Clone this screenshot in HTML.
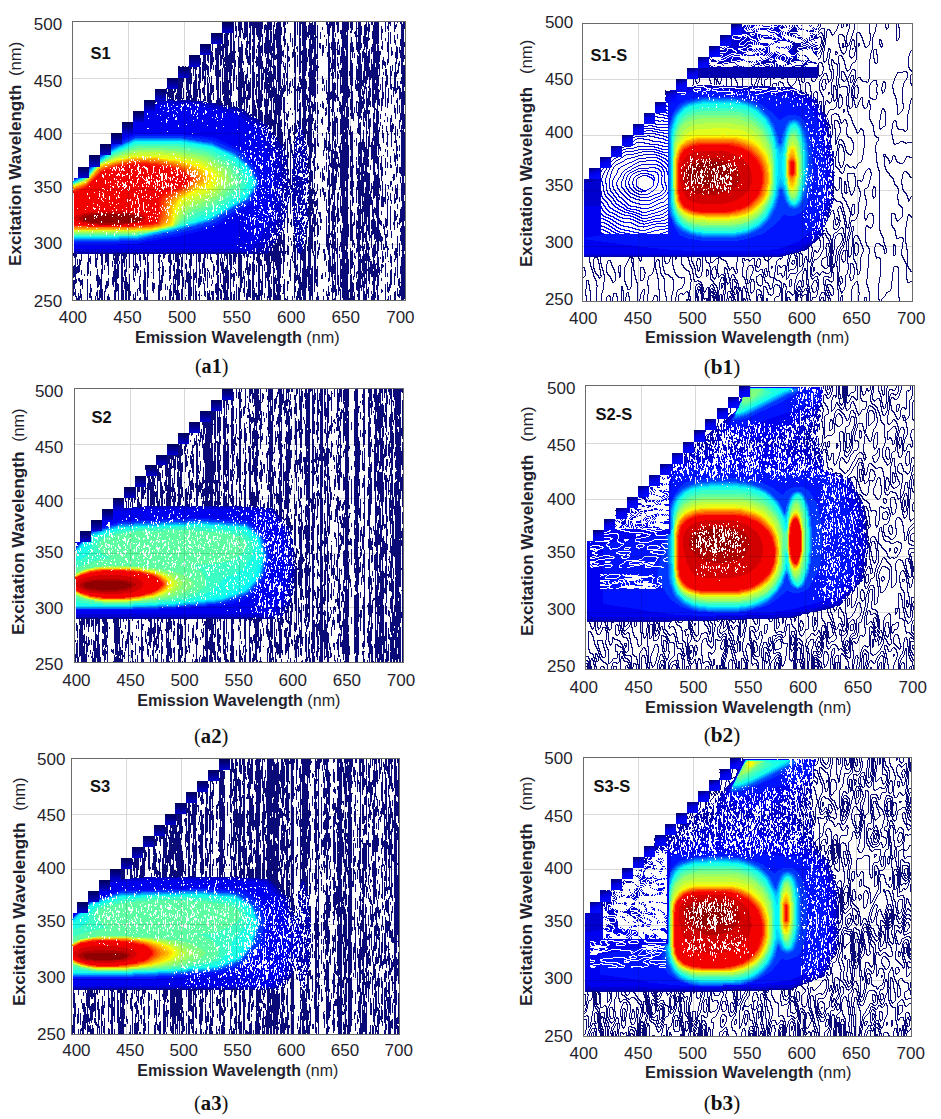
<!DOCTYPE html><html><head><meta charset="utf-8"><style>html,body{margin:0;padding:0;background:#fff;overflow:hidden}svg{display:block}text{font-family:"Liberation Sans", sans-serif;font-size:16px;fill:#1f1f2e}.lb{font-weight:bold;font-size:16.5px;fill:#111}.cp{font-family:"Liberation Serif", serif;font-size:20.5px;fill:#111}</style></head><body>
<svg width="941" height="1119" viewBox="0 0 941 1119" shape-rendering="crispEdges">
<rect width="941" height="1119" fill="#fff"/>
<defs><linearGradient id="boxg" x1="0" y1="0" x2="0.3" y2="1"><stop offset="0" stop-color="#00006a"/><stop offset=".55" stop-color="#0000e8"/><stop offset="1" stop-color="#0008ff"/></linearGradient><linearGradient id="boxa" x1="0" y1="0" x2="0" y2="1"><stop offset="0" stop-color="#00005a"/><stop offset=".5" stop-color="#000090"/><stop offset="1" stop-color="#0000d0"/></linearGradient></defs>
<svg x="73" y="22" width="332" height="278" viewBox="73 22 332 278" overflow="hidden">
<g fill-rule="evenodd">
<path fill="#0000af" d="M300.5 254.5l-2-1-2-4-1-8-1-1 0-5-1-1 0-8-1-1 0-14-1-1 0-17-1-1-1 1 0 4-1 1 0 4-1 1 0 4-1 1 0 4-1 1 0 4-1 1 0 4-1 1 0 4-1 1 0 2-14 23-195 0 0-77 60-70 8-2 1-1 2 0 1-1 3 0 1-1 2 0 4-2 3 0 1-1 11 0 1 1 19 0 1 1 11 0 1 1 4 0 1 1 9 1 1 1 4 0 1 1 4 0 1 1 9 1 1 1 2 0 4 2 7 5 3 1 5 4 8 4 2 2 4 7 2 2 0 1 3 3 0 1 7 10 0 4 1 1 0 7 1 1 0 7 1 1 0 7 1 1 0 7 1 1 1-1 0-17 1-1 0-14 1-1 0-8 1-1 0-5 1-1 1-8 2-4 2-1 3 5 1 8 1 1 0 5 1 1 0 8 1 1 0 14 1 1 0 41-1 1 0 14-1 1 0 8-1 1-1 10-1 1 0 3-3 5z"/>
<path fill="#0000d0" d="M251.5 251.5l-178 0 0-75 46.5-53 12.5-14 2-1.5 26-7 8-0.5 5 1 15 0 5 1 8 0.5 37 8 27 18 12.5 24.5 3 14 1 15-0.5 12-2.5 20-3 10-5 11-6.5 11.5-13 4.5z"/>
<path fill="#0000f1" d="M250.5 249l-177 0 0-71 20.5-22.5 0.5-1 8.5-9 0-1 9-9 0-1 8-8 0.5-1.5 8.5-8.5 0-1 4.5-4.5 2-1 11-2 1-1 3 0 1-1 3 0 1-1 3 0 1-1 11 0 1 1 19 0 1 1 11 0 1 1 3 0 1 1 4 0 1 1 3 0 1 1 4 0 1 1 3 0 1 1 4 0 1 1 6 1 9 7 1 0 3 2.5 1 0.5 3 2.5 1 0.5 3 2.5 1 0 3 3 12 37 0.5 10-1 2 0 18-1 2-0.5 10-11 27.5-1 2-9 8z"/>
<path fill="#0013ff" d="M119.5 243.5l-2 1-44 0 0-65 7-3.5 2-2 3-1 14-19.5 3-3 11-7.5 23-9.5 45 0 2 1 7 0.5 2 0.5 17 1.5 6 1 29 13.5 11.5 17 2.5 5 0.5 9-0.5 8-8 14-33 20.5-9 4-34 8-10 1-2 1-16 2.5-8 2-19 0z"/>
<path fill="#0034ff" d="M119.5 241.5l-3 0.5-43 0 0-62 12-6.5 14-17.5 8-6.5 7-4.5 20-8.5 3-0.5 43 0 3 0.5 24 3 7 1.5 23 10 5 3.5 9 10.5 4.5 8.5 2.5 9-2 7-5 9.5-4 4.5-31 18.5-6 3-38 9.5-34 6.5-19 0.5z"/>
<path fill="#0054ff" d="M118.5 240.5l-45 0 0-60.5 11-5 16-18.5 1 0 10-8 8-4 2 0 7-4 2 0 5-3 46 0 1 1 5 0 1 1 6 0 1 1 5 0 1 1 10 1 5 3 2 0 7 4 2 0 8 4 15 13 7.5 16-2.5 7-4 5-1 3-3 3-12 6-2 2-3 1-7 5-5 2-2 2-8 4-3 0-4 2-3 0-4 2-7 1-4 2-3 0-1 1-3 0-1 1-3 0-1 1-9 1-1 1-8 1-1 1-4 0-1 1-3 0-1 1-4 0-1 1-19 0-1 1z"/>
<path fill="#0075ff" d="M118.5 240l-45 0 0-59.5 11-5.5 14-16 10-8 11-6 2 0 14-7 46 0 1 1 5 0 1 1 6 0 1 1 5 0 1 1 10 1 14 7 4 1 6 3 3 3 1 0 10.5 9.5 7.5 16-2.5 7-4 5-1 3-2.5 2.5-5 2-2 2-5 2-12 8-5 2-2 2-8 4-3 0-4 2-3 0-4 2-7 1-4 2-3 0-1 1-3 0-5 2-9 1-5 2-4 0-1 1-8 1-1 1-4 0-1 1-19 0-1 1z"/>
<path fill="#0096ff" d="M118.5 239l-45 0 0-58 12-6 15-17 8-6 9-5 18-8 45 0 31 5 22 10 6 4 9.5 8.5 8 16-3 7-6.5 9.5-39 22-37 10-9 1.5-19 4.5-6 1-17 0-2 1z"/>
<path fill="#00b7ff" d="M119.5 238l-2 0.5-44 0 0-57 12.5-6 14.5-16.5 9-7 9-5 16-7 2-0.5 44 0 31 5.5 17 7 6 3 4.5 3.5 9.5 8.5 7.5 14.5 0 2-2 5-7 10-37.5 21.5-39 10.5-28 6-5 1-18 0.5z"/>
<path fill="#00d8ff" d="M117.5 237.5l-44 0 0-55 13-6.5 14.5-16.5 9.5-7 9-5 16-7 45 0 31 5 22 10 5.5 4 9 8 7.5 15-2 5-7 10.5-38 21.5-37 10-9 1.5-19 4.5-6 1-17 0-3 1z"/>
<path fill="#00f9ff" d="M118.5 237l-45 0 0-54.5 13-6 12-14 12-9.5 9-5 2 0 14-7 45 0 2 1 5 0 1 1 6 0 1 1 5 0 1 1 10 1 14 7 4 1 8 5 10.5 9.5 7 14-2 5-4 5-1 3-2.5 2.5-5 2-2 2-5 2-2 2-3 1-7 5-5 2-2 2-6 3-3 0-4 2-3 0-4 2-7 1-4 2-3 0-1 1-7 1.5-1 0.5-9 1.5-1 0.5-8 1.5-1 0.5-4 0.5-5 1.5-4 0-2 1-18 0-1 1z"/>
<path fill="#1bffe4" d="M118.5 236.5l-45 0.5 0-54 13-6 12-14 12-9.5 9-5 2 0 14-7 46 0 1 1 5 0 1 1 6 0 1 1 5 0 1 1 5 0 1 1 4 0 5 3 2 0 7 4 4 1.5 8 5 9 8.5 6 13 0.5 2-1.5 3-6 9.5-24 15-14 7-9 2.5-4 2-7 1-4 2-7 1.5-1 1-8 1-1 1-4 0-1 1-3 0-1 1-9 1-1 1-3 0-1 1-4 0-1 1-19 0-1 0.5z"/>
<path fill="#3cffc3" d="M118.5 236l-45 0 0-52.5 13-6 9.5-11 0.5-1 5-5 13-8 23-9 42 0.5 30 5.5 22 11 11 11 4.5 11-4.5 9-18 13-12.5 7-5.5 2.5-9 3-15 7.5-6 2-1 1-3 0-1 1-4 0-1 1-4 0.5-1 0.5-3 0-1 1-9 1-1 1-3 0-1 1-4 0-2 1-19 0.5z"/>
<path fill="#5dffa2" d="M118.5 234.5l-2 0.5-43 0 0-51.5 13.5-6 12.5-14.5 15-9 23-8.5 41 1 25 4.5 7 2.5 19 10 4 4 5.5 7 2 8-0.5 2-2.5 4-11.5 9.5-9 6-8 4-14 5.5-21 13.5-22 5-15 2.5-19 0z"/>
<path fill="#7eff81" d="M118.5 233.5l-45 0.5 0-50 8-3 6-3.5 12-14 12-7 10-4 17-4.5 21 0 19 1 24 5 6 1.5 18.5 11 3.5 4 4 7 1 5-1 2-14 13-13 7.5-15 5.5-4 3-14 13-23 5.5-15 1.5-18 0z"/>
<path fill="#9fff60" d="M136.5 232.5l-63 0.5 0-48.5 8-3 6-3.5 11-12.5 3-2.5 14-6.5 16-5 8-1.5 20 0 17 1.5 26 5 5 2 11 6.5 4 2.5 3 3 2.5 5 1.5 6-8.5 10-3.5 3.5-5 3-23 10-5 4.5-10 13-4 1.5-19 4-15 1.5z"/>
<path fill="#c0ff3f" d="M137.5 231.5l-64 0.5 0-46.5 14-6.5 12.5-14.5 15.5-7 16-4 8-1.5 19 0 17 1.5 26 6 5 2 11 7 4.5 4 1.5 4 0 4-8 11-7 4.5-14 5.5-8 4-5.5 6-7.5 14-22 5-14 1z"/>
<path fill="#e1ff1e" d="M141.5 230.5l-68 0.5 0-45.5 13-5 14-16 16-6 9-1.5 7-2 26-0.5 3 0.5 14 1 24 6 8 3.5 8 5.5 2.5 2.5 1 3-1 4-6 9-5.5 3-14 5.5-8.5 4.5-6 9-3 9-2.5 5-6 1-1 1-3 0-1 0.5-4 0.5-1 1-3 0-1 0.5-11 0.5z"/>
<path fill="#fffc00" d="M152.5 230l-79 0 0-44 13-5 9.5-10.5 0-1 6.5-5.5 6-1 4-2 3-0.5 1-1 10-1 1-1 4 0 1-1 26 0 1 1 7 0 1 1 7 0 1 1 4 0 1 1 7 1 4 2 7 1 4.5 2 10.5 7 1.5 2-5.5 11-14 5.5-14 7.5-6 10 0 4-1 1-0.5 6-1 1-0.5 3.5-6 1-1 1-3 0-1 1-8 1-1 1z"/>
<path fill="#ffdb00" d="M152.5 229.5l-79 0.5 0-43.5 13-5.5 9.5-10.5 0.5-1 4-4 2-1 6-1.5 1-0.5 6-1.5 1-1 10-1 1-1 4 0 1-1 26 0.5 1 1 7 0 1 1 7 0 1 1 8 1 1 1 3 0 4 2 7 2 13 9-3.5 9-19.5 9-2 2-5 2-2 2-5.5 10-1 10-1.5 5-2 1-3 0-1 1-3 0-1 1-8 1-1 1z"/>
<path fill="#ffba00" d="M152.5 228.5l-18 1-61 0 0-42.5 9-3 4-2.5 11-12.5 6-4 14-4 16-3 24 0.5 10 2 6 0 13 3.5 11 4.5 3.5 2 6.5 6-2 6-27 15.5-6 9.5-1.5 11-1.5 4-9 4.5-8 1.5z"/>
<path fill="#ff9900" d="M136.5 228.5l-63 0 0-41 10-3.5 4-2 10.5-12.5 5.5-3.5 14-4 16-3 23 0.5 21 3.5 8 2.5 11 5 6 5 1.5 3-1 2-14.5 10.5-11 5.5-6 7-1.5 4-1.5 11-1 3-8 5-8 1.5-15 0.5z"/>
<path fill="#ff7800" d="M144.5 227.5l-10 0.5-61-0.5 0-39 10-3.5 4-2.5 11-12.5 5-3 11.5-3.5 18.5-3.5 23 0.5 16 2.5 13 4 10 5.5 3 3 2 3-11 10-13 7-7 6.5-1.5 4.5-1.5 12-3 4-4 3-8 1.5-7 0.5z"/>
<path fill="#ff5700" d="M134.5 227.5l-61-0.5 0-37.5 12.5-5 4.5-4 1-2 8-8 4-2.5 12-4 19-3.5 22 1.5 16 2.5 12.5 4 10.5 7 1 2 0 1-8 9-5 3-7 3-9 7-1 2-2 14-5 8-9 2-16 1z"/>
<path fill="#ff3600" d="M135.5 226.5l-48 0.5-2-1-12 0 0-35.5 13-5.5 13-13.5 4-2.5 13-4 18-3.5 22 1.5 16 3 12 4 8.5 6.5 0.5 1-0.5 2-6.5 8-13.5 6-6.5 4-1.5 2-1 2-2 14-3 8-6.5 1.5-17 1.5z"/>
<path fill="#ff1500" d="M134.5 226.5l-47 0-1-1-13 0 0-34 13-5 14-15 4-2 5-1 3-2 3 0 1-1 10-1 1-1 4 0 1-1 17 1 2 0.5 6 0.5 14 2.5 12 4 7 6.5 0 2-5 7-18 7.5-3 2-2 2.5-1 3-0.5 9-2.5 12-1 1-4 0-1 1-17 1-1 1z"/>
<path fill="#f30000" d="M134.5 225.5l-47 0-1-0.5-13-0.5 0-32 13-5 14-15 4-2 5-1 3-2 3 0 1-1 10-1 1-1 4 0 1-1 7 0 1 1 9 0 1 1 7 0 1 1 4 0 1 1 8 1 1 1 2 0 1 1 2 0 1 1 4 1 6.5 6-4.5 7-4 1-1 1-2 0-1 1-2 0-1 1-2 0.5-9.5 4.5 0 1-3 4 0 11-1 1-0.5 11-4 0-1 1-8 0-1 1-8 0.5-1 0.5z"/>
<path fill="#d20000" d="M122.5 225l-25 0-1-0.5-8-0.5-1-1-5 0-4-2-2 0-2.5-2.5 0-1 2.5-2.5 2 0 4-2 5-0.5 1-1 8 0 1-1 25 0 1 1 8 0 1 1 5 0 1 1 5 1.5 2.5 2.5 0 1-2.5 2.5-5 1.5-1 0.5-5 0.5-1 0.5-8 0.5-1 0.5z"/>
<path fill="#b10000" d="M127.5 223.5l-4 0.5-1 0.5-25 0-2-1-6 0-6-1.5-3-2-1.5-1.5 0-1 4.5-3 15-2 23 0 9 1 9 1.5 3 1.5 1 2-3 3-3 1-10 1z"/>
<path fill="#900000" d="M126.5 223l-28 0.5-2-1-6 0-4-1-3-1-1-2 0.5-1 2.5-1.5 13-2 28 0 11 2 3 1.5 0.5 1-1.5 2-2 1-11 1.5z"/>
</g>
<path stroke="#0a0a78" stroke-width="1" fill="none" d="M73.5 28v64m0 12v6m0 2v65m0 76v3m0 10v12m0 2v16M74.5 22v15m0 5v134m0 77v5m0 7v12m0 3v9m0 3v3M75.5 22v27m0 19v14m0 6v17m0 3v15m0 7v45m0 78v31m0 5v8M76.5 22v34m0 10v16m0 2v31m0 8v41m0 3v7m0 79v4m0 10v7m0 5v4m0 13v4M77.5 30v7m0 7v6m0 4v4m0 3v6m0 9v11m0 4v27m0 2v7m0 14v2m0 9v20m0 87v6m0 1v7m0 25v2M78.5 27v8m0 8v7m0 5v10m0 13v11m0 5v8m0 1v10m0 14v12m0 5v11m0 110v8m0 5v3m0 12v7M79.5 22v12m0 7v7m0 9v12m0 3v22m0 25v1m0 7v4m0 29v9m0 90v13m0 6v4m0 14v4M80.5 41v9m0 6v7m0 14v41m0 10v12m0 5v12m0 103v5m0 15v6m0 3v9M81.5 42v8m0 5v12m0 7v12m0 10v34m0 9v9m0 15v5m0 85v8m0 9v5m0 5v5m0 9v6M82.5 43v14m0 7v5m0 13v3m0 13v3m0 9v7m0 162v10M83.5 50v2m0 30v6m0 76v1M84.5 53v10m0 6v6m0 48v11m0 13v6m0 4v7m0 110v2M85.5 92v19m0 21v5M86.5 29v2m0 10v21m0 18v3m0 8v20m0 30v10m0 4v3m0 1v3M87.5 22v18m0 4v114m0 104v14m0 3v21M88.5 52v32m0 14v3m0 20v8m0 4v8m0 12v7m0 94v20M89.5 52v2m0 12v9m0 22v2m0 41v2m0 12v4m0 100v4m0 31v5M90.5 22v10m0 4v40m0 4v58m0 8v11m0 99v8m0 7v5m0 8v14M91.5 22v2m0 13v24m0 3v8m0 6v14m0 12v10m0 4v8m0 5v4m0 7v14m0 132v4m0 4v4M92.5 22v7m0 3v13m0 7v17m0 22v7M93.5 22v2M94.5 22v3m0 42v5m0 80v1M95.5 27v16m0 15v16m0 6v30m0 10v31m0 102v14m0 29v4M96.5 28v11m0 18v1m0 24v15m0 4v17m0 2v5m0 13v12m0 108v10m0 7v6m0 11v4M97.5 22v3m0 16v8m0 11v3m0 7v7m0 28v28m0 120v7m0 9v19m0 2v10M98.5 38v6m0 26v3m0 23v12m0 17v10m0 3v1m0 136v12m0 11v2M99.5 22v4m0 21v3m0 6v12m0 1v6m0 11v21m0 5v2m0 19v7m0 137v8m0 5v10M100.5 22v9m0 6v42m0 6v29m0 6v7m0 12v6m0 108v3m0 23v19M101.5 25v119m0 109v12m0 4v31M102.5 25v12m0 6v30m0 6v29m0 2v6m0 5v15m0 117v21m0 15v11M103.5 66v1m0 35v4m0 12v8M104.5 57v15m0 18v2m0 3v31m0 9v6m0 124v5m0 21v9M105.5 22v5m0 7v5m0 17v7m0 11v27m0 5v10m0 2v8m0 127v10m0 22v7M106.5 69v45m0 139v9m0 19v8M107.5 54v5m0 9v42m0 15v3m0 125v13m0 15v7m0 8v4M108.5 33v4m0 3v10m0 7v33m0 1v36m0 6v3m0 117v22m0 3v8m0 8v6M109.5 48v4m0 14v20m0 47v2m0 162v3M110.5 35v1m0 32v4M111.5 22v2m0 54v4m0 26v14M112.5 22v12m0 9v4m0 10v1m0 20v1m0 26v1m0 5v12m0 138v6m0 10v8M113.5 22v79m0 5v17m0 130v7m0 11v16M114.5 22v99m0 132v3m0 2v6m0 1v17m0 8v10M115.5 22v84m0 4v18m0 125v47M116.5 22v31m0 4v70m0 126v11m0 5v23M117.5 22v31m0 5v68m0 127v26m0 4v8M118.5 22v37m0 6v23m0 10v27m0 128v8m0 3v14m0 6v16M119.5 34v24m0 8v4m0 26v3m0 154v3m0 5v3M120.5 22v4m0 4v28m0 5v23m0 5v8m0 6v3m0 2v1m0 9v2M121.5 22v99m0 132v47M122.5 22v82m0 8v8m0 133v3m0 3v41M123.5 22v9m0 3v26m0 3v6m0 3v36m0 2v9m0 134v10m0 14v5m0 8v10M124.5 28v11m0 3v13m0 4v59m0 135v14m0 3v6m0 5v8M125.5 22v2m0 4v24m0 8v2m0 2v52m0 137v6m0 10v31M126.5 22v93m0 138v4m0 2v13m0 5v23M127.5 44v11m0 16v7m0 1v20m0 5v9m0 169v9M128.5 22v8m0 15v8m0 4v5m0 7v6m0 5v31m0 1v1m0 171v16M129.5 22v11m0 4v20m0 5v37m0 3v10m0 141v15m0 6v26M130.5 49v4m0 10v5m0 8v5m0 4v2m0 204v5M131.5 36v5m0 4v3m0 20v2M132.5 22v4m0 27v6m0 194v1M133.5 22v5m0 2v9m0 3v17m0 6v17m0 1v25m0 146v14m0 2v11m0 14v6M134.5 25v6m0 20v3m0 15v16m0 6v15m0 147v2m0 11v5m0 7v4m0 16v2M135.5 24v14m0 7v32m0 14v7m0 155v23m0 16v8M136.5 22v2m0 9v2m0 9v6m0 11v9m0 7v7m0 7v10m0 162v5M137.5 29v9m0 23v10m0 21v8m0 153v2m0 9v9m0 16v7M138.5 50v2m0 17v2m0 8v4m0 183v4m0 18v1M139.5 22v36m0 5v19m0 10v13m0 148v8m0 15v15m0 7v2M140.5 22v21m0 2v28m0 6v10m0 4v2m0 5v5m0 150v12m0 3v7m0 7v9m0 4v3M141.5 45v4M142.5 33v2m0 17v3m0 26v6m0 15v1M143.5 27v4m0 4v69m0 149v7m0 20v14M144.5 22v59m0 4v15m0 2v2m0 149v7m0 8v32M145.5 22v40m0 8v17m0 5v3m0 162v8m0 7v28M146.5 22v5m0 18v9m0 5v9m0 30v5m0 194v3M147.5 22v70m0 3v8m0 151v33m0 3v10M148.5 49v28m0 12v4m0 160v3m0 6v16M149.5 32v3m0 26v10M150.5 59v5m0 33v1M151.5 22v25m0 15v3m0 5v2m0 26v4m0 170v1M152.5 22v5m0 7v21m0 9v7m0 5v24m0 182v9M153.5 22v8m0 3v67m0 153v26m0 4v10M154.5 44v6m0 10v5m0 20v2m0 196v6M155.5 84v4M157.5 22v8m0 9v12m0 10v5m0 15v4m0 7v3M158.5 22v52m0 11v15m0 155v8m0 5v3m0 14v15M159.5 22v77m0 154v47M160.5 25v7m0 2v18m0 9v13m0 9v16m0 156v2m0 10v1m0 12v11M161.5 46v10m0 38v5m0 161v2m0 13v15M162.5 25v9m0 13v15m0 20v17m0 163v21m0 14v3M163.5 22v9m0 8v10m0 9v10m0 11v20m0 154v6m0 7v10M164.5 42v13m0 5v7m0 186v5M165.5 22v10m0 9v24m0 5v29m0 154v2m0 15v2m0 12v6m0 6v4M166.5 30v5m0 32v9m0 12v6M167.5 29v15m0 30v3m0 15v7m0 187v4M168.5 79v18m0 158v7M169.5 22v5m0 13v9m0 5v11m0 4v30m0 154v10m0 3v8m0 1v6m0 8v11M170.5 22v8m0 2v67m0 154v26m0 6v15M171.5 22v7m0 4v6m0 7v12m0 12v30m0 160v5m0 18v2m0 6v5M172.5 63v6m0 6v5m0 4v16m0 197v3M173.5 22v61m0 8v9m0 153v7m0 5v6m0 5v24M174.5 22v8m0 3v9m0 9v20m0 12v10m0 170v16m0 5v9M175.5 25v8m0 5v16m0 4v7m0 6v21m0 3v5m0 153v9m0 12v21M176.5 22v65m0 6v7m0 153v9m0 7v11m0 10v10M177.5 22v78m0 153v47M178.5 25v45m0 2v28m0 153v33m0 4v10M179.5 22v78m0 153v2m0 4v7m0 3v16m0 8v7M180.5 22v5m0 12v7m0 4v2m0 4v6m0 10v28m0 153v4m0 13v3M181.5 22v18m0 15v9m0 7v28m0 158v19m0 13v11M182.5 22v66m0 10v2m0 153v14m0 3v30M183.5 29v9m0 24v20m0 6v11m0 178v10M185.5 32v6m0 3v29m0 193v6m0 11v9m0 8v3M186.5 22v11m0 15v4m0 8v6m0 6v18m0 2v8m0 153v7m0 4v18m0 13v1M187.5 35v8m0 17v6m0 4v23m0 3v4m0 153v1m0 18v11M188.5 25v8m0 1v15m0 12v8m0 7v24m0 153v2m0 16v29M189.5 23v35m0 5v21m0 6v10m0 153v2m0 4v9m0 5v27M190.5 26v72m0 155v47M191.5 22v11m0 12v24m0 4v11m0 11v6m0 152v13m0 10v3m0 8v9M192.5 44v13m0 41v3M193.5 28v18m0 1v29m0 6v19m0 152v3m0 13v31M194.5 29v10m0 4v4m0 8v4m0 1v9m0 11v21m0 172v7M195.5 22v6m0 3v5m0 9v56m0 152v1m0 18v6m0 7v15M196.5 22v48m0 4v27m0 152v30m0 8v9M197.5 89v8M198.5 22v9m0 7v5m0 31v4m0 3v9m0 9v2m0 153v8m0 16v10m0 6v2M199.5 22v33m0 4v39m0 155v34m0 4v9M200.5 22v22m0 14v7m0 2v16m0 6v12m0 152v9m0 7v5m0 2v9M201.5 43v7m0 226v6m0 13v1M202.5 49v5m0 8v19m0 7v5m0 170v11M203.5 22v11m0 3v12m0 6v25m0 8v8m0 4v3m0 156v10m0 10v6M204.5 22v2m0 6v41m0 5v26m0 151v24m0 6v13M205.5 22v1m0 1v61m0 11v6m0 151v5m0 10v13m0 10v6M206.5 29v3m0 7v4m0 21v6M207.5 26v10m0 6v19m0 4v10m0 2v25m0 151v6m0 9v3m0 1v16m0 3v9M208.5 22v17m0 8v16m0 3v11m0 6v20m0 167v2m0 21v7M209.5 77v6m0 10v10m0 169v6m0 12v10M210.5 22v50m0 11v20m0 150v7m0 37v3M211.5 38v1m0 12v18m0 7v19m0 5v3m0 154v5m0 13v4m0 5v2m0 5v4M212.5 27v24m0 1v13m0 20v8m0 168v2m0 17v4m0 7v9M213.5 57v5m0 3v5m0 15v7m0 1v7m0 164v13m0 14v9M214.5 266v5M215.5 22v20m0 6v12m0 5v11m0 27v1m0 180v9M216.5 22v20m0 6v42m0 10v4m0 149v2m0 5v5m0 6v4m0 8v12m0 2v3M217.5 22v82m0 149v47M218.5 22v83m0 148v20m0 2v25M219.5 22v7m0 7v19m0 15v7m0 21v7m0 183v3M220.5 27v39m0 3v8m0 4v24m0 153v8m0 7v10m0 6v10M221.5 22v18m0 6v5m0 4v10m0 36v4m0 148v5m0 4v9m0 13v3m0 3v10M222.5 33v26m0 9v27m0 8v2m0 148v1m0 4v16m0 11v4M223.5 44v13m0 1v10m0 14v12m0 2v5m0 161v31m0 5v2M224.5 34v14m0 9v5m0 2v42m0 147v8m0 8v4m0 3v24M225.5 22v3m0 6v35m0 1v39m0 147v3m0 11v33M226.5 22v84m0 147v6m0 6v18m0 7v10M227.5 22v84m0 147v47M228.5 22v13m0 5v6m0 9v17m0 8v27m0 146v1m0 16v19m0 8v3M229.5 22v9m0 22v30m0 7v5m0 3v9m0 146v12M230.5 22v85m0 146v47M231.5 22v6m0 5v43m0 7v13m0 6v5m0 148v15m0 3v6m0 13v8M232.5 51v12m0 2v4m0 205v3M233.5 22v41m0 6v22m0 11v6m0 145v12m0 2v1m0 5v14m0 7v6M234.5 41v40m0 25v2m0 145v9m0 6v1m0 4v8m0 10v9M235.5 22v9m0 4v3m0 13v2m0 7v7m0 186v11m0 5v4M236.5 26v11m0 38v14m0 12v7m0 145v4m0 15v4m0 8v16M237.5 56v1m0 30v3m0 17v1M238.5 22v9m0 5v16m0 5v50m0 147v24m0 9v13M239.5 22v15m0 10v21m0 4v37m0 144v23m0 12v12M240.5 22v16m0 9v62m0 144v39M241.5 22v8m0 11v69m0 145v33M242.5 28v5m0 11v19m0 5v20m0 9v8m0 172v6M243.5 33v6m0 22v4m0 7v31m0 6v2m0 142v3m0 15v8m0 9v5M244.5 22v18m0 31v1m0 9v30m0 142v5m0 18v21M245.5 22v16m0 10v7m0 20v9m0 7v8m0 169v5M246.5 22v15m0 4v18m0 15v17m0 6v16m0 140v4m0 4v9m0 11v6m0 6v7M247.5 22v26m0 2v13m0 4v11m0 6v7m0 4v13m0 145v22m0 14v11M248.5 41v3m0 12v9m0 15v20m0 12v2m0 140v3m0 10v30M249.5 22v6m0 5v32m0 17v18m0 5v8m0 150v12m0 4v18M250.5 22v28m0 3v21m0 4v20m0 16v1m0 141v2m0 6v7m0 9v18M251.5 22v4m0 88v2M252.5 22v13m0 4v3m0 4v16m0 3v51m0 146v38M253.5 22v95m0 136v36m0 1v10M254.5 22v37m0 13v16m0 12v17m0 136v7m0 4v11m0 13v12M255.5 22v6m0 33v2m0 26v6m0 10v13m0 175v4M256.5 22v13m0 14v4m0 3v11m0 7v29m0 6v10m0 138v4m0 4v7m0 10v5m0 6v7M257.5 22v15m0 8v3m0 9v9m0 8v3m0 4v6m0 12v9m0 145v10m0 32v5M258.5 22v18m0 2v78m0 133v47M259.5 22v99m0 132v47M260.5 22v20m0 4v23m0 21v18m0 2v11m0 132v2m0 4v7m0 13v4m0 7v6M261.5 22v15m0 8v8m0 3v51m0 3v11m0 139v6m0 15v19M262.5 22v7m0 5v22m0 5v8m0 4v17m0 4v7m0 11v10m0 131v4m0 8v30M263.5 67v13M264.5 25v8m0 10v10m0 16v4m0 9v11m0 5v9m0 8v9m0 129v8m0 3v7m0 22v5M265.5 24v6m0 7v20m0 10v22m0 10v25m0 129v8m0 11v16M266.5 25v29m0 4v67m0 129v11m0 7v6M267.5 22v42m0 4v7m0 2v16m0 6v26m0 128v28m0 15v4M268.5 22v49m0 1v11m0 1v22m0 8v12m0 127v45M269.5 22v8m0 10v13m0 6v8m0 4v27m0 12v18m0 123v26m0 3v20M270.5 22v33m0 5v28m0 2v11m0 9v19m0 120v7m0 6v12m0 13v13M271.5 22v8m0 1v12m0 3v21m0 4v60m0 117v15m0 13v8m0 5v8M272.5 43v8m0 2v5m0 8v2m0 6v8m0 5v11m0 21v7m0 120v2m0 3v10m0 6v1M273.5 25v72m0 1v15m0 7v14m0 110v56M274.5 22v5m0 7v26m0 5v14m0 7v17m0 7v25m0 110v17m0 6v5m0 4v23M275.5 29v11m0 15v5m0 6v14m0 8v49m0 104v25m0 9v9m0 9v7M276.5 23v25m0 6v5m0 21v44m0 13v1m0 105v27m0 8v14m0 3v5M277.5 22v60m0 12v21m0 8v16m0 99v43m0 3v16M278.5 22v119m0 95v64M279.5 22v69m0 4v47m0 93v11m0 5v49M280.5 22v67m0 1v26m0 4v24m0 89v45m0 6v8m0 3v5M281.5 27v8m0 10v19m0 22v24m0 9v8m0 2v16m0 86v13m0 4v5m0 5v6m0 22v1M282.5 51v5m0 5v1m0 17v6m0 3v9m0 35v15m0 81v2m0 10v7m0 4v5m0 20v2m0 15v1M283.5 22v5m0 9v5m0 9v7m0 5v5m0 6v5m0 7v9m0 3v16m0 31v2m0 84v44m0 10v10M284.5 22v25m0 19v4m0 3v19m0 5v39m0 6v8m0 68v10m0 6v28m0 17v21M285.5 22v3m0 3v5m0 6v6m0 10v3m0 5v10m0 12v6m0 21v1m0 9v4m0 13v13m0 99v3m0 44v2M286.5 73v5m0 3v4m0 28v7m0 131v1m0 47v1M287.5 22v2m0 19v53m0 7v1m0 10v7m0 2v6m0 9v33m0 35v27m0 12v10m0 7v4m0 15v10m0 5v4M288.5 46v5m0 5v6m0 27v2m0 20v6m0 12v11m0 12v6m0 11v10m0 39v5m0 13v6m0 4v9m0 26v3M289.5 57v4m0 3v3m0 16v11m0 35v15m0 35v7m0 84v7M290.5 33v9m0 39v6m0 21v2m0 17v6m0 3v51m0 5v22m0 8v3m0 13v2m0 19v22M291.5 91v2m0 51v9m0 32v2m0 32v8m0 14v5m0 10v2M292.5 38v9m0 5v6m0 21v7m0 27v2m0 10v6m0 19v8m0 94v9m0 35v4M293.5 49v8m0 29v2m0 44v3m0 6v2m0 90v9m0 2v8m0 9v2M294.5 22v51m0 4v33m0 13v22m0 90v33m0 5v25M295.5 22v24m0 6v87m0 106v38m0 3v6M296.5 47v2m0 40v2m0 34v6m0 134v6m0 4v6m0 15v4M297.5 22v13m0 11v6m0 3v12m0 19v26m0 8v4m0 126v10m0 4v16m0 11v9M298.5 83v8m0 18v2m0 10v6m0 148v9m0 4v10M299.5 22v53m0 1v6m0 5v13m0 3v23m0 147v27M300.5 22v14m0 2v35m0 3v9m0 2v6m0 9v24m0 128v19m0 4v23M301.5 22v2m0 27v4m0 6v2m0 16v10m0 38v1m0 124v8m0 22v8m0 7v3M302.5 22v24m0 4v57m0 11v12m0 120v11m0 7v28M303.5 22v112m0 112v54M304.5 22v117m0 102v59M305.5 22v54m0 3v66m0 90v65M306.5 26v14m0 8v23m0 10v8m0 5v6m0 6v5m0 8v7m0 3v5m0 14v6m0 72v18m0 25v19M307.5 32v5m0 20v5m0 33v11m0 12v4m0 9v14m0 17v7m0 42v3m0 9v5m0 18v5m0 15v11M308.5 25v13m0 11v8m0 15v5m0 10v4m0 7v5m0 2v7m0 3v32m0 9v32m0 9v24m0 16v54M309.5 22v13m0 4v27m0 2v101m0 3v113m0 1v14M310.5 23v79m0 4v80m0 1v83m0 4v26M311.5 23v17m0 4v51m0 6v7m0 6v44m0 12v12m0 7v22m0 1v4m0 9v24m0 19v28M312.5 22v31m0 6v6m0 5v27m0 5v22m0 5v1m0 13v9m0 9v2m0 8v25m0 3v15m0 4v35m0 13v34M313.5 25v24m0 8v39m0 8v8m0 6v3m0 10v7m0 6v3m0 11v8m0 22v6m0 5v5m0 4v16m0 3v5m0 19v5M314.5 22v13m0 2v74m0 12v7m0 8v16m0 2v23m0 4v5m0 2v10m0 1v6m0 7v23m0 4v10m0 4v37M315.5 22v55m0 2v19m0 4v12m0 6v11m0 7v20m0 9v4m0 21v4m0 5v6m0 7v12m0 9v1m0 5v42M316.5 36v2m0 16v5m0 6v6m0 56v1m0 63v3m0 6v6m0 3v5m0 8v3m0 44v8m0 2v7m0 11v3M317.5 25v34m0 1v21m0 3v10m0 8v22m0 1v8m0 1v12m0 17v7m0 14v7m0 7v12m0 8v19m0 3v4m0 7v8m0 7v21m0 5v8M318.5 66v2m0 42v4m0 29v4m0 19v3m0 43v2m0 11v10m0 12v8m0 41v4M319.5 43v5m0 164v5m0 26v7M320.5 32v7m0 4v6m0 55v3m0 65v6m0 11v8m0 15v11m0 3v4M321.5 119v4m0 96v4m0 52v4M322.5 27v3m0 15v11m0 20v8m0 4v3m0 10v7m0 9v8m0 8v3m0 32v14m0 5v5m0 81v6M323.5 45v8m0 26v5m0 19v6m0 41v6m0 17v7m0 8v7m0 54v4m0 36v3m0 4v4M324.5 35v2m0 48v6m0 47v13m0 15v4m0 6v5m0 11v9m0 48v12M325.5 47v1m0 60v3m0 1v4m0 24v8m0 44v5m0 57v6m0 12v5M326.5 22v3m0 14v7m0 34v14m0 4v2m0 7v8m0 17v19m0 2v7m0 2v10m0 27v12m0 5v31m0 14v5m0 25v5M327.5 22v12m0 18v5m0 35v12m0 23v3m0 17v3m0 28v9m0 23v3m0 21v16m0 44v6M328.5 24v110m0 7v18m0 6v20m0 5v16m0 2v15m0 2v30m0 5v12m0 6v4m0 4v10m0 1v3M329.5 22v14m0 7v89m0 1v19m0 4v10m0 4v68m0 5v38m0 11v4M330.5 22v6m0 19v1m0 9v6m0 5v4m0 20v8m0 7v1m0 14v4m0 18v7m0 12v4m0 17v3m0 11v7m0 28v2m0 5v5m0 11v16m0 13v1M331.5 22v4m0 16v8m0 13v6m0 4v3m0 15v8m0 10v3m0 38v18m0 5v13m0 8v5m0 12v10m0 10v6m0 7v4m0 18v11m0 11v4M332.5 22v94m0 2v82m0 5v95M333.5 22v33m0 4v10m0 3v7m0 4v29m0 9v20m0 8v5m0 4v37m0 7v28m0 4v15m0 4v6m0 5v10m0 7v12m0 6v1M334.5 22v10m0 6v34m0 10v19m0 11v24m0 5v7m0 3v18m0 7v46m0 3v14m0 2v33m0 1v5m0 5v7m0 6v2M335.5 33v4m0 5v36m0 5v7m0 3v9m0 15v20m0 2v32m0 3v16m0 16v4m0 6v11m0 5v19m0 11v38M336.5 22v3m0 24v1m0 45v3m0 18v7m0 21v3m0 4v8m0 3v21m0 30v4m0 31v6m0 35v7M337.5 22v11m0 9v13m0 2v9m0 5v30m0 7v4m0 6v26m0 8v7m0 5v8m0 21v31m0 3v6m0 5v47M338.5 22v10m0 7v5m0 6v5m0 8v6m0 5v5m0 18v4m0 45v2m0 9v10m0 5v5m0 15v8m0 8v14m0 53v20M339.5 45v10m0 15v3m0 28v5m0 1v5m0 34v7m0 10v5m0 19v3m0 28v3m0 25v5m0 3v4m0 29v4M340.5 30v4m0 22v9m0 5v24m0 8v12m0 5v16m0 8v45m0 8v17m0 12v8m0 9v5m0 12v28m0 2v11M341.5 30v9m0 8v16m0 5v9m0 8v8m0 12v29m0 2v8m0 6v46m0 10v10m0 15v21m0 7v7m0 3v10m0 3v6M342.5 22v71m0 3v127m0 5v70M343.5 22v89m0 4v185M344.5 22v26m0 3v79m0 2v168M345.5 22v28m0 6v51m0 10v22m0 3v39m0 6v4m0 6v49m0 4v9m0 4v37M346.5 22v10m0 3v68m0 3v194M347.5 22v106m0 2v119m0 3v48M348.5 22v8m0 56v12m0 9v10m0 2v11m0 15v23m0 6v5m0 28v2m0 15v13m0 22v15m0 16v10M349.5 71v5m0 13v8m0 33v5m0 154v3m0 6v2M350.5 22v6m0 3v2m0 10v42m0 7v1m0 6v11m0 3v3m0 10v24m0 6v21m0 4v8m0 2v4m0 5v41m0 7v26m0 1v25M351.5 22v11m0 4v15m0 8v59m0 13v30m0 4v30m0 14v31m0 10v18m0 5v26M352.5 22v8m0 12v16m0 5v23m0 5v28m0 12v75m0 6v4m0 8v23m0 3v18m0 14v18M353.5 47v5m0 61v8m0 44v3m0 13v6m0 10v6m0 19v4m0 14v5m0 17v3m0 11v4m0 3v9m0 4v4M354.5 32v2m0 19v5m0 49v6m0 27v2m0 71v12m0 18v5m0 5v5m0 7v12m0 15v8M355.5 31v6m0 43v9m0 167v3M356.5 22v28m0 16v14m0 4v7m0 10v12m0 25v8m0 11v3m0 1v14m0 12v16m0 17v19m0 9v5m0 19v6m0 4v8M357.5 28v1m0 6v2m0 5v10m0 3v9m0 5v22m0 10v2m0 9v4m0 12v5m0 35v6m0 1v4m0 2v9m0 17v8m0 6v8m0 4v19m0 19v3m0 5v12m0 3v3M358.5 22v32m0 2v25m0 2v14m0 5v32m0 9v22m0 3v36m0 1v95M359.5 22v97m0 4v12m0 7v12m0 2v50m0 3v48m0 2v41M360.5 22v28m0 3v65m0 4v45m0 5v3m0 5v49m0 2v9m0 5v6m0 3v34M361.5 26v9m0 8v5m0 16v25m0 7v17m0 3v4m0 22v54m0 13v5m0 12v7m0 13v2m0 11v4m0 8v8m0 6v6M362.5 51v11m0 18v6m0 3v6m0 2v2m0 2v8m0 30v11m0 13v42m0 1v45m0 5v15m0 2v14M363.5 36v8m0 5v9m0 13v16m0 4v17m0 4v14m0 4v22m0 5v17m0 2v21m0 4v11m0 10v20m0 4v31m0 4v19M364.5 25v25m0 2v31m0 3v8m0 5v5m0 4v10m0 4v5m0 15v23m0 6v11m0 11v33m0 7v5m0 6v5m0 5v34m0 3v9M365.5 24v23m0 6v18m0 5v13m0 21v11m0 26v35m0 5v37m0 8v10m0 8v11m0 2v11m0 4v6m0 10v6M366.5 22v13m0 2v47m0 3v213M367.5 27v4m0 6v12m0 7v24m0 18v16m0 17v3m0 15v18m0 5v45m0 8v6m0 10v9m0 3v8m0 8v2m0 18v5M368.5 22v19m0 10v26m0 9v2m0 3v16m0 3v19m0 7v21m0 2v8m0 6v62m0 8v38m0 6v11M369.5 24v8m0 6v2m0 9v14m0 4v38m0 5v4m0 5v28m0 26v18m0 3v47m0 6v3m0 6v6m0 5v17M370.5 70v10m0 8v9m0 4v6m0 11v9m0 18v2m0 18v5m0 21v14m0 30v3m0 21v1m0 1v13M371.5 22v3m0 22v7m0 5v19m0 64v18m0 23v10m0 4v8m0 15v9m0 2v17m0 13v16m0 14v3m0 2v4M372.5 22v3m0 6v8m0 5v8m0 12v43m0 31v21m0 27v3m0 11v17m0 2v16m0 13v9m0 7v13m0 4v4m0 9v6M373.5 25v83m0 5v28m0 4v30m0 6v18m0 10v25m0 11v24m0 2v29M374.5 22v68m0 4v25m0 3v11m0 3v62m0 9v6m0 6v21m0 4v14m0 2v40M375.5 22v41m0 4v13m0 3v20m0 5v2m0 13v40m0 9v24m0 12v7m0 6v18m0 2v15m0 8v17m0 11v6M376.5 22v22m0 7v49m0 9v55m0 11v43m0 9v15m0 9v3m0 9v2m0 4v8m0 8v5M377.5 22v124m0 10v13m0 5v126M378.5 22v22m0 1v24m0 6v11m0 3v16m0 6v13m0 6v25m0 2v39m0 1v54m0 6v16m0 2v11m0 9v5M379.5 51v11m0 2v12m0 14v2m0 7v7m0 21v5m0 12v5m0 7v1m0 21v10m0 6v6m0 18v6m0 6v11m0 26v8M380.5 51v4m0 29v6m0 24v5m0 3v4m0 21v4m0 12v7m0 15v6m0 29v5m0 8v9m0 15v2m0 11v1M381.5 26v14m0 6v3m0 49v13m0 45v25m0 15v11m0 4v4m0 6v5m0 10v14m0 14v9m0 5v3m0 8v4M382.5 29v4m0 8v9m0 10v9m0 8v29m0 19v4m0 1v8m0 29v9m0 5v26m0 30v4m0 10v12m0 1v4m0 22v2M383.5 57v8m0 7v3m0 17v7m0 34v10m0 12v1m0 41v10m0 17v5m0 15v6m0 6v6m0 3v2M384.5 61v5m0 54v2m0 75v5m0 24v9m0 12v3M385.5 22v10m0 6v3m0 21v6m0 1v7m0 5v26m0 6v3m0 33v3m0 6v10m0 3v4m0 9v20m0 14v9m0 7v14m0 4v7m0 4v14m0 7v16M386.5 69v18m0 39v6m0 10v3m0 74v9m0 6v4m0 3v7M387.5 26v3m0 13v10m0 7v6m0 10v10m0 13v10m0 9v5m0 9v16m0 3v7m0 5v6m0 17v1m0 6v4m0 3v27m0 4v7m0 9v11m0 16v4m0 5v10m0 7v1M388.5 22v9m0 1v31m0 25v15m0 31v1m0 50v4m0 7v4m0 48v2m0 11v1m0 25v6m0 3v4M389.5 22v2m0 260v7M390.5 22v4m0 6v12m0 22v23m0 29v14m0 24v7m0 1v4m0 13v6m0 6v8m0 5v24m0 24v9m0 7v18m0 7v5M391.5 47v9m0 15v5m0 8v6m0 5v9m0 11v7m0 3v22m0 18v3m0 13v4m0 15v4m0 27v7m0 18v11m0 2v16M392.5 51v4m0 10v6m0 16v1m0 35v9m0 45v1m0 9v4m0 52v6M393.5 87v10m0 27v5m0 20v2m0 23v7m0 41v3M394.5 22v10m0 3v8m0 29v19m0 14v8m0 20v2m0 6v2m0 10v9m0 12v6m0 14v10m0 6v20m0 21v4m0 4v3m0 11v12m0 7v8M395.5 25v4m0 11v5m0 7v6m0 4v32m0 14v11m0 7v17m0 12v11m0 19v9m0 4v5m0 8v10m0 27v12m0 7v9m0 15v9M396.5 24v3m0 19v18m0 8v5m0 11v5m0 7v3m0 37v19m0 8v10m0 11v12m0 16v4m0 28v10M397.5 22v1m0 11v5m0 8v12m0 11v4m0 7v9m0 8v16m0 15v7m0 10v5m0 3v7m0 3v9m0 11v15m0 5v5m0 5v3m0 5v6m0 8v16m0 1v25m0 10v8M398.5 63v10m0 13v3m0 134v1m0 55v7m0 8v3M399.5 47v6m0 8v5m0 20v14m0 5v8m0 7v9m0 7v2m0 7v6m0 3v3m0 10v6m0 24v5m0 16v7m0 18v13m0 22v10m0 2v8M400.5 22v2m0 15v7m0 4v8m0 23v3m0 4v11m0 14v9m0 8v2m0 35v7m0 3v6m0 26v14m0 5v4m0 3v6m0 25v8m0 8v1m0 3v10M401.5 22v52m0 3v7m0 8v28m0 5v51m0 7v18m0 6v15m0 4v19m0 5v1m0 6v43M402.5 24v105m0 1v170M403.5 22v40m0 3v235M404.5 22v7m0 13v5m0 8v4m0 6v22m0 4v14m0 9v15m0 3v44m0 7v12m0 6v20m0 5v25m0 3v45"/>
<path stroke="#fff" stroke-width="1" fill="none" d="M77.5 208v1M78.5 226v1m0 3v2M79.5 223v1M80.5 226v1M85.5 182v1m0 26v1m0 8v2M87.5 193v2m0 11v1m0 20v1M88.5 224v1M89.5 186v1m0 10v2M90.5 235v1M92.5 224v1m0 6v2M93.5 203v1m0 3v2m0 16v1M94.5 192v1m0 15v2m0 5v2m0 1v1M95.5 208v1m0 6v1M96.5 180v2m0 34v2m0 10v1M97.5 204v2m0 9v1M98.5 165v1m0 32v1m0 12v2M99.5 191v1m0 1v4m0 9v1m0 1v2M101.5 198v2m0 12v4m0 5v2M102.5 174v3m0 11v1m0 3v1m0 2v1m0 4v1m0 12v2M103.5 175v3m0 10v1m0 4v5m0 3v1m0 29v1M104.5 170v1m0 18v1m0 18v2M105.5 162v1m0 3v1m0 6v2m0 5v4m0 14v1m0 15v2M106.5 166v1m0 45v1m0 19v3M107.5 190v1M108.5 163v1m0 18v1M109.5 174v2m0 20v4m0 2v1M110.5 168v1m0 12v2m0 2v1m0 2v3m0 14v1M111.5 173v1M112.5 169v2m0 2v1m0 12v1m0 15v2m0 6v1m0 2v1m0 2v1m0 8v1M113.5 167v2m0 17v2m0 24v2M114.5 167v3m0 8v2m0 14v1m0 12v1m0 16v2m0 7v3M115.5 169v2m0 12v1M116.5 166v3m0 6v1m0 3v1m0 11v2m0 4v2m0 5v1m0 4v2m0 18v1m0 1v2M117.5 174v2m0 5v1m0 1v3m0 39v1m0 5v1M118.5 167v1m0 5v2m0 6v2m0 3v2m0 7v3m0 5v1m0 10v2m0 4v3M119.5 168v3m0 3v2m0 10v1m0 5v2m0 3v1m0 16v1m0 13v2M120.5 172v1m0 6v1m0 4v1m0 40v2M121.5 166v2m0 1v2m0 19v1m0 25v1M122.5 158v1m0 2v5m0 2v2m0 4v3m0 5v2m0 2v1m0 2v1m0 19v1M123.5 168v3m0 4v1m0 7v4m0 25v1M124.5 166v1m0 3v1m0 4v1m0 8v2m0 1v2m0 23v4M125.5 182v6M126.5 174v1m0 10v2m0 20v1m0 2v3M127.5 163v1m0 9v2m0 6v1m0 7v1m0 9v3m0 26v2M128.5 190v1m0 33v1M129.5 157v1m0 3v2m0 2v3m0 7v4m0 7v4m0 10v1m0 13v1M130.5 162v1m0 18v2m0 16v2m0 11v1M131.5 159v2m0 8v4m0 1v2m0 5v3m0 21v3m0 3v2m0 5v5M132.5 169v1m0 3v1m0 5v1m0 21v4m0 6v1m0 21v1M133.5 159v2m0 22v4M134.5 152v1m0 8v1m0 3v1m0 27v4m0 11v5m0 7v1m0 3v2m0 7v2M135.5 161v4m0 5v1m0 14v1m0 8v1m0 6v3m0 9v2m0 1v2M136.5 176v1m0 6v1m0 7v1m0 7v1m0 16v1M137.5 157v1m0 2v1m0 6v3m0 5v2m0 2v4m0 12v4m0 9v1m0 4v3M138.5 164v8m0 1v2m0 3v2m0 6v1m0 6v1m0 4v6m0 3v10m0 4v2M139.5 120v2m0 39v1m0 4v1m0 4v3m0 16v1m0 13v3m0 4v1m0 14v2M140.5 169v5m0 2v1m0 40v1m0 3v1m0 11v1M141.5 190v3m0 24v1m0 8v1M142.5 156v2m0 9v1m0 8v2m0 6v3m0 9v2M143.5 156v4m0 6v1m0 5v2m0 4v1m0 7v1m0 15v8M144.5 166v2m0 11v1m0 3v1m0 12v1m0 13v2M145.5 107v1m0 49v3m0 7v2m0 11v1m0 8v2M146.5 107v2m0 58v3m0 7v4m0 1v2m0 1v2m0 7v2m0 2v1m0 7v2m0 3v2M147.5 113v2m0 13v1m0 28v1m0 10v5m0 6v4m0 28v1M148.5 102v1m0 15v1m0 9v1m0 45v1m0 1v3m0 2v3m0 2v1m0 17v2m0 10v1m0 1v1M149.5 177v2m0 2v4m0 13v1m0 12v1m0 8v2M150.5 156v2m0 2v1m0 35v2m0 1v1m0 16v2M151.5 108v1m0 66v4m0 1v2m0 38v1M152.5 103v1m0 69v1m0 23v1m0 9v2m0 7v1M153.5 166v7m0 5v1m0 6v2m0 26v1M154.5 101v3m0 4v2m0 50v1m0 5v1m0 14v2M155.5 99v1m0 3v1m0 68v1m0 10v2m0 1v3m0 4v3m0 7v2m0 3v3m0 2v1m0 3v2M156.5 102v2m0 71v1m0 3v3m0 8v1m0 6v1m0 22v2M157.5 114v1m0 60v2m0 3v6m0 2v2m0 24v1m0 2v1M158.5 158v2m0 21v1m0 14v1M159.5 154v1m0 14v5m0 3v1m0 2v2m0 2v2m0 4v2m0 20v2M160.5 107v1m0 7v1m0 51v1m0 6v2m0 14v1m0 16v1M161.5 105v1m0 15v1m0 51v8m0 6v1m0 4v2m0 14v2M162.5 165v1m0 7v8m0 1v7m0 16v2m0 3v1M163.5 110v1m0 55v4m0 17v3M164.5 105v2m0 55v1m0 10v2m0 4v1m0 1v1m0 4v2m0 19v2M165.5 175v4m0 3v3m0 24v2M166.5 99v2m0 18v4m0 38v3m0 2v2m0 5v7m0 3v5m0 4v2m0 4v2m0 2v1m0 5v1m0 5v1m0 6v2M167.5 103v4m0 4v1m0 8v1m0 10v1m0 33v1m0 19v1m0 12v1m0 2v1m0 4v3m0 1v3m0 6v2m0 11v1M168.5 107v2m0 1v2m0 5v1m0 59v1m0 5v4m0 15v1m0 4v2m0 3v4M169.5 178v1m0 17v1m0 9v2M170.5 98v1m0 66v2m0 10v4m0 4v2m0 13v5M171.5 106v1m0 61v2m0 1v3m0 9v11m0 3v2m0 5v1m0 9v1M172.5 110v1m0 61v2m0 4v2m0 4v2m0 3v1M173.5 104v1m0 9v3m0 36v2m0 21v2m0 18v1m0 8v1m0 1v1m0 8v1M174.5 109v1m0 60v1m0 6v1m0 8v3m0 3v1M175.5 100v1m0 14v1m0 2v2m0 37v1m0 14v1m0 7v1m0 2v2m0 3v1m0 7v1m0 13v3M176.5 99v2m0 5v1m0 4v1m0 5v3m0 38v1m0 8v3m0 4v2m0 4v2m0 2v1m0 7v6M177.5 106v1m0 5v1m0 51v1m0 3v8m0 2v2m0 4v2m0 7v1m0 18v3m0 15v1M178.5 125v2m0 40v2m0 5v1m0 32v2m0 2v1M179.5 158v1m0 22v1M180.5 108v1m0 52v2m0 7v2m0 9v1m0 12v1m0 7v2M181.5 104v2m0 1v4m0 61v2m0 33v1M182.5 105v2m0 71v2m0 5v2m0 11v2m0 6v5M183.5 104v2m0 56v1m0 9v5m0 6v1m0 5v1m0 15v1m0 6v2M184.5 180v2m0 3v2m0 20v1m0 5v2M185.5 159v1m0 16v3m0 6v3m0 21v1M186.5 103v2m0 5v1m0 13v1m0 38v2m0 10v1m0 1v1m0 13v1m0 6v1m0 1v1m0 23v1M187.5 105v2m0 62v5m0 6v2m0 5v2m0 26v2m0 1v1m0 5v1M188.5 104v3m0 42v1m0 21v4m0 7v5m0 3v1m0 8v1m0 26v1M189.5 167v2M190.5 106v2m0 56v4m0 2v2m0 1v2m0 1v1m0 4v5m0 14v1m0 4v2m0 8v1M191.5 110v4m0 45v2m0 4v1m0 7v4m0 5v3m0 4v2M192.5 133v1m0 37v6m0 5v3m0 11v2m0 4v5m0 5v2M193.5 103v1m0 11v1m0 4v1m0 50v1m0 3v2m0 2v2m0 7v1m0 2v1m0 8v1m0 13v1M194.5 112v2m0 52v1m0 3v8m0 2v2M195.5 104v2m0 4v2m0 58v2m0 3v2m0 6v5M196.5 115v1m0 47v1m0 9v2m0 3v2m0 3v1m0 21v1M197.5 104v2m0 2v2m0 3v2m0 2v2m0 47v3m0 2v4m0 4v2m0 4v2m0 17v1M198.5 104v3m0 56v1m0 14v1m0 14v1M199.5 168v1m0 8v3m0 6v2m0 6v1M200.5 175v2m0 11v1m0 6v3M201.5 186v2M202.5 120v2m0 65v2M203.5 102v1m0 10v2m0 54v1m0 3v2m0 2v2M204.5 101v1m0 4v1m0 72v4m0 5v1M205.5 101v1m0 1v1m0 6v4m0 56v6m0 5v2m0 1v5m0 10v1m0 11v1m0 6v1M206.5 111v2m0 54v1m0 2v12m0 7v2m0 3v1m0 4v1m0 3v4m0 3v3m0 1v2m0 11v2M207.5 102v1m0 22v1m0 40v1m0 4v4m0 24v2m0 5v1M208.5 163v1m0 13v3m0 3v1m0 10v1m0 3v1m0 20v1M209.5 200v1M210.5 162v3m0 25v1m0 2v2M211.5 164v2m0 6v3m0 4v2m0 10v2m0 2v2M212.5 117v1m0 55v4m0 3v2m0 20v3m0 5v2m0 7v1M213.5 110v1m0 73v1m0 19v8m0 3v1m0 10v1M214.5 160v1m0 1v1m0 14v2m0 13v1M215.5 118v1m0 47v1m0 7v1m0 10v2M216.5 109v1m0 4v3m0 10v2m0 51v2m0 24v2m0 1v2M217.5 117v1m0 2v1m0 56v4m0 2v3m0 8v1m0 10v2M218.5 156v1m0 3v2m0 6v3m0 2v1m0 8v1m0 32v2M219.5 178v1m0 4v1m0 16v1m0 6v1M220.5 168v3m0 25v5M221.5 119v1m0 42v2m0 3v1m0 9v9m0 4v1m0 13v1m0 5v4M222.5 113v5m0 49v1m0 12v5m0 12v3M223.5 106v1m0 19v1m0 77v1M224.5 155v1m0 7v1m0 17v8m0 20v1M225.5 106v1m0 5v1m0 56v8m0 1v4m0 4v1m0 35v2M226.5 161v1m0 9v3m0 31v2m0 3v5M227.5 105v4m0 53v3m0 1v2m0 17v1m0 10v1m0 10v1M228.5 160v1m0 2v2m0 26v1m0 10v1m0 15v1M229.5 183v3M231.5 175v3m0 4v2M232.5 161v2m0 14v1m0 4v3m0 9v2m0 21v2M233.5 168v2m0 3v1m0 7v2m0 15v1m0 3v2M234.5 111v2m0 49v1m0 3v2m0 2v1m0 8v2m0 8v2m0 4v3M235.5 157v1m0 18v2m0 3v3m0 6v2m0 5v1m0 11v1M236.5 146v1m0 20v2m0 1v4m0 5v7m0 2v2m0 1v5m0 10v2m0 2v3M237.5 111v2m0 16v1m0 39v4m0 8v2m0 14v4m0 6v1m0 4v2m0 31v1M238.5 112v3m0 56v2m0 42v1M239.5 112v1m0 43v1m0 11v2m0 6v2m0 3v3m0 3v11m0 2v3m0 3v1m0 6v1m0 23v1M240.5 147v3m0 25v1m0 4v3m0 30v2m0 5v1m0 26v1M241.5 169v1m0 6v1m0 2v2m0 24v1m0 41v1M242.5 111v1m0 41v1m0 3v2m0 7v1m0 6v2m0 28v2M243.5 167v2m0 23v2m0 6v1m0 13v2M244.5 151v1m0 1v2m0 25v2m0 11v2m0 9v3m0 14v1m0 5v2M245.5 134v2m0 6v2m0 11v2m0 6v3m0 6v1m0 1v4m0 5v1m0 14v2m0 5v1m0 23v1m0 17v2M246.5 121v1m0 41v2m0 2v2m0 2v2m0 2v1m0 5v1m0 34v1m0 3v4m0 19v1M247.5 150v2m0 24v6m0 7v1m0 2v1m0 37v2m0 19v3M248.5 122v2m0 93v1M249.5 113v2m0 16v3m0 6v2m0 3v1m0 12v2m0 10v3m0 3v1m0 14v3m0 20v2M250.5 131v2m0 8v4m0 5v3m0 2v2m0 12v2m0 3v2m0 21v4m0 16v5M251.5 116v1m0 3v1m0 30v1m0 3v4m0 4v1m0 6v6m0 48v2m0 4v2m0 9v3M252.5 137v1m0 32v1m0 7v1m0 6v1m0 32v2m0 30v1M253.5 181v3m0 15v1m0 17v2M254.5 116v2m0 6v1m0 1v1m0 8v4m0 13v2m0 4v3m0 11v2m0 6v1m0 2v3m0 2v5m0 2v2m0 4v5m0 3v1m0 5v1m0 1v1m0 1v6m0 4v6M255.5 117v1m0 5v3m0 3v2m0 16v1m0 9v2m0 8v2m0 11v3m0 10v2m0 1v2m0 5v1m0 7v1m0 3v1m0 2v2m0 8v5m0 7v1m0 7v4M256.5 125v3m0 5v2m0 6v1m0 5v1m0 13v4m0 12v2m0 10v2m0 5v4m0 2v3m0 31v1M257.5 184v1m0 33v1m0 18v2M258.5 161v1m0 2v2m0 14v2m0 1v1m0 3v1m0 23v1m0 2v1m0 5v1m0 10v3M259.5 126v1m0 24v1m0 3v2m0 8v1m0 33v1m0 9v1m0 2v1m0 8v2m0 5v1M260.5 122v1m0 2v2m0 8v1m0 20v2m0 6v5m0 5v1m0 13v1m0 12v1m0 2v1m0 4v2m0 10v2m0 5v3m0 10v1m0 10v1M261.5 128v2m0 8v2m0 26v4m0 9v6m0 5v2m0 5v2m0 5v1m0 1v2m0 14v1M262.5 127v1m0 1v5m0 4v2m0 3v1m0 4v1m0 2v2m0 4v3m0 2v1m0 2v3m0 3v1m0 3v2m0 1v2m0 7v1m0 4v2m0 13v2m0 7v1m0 2v1m0 1v2m0 26v1M263.5 122v2m0 3v1m0 5v2m0 16v1m0 27v1m0 7v1m0 8v2m0 13v3m0 27v1M264.5 126v1m0 2v1m0 63v1m0 19v1m0 8v6m0 11v3m0 6v3M265.5 133v1m0 2v1m0 9v2m0 32v2m0 7v2m0 7v1m0 15v1m0 3v2m0 12v1m0 11v4M266.5 128v1m0 1v2m0 4v5m0 5v2m0 15v2m0 49v1m0 10v2M267.5 127v1m0 5v4m0 24v1m0 15v1m0 1v2m0 10v1m0 18v1m0 4v1m0 5v1m0 19v1M268.5 125v2m0 2v4m0 6v2m0 11v1m0 8v6m0 7v2m0 2v2m0 3v2m0 3v1m0 2v1m0 1v1m0 5v1m0 2v5m0 4v2m0 5v3m0 19v1m0 1v4M269.5 129v2m0 11v1m0 37v3m0 19v2m0 3v2m0 1v3m0 1v1m0 33v3M270.5 130v1m0 25v4m0 47v6m0 15v2m0 1v2m0 5v3M271.5 129v4m0 5v3m0 2v2m0 2v1m0 10v2m0 2v2m0 1v2m0 5v2m0 2v2m0 10v6m0 16v2m0 1v2m0 2v1m0 15v1m0 3v3m0 6v1M272.5 135v3m0 1v5m0 1v1m0 13v4m0 4v4m0 4v1m0 1v3m0 2v7m0 9v3m0 9v1m0 6v4m0 5v2m0 5v4M273.5 140v2m0 3v2m0 4v6m0 2v1m0 12v1m0 2v2m0 4v1m0 4v4m0 10v1m0 4v3m0 3v1m0 3v1m0 5v1m0 11v1m0 2v3m0 4v2M274.5 135v1m0 2v4m0 3v2m0 6v8m0 7v2m0 19v3m0 12v1m0 5v1m0 1v3m0 1v3m0 16v3m0 2v1M275.5 136v2m0 11v1m0 8v1m0 35v2m0 39v4M276.5 140v1m0 9v2m0 12v1m0 15v1m0 7v3m0 11v1m0 10v7m0 5v3M277.5 150v2m0 5v1m0 11v4m0 23v2m0 14v2m0 13v2m0 3v1m0 3v3M278.5 148v1m0 19v2m0 15v2m0 2v5m0 4v3m0 16v1m0 12v2M279.5 159v2m0 10v1m0 10v2m0 5v2m0 2v1m0 29v1m0 3v1m0 1v2m0 2v1M280.5 150v1m0 3v1m0 22v1m0 8v2m0 1v1m0 1v5m0 21v2m0 12v1m0 1v2M281.5 186v2m0 3v2m0 5v2m0 6v2m0 3v2m0 17v2M282.5 148v2m0 7v2m0 1v4m0 7v1m0 6v1m0 2v1m0 20v1m0 5v1m0 6v2m0 2v1m0 5v3M283.5 151v5m0 23v2m0 2v1m0 9v8m0 2v1m0 5v2m0 3v5m0 3v5M284.5 161v1m0 5v1m0 6v1m0 4v3m0 6v1m0 1v3m0 5v1m0 2v2m0 5v2M285.5 150v5m0 10v4m0 12v2m0 5v1m0 2v1m0 9v5m0 4v3M286.5 157v2m0 8v2m0 2v2m0 2v4m0 2v1m0 20v3m0 5v1M287.5 197v5M288.5 175v3m0 5v3m0 3v1m0 5v2M289.5 185v1m0 1v2m0 6v1M290.5 189v4M291.5 171v2m0 7v2m0 8v1m0 2v1m0 5v7m0 3v2M292.5 156v1m0 17v1m0 17v2m0 13v3m0 11v1M293.5 145v1m0 2v1m0 27v1m0 5v1m0 2v3m0 18v2m0 3v1m0 16v2m0 4v1M294.5 141v1m0 16v1m0 17v1m0 10v1m0 28v1m0 2v1m0 14v2M295.5 134v2m0 3v2m0 2v1m0 3v2m0 2v1m0 12v2m0 3v2m0 3v1m0 6v2m0 3v1m0 14v2m0 3v2m0 2v3m0 9v1m0 9v1m0 4v1M296.5 133v4m0 15v1m0 5v5m0 7v5m0 21v8m0 9v4m0 10v1m0 1v4m0 9v1m0 5v2M297.5 132v4m0 5v2m0 2v6m0 4v3m0 5v1m0 3v2m0 19v2m0 6v1m0 6v9m0 7v1m0 7v1m0 7v6M298.5 127v1m0 1v3m0 5v1m0 2v4m0 1v3m0 5v3m0 1v4m0 4v2m0 7v2m0 4v1m0 6v1m0 5v2m0 18v7m0 5v3m0 2v2m0 3v1m0 6v1m0 4v1M299.5 144v2m0 7v2m0 18v3m0 29v1m0 9v2m0 1v2M300.5 129v6m0 1v1m0 7v3m0 9v2m0 1v3m0 1v3m0 3v1m0 3v4m0 11v2m0 15v3m0 2v2m0 1v5m0 4v1m0 7v1m0 4v4m0 2v1M301.5 126v4m0 5v1m0 5v3m0 1v1m0 4v1m0 6v2m0 9v3m0 2v4m0 18v2m0 4v2m0 2v1m0 4v1m0 4v2m0 7v1m0 9v2m0 6v2M302.5 135v1m0 11v3m0 24v3m0 3v1m0 17v2m0 8v3m0 9v3m0 2v2m0 5v2m0 2v2m0 7v2M303.5 146v1m0 1v1m0 5v1m0 3v1m0 3v7m0 4v1m0 3v2m0 1v1m0 4v4m0 6v4m0 6v4m0 7v1m0 2v3m0 4v4m0 6v2m0 1v2m0 3v2m0 1v2M304.5 138v3m0 2v1m0 1v1m0 8v1m0 3v4m0 6v2m0 3v1m0 3v1m0 6v2m0 4v4m0 2v2m0 7v4m0 2v3m0 2v5m0 3v3m0 2v4m0 1v1m0 2v7M305.5 140v2m0 2v2m0 5v2m0 8v1m0 5v1m0 6v4m0 3v1m0 3v2m0 4v1m0 3v8m0 7v2m0 4v9m0 9v1m0 2v3M306.5 150v1m0 3v2m0 5v2m0 2v1m0 5v2m0 2v3m0 5v19m0 14v2m0 1v3M307.5 156v2m0 2v3m0 5v2m0 4v3m0 7v8m0 3v2m0 1v1m0 2v2m0 1v4m0 9v3m0 5v1M308.5 173v3m0 1v3m0 3v2m0 4v1m0 4v2m0 8v2"/>
<rect x="221.8" y="22.0" width="11" height="11.1" fill="url(#boxa)"/>
<rect x="210.7" y="33.1" width="11" height="11.1" fill="url(#boxa)"/>
<rect x="199.7" y="44.2" width="11" height="11.1" fill="url(#boxa)"/>
<rect x="188.6" y="55.4" width="11" height="11.1" fill="url(#boxa)"/>
<rect x="177.5" y="66.5" width="11" height="11.1" fill="url(#boxa)"/>
<rect x="166.5" y="77.6" width="11" height="11.1" fill="url(#boxa)"/>
<rect x="155.4" y="88.7" width="11" height="11.1" fill="url(#boxa)"/>
<rect x="144.3" y="99.8" width="11" height="11.1" fill="url(#boxa)"/>
<rect x="133.2" y="111.0" width="11" height="11.1" fill="url(#boxa)"/>
<rect x="122.2" y="122.1" width="11" height="11.1" fill="url(#boxa)"/>
<rect x="111.1" y="133.2" width="11" height="11.1" fill="url(#boxa)"/>
<rect x="100.0" y="144.3" width="11" height="11.1" fill="url(#boxa)"/>
<rect x="89.0" y="155.4" width="11" height="11.1" fill="url(#boxa)"/>
<rect x="77.9" y="166.6" width="11" height="11.1" fill="url(#boxa)"/>
<path fill="#fff" d="M73 22L221.8 22L221.8 33.12L210.73 33.12L210.73 44.24L199.66 44.24L199.66 55.36L188.59 55.36L188.59 66.48L177.52 66.48L177.52 77.6L166.45 77.6L166.45 88.72L155.38 88.72L155.38 99.84L144.31 99.84L144.31 110.96L133.24 110.96L133.24 122.08L122.17 122.08L122.17 133.2L111.1 133.2L111.1 144.32L100.03 144.32L100.03 155.44L88.96 155.44L88.96 166.56L77.89 166.56L77.89 177.68L73 177.68Z"/>
</svg>
<path d="M128.5 22V300M184.5 22V300M239.5 22V300M294.5 22V300M350.5 22V300M73 78.5H405M73 133.5H405M73 189.5H405M73 244.5H405" stroke="#000" stroke-opacity=".15" stroke-width="1" fill="none"/>
<rect x="72.5" y="21.5" width="333" height="279" fill="none" stroke="#6a6a6a" stroke-width="1"/>
<text x="62.2" y="30.2" text-anchor="end" textLength="28.4" lengthAdjust="spacingAndGlyphs">500</text>
<text x="62.2" y="87.2" text-anchor="end" textLength="28.4" lengthAdjust="spacingAndGlyphs">450</text>
<text x="62.2" y="140.2" text-anchor="end" textLength="28.4" lengthAdjust="spacingAndGlyphs">400</text>
<text x="62.2" y="192.9" text-anchor="end" textLength="28.4" lengthAdjust="spacingAndGlyphs">350</text>
<text x="62.2" y="249.2" text-anchor="end" textLength="28.4" lengthAdjust="spacingAndGlyphs">300</text>
<text x="62.2" y="306.6" text-anchor="end" textLength="28.4" lengthAdjust="spacingAndGlyphs">250</text>
<text x="58.7" y="323.4" textLength="28.4" lengthAdjust="spacingAndGlyphs">400</text>
<text x="113.3" y="323.4" textLength="28.4" lengthAdjust="spacingAndGlyphs">450</text>
<text x="167.9" y="323.4" textLength="28.4" lengthAdjust="spacingAndGlyphs">500</text>
<text x="222.5" y="323.4" textLength="28.4" lengthAdjust="spacingAndGlyphs">550</text>
<text x="277" y="323.4" textLength="28.4" lengthAdjust="spacingAndGlyphs">600</text>
<text x="331.6" y="323.4" textLength="28.4" lengthAdjust="spacingAndGlyphs">650</text>
<text x="386.2" y="323.4" textLength="28.4" lengthAdjust="spacingAndGlyphs">700</text>
<text x="134.9" y="343.3" textLength="204.8" lengthAdjust="spacingAndGlyphs"><tspan font-weight="bold">Emission Wavelength</tspan> (nm)</text>
<text transform="translate(21.4 265.9) rotate(-90)" textLength="181.2" lengthAdjust="spacingAndGlyphs" font-weight="bold">Excitation Wavelength</text>
<text transform="translate(21.4 76.1) rotate(-90)" textLength="34.3" lengthAdjust="spacingAndGlyphs">(nm)</text>
<text class="lb" x="90.6" y="59.4">S1</text>
<text x="194.9" y="372.6" textLength="33.6" lengthAdjust="spacingAndGlyphs" class="cp">(<tspan font-weight="bold">a1</tspan>)</text>
<svg x="583" y="24" width="329" height="277" viewBox="583 24 329 277" overflow="hidden">
<g fill-rule="evenodd">
<path fill="#0000af" d="M817.5 77.5l-130 0 0-10 12 0 1-1 0-42 117 0 0 53zM781.5 256.5l-198 0 0-96 28-31 1 0 17-12 1 0 11-8 24-12 7-11 7 0 1-1 13 0 1-1 27 0 2 1 44 0 1 1 23 0 7 4 2 0 5 3 2 0 9 5 2 5 2 2 3 7 2 2 3 6 0 3 1 1 0 6 1 1 0 5 1 1 1 13 1 1 0 5 1 1-1 44-2 4 0 2-1 1 0 3-1 1-1 5-1 1 0 2-2 4 0 3-1 1 0 2-1 1-1 4-17 15-6 1-1 1-3 0-1 1-4 0-1 1-3 0-1 1-3 0-1 1z"/>
<path fill="#0000d0" d="M725.5 61.5l-9 0 21-37 42.5 0 17 32-0.5 1-8 2-16 0-8 1-35 0-4 1zM780.5 255.5l-197 0 0-72.5 7-1 7-2 17-9.5 11-21.5 22-30 19-21.5 4-6.5 3-2.5 23-2 24 0 4 1 39 0 5 1 18 0 4 0.5 23.5 10.5 12 22 6.5 38-1 40-10 33-2 3-15 13.5-3 1.5-21 5z"/>
<path fill="#0000f1" d="M780.5 254l-197 0 0-48 15-0.5 19-2 29-0.5 0.5-0.5-4-11 4-19 20-73 4.5-7 8-2 12-0.5 6-1 23 0.5 4 0.5 39 0 4 1 20 0.5 24 10 2 2 9 18 2 6 5 32 0 18-0.5 4-0.5 20-11 32-16 14.5-21 6z"/>
<path fill="#0013ff" d="M758.5 250.5l-57 1-29-1.5-34.5-3.5-54.5-7.5 0-1 84-13.5 1-1-1-15 0-79 2-29 4-6 5 0 2-1 21-2 19 0 2 1 40 1 2 1 20 2 16 5 8.5 4 3.5 6 7 14 6 35 0 17-1 3 0 19-4.5 13-8 18-13.5 11.5-20 7-20 1.5z"/>
<path fill="#0034ff" d="M736.5 241l-34 0-15-2.5-7.5-3-6-9-2.5-6 0-2-2-3-1.5-7 0-79 3.5-13 2.5-6 5.5-7 6-3 17-3.5 32 0 10 1.5 7 2 9 3.5 13 9.5 6 6.5 1 0 2-2 5-2.5 5-1 7 1.5 4 4 4 7.5 2.5 10 2 14 1 23-3 20-3 10-2.5 4-3 3.5-6 3.5-5 0.5-7-1-8 9.5-11 8-4 2-14 4.5-10 2z"/>
<path fill="#0054ff" d="M735.5 238l-33 0-1-1-6 0-1-1-6-1-9-5-4.5-4.5-4.5-10-1.5-6-0.5-1 0-79 0.5-1 0.5-3 2.5-7 0-2 3-5 7.5-7.5 4-2 5-1 1-1 3 0 1-1 5 0 1-1 32 0 1 1 5 0 1 1 3 0 1 1 5 1 8 4 11.5 11.5 1 3 2 2 2 4 0 2 4 10 0.5 4.5 1.5-0.5 0-4 1-1 0-3 3-7 0-2 4.5-5.5 6-1 1 1 2 0 4.5 5.5 0 2 3 7 0 3 1 1 0 4 1 1 0 8 1 1 0 11 0 12-1 1 0 8-1 1 0 4-1 1 0 3-3 7 0 2-4.5 5.5-4 1-5-1-4.5-5.5 0-2-3-7 0-3-1.5-0.5-0.5 5.5-1 1 0 3-1 1-2 8-6 11-9.5 9.5-1 0-2 2-12 5-3 0-1 1-5 0-1 1z"/>
<path fill="#0075ff" d="M734.5 237l-31 0-14-3-7-3.5-6-5-2.5-4-3-7-2-7 0-5 0-72 4-13 3.5-6 6-6 5-2.5 16-4 30 0 16 4 9 4.5 10 10 5.5 10 4 12 0 3 1.5 2 2-1 1.5-8 3-9 3.5-5 4-1.5 4 1 4.5 5.5 4 13 2 14 0 21-1 4 0 5-5 18-4.5 5.5-3 1-4-1-4.5-5.5-3.5-12-2-1-1.5 2 0 4-4 13-6.5 12-8 8-4 2.5-9 4-13 3z"/>
<path fill="#0096ff" d="M735.5 235.5l-32 0.5-14-3-6-3-6-5-2.5-3.5-3-7-2.5-12 0.5-72 5-15 8-9 4.5-2.5 10-3 7-1 29 0 16 4 8 4 10.5 10.5 5 9 4.5 16 2 2.5 1 0 2-2.5 4.5-17 3-4 3.5-1.5 4 1 3.5 4.5 4 13 2 15 0 19-1 10-5 18-3.5 4.5-3 1-4-1-3.5-4.5-4-13-2.5-1.5-2 2.5-0.5 5-4 13-6.5 11.5-7.5 7.5-3.5 2.5-9 4-12 2.5z"/>
<path fill="#00b7ff" d="M735.5 234.5l-31 0.5-14-2.5-6-3-6.5-5-2.5-4-3-7-2-11 0-67 0.5-5 3.5-12 3-5 6-6.5 5-2.5 16-3.5 28 0 9 1.5 9 3 7 3.5 10 10.5 5 9 5 17.5 3 3.5 2.5-5 4.5-17 2.5-4 3.5-1.5 3 0.5 4 5 3.5 12 2 15 0 19-1 10-4.5 17-4 5-3 0.5-3-1-3-4.5-4-13-3-4-2.5 5-1.5 8-3 10-6.5 12-7.5 7.5-4 2.5-9 4-11 2z"/>
<path fill="#00d8ff" d="M736.5 233.5l-3 0.5-29 0-13-2-7-3.5-5-4-3-4-3-7-2.5-11 0-67 2-10 3.5-9 8-9 4-2 8-2.5 8-1 28 0 12 2 12 5.5 10 10 3 5 5.5 14 1.5 9 3 6 1 0 2.5-4 3-15 2.5-7 2-3 2-1.5 3 0 2 1.5 2 3 3.5 11 2 16 0 19-1 4 0 7-4.5 16-2 3-2 1.5-3 0-2-1.5-2-3-4-14-4-9-3 8.5-1.5 9.5-3.5 11-6 11-8 8-3 2-10 4.5-9 1.5z"/>
<path fill="#00f9ff" d="M735.5 233l-33 0-1-1-6 0-1-1-3 0-6-3-6-4.5-2.5-4-1.5-4-1.5-3-0.5-3-0.5-1-0.5-5-0.5-1 0-67 0.5-1 0.5-5 0.5-1 0.5-3 0.5-1 2.5-7 2-2 0-1 6.5-6.5 4-2 6-1 1-1 5 0 1-1 2 0 30 0 1 1 5 0 1 1 3 0 11 5 10.5 10.5 1 3 2 2 2 4 0 2 3 7 1.5 10 1 1 2 17-2.5 23-0.5 1-0.5 5-0.5 1-0.5 3-0.5 1-1.5 5-6 11-8.5 8.5-9 5-6 1-1 1-5 0-1 1zM795.5 204l-3 0-3.5-4.5-0.5-2-2-4 0-3-1-1 0-4-1-1-3-18 2-14 1-2 0.5-7 0.5-1 1.5-8 1.5-4 0.5-2 2.5-3.5 2-1 2 0 3.5 4.5 1.5 5 0.5 1 0.5 3 0.5 1 0.5 4 0.5 1 0.5 8 0.5 1 0.5 2-0.5 21-0.5 1-0.5 8-0.5 1-0.5 4-0.5 1-0.5 3-1.5 4-0.5 2-3.5 4.5z"/>
<path fill="#1bffe4" d="M735.5 232.5l-33 0-1-1-6 0-1-1-3 0-6-3-6-5-5-10-0.5-3-1-1 0-5-1-2 0.5-66 0.5-1 0.5-5 1-1 0-3 1-1 0-2 1-1 1-4 7-8 5-3 14-3 30 0 2 1 9 1.5 11 4.5 10 10 1 3 2 2 2 4 0 2 1 1 0 2 2 4 1.5 10 0.5 1 0 40-0.5 1-0.5 5-0.5 1-1.5 6-7 14-8 8-9 5-6 1-1 1-5 0-1 1zM795.5 203.5l-3 0-3.5-4 0-2-2-4 0-3-1-1 0-4-1-1 0-8-1-1 0-22 1-2 0-8 1-1 0-4 1-1 0.5-3 2-4 0-2 3-4 3 0 3 4 1 5 1 1 0 3 1 1 0 4 1 1 0 8 1 1 0 23-0.5 1-0.5 8-0.5 1-0.5 4-0.5 1-0.5 3-1.5 4-0.5 2-3 4z"/>
<path fill="#3cffc3" d="M738.5 229.5l-5 1-29 0-12-2-6-2.5-5-3.5-4.5-6-2-5-2.5-11 0-44 0.5-20 2.5-10 4.5-8 5.5-5.5 6-3 13-2.5 28 0 13 2.5 8 4 9 7.5 6 9 2.5 6 3.5 14 0.5 12 0 26-3.5 13-5.5 11-2.5 3.5-7 6.5-9 5-9 2zM794.5 202l-1 0-3.5-2.5-2.5-6-1-8-1-1-0.5-8-0.5-1 0-21 1-3 0-6 3.5-13 2.5-3 2-1.5 3 1.5 3 6 2 9 0.5 7 1 3 0 20-1 9-4.5 15-3 3.5z"/>
<path fill="#5dffa2" d="M737.5 227.5l-32 0.5-12-1.5-7-2.5-3.5-2.5-4.5-5.5-2.5-4.5-2.5-11 0-11-1-2 0-31 0.5-1 1-18 2-7 2.5-6 6-7.5 5-3 10-2.5 6-0.5 26 0 10 1.5 11 4.5 7 5.5 5 6 4.5 9 3 8 2 17 0 20-1.5 12-2.5 7-5.5 10.5-6 6.5-10 6-11 3zM794.5 200l-4-1.5-2-5-2-8-1-11 0-20 1-3 0-5 2.5-11 1.5-2.5 3-2 1 0 2 2 2 4.5 2 9 0 6 1 2 0 19-1 10-2.5 11-2 4-1.5 1.5z"/>
<path fill="#7eff81" d="M736.5 225.5l-38 0-2-1-3 0-6-2-3-2-6-6-2.5-6-1.5-7-0.5-1-0.5-12-0.5-1 0-30 1-2 0-13 1-1 1-8 2.5-6 7-8 3-1.5 11-3.5 31 0 10 1 9 3.5 8 5.5 5 5.5 6 10.5 0 2 2 3 0 3 1 1 0 4 1 1 0 7 0.5 1 0.5 20-1 1 0 6-1 1 0 4-1 1-1 5-6 10-7 7-9 5-11 3zM794.5 198.5l-3-0.5-2.5-4.5-1-7-1-1-0.5-7-0.5-1-0.5-3 0.5-20 0.5-1 0.5-7 0.5-1 0.5-4 3-7 2.5-1 2 1 3 7 0 4 1 1 0 7 1 1 0 23-1 1 0 7-1 1-0.5 4-0.5 1-0.5 2-2.5 5z"/>
<path fill="#9fff60" d="M731.5 224.5l-32 0-2-1-4 0-1-1-5-1-2-2-1 0-5-5-3-6-1.5-7-1-1 0-12-1-1 0.5-30 0.5-2 0.5-13 1-1 1.5-7 3.5-6.5 6-5.5 3-1.5 12-3 32 0 6 1 12 5 5 3.5 3.5 3 4.5 6 4.5 9 0.5 3 1 1 0 4 1 1 0 7 1 1 0.5 20-1 1-1 11-1 1-1.5 5-6 10-6 6-1 0-2 2-6 3-2 0-4 2-10 1zM793.5 197.5l-1 0-2-2-2-5-2.5-16 0-20 1-1 0.5-7 1-1 0-4 4-6.5 1.5 0.5 3.5 6 0 4 1 1 1.5 12-0.5 19-0.5 1-0.5 7-0.5 1-0.5 4-1 1 0 2-3 4z"/>
<path fill="#c0ff3f" d="M736.5 221.5l-7 1-24 0-11-1-6-2-4-2.5-3-2.5-4-6-3-8 0-12-1-1 0.5-30 0.5-2 1.5-12 4-8 4-5 5.5-4 5-2 8-1 20-0.5 10 0.5 11 2 6 3 7 4.5 5 5.5 5.5 9 3 8 2 13 0 13-2 12-2.5 6-7 10.5-5 4.5-9 5-10 2zM793.5 193.5l-2.5-1-2-3-1.5-4 0-7-1-2 0-22 1.5-7 2.5-4.5 2-2 1 0 1.5 1.5 2 5 2 12 0 17-1 2 0 5-1.5 6-3 4z"/>
<path fill="#e1ff1e" d="M735.5 219.5l-6 1-24 0-10-1-8-3-4-2-5.5-7-2.5-7 0-5-1-1 0-36 3-14 6.5-9 6.5-4 8-2.5 24-1 14 1 6 1.5 8 3.5 6 4.5 4 4 6 9 2 5 2.5 12-0.5 16-1.5 9-1.5 3-3.5 7-6.5 7-3 2.5-8 4-11 2.5zM793.5 190.5l-1 0.5-2-1.5-1-1.5-2-5.5 0-5-1-1 0-17 1-1 0-5 2-6 3-3 1.5 1 2 4 2 10 0 17-1 2-0.5 5-1.5 5-1.5 2z"/>
<path fill="#fffc00" d="M729.5 218.5l-24 0-1-1-9 0-1-1-3 0-7-3-6-6-2.5-7 0-5-1-1 0-36 0.5-1 0.5-5 2.5-7 8-7.5 10-3.5 24 0 2-1 2 1 12 0 12 3.5 6 3.5 3.5 3 7.5 9 2 4 1 5 0.5 1 0.5 4 0.5 1 0 12 0 4-1 1-1 8-3 6-4.5 6-7 6-8 4-3 0-1 1-3 0-1 1-7 0-1 1zM792.5 189.5l-2-1.5-1.5-2.5-2-12 0-14 1-1 0-5 2-5 1.5-1.5 1-0.5 2 2 1 4 0.5 1 1.5 9 0 14-1 1-0.5 5-2 5-1.5 2z"/>
<path fill="#ffdb00" d="M729.5 218l-24 0-1-1-9 0-1-1-6-1-4-2-5.5-5.5-3-7 0-5-1-1 0-36 1-1 0.5-5 3-7 7-6 2 0 4-2 3 0 1-1 25 0 1-1 1 1 13 0 1 1 4 0 1 1 5 1 6 3 3 3 1 0 7 8 2 4 1 5 1 1 1 9 0 12-1 1-1 8-3 6-2 3-9 8-8 4-3 0.5-1 1-3 0-1 1-7 0-1 1zM792.5 188l-2-0.5-1-2-2.5-11 0-15 1-1 0.5-5 1-1 0-2 2-2.5 2 0.5 1 2 2.5 11 0 15-1 1-0.5 5-1 1 0 2-2 2.5z"/>
<path fill="#ffba00" d="M729.5 216.5l-23 0.5-2-0.5-8-0.5-8-2-4-2-5-4.5-3-7 0-5-1-1 0-36 1-1 1.5-7 2.5-4.5 7-5.5 11-3 37 0.5 8 2 9 4 4.5 3.5 6 7 4.5 10 1 8 0 11-2 9-3 6-2.5 4-8.5 7.5-8 4-8 2-7 0.5zM792.5 185l-1.5-0.5-1.5-3-2-7 0-14.5 1-1.5 1-4 2-3.5 1.5 0.5 1.5 3 2 7 0 14.5-1 1.5-1 4-2 3.5z"/>
<path fill="#ff9900" d="M729.5 215.5l-22 0.5-15-1.5-8-3.5-4.5-4.5-3-7 0-4-1-2 0-34 1.5-6 2.5-5 1.5-2.5 6-4 11-3 36 0 8 2.5 9.5 4 4.5 3.5 5.5 6.5 4 9 1.5 7 0 12-2 9-2 4-3.5 5-7.5 7-8 4-9 2.5-6 0.5zM792.5 181.5l-2-1-2.5-7 0-13 3.5-6 2 1 2.5 7 0 13-3.5 6z"/>
<path fill="#ff7800" d="M729.5 214.5l-22 0.5-9-0.5-9-2-4-2-4.5-4-3.5-7 0-4-1-2 0-30 0.5-4 2.5-9 5-5.5 4-2 10-3 36 0.5 8 2.5 9 4 6 5.5 4 5 3.5 8 1.5 7 0 10-2 9-2 4-3 5-8 7.5-8 3.5-8 2.5-6 0.5zM792.5 179l-1 0-1-1-2-4.5 0-12 3-4.5 1 0 1 1 2 4.5 0 12-3 4.5z"/>
<path fill="#ff5700" d="M729.5 214l-22 0.5-9-0.5-9-2.5-6-3-2.5-3-3-6 0-4-1-2 0-30 2.5-10 4-6 6-3.5 10-2.5 29 0 5 0.5 9 2.5 8 4 9 9 3.5 7 2 8-0.5 13-3 10-4 5-7.5 7-11.5 4.5-9 2zM792.5 177.5l-2-1-1.5-3 0-11 2.5-4 2 1 1.5 3 0 11-2.5 4z"/>
<path fill="#ff3600" d="M729.5 213l-30 0-10-2-6-3.5-2-2.5-3-6 0-4.5-1-1 0-30 2-8 1.5-4 2.5-3 6-3.5 10-2.5 29 0 10 2 11 5 9 9 3.5 6 2 8-0.5 12-3 10-3.5 5-7.5 7-11 4.5-9 2zM792.5 176l-2-0.5-1-2 0-11 2-2.5 2 0.5 1 2 0 11-2 2.5z"/>
<path fill="#ff1500" d="M727.5 212.5l-28 0-1-1-5 0-9-4-2.5-3-3-6 0-4-1-1 0-30 0.5-1 0.5-4 1.5-4 3.5-5 6.5-3.5 9-2 29 0 12 3 9 4 8 8.5 3.5 6 2 7-0.5 12-3 9.5-3 4.5-7.5 7-8.5 4-13 3zM792.5 175.5l-1 0-1.5-2 0-11 1.5-2 1 0 1.5 2 0 11-1.5 2z"/>
<path fill="#f30000" d="M728.5 211.5l-29 0-1-1-5 0-1-1-2 0-6-3-2-2-3-6 0-4-1-1 0-30 1-1 0-4 3-6 2-2 6-3.5 2 0 1-1 5 0 1-1 29 0 1 1 4 0 1 1 6 1 8 4 8.5 8.5 0 1 2.5 4 1.5 6 0.5 1 0 12-1 1 0 3-1 1-1 4-2 2 0 1-8 8-8 4-6 1-1 1-4 0-1 1zM792.5 174.5l-2-1 0-11 1-1 2 1 0 11-1 1z"/>
<path fill="#d20000" d="M724.5 203.5l-22 1-6-1.5-8-3-3-3.5-4-9-1.5-8-0.5-6 1.5-8 2.5-5 4-5 8-3.5 7-1 14 0 9 0.5 9 3 4.5 2 4.5 3 4.5 5 2.5 4.5 1.5 7.5 0 5-2.5 7-7 8-8 4.5-10 2.5z"/>
<path fill="#b10000" d="M716.5 194.5l-15 0-5-1-7-4.5-4.5-4.5-2.5-6 0-5 3-6.5 6-5.5 6-2 6-1.5 12 0 5 1 9 3 5.5 3.5 3 4 1.5 4 0.5 6-2 4-2.5 3.5-5 3.5-14 4z"/>
<path fill="#900000" d="M717.5 184.5l-5 1-7 0-12.5-3-3.5-2.5-3-3.5 0-4 1-3 5-5 10-3 12 0 8 2 6 4 2.5 5 0 3-1.5 3-4 3.5-8 2.5z"/>
</g>
<path stroke="#0a0a78" stroke-width="1" fill="none" d="M583.5 42v1m0 10v1m0 14v1m0 15v1m0 19v1m0 5v1m0 9v1m0 4v1m0 31v1m0 109v1m0 9v1M584.5 24v7m0 11v2m0 8v1m0 15v1m0 14v1m0 20v1m0 5v2m0 6v2m0 4v1m0 32v2m0 108v4m0 5v1M585.5 24v4m0 2v5m0 8v9m0 16v2m0 10v3m0 21v1m0 6v7m0 5v1m0 18v8m0 8v1m0 111v6m0 13v7M586.5 27v5m0 2v6m0 28v1m0 6v5m0 22v2m0 10v1m0 8v1m0 15v3m0 7v2m0 129v9m0 6v6M587.5 31v2m0 6v29m0 3v4m0 26v1m0 21v1m0 12v3m0 11v1m0 129v1M588.5 28v4m0 39v1m0 26v3m0 22v3m0 7v3m0 13v1m0 130v5M589.5 24v4m0 22v5m0 16v1m0 24v2m0 11v9m0 7v8m0 16v1m0 106v7m0 21v7M590.5 24v14m0 11v1m0 4v1m0 15v1m0 22v3m0 12v1m0 8v3m0 27v2m0 113v5m0 23v11M591.5 37v4m0 8v5m0 16v23m0 15v3m0 8v3m0 23v2m0 119v4M592.5 24v9m0 7v5m0 65v11m0 20v4m0 124v4M593.5 32v2m0 10v4m0 85v8m0 8v1m0 109v10m0 3v5M594.5 32v1m0 14v2m0 80v4m0 15v1m0 108v2m0 9v4m0 4v3M595.5 32v1m0 14v1m0 73v8m0 128v1m0 13v3m0 4v3M596.5 32v2m0 11v2m0 46v12m0 13v3m0 136v1m0 15v2m0 5v6m0 1v14M597.5 33v2m0 7v3m0 45v3m0 11v4m0 10v2m0 137v3m0 14v2m0 9v2M598.5 24v4m0 6v2m0 5v1m0 46v2m0 17v3m0 9v1m0 139v5m0 11v3M599.5 25v2m0 8v1m0 5v1m0 7v6m0 31v2m0 7v8m0 6v3m0 7v2m0 19v3m0 120v7m0 7v2M600.5 24v1m0 9v1m0 6v1m0 6v1m0 5v3m0 26v3m0 9v2m0 4v1m0 9v1m0 8v3m0 16v1m0 116v8m0 5v7m0 1v1M601.5 24v10m0 7v1m0 6v1m0 7v2m0 20v5m0 13v5m0 10v1m0 10v6m0 9v2m0 124v5m0 7v2m0 16v8M602.5 40v1m0 7v1m0 8v3m0 14v4m0 31v2m0 16v10m0 130v4m0 19v3M603.5 24v10m0 6v1m0 7v1m0 10v3m0 10v2m0 28v7m0 161v5m0 7v8M604.5 33v7m0 8v1m0 12v3m0 8v1m0 22v7m0 33v3m0 136v8M605.5 47v1m0 15v1m0 8v1m0 21v1m0 36v4M606.5 47v1m0 13v2m0 9v2m0 19v1m0 33v4m0 133v9m0 24v4M607.5 47v1m0 9v4m0 12v2m0 16v2m0 12v9m0 13v1m0 133v3m0 8v3m0 21v1M608.5 47v10m0 17v2m0 14v1m0 13v1m0 8v4m0 10v2m0 131v1m0 13v2m0 19v1M609.5 60v6m0 9v2m0 12v1m0 14v1m0 11v4m0 8v3m0 129v1m0 14v2m0 18v2M610.5 57v3m0 5v3m0 8v1m0 10v2m0 15v1m0 14v5m0 6v1m0 129v3m0 13v3m0 17v5M611.5 57v3m0 7v1m0 8v11m0 17v1m0 18v3m0 136v4m0 12v3M612.5 59v8m0 14v1m0 20v2m0 21v4m0 136v3m0 12v3m0 14v4M613.5 33v6m0 60v3m0 26v1m0 127v1m0 10v3m0 12v1m0 10v4M614.5 32v1m0 5v9m0 50v2m0 27v2m0 141v4m0 8v1m0 11v1M615.5 31v1m0 14v7m0 44v1m0 27v1m0 146v9m0 12v1M616.5 30v1m0 7v6m0 8v6m0 25v3m0 11v2m0 26v2m0 166v4M617.5 28v2m0 6v2m0 5v1m0 12v1m0 26v2m0 13v3m0 195v5M618.5 24v4m0 8v1m0 3v3m0 7v6m0 44v5m0 161v7M619.5 36v4m0 6v4m0 54v14m0 147v1m0 6v6M620.5 43v3m0 35v18m0 18v7m0 141v12M621.5 24v19m0 9v8m0 17v4m0 17v1m0 187v15M622.5 24v10m0 17v1m0 7v1m0 15v2m0 17v4m0 10v12m0 166v5M623.5 24v8m0 1v26m0 16v2m0 13v4m0 13v1m0 11v2m0 169v11M624.5 31v8m0 10v1m0 26v2m0 10v2m0 14v3m0 13v1m0 146v15M625.5 24v2m0 12v1m0 8v2m0 28v5m0 3v3m0 8v8m0 14v2m0 145v2m0 14v4m0 12v4M626.5 24v1m0 9v4m0 5v4m0 34v4m0 11v8m0 13v1m0 145v2m0 19v3m0 6v4M627.5 24v10m0 3v6m0 5v10m0 45v6m0 6v2m0 144v2m0 23v4m0 2v1M628.5 24v13m0 3v8m0 9v15m0 36v7m0 144v2m0 28v1m0 2v5M629.5 30v10m0 8v12m0 11v7m0 178v3m0 30v1m0 6v5M630.5 24v6m0 14v4m0 11v8m0 10v5m0 35v1m0 138v2m0 29v2M631.5 44v1m0 21v4m0 11v2m0 174v6m0 4v20M632.5 44v5m0 19v1m0 13v2m0 25v3m0 144v3m0 3v5M633.5 24v5m0 19v9m0 3v8m0 15v1m0 22v3m0 2v2m0 145v13M634.5 28v4m0 24v4m0 23v2m0 21v6m0 158v6M635.5 31v5m0 24v16m0 8v2m0 189v5M636.5 24v4m0 7v3m0 16v6m0 15v5m0 5v2m0 12v15m0 165v4M637.5 27v2m0 8v1m0 15v1m0 25v4m0 2v1m0 9v4m0 11v3m0 169v19M638.5 24v4m0 8v1m0 14v2m0 29v3m0 9v1m0 9v6m0 146v3M639.5 32v4m0 12v3m0 43v1m0 8v1m0 154v3m0 38v2M640.5 24v8m0 14v2m0 46v2m0 7v2m0 155v2m0 5v14m0 13v5M641.5 45v1m0 49v2m0 7v4m0 149v4m0 6v1m0 12v1m0 11v2M642.5 45v1m0 50v5m0 6v3m0 146v1m0 10v1m0 12v1m0 9v2M643.5 24v9m0 12v2m0 53v5m0 162v3m0 8v2m0 9v1m0 5v6M644.5 31v1m0 14v2m0 56v4m0 161v4m0 1v4m0 11v6M645.5 28v3m0 16v1m0 59v1m0 164v2M646.5 24v4m0 19v1M647.5 31v5m0 11v1m0 232v6m0 8v7M648.5 24v7m0 4v4m0 7v1m0 25v7m0 197v4m0 5v9M649.5 38v1m0 6v1m0 10v10m0 6v1m0 5v4m0 193v1M650.5 35v3m0 7v2m0 8v1m0 9v4m0 3v3m0 6v3m0 191v1M651.5 33v2m0 11v3m0 6v1m0 12v3m0 3v2m0 7v2m0 189v1M652.5 33v1m0 14v3m0 4v3m0 12v2m0 3v2m0 7v3m0 185v2m0 26v1M653.5 33v2m0 15v4m0 3v4m0 10v1m0 4v1m0 9v4m0 178v4m0 25v3M654.5 24v4m0 6v2m0 17v5m0 2v5m0 4v2m0 5v1m0 12v4m0 163v12m0 27v2M655.5 27v1m0 7v2m0 20v4m0 3v5m0 7v1m0 15v4m0 166v8m0 25v1M656.5 24v3m0 9v2m0 8v9m0 5v4m0 12v1m0 18v4m0 161v2m0 7v5m0 21v2M657.5 36v1m0 8v1m0 8v2m0 7v1m0 12v1m0 21v2m0 159v1m0 13v6m0 17v5M658.5 34v2m0 9v2m0 6v2m0 6v2m0 13v2m0 21v1m0 159v2m0 17v12M659.5 24v10m0 12v7m0 4v4m0 16v2m0 20v1m0 160v8m0 21v12M660.5 54v3m0 4v10m0 7v3m0 18v1m0 167v7M661.5 50v4m0 5v2m0 9v3m0 7v2m0 17v1m0 173v3M662.5 47v3m0 8v1m0 13v1m0 8v3m0 172v11m0 8v2M663.5 43v4m0 11v14m0 11v3m0 180v5m0 5v3M664.5 24v3m0 13v3m0 42v3m0 168v6m0 8v4m0 4v14M665.5 26v5m0 7v2m0 47v8m0 166v3m0 9v2m0 16v6M666.5 30v3m0 5v1m0 55v3m0 166v1m0 10v1m0 21v5M667.5 32v1m0 4v1m0 225v1m0 10v1M668.5 24v2m0 6v1m0 3v1m0 35v9m0 181v1m0 11v2M669.5 24v1m0 6v1m0 4v1m0 29v6m0 8v5m0 174v3m0 13v2M670.5 31v1m0 4v1m0 22v7m0 18v1m0 171v3m0 17v2M671.5 31v2m0 3v2m0 14v7m0 24v1m0 193v1m0 17v6M672.5 32v2m0 3v5m0 9v1m0 28v3m0 173v10m0 11v3m0 11v4M673.5 33v2m0 6v4m0 6v1m0 18v10m0 5v2m0 178v5m0 9v12M674.5 33v1m0 10v2m0 5v2m0 14v3m0 12v3m0 184v4M675.5 24v9m0 12v2m0 5v3m0 8v4m0 8v7m0 174v4m0 12v3m0 22v4M676.5 46v1m0 7v9m0 6v6m0 181v3m0 15v2m0 16v5M677.5 24v10m0 12v3m0 15v5m0 6v12m0 188v2m0 13v2M678.5 33v3m0 12v16m0 8v3m0 201v2m0 11v1m0 5v6M679.5 24v4m0 7v1m0 35v1m0 205v1m0 11v1m0 4v1M680.5 27v3m0 5v1m0 35v2m0 204v1m0 10v1m0 4v1M681.5 29v2m0 4v2m0 35v14m0 170v9m0 12v2m0 9v1m0 4v1M682.5 30v1m0 5v16m0 212v2m0 11v1m0 8v2m0 5v2M683.5 30v2m0 19v4m0 210v3m0 9v1m0 6v2m0 8v1M684.5 24v3m0 4v1m0 22v5m0 208v2m0 8v7m0 9v1M685.5 24v2m0 5v1m0 26v12m0 198v2m0 22v1M686.5 30v1m0 4v10m0 24v3m0 197v2m0 20v1m0 7v2M687.5 28v2m0 3v2m0 9v5m0 22v2m0 183v2m0 12v1m0 20v2m0 6v2M688.5 25v3m0 4v1m0 5v5m0 5v3m0 206v4m0 9v2m0 20v8M689.5 24v1m0 7v1m0 5v1m0 3v1m0 7v3m0 207v5m0 6v4m0 15v7m0 2v2M690.5 32v1m0 5v4m0 10v2m0 2v3m0 205v3m0 7v6m0 2v8m0 6v5M691.5 32v2m0 19v3m0 2v5m0 193v6m0 4v3m0 10v3M692.5 33v19m0 10v1m0 22v1m0 175v3m0 4v6M693.5 24v11m0 15v1m0 11v1m0 14v8m0 178v3m0 7v7M694.5 34v3m0 13v1m0 10v1m0 194v1m0 8v4m0 10v3M695.5 24v6m0 6v2m0 12v2m0 9v1m0 15v5m0 186v7m0 6v1m0 4v15M696.5 29v4m0 4v1m0 13v4m0 5v1m0 20v3m0 177v5m0 8v3m0 4v1m0 2v2m0 4v8M697.5 32v1m0 4v1m0 5v6m0 5v6m0 23v1m0 174v3m0 4v6m0 5v2m0 2v1m0 3v1m0 2v3m0 3v8M698.5 31v1m0 4v1m0 3v3m0 5v5m0 29v1m0 175v1m0 11v2m0 5v1m0 2v2m0 1v1m0 2v1m0 2v4m0 3v5M699.5 29v2m0 3v2m0 2v2m0 12v2m0 6v4m0 13v5m0 176v2m0 7v4m0 6v1m0 3v1m0 1v2m0 1v2m0 1v2M700.5 24v5m0 4v1m0 4v1m0 5v3m0 6v1m0 5v1m0 3v3m0 193v8m0 9v1m0 4v2m0 1v2m0 1v7M701.5 272v4m0 6v19M702.5 256v16m0 12v17M703.5 287v5m0 1v6M704.5 291v2m0 5v2M705.5 256v5m0 29v2m0 6v1M706.5 260v3m0 6v8m0 11v2m0 8v3M707.5 262v1m0 6v2m0 4v1m0 11v1m0 10v3M708.5 262v2m0 6v5m0 12v14M709.5 77v4m0 182v4m0 20v14M710.5 80v4m0 172v7m0 3v14m0 5v2m0 2v12M711.5 83v2m0 177v1m0 7v5m0 4v2m0 3v1m0 3v1m0 2v2m0 2v1M712.5 262v1m0 5v2m0 4v4m0 2v2m0 2v2m0 2v2m0 1v3m0 1v3M713.5 261v1m0 5v1m0 9v2m0 2v3m0 1v3m0 1v12M714.5 77v8m0 175v1m0 5v1m0 11v2m0 3v2m0 2v4m0 1v3m0 1v5M715.5 77v3m0 179v1m0 6v4m0 7v2m0 5v2m0 4v3m0 1v5M716.5 79v6m0 173v1m0 10v8m0 8v3m0 4v9M717.5 77v5m0 176v1m0 5v10m0 13v14M718.5 81v3m0 172v8m0 9v5m0 12v11M719.5 83v2m0 172v1m0 18v1m0 5v8m0 5v6M720.5 81v3m0 173v2m0 16v1m0 3v3m0 12v1M721.5 77v4m0 177v2m0 14v1m0 2v2m0 4v6m0 5v7M722.5 259v1m0 14v1m0 2v1m0 5v1m0 1v3m0 7v6M723.5 259v2m0 13v2m0 1v4m0 2v2m0 5v5M724.5 260v1m0 6v7m0 1v15m0 4v7M725.5 260v2m0 5v2m0 4v21M726.5 77v9m0 175v3m0 4v2m0 8v5m0 16v2M727.5 263v4m0 2v5m0 8v3m0 7v7M728.5 266v3m0 4v5m0 5v1m0 7v1m0 6v3M729.5 268v3m0 6v6m0 8v1m0 4v2M730.5 77v2m0 190v1m0 8v3m0 1v7m0 2v3m0 2v2M731.5 78v8m0 181v2m0 6v3m0 10v4m0 1v3m0 1v4M732.5 267v1m0 6v1m0 4v19m0 2v1M733.5 267v3m0 4v2m0 3v1m0 10v3m0 1v7M734.5 77v2m0 190v3m0 3v3m0 1v3m0 4v4m0 2v3m0 1v4M735.5 78v3m0 190v3m0 3v3m0 1v2m0 3v3m0 5v1m0 4v2M736.5 80v3m0 173v1m0 5v8m0 3v1m0 5v2m0 1v6m0 1v5M737.5 82v4m0 170v6m0 7v4m0 7v4m0 3v2m0 1v11M738.5 283v7m0 2v9M739.5 287v5M740.5 287v4M741.5 77v1m0 212v11M742.5 77v9m0 172v5m0 4v10m0 11v13M743.5 258v1m0 3v5m0 9v2m0 8v2m0 10v3M744.5 258v3m0 16v3m0 6v3m0 9v2M745.5 260v1m0 18v5m0 4v4m0 7v2M746.5 259v1m0 10v10m0 3v6m0 2v8M747.5 259v1m0 7v3m0 9v5m0 4v5m0 5v3M748.5 259v2m0 5v1m0 16v1m0 8v4M749.5 260v2m0 3v1m0 14v3m0 12v5M750.5 260v1m0 4v1m0 10v4m0 2v11m0 6v2M751.5 77v8m0 174v1m0 5v1m0 8v2m0 3v3m0 10v2M752.5 84v2m0 172v1m0 6v3m0 3v3m0 5v1m0 12v1M753.5 258v1m0 8v4m0 8v3m0 8v2M754.5 84v2m0 172v8m0 15v9M755.5 82v2m0 181v6M756.5 79v3m0 179v6m0 3v2m0 4v7m0 7v11M757.5 77v2m0 4v3m0 173v2m0 5v2m0 3v1m0 4v1m0 5v3m0 4v1m0 6v5M758.5 80v3m0 175v1m0 8v1m0 3v1m0 3v1m0 8v2m0 3v1m0 4v2M759.5 77v3m0 178v2m0 5v2m0 3v1m0 3v1m0 10v1m0 3v2m0 3v1M760.5 259v6m0 4v1m0 4v1m0 10v2m0 3v2m0 2v4M761.5 77v8m0 184v1m0 4v3m0 8v1m0 5v5m0 1v4M762.5 84v2m0 183v4m0 3v9m0 10v6M763.5 256v2m0 14v6m0 8v15M764.5 80v6m0 171v3m0 9v6m0 2v4m0 5v1M765.5 79v1m0 179v2m0 7v1m0 5v3m0 3v3m0 3v2M766.5 79v1m0 180v1m0 7v4m0 4v1m0 5v1m0 4v3m0 8v3M767.5 77v2m0 181v2m0 9v5m0 6v2m0 5v4m0 5v3M768.5 256v16m0 11v3m0 6v3M769.5 86v1m0 172v1m0 11v6m0 8v4m0 5v1M770.5 77v9m0 172v1m0 17v2m0 10v2m0 4v2M771.5 256v2m0 8v3m0 8v1m0 10v1m0 6v1M772.5 84v3m0 179v2m0 9v1m0 5v5m0 6v1M773.5 77v2m0 4v1m0 193v6m0 4v7M774.5 78v1m0 4v1m0 188v7m0 6v2m0 11v3M775.5 77v1m0 5v1m0 181v7m0 6v2m0 4v1m0 12v1M776.5 83v4m0 174v4m0 14v2m0 3v1m0 11v1M777.5 260v1m0 5v9m0 5v1m0 3v2m0 10v1M778.5 82v5m0 172v1m0 5v1m0 8v1m0 5v1m0 4v1m0 10v1M779.5 81v1m0 176v1m0 6v2m0 6v1m0 6v2m0 3v3m0 5v3M780.5 77v1m0 3v2m0 3v1m0 171v2m0 6v2m0 5v1m0 7v2m0 4v6M781.5 77v2m0 3v1m0 3v1m0 171v1m0 8v1m0 5v3m0 6v19M782.5 78v1m0 3v2m0 171v3m0 8v1m0 8v3m0 10v13M783.5 78v1m0 4v4m0 178v1m0 10v1m0 6v5M784.5 77v1m0 8v1m0 178v1m0 5v5m0 7v2M785.5 265v6m0 13v3m0 3v11M786.5 266v14m0 6v4m0 3v8M787.5 77v6m0 176v7m0 12v1m0 12v2m0 4v4M788.5 82v3m0 169v5m0 3v10m0 4v2m0 13v1m0 5v1M789.5 84v2m0 172v4m0 8v1m0 3v2m0 4v7m0 4v2m0 4v3M790.5 85v2m0 168v3m0 11v1m0 3v1m0 5v1m0 6v1m0 5v2m0 5v2M791.5 86v1m0 166v2m0 7v2m0 5v1m0 3v1m0 5v7m0 7v2M792.5 85v1m0 174v2m0 1v2m0 4v1m0 3v1m0 20v2M793.5 84v1m0 168v1m0 6v1m0 3v1m0 4v1m0 3v1m0 20v1M794.5 83v1m0 169v3m0 4v4m0 4v1m0 4v1m0 9v11M795.5 81v2m0 172v4m0 7v2m0 5v1m0 5v4m0 7v11M796.5 78v3m0 171v5m0 1v8m0 6v1m0 3v3m0 6v5m0 1v10M797.5 77v1m0 178v16m0 2v2m0 7v2m0 3v3m0 1v9M798.5 77v4m0 171v2m0 19v1m0 7v2m0 3v2m0 2v2m0 2v3M799.5 80v5m0 168v14m0 5v1m0 7v1m0 5v2m0 2v2m0 2v1M800.5 84v7m0 160v3m0 12v1m0 4v1m0 8v2m0 5v3m0 1v7M801.5 77v5m0 8v2m0 161v2m0 10v1m0 4v1m0 10v6m0 2v3m0 1v3m0 1v4M802.5 81v2m0 171v11m0 2v3m0 4v7m0 5v2m0 3v2m0 2v2M803.5 82v1m0 180v4m0 4v3m0 6v7m0 4v1m0 3v1M804.5 77v5m0 176v5m0 5v3m0 18v2m0 3v1M805.5 83v10m0 163v2m0 10v3m0 17v1m0 5v1M806.5 82v1m0 9v2m0 162v4m0 10v15m0 3v3m0 3v7M807.5 82v1m0 176v21m0 4v5m0 1v11M808.5 82v2m0 163v15m0 17v8m0 1v13M809.5 83v3m0 175v2m0 23v7M810.5 85v7m0 167v3m0 4v11m0 15v9M811.5 77v4m0 10v5m0 149v3m0 4v7m0 3v4m0 1v8m0 1v3m0 6v4m0 11v1M812.5 80v2m0 165v5m0 5v5m0 1v4m0 7v2m0 2v2m0 3v2m0 3v4m0 5v3M813.5 81v1m0 11v4m0 155v5m0 4v2m0 4v5m0 3v1m0 2v1m0 2v2m0 8v2m0 4v1M814.5 81v1m0 10v1m0 157v2m0 7v2m0 6v4m0 3v1m0 2v1m0 2v1m0 11v1m0 4v1M815.5 79v2m0 10v1m0 158v2m0 7v1m0 13v1m0 2v1m0 3v1m0 10v1m0 5v1M816.5 77v2m0 12v2m0 158v2m0 6v1m0 12v1m0 3v1m0 3v3m0 4v4m0 4v2M817.5 26v3m0 1v2m0 1v1m0 1v2m0 1v3m0 7v2m0 3v1m0 3v2m0 33v10m0 150v1m0 5v1m0 13v2m0 2v4m0 2v5m0 3v5M818.5 24v2m0 2v2m0 1v2m0 1v1m0 2v1m0 10v1m0 4v1m0 4v2m0 3v13m0 174v2m0 5v1m0 15v2m0 4v11M819.5 27v1m0 2v1m0 2v1m0 2v1m0 10v1m0 4v1m0 5v1m0 3v1m0 12v2m0 4v10m0 10v4m0 133v3m0 7v2m0 6v1m0 17v2m0 20v5M820.5 24v3m0 2v1m0 2v1m0 3v2m0 6v3m0 3v2m0 3v3m0 4v1m0 12v1m0 3v2m0 9v3m0 8v1m0 138v8m0 6v2m0 17v2m0 19v2m0 3v2M821.5 28v1m0 3v2m0 3v7m0 2v4m0 2v3m0 7v2m0 10v1m0 2v2m0 4v4m0 5v3m0 6v8m0 143v2m0 6v6m0 6v1m0 19v2m0 3v2M822.5 28v1m0 4v3m0 4v6m0 2v4m0 11v4m0 4v3m0 2v1m0 3v3m0 3v4m0 4v3m0 138v3m0 12v2m0 6v2m0 5v2m0 4v1m0 20v1m0 4v1M823.5 28v1m0 6v5m0 2v6m0 3v11m0 4v5m0 3v2m0 3v1m0 9v2m0 5v17m0 120v2m0 2v13m0 8v1m0 7v2m0 3v2m0 4v8m0 7v1m0 4v4M824.5 28v14m0 3v6m0 10v2m0 10v1m0 5v1m0 9v1m0 15v9m0 119v1m0 23v1m0 9v2m0 3v1m0 3v1m0 7v7m0 1v3m0 5v1M825.5 38v7m0 16v1m0 11v1m0 5v5m0 1v4m0 12v4m0 119v5m0 4v3m0 11v2m0 8v1m0 10v1m0 3v2m0 2v1m0 3v6m0 4v11M826.5 31v7m0 20v3m0 12v3m0 7v2m0 15v1m0 14v2m0 111v4m0 3v3m0 5v4m0 1v9m0 11v1m0 4v1m0 2v1m0 2v1m0 5v6m0 2v3M827.5 29v2m0 21v6m0 17v5m0 20v2m0 11v2m0 116v3m0 3v2m0 4v1m0 12v10m0 1v1m0 5v1m0 2v1m0 2v1m0 4v4m0 2v3m0 2v3M828.5 29v1m0 18v4m0 7v6m0 14v4m0 9v3m0 6v2m0 8v2m0 104v1m0 15v2m0 3v3m0 2v4m0 6v3m0 9v2m0 6v1m0 2v2m0 1v2m0 3v1m0 2v4m0 1v4m0 1v4M829.5 29v2m0 17v2m0 3v6m0 5v6m0 11v1m0 10v2m0 8v2m0 6v1m0 14v2m0 1v2m0 85v2m0 17v2m0 4v4m0 2v7m0 3v11m0 5v1m0 4v1m0 2v2m0 2v1m0 5v3m0 2v4M830.5 30v3m0 16v4m0 16v3m0 7v2m0 21v1m0 6v1m0 16v3m0 83v3m0 20v5m0 3v29m0 5v1m0 3v1m0 2v2m0 6v3m0 3v3M831.5 32v3m0 24v7m0 5v8m0 3v13m0 3v4m0 7v1m0 5v10m0 10v2m0 74v1m0 27v38m0 4v2m0 2v2m0 7v2M832.5 34v2m0 23v2m0 4v5m0 9v3m0 12v4m0 11v1m0 4v1m0 9v11m0 75v1m0 27v16m0 2v9m0 1v7m0 8v1m0 4v3m0 6v1M833.5 34v1m0 25v3m0 6v10m0 6v16m0 8v1m0 4v1m0 65v2m0 4v13m0 11v4m0 6v9m0 5v4m0 12v6m0 8v4m0 4v9m0 7v7M834.5 32v2m0 28v2m0 21v2m0 13v2m0 6v1m0 4v1m0 6v9m0 42v5m0 10v2m0 10v2m0 13v7m0 8v2m0 3v1m0 5v11m0 13v4M835.5 31v1m0 19v4m0 8v1m0 22v4m0 9v2m0 6v1m0 5v1m0 6v1m0 7v17m0 11v11m0 20v3m0 9v2m0 18v6m0 4v1m0 2v1m0 3v3m0 16v8M836.5 29v2m0 20v2m0 1v1m0 8v2m0 11v10m0 3v10m0 3v5m0 6v2m0 5v1m0 19v4m0 7v5m0 10v2m0 21v2m0 9v2m0 15v2m0 5v2m0 3v1m0 2v1m0 2v1m0 13v6m0 6v6M837.5 26v3m0 23v2m0 10v12m0 9v17m0 12v1m0 5v2m0 15v3m0 5v6m0 16v2m0 21v1m0 10v1m0 7v3m0 5v3m0 3v2m0 3v1m0 2v1m0 2v1m0 12v2m0 6v6m0 5v24M838.5 24v2m0 9v9m0 12v8m0 14v7m0 13v10m0 6v3m0 4v3m0 11v2m0 4v4m0 3v15m0 5v2m0 19v1m0 11v1m0 5v2m0 2v5m0 3v4m0 3v2m0 2v1m0 2v1m0 12v1m0 4v4m0 17v14m0 3v12M839.5 34v1m0 8v5m0 7v1m0 7v15m0 6v4m0 6v4m0 9v2m0 7v4m0 3v5m0 5v2m0 4v2m0 3v4m0 14v4m0 3v3m0 5v12m0 12v1m0 4v1m0 8v6m0 1v4m0 3v1m0 3v1m0 11v1m0 3v2m0 3v18m0 5v5m0 3v4M840.5 34v1m0 12v4m0 4v1m0 31v1m0 6v2m0 11v1m0 11v4m0 4v6m0 6v1m0 4v1m0 20v3m0 3v2m0 4v2m0 22v2m0 3v3m0 11v2m0 6v1m0 4v1m0 9v2m0 2v2m0 2v3m0 22v1m0 4v4m0 3v4m0 5v4M841.5 24v4m0 6v1m0 15v3m0 2v2m0 14v9m0 6v1m0 8v3m0 7v2m0 15v2m0 15v2m0 3v2m0 21v1m0 4v2m0 4v16m0 8v2m0 4v4m0 15v1m0 5v3m0 5v2m0 3v1m0 2v2m0 4v5m0 16v3m0 4v1m0 7v3m0 1v2M842.5 27v1m0 6v2m0 7v5m0 4v2m0 2v3m0 12v1m0 7v2m0 5v1m0 10v8m0 17v1m0 17v2m0 3v3m0 17v2m0 6v1m0 19v5m0 5v5m0 3v4m0 12v2m0 6v6m0 2v3m0 2v1m0 3v3m0 4v3m0 16v5m0 8v2m0 2v6M843.5 24v3m0 8v2m0 6v5m0 5v2m0 3v3m0 10v2m0 7v2m0 4v1m0 22v4m0 7v2m0 19v3m0 3v5m0 9v4m0 6v2m0 24v2m0 8v5m0 2v5m0 9v6m0 4v5m0 2v3m0 2v2m0 9v2m0 27v1M844.5 36v5m0 5v1m0 6v1m0 6v5m0 7v3m0 6v1m0 4v1m0 22v3m0 7v1m0 23v4m0 4v10m0 6v4m0 10v12m0 5v3m0 10v5m0 2v7m0 8v5m0 4v3m0 5v1m0 10v1m0 25v3M845.5 40v7m0 4v2m0 11v5m0 5v3m0 3v1m0 5v1m0 32v2m0 25v5m0 14v2m0 14v4m0 7v2m0 6v2m0 13v7m0 2v18m0 8v11m0 14v12M846.5 24v3m0 8v9m0 2v5m0 17v3m0 5v4m0 6v2m0 8v10m0 14v4m0 3v8m0 15v3m0 11v1m0 19v10m0 7v4m0 16v7m0 13v10m0 23v1M847.5 24v2m0 6v3m0 8v4m0 23v2m0 6v4m0 5v9m0 9v7m0 11v4m0 7v3m0 15v2m0 10v2m0 7v9m0 10v1m0 11v3m0 20v2m0 7v5m0 9v14m0 6v4M848.5 29v3m0 13v1m0 24v1m0 5v2m0 3v5m0 7v14m0 4v4m0 21v2m0 15v2m0 10v2m0 6v1m0 7v7m0 18v3m0 15v4m0 4v4m0 3v18m0 6v7M849.5 24v5m0 13v3m0 5v7m0 12v1m0 4v2m0 9v8m0 13v3m0 5v2m0 21v1m0 16v1m0 11v2m0 5v1m0 13v5m0 16v4m0 5v7m0 3v5m0 3v4m0 17v2m0 16v4M850.5 39v3m0 3v5m0 6v2m0 8v3m0 3v2m0 3v6m0 25v1m0 6v3m0 19v2m0 15v2m0 11v1m0 5v1m0 17v4m0 16v6m0 5v5m0 5v3m0 20v2m0 6v11m0 3v4M851.5 36v3m0 2v4m0 12v2m0 5v2m0 4v2m0 3v2m0 5v1m0 4v11m0 9v1m0 9v4m0 17v3m0 12v2m0 12v1m0 5v1m0 20v2m0 11v8m0 5v2m0 5v5m0 15v8m0 8v1m0 16v1m0 8v12M852.5 33v3m0 3v2m0 7v2m0 7v1m0 5v1m0 5v1m0 5v1m0 4v2m0 3v2m0 2v7m0 1v10m0 13v4m0 16v3m0 7v3m0 13v1m0 6v1m0 19v2m0 9v3m0 7v2m0 4v1m0 5v1m0 4v16m0 16v2m0 14v1m0 6v3M853.5 30v3m0 6v2m0 7v1m0 7v1m0 5v1m0 6v1m0 5v5m0 2v3m0 1v3m0 6v6m0 22v3m0 16v8m0 16v2m0 5v1m0 17v2m0 11v1m0 9v1m0 5v1m0 5v5m0 7v22m0 4v4m0 7v4m0 6v1M854.5 24v6m0 10v7m0 5v4m0 6v1m0 6v2m0 8v3m0 1v3m0 1v11m0 2v5m0 20v3m0 39v2m0 4v4m0 10v4m0 13v10m0 6v1m0 15v2m0 6v10m0 5v3m0 5v8m0 8v2M855.5 46v6m0 8v2m0 8v9m0 2v2m0 3v1m0 10v2m0 5v4m0 19v3m0 38v1m0 7v11m0 32v1m0 15v1m0 6v2m0 9v3m0 5v3m0 18v1M856.5 33v27m0 19v2m0 4v1m0 12v1m0 8v1m0 21v4m0 33v2m0 49v2m0 16v1m0 6v2m0 11v1m0 7v7m0 11v1M857.5 32v1m0 45v1m0 6v3m0 6v4m0 7v2m0 25v2m0 30v2m0 14v7m0 27v3m0 18v2m0 6v2m0 8v2m0 14v6m0 6v4M858.5 32v1m0 10v4m0 30v1m0 9v7m0 8v3m0 27v1m0 30v1m0 16v1m0 5v3m0 13v12m0 22v3m0 5v9m0 21v1m0 9v9m0 2v6M859.5 32v2m0 9v3m0 31v1m0 22v2m0 28v2m0 30v1m0 17v1m0 7v4m0 5v5m0 36v3m0 30v3m0 18v3M860.5 33v3m0 41v3m0 18v2m0 28v2m0 32v1m0 17v2m0 9v6m0 43v4m0 13v14M861.5 35v3m0 41v2m0 16v1m0 30v2m0 30v2m0 19v1m0 61v3m0 8v3M862.5 37v4m0 39v2m0 15v9m0 23v2m0 24v5m0 19v2m0 64v4m0 3v2M863.5 40v4m0 37v1m0 23v3m0 22v6m0 12v7m0 20v4m0 69v4M864.5 43v4m0 34v1m0 25v2m0 26v13m0 25v2m0 14v7m0 14v9m0 78v4M865.5 46v2m0 33v1m0 26v1m0 62v2m0 15v1m0 6v5m0 6v4m0 8v3m0 6v16m0 54v1M866.5 47v1m0 33v2m0 24v1m0 62v1m0 17v1m0 10v7m0 12v2m0 5v2m0 15v4m0 33v6m0 12v4M867.5 46v1m0 35v1m0 20v4m0 62v1m0 17v1m0 27v3m0 7v2m0 18v2m0 21v11m0 5v4M868.5 45v1m0 33v3m0 18v3m0 65v1m0 15v3m0 27v1m0 11v2m0 18v3m0 5v14m0 19v5M869.5 24v10m0 7v4m0 14v20m0 6v13m0 2v5m0 5v10m0 48v2m0 10v4m0 29v1m0 13v1m0 20v6m0 37v10M870.5 33v8m0 12v6m0 24v2m0 12v2m0 5v6m0 9v3m0 47v4m0 3v4m0 33v1m0 13v2M871.5 50v3m0 29v1m0 15v1m0 22v3m0 48v4m0 37v1m0 13v1M872.5 37v13m0 31v1m0 16v2m0 23v3m0 63v8m0 16v3m0 8v3M873.5 34v3m0 13v9m0 21v1m0 18v1m0 25v7m0 54v3m0 7v3m0 16v9M874.5 32v2m0 15v1m0 8v5m0 17v1m0 18v1m0 31v5m0 50v2m0 9v1m0 49v6M875.5 27v5m0 17v1m0 12v2m0 16v1m0 18v1m0 35v2m0 8v8m0 34v10m0 47v3m0 5v5M876.5 24v3m0 22v6m0 8v1m0 16v5m0 2v6m0 2v4m0 37v2m0 4v3m0 7v11m0 80v1m0 12v3M877.5 54v9m0 21v3m0 5v3m0 42v1m0 3v1m0 20v6m0 75v1m0 13v1M878.5 137v4m0 26v4m0 72v1m0 13v1m0 25v17M879.5 39v6m0 75v9m0 41v61m0 12v2m0 12v2m0 18v6m0 16v2M880.5 39v2m0 3v3m0 67v6m0 8v2m0 100v4m0 10v2m0 12v19M881.5 40v4m0 2v2m0 39v4m0 19v4m0 14v1m0 104v3m0 9v1m0 53v2M882.5 43v4m0 36v4m0 3v4m0 14v2m0 17v1m0 107v3m0 7v2m0 51v1M883.5 81v2m0 9v1m0 15v2m0 16v1m0 27v3m0 80v6m0 3v4m0 47v1M884.5 81v2m0 6v3m0 17v3m0 14v1m0 27v1m0 1v11m0 75v4m0 3v5m0 42v1M885.5 24v4m0 54v7m0 22v15m0 28v3m0 9v4m0 75v4m0 4v1m0 40v2M886.5 27v3m0 126v2m0 11v3m0 76v5m0 39v2M887.5 28v1m0 128v2m0 12v2m0 119v1M888.5 24v4m0 130v3m0 11v2m0 117v1M889.5 160v4m0 9v3m0 115v1M890.5 162v1m0 12v2m0 112v2M891.5 129v6m0 25v2m0 14v2m0 35v13m0 55v8M892.5 84v5m0 34v6m0 5v6m0 16v4m0 17v2m0 34v1m0 11v3m0 44v9M893.5 81v3m0 4v6m0 27v2m0 16v5m0 11v1m0 22v4m0 31v1m0 13v2m0 15v12m0 11v5M894.5 78v3m0 12v3m0 24v1m0 22v2m0 10v2m0 24v4m0 28v2m0 13v3m0 13v2m0 9v1m0 10v1M895.5 76v2m0 17v4m0 21v2m0 22v1m0 11v4m0 24v2m0 28v5m0 11v6m0 9v10m0 11v1M896.5 24v17m0 33v2m0 22v7m0 16v6m0 16v1m0 15v3m0 23v2m0 31v3m0 14v4m0 27v1M897.5 40v1m0 31v2m0 30v11m0 11v3m0 14v1m0 17v2m0 23v3m0 5v6m0 20v2m0 16v1m0 27v2M898.5 24v4m0 10v2m0 32v1m0 41v1m0 13v2m0 13v1m0 18v1m0 25v6m0 5v6m0 15v1m0 17v1m0 28v31M899.5 27v11m0 34v1m0 40v1m0 15v1m0 12v1m0 19v2m0 40v2m0 13v1m0 17v1m0 59v4M900.5 72v1m0 39v1m0 16v1m0 11v1m0 21v1m0 41v2m0 11v1m0 18v1M901.5 72v1m0 38v1m0 17v1m0 11v1m0 21v1m0 15v6m0 21v2m0 9v1m0 19v1m0 11v7M902.5 72v1m0 14v17m0 5v2m0 18v1m0 11v1m0 21v1m0 10v5m0 5v6m0 17v10m0 20v2m0 3v7m0 6v3M903.5 71v1m0 11v4m0 16v6m0 20v2m0 10v2m0 19v1m0 9v2m0 15v3m0 46v4m0 15v3M904.5 71v1m0 9v2m0 47v2m0 10v1m0 17v2m0 9v1m0 19v2m0 66v3M905.5 71v1m0 8v1m0 50v1m0 10v2m0 14v2m0 11v1m0 20v2m0 33v17m0 17v3M906.5 71v2m0 5v2m0 50v1m0 12v1m0 12v2m0 13v2m0 20v3m0 25v6m0 16v7m0 13v17M907.5 72v6m0 36v16m0 12v1m0 13v1m0 15v2m0 21v4m0 17v5m0 28v18m0 12v4M908.5 56v12m0 42v4m0 28v1m0 13v1m0 16v2m0 23v4m0 12v2m0 50v3m0 13v1M909.5 53v3m0 11v3m0 34v6m0 32v1m0 13v2m0 16v3m0 22v2m0 13v2m0 52v2m0 12v1M910.5 51v2m0 16v2m0 4v9m0 16v4m0 38v1m0 14v1m0 18v2m0 19v2m0 16v2m0 52v3m0 9v1M911.5 50v1m0 19v2m0 2v1m0 8v3m0 12v2m0 42v1m0 14v1m0 19v1m0 18v1m0 19v2m0 53v1m0 9v1"/>
<path stroke="#fff" stroke-width="1" fill="none" d="M601.5 150v3m0 1v3m0 1v5m0 1v6m0 2v6m0 4v9m0 6v4m0 2v3m0 3v4m0 2v3m0 1v3m0 1v2m0 2v2m0 1v2M602.5 148v1m0 1v2m0 1v3m0 1v5m0 1v6m0 1v5m0 3v3m0 5v10m0 3v3m0 2v4m0 3v3m0 2v2m0 1v3m0 1v3m0 1v2m0 1v3M603.5 147v1m0 1v3m0 1v2m0 1v4m0 2v5m0 2v4m0 2v10m0 7v6m0 2v3m0 3v4m0 2v3m0 2v1m0 2v2m0 1v3m0 1v2m0 2v2M604.5 145v3m0 1v3m0 1v2m0 1v3m0 1v6m0 1v4m0 2v18m0 4v4m0 2v4m0 2v4m0 2v3m0 1v2m0 1v2m0 2v2m0 2v2m0 1v3M605.5 143v4m0 1v3m0 1v2m0 1v3m0 1v5m0 2v4m0 1v7m0 6v10m0 3v3m0 2v4m0 3v3m0 2v2m0 2v1m0 2v2m0 1v3m0 1v2m0 2v2M606.5 142v5m0 1v3m0 1v2m0 1v2m0 1v5m0 1v4m0 2v5m0 3v5m0 8v5m0 2v3m0 2v5m0 2v3m0 2v2m0 1v2m0 1v2m0 2v2m0 2v2m0 1v2M607.5 141v5m0 1v3m0 1v2m0 1v2m0 1v4m0 2v4m0 1v4m0 3v15m0 4v3m0 2v3m0 3v4m0 2v3m0 1v2m0 1v2m0 2v2m0 1v3m0 1v2m0 2v1M608.5 139v1m0 1v4m0 1v4m0 1v2m0 1v2m0 1v2m0 2v4m0 2v3m0 2v21m0 2v3m0 2v4m0 3v3m0 2v2m0 2v1m0 2v2m0 1v2m0 2v2m0 2v2m0 1v1M609.5 137v2m0 1v4m0 1v4m0 1v2m0 1v2m0 1v2m0 1v4m0 2v3m0 2v8m0 11v5m0 2v3m0 2v5m0 2v3m0 2v2m0 1v2m0 1v2m0 2v2m0 2v2m0 1v2M610.5 136v3m0 1v4m0 1v3m0 1v3m0 1v2m0 1v2m0 1v3m0 1v4m0 1v6m0 4v10m0 4v3m0 2v3m0 2v5m0 2v3m0 1v2m0 2v1m0 2v2m0 2v2m0 1v2m0 2v2M611.5 134v4m0 1v4m0 1v4m0 1v2m0 1v2m0 1v2m0 1v3m0 1v3m0 2v4m0 3v17m0 2v3m0 2v3m0 3v4m0 1v3m0 1v3m0 1v2m0 1v3m0 1v2m0 2v2m0 2v2M612.5 133v4m0 1v4m0 1v4m0 1v3m0 1v2m0 1v1m0 1v3m0 1v3m0 1v4m0 2v9m0 7v5m0 2v3m0 2v4m0 2v3m0 2v2m0 2v2m0 1v2m0 2v2m0 2v2m0 2v2m0 1v2M613.5 132v4m0 1v5m0 1v3m0 1v3m0 1v2m0 1v2m0 1v2m0 1v3m0 1v3m0 2v9m0 2v6m0 4v3m0 3v2m0 3v3m0 2v3m0 2v2m0 1v2m0 2v2m0 2v2m0 2v2m0 1v2m0 2v1M614.5 129v2m0 1v3m0 1v5m0 1v3m0 1v3m0 1v2m0 1v2m0 1v2m0 1v3m0 1v3m0 1v9m0 2v11m0 2v4m0 2v3m0 2v3m0 2v3m0 1v2m0 2v2m0 2v2m0 1v3m0 1v2m0 2v2m0 1v1M615.5 129v2m0 1v3m0 1v4m0 1v3m0 1v3m0 1v3m0 1v2m0 1v2m0 1v2m0 1v3m0 1v9m0 1v14m0 3v3m0 2v3m0 3v2m0 2v2m0 2v2m0 1v3m0 1v2m0 2v2m0 2v2m0 2v1M616.5 127v1m0 1v2m0 1v3m0 1v4m0 1v3m0 1v2m0 1v3m0 1v2m0 1v2m0 1v2m0 1v3m0 1v8m0 2v7m0 4v6m0 2v3m0 3v3m0 2v2m0 1v3m0 1v2m0 2v2m0 2v2m0 2v2m0 2v2m0 1v2M617.5 127v1m0 1v2m0 1v3m0 1v3m0 1v3m0 1v2m0 1v3m0 1v2m0 1v3m0 1v2m0 1v3m0 1v5m0 3v7m0 2v3m0 4v4m0 2v4m0 2v3m0 1v2m0 2v2m0 2v2m0 2v2m0 1v3m0 1v3m0 1v2m0 2v1M618.5 127v1m0 1v2m0 1v3m0 1v3m0 1v2m0 1v3m0 1v2m0 1v3m0 1v2m0 1v2m0 1v3m0 1v4m0 2v8m0 2v8m0 2v4m0 3v3m0 2v2m0 2v2m0 2v2m0 1v3m0 1v2m0 2v2m0 2v2m0 2v2m0 1v1M619.5 125v1m0 1v1m0 1v2m0 1v3m0 1v3m0 1v2m0 1v2m0 1v2m0 1v3m0 1v2m0 1v3m0 1v3m0 1v4m0 1v8m0 1v11m0 3v4m0 2v3m0 1v3m0 2v2m0 1v2m0 2v2m0 2v2m0 1v3m0 1v3m0 1v2m0 2v1M620.5 125v1m0 1v1m0 1v2m0 1v3m0 1v3m0 1v2m0 1v2m0 1v2m0 1v2m0 1v3m0 1v2m0 1v3m0 1v4m0 1v7m0 2v14m0 2v4m0 1v3m0 2v3m0 1v2m0 2v2m0 1v3m0 1v2m0 2v2m0 2v2m0 2v2m0 1v1M621.5 124v1m0 1v2m0 1v2m0 1v3m0 1v3m0 1v2m0 1v1m0 1v2m0 1v2m0 1v3m0 1v2m0 1v4m0 1v3m0 1v6m0 2v6m0 7v4m0 2v3m0 2v3m0 2v2m0 2v2m0 1v2m0 2v2m0 1v3m0 1v3m0 1v3m0 1v2m0 1v1M622.5 124v1m0 1v2m0 1v2m0 1v3m0 2v2m0 1v2m0 1v1m0 1v2m0 1v2m0 1v2m0 1v3m0 1v3m0 1v4m0 1v5m0 1v6m0 2v6m0 2v4m0 2v3m0 2v3m0 2v2m0 1v2m0 2v2m0 1v2m0 2v2m0 1v3m0 1v3m0 1v2m0 1v1M623.5 123v2m0 1v2m0 1v2m0 1v4m0 1v2m0 1v2m0 1v1m0 1v2m0 1v1m0 1v2m0 1v3m0 1v4m0 1v3m0 1v5m0 1v4m0 3v9m0 2v4m0 2v3m0 2v3m0 1v2m0 2v2m0 1v2m0 1v3m0 1v2m0 2v2m0 2v2m0 1v2m0 1v1M624.5 122v3m0 1v2m0 1v2m0 2v3m0 1v2m0 1v2m0 1v1m0 1v1m0 1v2m0 1v2m0 1v2m0 1v4m0 1v4m0 1v4m0 1v3m0 2v13m0 3v3m0 2v3m0 2v2m0 2v2m0 2v1m0 2v1m0 2v2m0 1v3m0 1v3m0 1v2m0 2v1M625.5 122v2m0 1v3m0 1v3m0 1v3m0 1v2m0 1v2m0 1v1m0 1v1m0 1v2m0 1v1m0 1v3m0 1v3m0 1v4m0 1v4m0 1v3m0 1v6m0 7v4m0 2v3m0 2v3m0 2v2m0 2v2m0 1v2m0 1v2m0 1v2m0 1v3m0 1v3m0 1v3m0 1v2M626.5 121v3m0 1v2m0 1v4m0 1v3m0 1v2m0 1v2m0 1v1m0 1v1m0 1v1m0 1v2m0 1v2m0 1v4m0 1v4m0 1v4m0 1v2m0 1v4m0 3v6m0 3v3m0 2v3m0 2v3m0 2v2m0 2v1m0 2v1m0 1v2m0 1v2m0 1v3m0 1v3m0 1v3m0 1v2M627.5 120v3m0 1v3m0 1v3m0 1v3m0 1v2m0 1v2m0 1v2m0 1v1m0 1v1m0 1v2m0 1v2m0 1v3m0 1v4m0 1v4m0 1v2m0 1v3m0 2v11m0 2v3m0 2v3m0 2v3m0 2v2m0 2v1m0 1v1m0 1v2m0 1v2m0 1v3m0 1v3m0 1v3m0 1v2M628.5 120v3m0 1v3m0 1v3m0 1v3m0 1v2m0 1v2m0 1v2m0 1v1m0 1v1m0 1v2m0 1v2m0 1v3m0 1v4m0 1v3m0 1v3m0 1v2m0 1v6m0 4v4m0 3v2m0 2v3m0 1v4m0 2v2m0 1v1m0 1v1m0 2v1m0 1v2m0 1v3m0 1v3m0 2v2m0 1v2M629.5 119v3m0 1v3m0 1v4m0 1v2m0 1v2m0 1v2m0 1v2m0 1v2m0 1v1m0 1v2m0 1v2m0 1v3m0 1v3m0 1v4m0 1v2m0 1v2m0 1v4m0 3v3m0 4v3m0 2v2m0 2v2m0 2v4m0 1v2m0 1v1m0 2v1m0 1v1m0 1v2m0 1v3m0 1v4m0 1v2m0 2v1M630.5 118v3m0 1v4m0 1v3m0 1v3m0 1v2m0 1v2m0 1v2m0 1v2m0 1v1m0 1v2m0 1v2m0 1v3m0 1v3m0 1v3m0 1v3m0 1v1m0 1v3m0 2v9m0 2v3m0 2v2m0 2v2m0 2v3m0 2v1m0 2v1m0 1v1m0 1v1m0 2v1m0 2v2m0 1v4m0 1v3m0 1v2M631.5 118v3m0 1v3m0 1v4m0 1v2m0 1v2m0 1v2m0 1v2m0 1v2m0 1v2m0 1v2m0 1v2m0 1v2m0 1v4m0 1v3m0 1v2m0 1v2m0 1v2m0 1v12m0 2v3m0 1v3m0 1v3m0 1v4m0 1v2m0 1v1m0 1v1m0 1v2m0 1v2m0 1v2m0 2v3m0 1v3m0 1v2M632.5 118v3m0 1v3m0 1v3m0 1v3m0 1v1m0 1v2m0 1v2m0 1v3m0 1v2m0 1v2m0 1v2m0 1v2m0 1v3m0 1v3m0 1v2m0 1v2m0 1v2m0 1v6m0 4v4m0 2v2m0 2v2m0 1v3m0 2v3m0 1v2m0 1v1m0 1v1m0 2v1m0 1v2m0 1v3m0 1v3m0 2v2m0 1v2M633.5 116v1m0 1v2m0 1v4m0 1v3m0 1v2m0 1v2m0 1v1m0 1v3m0 1v2m0 1v3m0 1v2m0 1v2m0 1v2m0 1v3m0 1v2m0 1v3m0 1v2m0 1v1m0 1v4m0 3v3m0 4v2m0 2v2m0 1v2m0 2v3m0 1v3m0 1v2m0 1v1m0 2v1m0 1v1m0 2v1m0 2v2m0 2v3m0 1v2m0 2v1M634.5 116v1m0 1v2m0 1v4m0 1v3m0 1v2m0 1v1m0 1v2m0 1v2m0 1v3m0 1v2m0 1v2m0 1v2m0 1v3m0 1v2m0 1v3m0 1v2m0 1v2m0 1v2m0 1v3m0 1v9m0 2v2m0 2v1m0 2v2m0 1v3m0 1v3m0 1v2m0 1v2m0 1v1m0 1v2m0 1v2m0 1v3m0 1v3m0 1v3m0 1v1M635.5 115v2m0 1v2m0 2v3m0 1v3m0 1v2m0 1v1m0 1v1m0 1v2m0 1v3m0 1v3m0 1v2m0 1v2m0 1v2m0 1v3m0 1v2m0 1v3m0 1v2m0 1v1m0 1v3m0 1v11m0 2v2m0 1v2m0 1v2m0 2v2m0 2v2m0 1v2m0 1v2m0 1v1m0 2v1m0 2v1m0 2v2m0 2v2m0 2v2m0 1v1M636.5 115v2m0 1v3m0 1v3m0 1v3m0 1v2m0 1v1m0 1v1m0 1v2m0 1v2m0 1v4m0 1v2m0 1v2m0 1v2m0 1v2m0 1v3m0 1v2m0 1v2m0 1v2m0 1v2m0 1v3m0 8v2m0 2v1m0 2v1m0 2v2m0 1v3m0 1v2m0 2v1m0 2v1m0 2v1m0 1v2m0 1v2m0 1v3m0 1v3m0 1v2m0 1v1M637.5 115v2m0 1v3m0 1v3m0 1v3m0 1v2m0 1v1m0 1v1m0 1v1m0 1v3m0 1v3m0 1v3m0 1v2m0 1v2m0 1v2m0 1v2m0 1v3m0 1v2m0 1v1m0 1v3m0 1v2m0 1v7m0 2v2m0 1v2m0 1v2m0 1v2m0 1v3m0 1v3m0 1v2m0 1v2m0 1v1m0 2v1m0 2v1m0 2v2m0 2v2m0 1v2m0 1v1M638.5 113v1m0 1v2m0 2v2m0 1v3m0 1v3m0 1v2m0 1v1m0 1v1m0 1v1m0 1v3m0 1v3m0 1v2m0 1v2m0 1v2m0 1v2m0 1v3m0 1v2m0 1v2m0 1v2m0 1v2m0 1v2m0 1v9m0 2v1m0 2v1m0 2v1m0 1v2m0 1v3m0 1v3m0 1v2m0 1v2m0 1v2m0 1v2m0 1v2m0 1v3m0 1v2m0 1v2M639.5 113v1m0 1v3m0 1v2m0 1v3m0 1v3m0 1v1m0 1v2m0 1v1m0 1v1m0 1v3m0 1v3m0 1v2m0 1v2m0 1v2m0 1v2m0 1v2m0 1v3m0 1v2m0 1v2m0 1v2m0 1v2m0 1v10m0 1v2m0 1v2m0 1v1m0 2v1m0 2v2m0 2v2m0 1v2m0 2v1m0 2v1m0 2v1m0 2v1m0 2v2m0 1v2m0 2v2M640.5 112v2m0 1v3m0 1v2m0 2v2m0 1v3m0 1v1m0 1v2m0 1v1m0 1v1m0 1v3m0 1v3m0 1v2m0 1v2m0 1v2m0 1v2m0 1v2m0 1v3m0 1v2m0 1v2m0 1v1m0 1v2m0 1v11m0 2v1m0 1v2m0 1v2m0 1v2m0 1v3m0 1v2m0 2v2m0 1v2m0 1v2m0 1v2m0 1v2m0 1v2m0 1v3m0 1v2M641.5 112v2m0 1v3m0 1v3m0 1v2m0 2v2m0 1v1m0 1v2m0 1v1m0 1v1m0 1v3m0 1v3m0 1v2m0 1v2m0 1v2m0 1v2m0 1v2m0 1v2m0 1v3m0 1v1m0 1v2m0 1v2m0 1v12m0 1v1m0 2v1m0 1v2m0 1v2m0 1v3m0 1v3m0 1v2m0 2v1m0 2v1m0 2v1m0 1v2m0 1v2m0 1v3m0 1v2M642.5 112v2m0 1v3m0 1v3m0 1v3m0 1v2m0 1v1m0 1v2m0 1v1m0 1v1m0 1v3m0 1v3m0 1v2m0 1v1m0 1v3m0 1v2m0 1v2m0 1v2m0 1v3m0 1v1m0 1v2m0 1v1m0 1v13m0 3v2m0 1v2m0 1v2m0 1v3m0 1v3m0 1v3m0 1v2m0 1v2m0 1v1m0 2v1m0 1v2m0 1v3m0 1v2M643.5 112v2m0 1v3m0 1v3m0 1v3m0 1v2m0 1v1m0 1v1m0 1v2m0 1v1m0 2v2m0 1v3m0 1v2m0 1v1m0 1v2m0 1v3m0 1v2m0 1v2m0 1v3m0 1v1m0 1v2m0 1v1m0 1v14m0 2v2m0 1v2m0 1v2m0 1v3m0 1v3m0 1v3m0 1v2m0 1v2m0 1v2m0 1v1m0 2v1m0 2v2m0 1v2M644.5 110v1m0 1v2m0 1v3m0 1v3m0 1v3m0 1v1m0 1v2m0 1v1m0 1v2m0 1v2m0 1v2m0 2v2m0 1v2m0 1v1m0 1v2m0 1v3m0 1v2m0 1v2m0 1v3m0 1v1m0 1v2m0 1v1m0 1v14m0 2v2m0 1v2m0 1v2m0 1v3m0 1v3m0 1v3m0 1v2m0 1v2m0 1v2m0 1v2m0 1v1m0 1v3m0 1v2M645.5 110v1m0 1v2m0 1v3m0 1v3m0 2v2m0 1v1m0 1v2m0 1v1m0 1v2m0 1v2m0 1v3m0 1v2m0 1v2m0 1v1m0 1v2m0 1v3m0 1v2m0 1v2m0 1v3m0 1v1m0 1v2m0 1v1m0 1v14m0 2v2m0 1v2m0 1v2m0 1v3m0 1v3m0 1v3m0 1v2m0 1v2m0 1v2m0 1v1m0 1v2m0 1v3m0 1v2M646.5 109v2m0 1v2m0 1v3m0 1v4m0 1v2m0 1v1m0 1v1m0 1v2m0 1v2m0 1v2m0 1v3m0 1v2m0 1v2m0 1v1m0 1v2m0 1v2m0 1v2m0 1v3m0 1v3m0 1v1m0 1v2m0 1v1m0 1v14m0 1v3m0 1v2m0 1v2m0 1v3m0 1v3m0 1v3m0 1v2m0 1v2m0 1v2m0 1v1m0 1v2m0 1v2m0 1v3M647.5 109v2m0 1v2m0 1v3m0 1v3m0 1v3m0 1v1m0 1v1m0 1v2m0 1v1m0 1v3m0 1v3m0 1v2m0 1v2m0 1v1m0 1v2m0 1v2m0 1v2m0 1v3m0 1v3m0 1v1m0 2v1m0 1v1m0 2v12m0 1v4m0 1v2m0 1v2m0 1v3m0 1v3m0 1v2m0 1v3m0 1v2m0 1v1m0 1v2m0 1v2m0 1v2m0 1v2m0 1v1M648.5 109v2m0 1v2m0 1v3m0 1v3m0 1v2m0 1v2m0 1v1m0 1v2m0 1v1m0 1v3m0 1v3m0 1v2m0 1v2m0 1v1m0 1v2m0 1v2m0 1v2m0 1v3m0 1v3m0 1v2m0 1v1m0 2v1m0 1v12m0 1v3m0 1v3m0 1v2m0 1v3m0 1v3m0 1v2m0 1v2m0 1v2m0 1v2m0 1v2m0 1v1m0 1v3m0 1v2m0 1v1M649.5 109v2m0 1v2m0 1v3m0 1v3m0 1v2m0 1v2m0 1v1m0 1v2m0 1v1m0 2v2m0 2v2m0 2v1m0 1v2m0 1v1m0 1v2m0 1v2m0 1v2m0 1v3m0 1v2m0 1v3m0 1v2m0 1v1m0 2v10m0 1v4m0 1v2m0 1v3m0 1v3m0 1v2m0 1v3m0 1v2m0 1v2m0 1v2m0 1v1m0 1v2m0 1v2m0 1v3m0 1v1M650.5 109v2m0 1v2m0 1v3m0 1v3m0 1v2m0 1v2m0 1v1m0 1v2m0 1v2m0 1v3m0 1v3m0 1v1m0 1v2m0 1v1m0 1v2m0 1v2m0 1v2m0 1v3m0 1v2m0 1v3m0 1v2m0 1v2m0 1v10m0 1v3m0 1v3m0 1v3m0 1v2m0 1v3m0 1v2m0 1v3m0 1v2m0 1v2m0 1v1m0 1v2m0 1v2m0 1v3m0 1v1M651.5 107v1m0 1v2m0 1v2m0 1v3m0 1v3m0 1v2m0 1v2m0 1v1m0 1v2m0 1v2m0 1v3m0 1v3m0 1v1m0 1v2m0 1v1m0 1v2m0 1v2m0 1v2m0 1v3m0 1v2m0 1v3m0 1v2m0 2v1m0 2v8m0 1v3m0 1v4m0 1v2m0 1v3m0 1v3m0 1v2m0 1v2m0 1v3m0 1v1m0 1v2m0 1v1m0 1v3m0 1v2m0 1v2M652.5 107v1m0 1v2m0 1v2m0 2v2m0 2v2m0 2v1m0 2v1m0 1v1m0 2v1m0 1v2m0 1v3m0 2v2m0 1v1m0 1v2m0 1v1m0 1v2m0 1v2m0 1v2m0 1v3m0 1v2m0 1v3m0 1v3m0 1v2m0 2v6m0 1v4m0 1v3m0 1v3m0 1v2m0 1v3m0 1v3m0 1v2m0 1v2m0 1v2m0 1v2m0 1v1m0 1v2m0 1v3m0 1v2M653.5 106v2m0 1v2m0 1v3m0 1v3m0 1v3m0 1v2m0 1v1m0 1v2m0 1v1m0 1v2m0 1v4m0 1v2m0 1v1m0 1v2m0 1v1m0 1v2m0 1v2m0 1v2m0 1v3m0 1v2m0 1v3m0 1v3m0 3v1m0 7v4m0 1v4m0 1v2m0 1v3m0 1v3m0 1v3m0 1v2m0 1v2m0 1v2m0 1v1m0 1v2m0 1v2m0 1v3m0 1v2M654.5 106v2m0 1v2m0 1v3m0 2v2m0 2v2m0 1v2m0 1v1m0 2v1m0 1v1m0 1v2m0 2v3m0 1v2m0 1v1m0 2v1m0 1v1m0 2v1m0 1v2m0 1v2m0 1v3m0 1v2m0 1v3m0 1v5m0 4v8m0 1v4m0 1v3m0 1v2m0 1v3m0 1v3m0 1v3m0 1v2m0 1v2m0 1v1m0 1v2m0 1v2m0 1v2m0 1v3M655.5 106v2m0 1v2m0 2v3m0 1v3m0 1v2m0 2v1m0 1v2m0 1v1m0 1v1m0 2v2m0 1v3m0 1v2m0 1v2m0 1v1m0 1v2m0 1v1m0 1v2m0 1v2m0 1v3m0 1v2m0 2v2m0 2v15m0 1v5m0 1v2m0 1v3m0 1v3m0 1v3m0 1v2m0 1v2m0 1v2m0 1v2m0 1v2m0 1v1m0 1v3m0 1v3M656.5 107v1m0 2v2m0 2v2m0 1v3m0 1v3m0 1v1m0 2v1m0 1v1m0 1v2m0 1v2m0 1v3m0 1v2m0 1v2m0 1v1m0 2v1m0 1v1m0 2v1m0 1v2m0 2v2m0 1v3m0 1v3m0 1v13m0 2v6m0 1v2m0 1v2m0 1v3m0 1v3m0 1v3m0 1v2m0 1v2m0 1v2m0 1v1m0 1v2m0 1v3m0 1v3M657.5 104v2m0 1v2m0 1v3m0 1v2m0 2v2m0 1v3m0 1v2m0 1v1m0 1v1m0 2v1m0 1v2m0 1v3m0 1v2m0 1v2m0 1v2m0 1v1m0 1v2m0 1v1m0 2v2m0 1v2m0 2v2m0 1v3m0 3v8m0 3v7m0 1v3m0 1v2m0 1v3m0 1v3m0 1v3m0 1v2m0 1v2m0 1v2m0 1v1m0 1v2m0 1v3m0 1v3M658.5 104v2m0 1v2m0 2v2m0 1v3m0 1v2m0 2v2m0 1v2m0 1v1m0 1v2m0 1v1m0 1v2m0 2v2m0 1v2m0 2v1m0 2v1m0 1v1m0 2v1m0 1v2m0 1v2m0 2v2m0 1v2m0 2v4m0 9v10m0 1v2m0 1v2m0 1v3m0 1v4m0 1v2m0 1v3m0 1v2m0 1v2m0 1v1m0 1v2m0 1v3m0 1v3M659.5 105v1m0 2v2m0 1v2m0 2v2m0 1v3m0 1v2m0 1v2m0 1v1m0 2v1m0 1v1m0 2v2m0 1v2m0 1v3m0 1v2m0 1v1m0 2v1m0 1v1m0 2v1m0 2v2m0 1v2m0 2v2m0 2v22m0 1v2m0 1v2m0 1v3m0 1v3m0 1v3m0 1v3m0 1v2m0 1v2m0 1v1m0 1v2m0 1v2m0 1v4M660.5 103v1m0 1v2m0 1v2m0 2v2m0 1v2m0 1v3m0 1v2m0 1v2m0 1v2m0 1v1m0 1v2m0 1v2m0 1v2m0 2v2m0 1v2m0 1v2m0 1v1m0 1v2m0 1v2m0 1v2m0 2v2m0 1v3m0 2v20m0 1v2m0 1v3m0 1v2m0 1v4m0 1v3m0 1v2m0 1v3m0 1v2m0 1v1m0 1v2m0 1v2m0 1v3M661.5 103v1m0 1v2m0 2v2m0 1v2m0 1v2m0 1v2m0 1v3m0 1v2m0 1v2m0 1v1m0 1v2m0 1v2m0 1v3m0 1v2m0 1v2m0 2v1m0 1v1m0 2v1m0 2v1m0 2v2m0 2v1m0 2v3m0 5v1m0 8v6m0 1v3m0 1v2m0 1v3m0 1v3m0 1v3m0 1v3m0 1v2m0 1v2m0 1v2m0 1v2m0 1v2m0 1v3M662.5 102v2m0 2v2m0 1v2m0 2v1m0 1v2m0 1v2m0 1v3m0 1v2m0 1v2m0 1v1m0 1v2m0 1v2m0 1v3m0 1v2m0 2v2m0 1v1m0 2v1m0 1v2m0 1v2m0 2v2m0 2v1m0 3v5m0 2v7m0 4v2m0 1v3m0 1v3m0 1v3m0 1v3m0 1v3m0 1v3m0 1v2m0 1v2m0 1v2m0 1v2m0 1v2m0 1v3M663.5 102v3m0 1v2m0 2v2m0 1v1m0 2v1m0 1v2m0 2v2m0 1v2m0 1v2m0 1v1m0 2v1m0 2v1m0 2v2m0 1v3m0 1v2m0 1v2m0 1v1m0 1v2m0 2v2m0 1v3m0 2v2m0 3v15m0 3v3m0 1v3m0 1v4m0 1v3m0 1v2m0 1v3m0 1v3m0 1v2m0 1v2m0 1v2m0 1v2m0 1v2m0 1v1M664.5 103v2m0 1v3m0 1v2m0 1v2m0 1v1m0 2v2m0 1v2m0 1v2m0 1v2m0 1v2m0 1v2m0 1v2m0 1v2m0 2v2m0 1v2m0 1v2m0 1v1m0 2v2m0 1v2m0 2v3m0 2v3m0 12v9m0 1v3m0 1v4m0 1v3m0 1v3m0 1v2m0 1v3m0 1v3m0 1v2m0 1v2m0 1v2m0 1v2m0 1v1M665.5 101v1m0 1v2m0 1v3m0 1v2m0 1v2m0 1v2m0 1v2m0 1v2m0 1v2m0 1v2m0 1v2m0 1v2m0 1v2m0 2v2m0 1v2m0 1v2m0 1v2m0 1v2m0 1v2m0 2v2m0 2v3m0 2v13m0 4v4m0 2v3m0 1v4m0 1v4m0 1v2m0 1v3m0 1v2m0 1v3m0 1v3m0 1v2m0 1v1m0 1v3m0 1v1M666.5 100v2m0 1v2m0 2v2m0 2v1m0 2v1m0 1v2m0 1v2m0 1v2m0 1v2m0 1v2m0 1v2m0 1v2m0 2v2m0 1v2m0 1v2m0 1v2m0 1v2m0 1v2m0 2v2m0 2v2m0 2v3m0 4v13m0 5v4m0 1v4m0 1v4m0 1v3m0 1v2m0 1v3m0 1v3m0 1v2m0 1v2m0 1v2m0 1v2m0 1v2M667.5 100v2m0 1v3m0 1v3m0 1v2m0 1v1m0 2v1m0 1v2m0 1v2m0 1v2m0 1v2m0 1v2m0 1v3m0 1v2m0 1v2m0 1v2m0 1v2m0 1v2m0 1v3m0 1v3m0 2v2m0 3v4m0 4v17m0 2v4m0 1v5m0 1v2m0 1v2m0 1v3m0 1v3m0 1v3m0 1v2m0 1v2m0 1v2m0 1v2"/>
<path stroke="#fff" stroke-width="1" fill="none" d="M668.5 92v1M669.5 92v1M670.5 89v1m0 2v1M671.5 89v1m0 2v1M672.5 89v1m0 2v1M673.5 89v1m0 2v1M674.5 89v1m0 2v1M675.5 89v1m0 2v1M676.5 89v2m0 1v1M677.5 90v1m0 1v1M678.5 90v1m0 1v1M679.5 90v1m0 1v1M680.5 90v1m0 1v1M681.5 90v1m0 1v1m0 1v1M682.5 90v1m0 1v1m0 1v1M683.5 89v1m0 2v1m0 1v1M684.5 88v1m0 3v1m0 1v1M685.5 87v1m0 4v2M686.5 87v1M687.5 86v1M688.5 86v1M689.5 86v1M690.5 86v1M691.5 86v1M692.5 86v1M693.5 86v1m0 2v2M694.5 85v1m0 2v1m0 1v2M695.5 85v1m0 2v1m0 2v1M696.5 85v2m0 1v1m0 2v1M697.5 86v1m0 1v1m0 1v1M698.5 86v1m0 1v1m0 1v1M699.5 86v1m0 1v1m0 1v1M700.5 86v1m0 1v2M701.5 86v1M702.5 86v1m0 5v3M703.5 86v1m0 4v1m0 1v1M704.5 86v2m0 3v1M705.5 87v1m0 3v1M706.5 87v2m0 1v1M707.5 88v1m0 1v1M708.5 88v1m0 1v1M709.5 88v1m0 1v1M710.5 88v2M711.5 84v1M712.5 84v2m0 3v2M713.5 85v1m0 2v1m0 1v1M714.5 85v1m0 2v1m0 1v1M715.5 85v1m0 2v1m0 1v1M716.5 85v1m0 2v1m0 1v2M717.5 85v1m0 2v1m0 2v1M718.5 85v1m0 2v1m0 2v1M719.5 85v1m0 1v1m0 3v1M720.5 85v1m0 1v1m0 3v1M721.5 85v1m0 1v1m0 3v1M722.5 85v1m0 1v1m0 3v1M723.5 87v1m0 3v1M724.5 87v1m0 3v1M725.5 87v1m0 3v1M726.5 87v1m0 3v1m0 2v1M727.5 87v1m0 3v1m0 2v1M728.5 87v1m0 3v1m0 2v1M729.5 87v1m0 3v1m0 2v1M730.5 87v1m0 3v1m0 2v1M731.5 87v1m0 3v1m0 2v1M732.5 87v1m0 3v4M733.5 87v1m0 5v1M734.5 87v1M735.5 87v2M736.5 88v1M737.5 88v1M738.5 88v1M739.5 88v1M740.5 88v1M741.5 88v1M742.5 88v1M743.5 87v1M744.5 87v1M745.5 85v1m0 1v1M746.5 85v1m0 1v1M747.5 85v1m0 1v1M748.5 85v2M749.5 85v1M750.5 89v2M751.5 89v2M752.5 89v2M753.5 89v2M754.5 89v2M755.5 88v1m0 1v1m0 3v1M756.5 88v1m0 1v1m0 3v1M757.5 88v1m0 1v1m0 3v1M758.5 88v1m0 1v1m0 3v1M759.5 88v1m0 1v1m0 2v1M760.5 88v1m0 1v1m0 2v1M761.5 88v1m0 1v1m0 2v1M762.5 88v2m0 3v1M763.5 88v2m0 3v1M764.5 88v2m0 2v1M765.5 88v2m0 2v1M766.5 88v2m0 2v1M767.5 88v1m0 2v1M768.5 91v1M769.5 91v1M770.5 90v1M771.5 90v1m0 1v3M772.5 90v1m0 1v1m0 1v1M773.5 90v1m0 1v1M774.5 90v1m0 1v1M775.5 90v1m0 1v1M776.5 86v4m0 2v1M777.5 86v1m0 1v1m0 3v1M778.5 86v1m0 4v1M779.5 86v1m0 4v1M780.5 86v1m0 4v1M781.5 86v1m0 4v1M782.5 86v1m0 4v1M783.5 86v1m0 3v1M784.5 90v1M785.5 90v1M786.5 90v1M787.5 90v1M788.5 90v1M789.5 90v1M790.5 89v1M791.5 89v1M792.5 89v1M793.5 89v1M794.5 89v2M795.5 90v1M796.5 90v1M797.5 90v2M798.5 91v3M799.5 93v1M800.5 93v2M801.5 94v1M802.5 94v1M803.5 94v1M804.5 94v1"/>
<path stroke="#fff" stroke-width="1" fill="none" d="M700.5 26v3m0 2v1m0 2v1m0 1v1m0 2v2m0 1v3m0 1v1m0 2v8m0 3v2m0 2v2M701.5 25v1m0 1v3m0 1v3m0 1v1m0 1v2m0 1v2m0 1v3m0 1v7m0 1v1m0 4v2m0 2v3M702.5 24v1m0 1v1m0 2v2m0 2v2m0 1v1m0 4v1m0 1v12m0 5v2m0 2v3M703.5 24v2m0 4v1m0 2v1m0 1v1m0 5v1m0 1v6m0 3v5m0 3v2m0 3v2M704.5 24v5m0 1v1m0 1v1m0 1v1m0 5v1m0 2v6m0 1v5m0 1v2m0 2v2m0 3v2M705.5 28v2m0 2v2m0 5v1m0 4v6m0 4v1m0 2v2m0 1v3m0 3v1M706.5 24v3m0 4v1m0 1v1m0 4v1m0 5v6m0 4v2m0 2v1m0 1v1m0 1v1m0 3v1M707.5 26v2m0 3v1m0 1v1m0 4v1m0 5v7m0 4v1m0 2v5m0 1v3M708.5 26v1m0 4v1m0 1v1m0 2v2m0 5v1m0 2v5m0 3v1m0 4v1m0 1v2m0 1v1m0 1v1M709.5 26v1m0 3v1m0 2v3m0 5v2m0 3v6m0 1v1m0 5v4m0 1v1M710.5 24v2m0 4v1m0 10v1m0 4v7m0 1v5m0 1v5m0 1v1M711.5 26v3m0 1v1m0 1v2m0 6v1m0 5v8m0 4v2m0 2v4M712.5 24v2m0 2v1m0 1v2m0 1v2m0 2v2m0 1v1m0 6v5m0 1v6m0 3v4M713.5 28v4m0 2v1m0 2v3m0 3v4m0 2v4m0 1v5m0 3v5M714.5 26v2m0 1v3m0 2v2m0 1v3m0 2v1m0 6v2m0 1v2m0 1v5m0 2v3m0 1v1M715.5 24v2m0 1v1m0 1v7m0 3v1m0 2v5m0 3v2m0 1v2m0 1v4m0 2v5M716.5 27v5m0 2v3m0 2v1m0 1v1m0 1v1m0 2v2m0 4v1m0 2v6m0 1v5M717.5 28v4m0 2v4m0 1v1m0 1v8m0 3v1m0 1v1m0 1v7m0 1v2M718.5 24v3m0 1v10m0 1v1m0 1v3m0 2v4m0 1v1m0 2v1m0 2v3m0 1v1m0 2v2M719.5 26v7m0 1v4m0 1v4m0 1v6m0 1v2m0 1v1m0 2v4m0 3v2M720.5 24v2m0 1v6m0 2v3m0 1v5m0 2v1m0 1v2m0 2v1m0 1v1m0 2v4m0 3v2M721.5 25v6m0 1v1m0 2v5m0 1v3m0 2v1m0 1v2m0 2v1m0 1v1m0 1v1m0 1v1m0 1v1m0 3v3M722.5 26v5m0 1v1m0 1v1m0 1v7m0 3v2m0 1v1m0 2v1m0 1v2m0 2v1m0 1v1m0 2v1m0 1v2M723.5 26v7m0 1v4m0 1v4m0 3v2m0 1v1m0 2v1m0 4v1m0 2v1m0 2v2m0 1v1M724.5 26v8m0 1v5m0 1v2m0 2v2m0 1v1m0 3v1m0 4v1m0 1v1m0 2v1m0 1v3M725.5 24v8m0 2v1m0 1v4m0 1v4m0 1v2m0 4v1m0 3v1m0 2v1m0 2v1m0 1v3M726.5 25v7m0 1v1m0 1v3m0 1v1m0 1v1m0 3v1m0 1v1m0 3v1m0 4v1m0 1v1m0 3v1m0 1v3M727.5 25v8m0 1v1m0 1v2m0 1v1m0 1v2m0 1v1m0 1v1m0 1v3m0 4v1m0 1v1m0 4v1m0 1v3M728.5 25v6m0 2v1m0 1v1m0 1v1m0 1v2m0 1v2m0 2v1m0 1v1m0 6v1m0 1v1m0 4v5M729.5 24v1m0 1v7m0 1v1m0 1v1m0 3v3m0 2v1m0 2v1m0 5v1m0 1v1m0 6v4M730.5 25v5m0 2v2m0 1v1m0 6v3m0 3v1m0 5v1m0 1v1m0 6v4M731.5 24v1m0 1v4m0 1v1m0 2v1m0 13v1m0 4v1m0 1v1m0 3v3m0 1v4M732.5 25v3m0 1v2m0 2v1m0 2v3m0 9v2m0 3v1m0 1v1m0 1v2m0 2v1m0 1v4M733.5 24v1m0 1v2m0 1v1m0 2v1m0 2v1m0 2v1m0 10v2m0 2v1m0 1v2m0 4v1m0 1v3M734.5 25v2m0 1v3m0 1v1m0 2v1m0 2v2m0 10v1m0 2v2m0 1v1m0 4v1m0 1v3M735.5 24v1m0 1v2m0 2v1m0 1v1m0 2v1m0 3v1m0 10v2m0 1v2m0 1v1m0 4v2m0 1v2M736.5 25v1m0 1v1m0 2v1m0 1v2m0 1v1m0 3v1m0 11v2m0 1v1m0 1v1m0 4v3m0 1v1M737.5 24v1m0 1v1m0 3v2m0 1v3m0 3v1m0 14v1m0 1v1m0 3v1m0 1v3M738.5 25v1m0 5v2m0 1v3m0 2v1m0 8v2m0 4v1m0 1v1m0 3v1m0 1v3m0 1v1M739.5 24v1m0 7v5m0 2v1m0 3v3m0 2v2m0 4v1m0 1v1m0 3v1m0 1v4M740.5 33v1m0 1v2m0 1v1m0 3v1m0 2v1m0 2v3m0 3v4m0 2v6M741.5 24v2m0 7v5m0 3v1m0 3v1m0 2v1m0 1v1m0 4v4m0 2v5M742.5 25v2m0 7v2m0 4v1m0 4v1m0 2v1m0 1v2m0 4v3m0 2v6M743.5 25v1m0 8v2m0 4v1m0 4v1m0 1v1m0 3v1m0 2v5m0 1v6M744.5 24v1m0 3v2m0 4v3m0 2v1m0 4v1m0 2v1m0 3v1m0 1v1m0 2v4m0 1v6M745.5 27v1m0 1v2m0 3v1m0 1v1m0 1v1m0 4v1m0 3v1m0 3v1m0 1v1m0 2v11M746.5 25v2m0 3v2m0 2v4m0 4v1m0 3v1m0 4v3m0 1v6m0 1v5M747.5 24v1m0 2v3m0 1v1m0 3v1m0 5v1m0 3v1m0 2v3m0 1v3m0 1v11M748.5 25v2m0 2v3m0 3v2m0 4v1m0 2v1m0 3v1m0 1v5m0 1v5m0 1v5M749.5 24v1m0 2v2m0 1v2m0 4v2m0 3v1m0 2v1m0 2v1m0 3v4m0 1v5m0 2v4M750.5 24v3m0 1v4m0 1v2m0 2v2m0 1v1m0 3v1m0 2v1m0 3v4m0 1v5m0 1v5M751.5 28v1m0 1v2m0 1v3m0 2v1m0 1v2m0 2v2m0 1v1m0 3v4m0 1v6m0 1v2m0 1v1M752.5 28v2m0 1v1m0 1v1m0 1v1m0 2v2m0 1v1m0 3v4m0 1v1m0 1v3m0 1v5m0 1v4M753.5 27v2m0 1v1m0 2v1m0 1v1m0 3v1m0 1v9m0 1v3m0 2v8m0 1v1M754.5 26v2m0 1v1m0 3v2m0 4v1m0 5v4m0 1v1m0 1v2m0 2v6m0 1v2M755.5 25v8m0 6v2m0 1v8m0 1v2m0 1v10m0 1v2M756.5 24v1m0 1v3m0 3v1m0 7v2m0 3v3m0 2v1m0 1v2m0 1v5m0 3v1m0 1v2M757.5 25v6m0 1v6m0 4v7m0 1v3m0 3v5m0 1v1m0 2v2M758.5 24v4m0 2v4m0 3v3m0 1v1m0 3v5m0 1v2m0 3v6m0 3v1M759.5 24v1m0 1v8m0 5v3m0 1v5m0 2v1m0 1v8m0 1v2m0 2v2M760.5 25v3m0 2v4m0 1v4m0 1v3m0 2v3m0 2v2m0 1v1m0 1v2m0 1v2m0 1v4m0 1v1M761.5 25v3m0 2v5m0 3v5m0 2v5m0 1v2m0 2v3m0 1v2m0 3v1m0 1v1M762.5 24v1m0 1v2m0 2v5m0 2v6m0 2v4m0 2v2m0 2v4m0 1v1m0 3v3M763.5 25v1m0 1v1m0 2v5m0 1v1m0 1v5m0 3v2m0 2v1m0 1v3m0 1v4m0 5v2M764.5 25v1m0 1v1m0 2v5m0 1v1m0 2v4m0 3v3m0 1v1m0 2v1m0 2v4m0 4v1m0 1v1M765.5 25v1m0 1v1m0 2v5m0 1v1m0 2v4m0 3v1m0 1v2m0 5v3m0 1v1m0 4v2M766.5 25v1m0 1v1m0 2v5m0 1v1m0 2v4m0 3v1m0 7v1m0 1v3m0 4v1m0 1v1M767.5 25v1m0 1v1m0 1v1m0 1v4m0 1v1m0 2v4m0 3v1m0 6v1m0 1v2m0 1v1m0 4v1m0 1v1M768.5 25v1m0 1v1m0 1v2m0 1v4m0 3v5m0 1v1m0 1v6m0 1v1m0 1v2m0 5v1m0 1v1M769.5 25v1m0 1v2m0 1v1m0 1v5m0 2v6m0 1v1m0 6v1m0 1v1m0 1v1m0 1v2m0 2v2M770.5 25v3m0 2v2m0 1v2m0 1v1m0 2v5m0 1v8m0 1v1m0 1v1m0 1v1m0 1v1m0 2v4M771.5 26v1m0 2v1m0 1v1m0 1v2m0 1v1m0 2v4m0 1v8m0 1v1m0 1v1m0 2v1m0 1v2m0 1v1m0 1v1M772.5 24v4m0 1v1m0 1v1m0 1v6m0 1v4m0 1v8m0 1v1m0 3v3m0 2v2M773.5 25v4m0 2v1m0 1v1m0 1v1m0 1v1m0 2v3m0 1v10m0 5v1m0 4v3M774.5 26v1m0 4v1m0 1v4m0 3v1m0 1v10M775.5 26v1m0 4v2m0 1v4m0 2v1m0 2v10m0 4v3m0 2v5M776.5 26v1m0 5v1m0 2v6m0 2v4m0 1v3m0 1v2m0 2v1m0 2v2m0 1v1M777.5 25v1m0 6v2m0 2v2m0 1v1m0 2v4m0 1v5m0 1v1m0 1v1m0 1v7M778.5 24v1m0 8v1m0 3v1m0 3v1m0 1v4m0 1v4m0 1v2m0 1v1m0 2v8M779.5 27v2m0 3v1m0 4v2m0 2v1m0 1v4m0 2v4m0 1v2m0 4v5M780.5 26v1m0 1v2m0 1v1m0 6v2m0 1v14m0 2v8M781.5 25v1m0 3v2m0 1v4m0 3v1m0 1v6m0 1v7m0 1v1m0 3v6M782.5 24v1m0 4v3m0 3v4m0 2v6m0 1v6m0 1v1m0 5v6M783.5 24v2m0 2v3m0 1v5m0 4v6m0 1v6m0 1v1m0 5v4M784.5 25v2m0 1v7m0 1v2m0 3v7m0 1v5m0 1v2m0 3v1m0 1v5M785.5 26v6m0 2v5m0 2v6m0 1v7m0 1v4m0 2v2m0 2v1M786.5 24v2m0 2v12m0 1v5m0 2v8m0 5v1m0 1v4M787.5 25v7m0 3v6m0 1v6m0 1v8m0 2v2m0 4v2M788.5 24v6m0 1v1m0 4v3m0 3v4m0 2v1m0 1v1m0 1v7m0 6v2M789.5 27v1m0 1v2m0 2v7m0 2v6m0 1v1m0 3v4m0 7v3M790.5 24v6m0 2v1m0 3v6m0 1v2m0 3v1m0 5v4m0 2v3m0 1v3M791.5 25v2m0 1v1m0 3v1m0 4v4m0 2v5m0 7v1m0 1v1m0 1v1m0 2v2m0 1v2M792.5 24v1m0 2v1m0 4v1m0 2v6m0 1v1m0 2v1m0 9v1m0 1v2m0 3v4M793.5 24v3m0 5v1m0 1v1m0 2v5m0 13v1m0 6v4M794.5 32v1m0 1v1m0 1v6m0 13v1m0 5v1m0 1v3M795.5 24v3m0 5v1m0 1v2m0 2v5m0 11v1m0 6v1m0 1v2m0 1v1M796.5 26v2m0 4v1m0 1v9m0 10v1m0 7v4m0 1v1M797.5 27v4m0 1v2m0 1v2m0 1v5m0 5v2m0 2v1m0 1v5m0 2v4m0 1v1M798.5 24v3m0 1v1m0 1v5m0 1v1m0 2v4m0 4v1m0 1v2m0 1v2m0 1v2m0 1v1m0 2v4m0 1v1M799.5 25v3m0 1v6m0 1v1m0 2v4m0 4v1m0 2v5m0 1v4m0 1v4m0 1v1M800.5 25v4m0 1v7m0 2v4m0 4v1m0 2v10m0 1v4m0 1v1M801.5 24v1m0 1v2m0 2v7m0 1v1m0 1v2m0 1v3m0 1v1m0 2v11m0 1v3M802.5 25v13m0 1v3m0 1v1m0 1v1m0 1v1m0 1v1m0 1v4m0 1v4m0 1v2m0 1v1M803.5 25v4m0 1v10m0 1v2m0 1v1m0 1v1m0 2v12m0 1v2M804.5 25v14m0 1v1m0 1v1m0 1v1m0 1v1m0 2v6m0 1v7m0 3v1M805.5 25v15m0 1v1m0 2v1m0 1v1m0 2v6m0 2v3m0 1v1m0 3v1M806.5 25v5m0 1v7m0 1v2m0 2v1m0 1v1m0 3v7m0 1v4m0 4v2M807.5 25v5m0 2v7m0 4v1m0 1v1m0 1v2m0 1v7m0 2v1m0 2v2m0 1v2M808.5 25v17m0 1v2m0 1v1m0 1v10m0 3v1m0 1v4M809.5 24v1m0 1v5m0 1v5m0 4v2m0 1v2m0 3v11m0 1v1m0 1v4M810.5 25v1m0 1v3m0 2v1m0 1v1m0 1v4m0 1v3m0 1v1m0 1v14m0 2v4M811.5 24v1m0 1v4m0 2v3m0 3v1m0 1v1m0 1v3m0 1v1m0 2v12m0 2v4M812.5 24v4m0 1v1m0 2v1m0 1v1m0 3v1m0 1v3m0 1v1m0 1v1m0 4v11m0 1v4M813.5 24v3m0 1v1m0 3v2m0 1v3m0 2v4m0 1v1m0 1v4m0 2v9m0 1v4M814.5 24v4m0 1v5m0 1v1m0 3v1m0 1v3m0 1v1m0 1v1m0 2v2m0 2v8m0 2v3M815.5 24v5m0 1v1m0 1v3m0 4v3m0 1v2m0 2v1m0 2v1m0 4v7m0 2v3M816.5 24v4m0 2v4m0 5v3m0 1v2m0 1v1m0 3v1m0 5v7m0 1v3M817.5 24v2m0 1v10m0 2v6m0 1v2m0 2v1m0 1v4m0 1v8"/>
<path stroke="#fff" stroke-width="1" fill="none" d="M681.5 167v2m0 3v2M682.5 166v1M683.5 177v3M684.5 164v2m0 6v5m0 11v1M685.5 183v2M686.5 169v3m0 1v1m0 10v2m0 1v3M687.5 162v1m0 14v2m0 3v2m0 3v2M688.5 166v4m0 4v2m0 5v1m0 4v3M689.5 165v1M690.5 156v4m0 1v1m0 1v5m0 25v1m0 1v1M691.5 159v3m0 1v1m0 10v12m0 5v2M692.5 149v1m0 8v2m0 6v8m0 7v3m0 3v1M693.5 168v2m0 10v2m0 4v2M694.5 168v1m0 6v2m0 1v1m0 9v3m0 2v1M695.5 168v2m0 9v5M696.5 160v3m0 1v3m0 6v5M697.5 91v2m0 60v2m0 5v1m0 2v2m0 6v2m0 5v4m0 4v2M698.5 97v2m0 60v1m0 3v1m0 12v2m0 4v2M699.5 166v1m0 11v1m0 3v2M700.5 88v3m0 80v2m0 1v3m0 6v1M701.5 159v1m0 9v9m0 1v5m0 3v1M702.5 107v1m0 48v1m0 4v1m0 8v3m0 3v5m0 3v3m0 6v1M703.5 84v2m0 73v4m0 3v1m0 9v2m0 6v1m0 4v2m0 3v1M704.5 164v3m0 4v2m0 1v1m0 6v1m0 7v1M705.5 161v3m0 4v3m0 4v1m0 4v2M706.5 92v2m0 65v2m0 5v2m0 21v1M707.5 89v1m0 71v1m0 6v1m0 2v2m0 2v2m0 6v1M708.5 94v3m0 10v1m0 47v1m0 24v2m0 6v1m0 2v3M709.5 89v2m0 6v3m0 58v2m0 1v3m0 1v1m0 2v2M710.5 160v1m0 22v5M711.5 164v2m0 5v3m0 7v1M712.5 84v1m0 10v1m0 73v1m0 5v2m0 2v3m0 2v4M713.5 88v1m0 5v1m0 4v2m0 67v3m0 10v1m0 7v2M714.5 85v1m0 78v1m0 3v4m0 3v8M715.5 172v2m0 7v5M716.5 104v1m0 1v2m0 54v2m0 6v1m0 1v1m0 1v6m0 6v2M717.5 91v2m0 63v1m0 9v4m0 3v5m0 2v1m0 1v7M718.5 166v2m0 2v3m0 7v1m0 4v2m0 5v2M719.5 96v2m0 60v1m0 19v1m0 3v2M720.5 166v1m0 8v5m0 6v3M721.5 178v2m0 8v1M722.5 88v1m0 72v1m0 3v2m0 5v2m0 3v7m0 6v2M723.5 89v1m0 66v1m0 8v6m0 6v2M724.5 95v2m0 6v1m0 61v6m0 7v5m0 2v5M725.5 167v3m0 5v2m0 5v2m0 3v4M726.5 164v1m0 9v6m0 3v3m0 2v1M727.5 166v1m0 3v1m0 5v3m0 5v1M728.5 160v1m0 2v3m0 1v1m0 5v1m0 1v3m0 6v1m0 2v2m0 1v3M729.5 89v2m0 69v1m0 4v2m0 14v4M730.5 103v2m0 58v2m0 3v6m0 2v4m0 2v3m0 2v3M731.5 92v2m0 2v1m0 2v1m0 8v1m0 56v2m0 2v2m0 6v3m0 3v2M732.5 107v1m0 62v2M733.5 96v1m0 62v1m0 9v2M734.5 93v2m0 61v3m0 3v4m0 3v1M735.5 85v1m0 79v1m0 2v2M736.5 92v2m0 8v1m0 64v1M737.5 94v2m0 4v2m0 68v1m0 3v2m0 5v1M738.5 91v1m0 95v1M739.5 94v1m0 7v1m0 54v2M740.5 94v1M741.5 91v1m0 63v2m0 27v1M742.5 93v2m0 3v2M744.5 90v1m0 8v2m0 63v1M745.5 87v1M746.5 87v1m0 10v1M747.5 85v1m0 4v1m0 4v1M748.5 91v4M749.5 95v4M750.5 93v1M751.5 89v2m0 9v1M752.5 87v2m0 7v5M753.5 97v1M754.5 100v1M755.5 91v1M756.5 96v3m0 2v1m0 3v2M757.5 94v1M758.5 87v2m0 10v1M760.5 91v1M762.5 97v1M763.5 109v1M764.5 92v1M769.5 91v1m0 6v2M775.5 93v1m0 1v1M776.5 88v3m0 8v2m0 3v2M777.5 88v2M778.5 90v1M779.5 90v2M780.5 86v3m0 1v2m0 10v2M782.5 96v2M783.5 88v1m0 6v1M784.5 88v1M785.5 95v3M786.5 93v4M787.5 89v1M788.5 97v1M790.5 102v1M791.5 91v1M792.5 98v2M793.5 92v3m0 10v2M794.5 97v1M796.5 96v1M797.5 92v1m0 10v3M799.5 98v2M800.5 93v2m0 4v1m0 4v2m0 72v1M801.5 174v1M802.5 98v5M803.5 150v1m0 37v3m0 22v1m0 2v1M804.5 97v1m0 72v1m0 46v1M805.5 104v1m0 10v1m0 10v1m0 46v1m0 8v2m0 39v2M806.5 103v2m0 10v1m0 7v1m0 44v2m0 2v2m0 2v1m0 1v2m0 3v2m0 25v2m0 3v1m0 7v3m0 3v1M807.5 96v2m0 25v2m0 43v3m0 8v2m0 12v5m0 7v2m0 5v1m0 3v2m0 8v2m0 8v1M808.5 106v2m0 3v2m0 5v1m0 9v3m0 33v1m0 13v1m0 9v4M809.5 94v3m0 11v1m0 8v1m0 19v2m0 7v1m0 8v1m0 19v1m0 4v1m0 12v1M810.5 132v2m0 6v1m0 36v2m0 3v2m0 3v1m0 13v5m0 8v5m0 2v1M811.5 121v3m0 9v1m0 30v1m0 9v1m0 1v4m0 6v3m0 3v2m0 11v2M812.5 96v3m0 3v4m0 26v2m0 3v5m0 1v1m0 8v2m0 15v4m0 7v2m0 18v1m0 18v2m0 6v1m0 3v3m0 1v1m0 3v2M813.5 103v2m0 6v1m0 4v1m0 12v1m0 9v2m0 2v4m0 2v1m0 7v1m0 18v2m0 38v1m0 2v1m0 7v1m0 7v4M814.5 98v2m0 5v1m0 1v1m0 32v3m0 50v1m0 32v2m0 3v1M815.5 103v1m0 54v5m0 18v1m0 11v2m0 5v3m0 3v1m0 6v3m0 7v3m0 3v1M816.5 103v1m0 29v2m0 10v1m0 8v1m0 8v1m0 26v2M817.5 144v1m0 3v3m0 11v3m0 33v4m0 3v1m0 1v2m0 13v3m0 4v2M818.5 102v1m0 5v4m0 3v3m0 12v1m0 18v1m0 6v1m0 3v2m0 4v2m0 1v8m0 3v5m0 1v1m0 6v2m0 10v1m0 19v3m0 7v1M819.5 104v5m0 1v3m0 4v2m0 3v5m0 2v2m0 5v1m0 2v2m0 9v3m0 15v1m0 2v2m0 3v4m0 4v1m0 7v3m0 7v3m0 6v2m0 8v6m0 2v1m0 6v1M820.5 115v5m0 8v2m0 2v3m0 3v1m0 1v1m0 3v1m0 3v1m0 5v1m0 12v1m0 5v2m0 2v2m0 13v3m0 8v2m0 6v3m0 1v4m0 3v1m0 4v2M821.5 119v2m0 7v2m0 10v1m0 10v2m0 2v2m0 5v2m0 8v2m0 7v4m0 23v1m0 21v3M822.5 110v2m0 21v1m0 11v1m0 10v1m0 11v2m0 5v2m0 22v2m0 9v2m0 2v1m0 1v2M823.5 122v2m0 18v1m0 9v2m0 8v2m0 14v7m0 3v4m0 6v5m0 1v6m0 9v6m0 2v3M824.5 117v2m0 9v3m0 5v4m0 28v2m0 3v1m0 4v2m0 10v4m0 2v2m0 13v1m0 4v2m0 5v2m0 2v3M825.5 131v1m0 3v11m0 2v4m0 4v2m0 11v1m0 10v2m0 3v7m0 4v3m0 1v1m0 1v1m0 13v2m0 3v1m0 3v3M826.5 117v3m0 5v1m0 6v6m0 3v4m0 4v1m0 10v4m0 1v2m0 14v3m0 26v1m0 6v3m0 2v2M827.5 120v2m0 15v2m0 14v1m0 37v7m0 13v1M828.5 126v1m0 11v4m0 8v1m0 7v4m0 2v2m0 2v2m0 7v4m0 8v2m0 6v1m0 8v1M829.5 128v6m0 3v3m0 4v1m0 12v1m0 8v3m0 8v2m0 4v2m0 3v3m0 4v4M830.5 148v1m0 1v2m0 1v1m0 9v2m0 8v2m0 2v3m0 9v3m0 2v5m0 2v2m0 4v2m0 2v1M831.5 138v7m0 5v4m0 2v2m0 3v3m0 2v6m0 1v3m0 2v2m0 6v3m0 7v1m0 7v1M832.5 144v4m0 14v1m0 2v5m0 11v2m0 6v1m0 7v1m0 2v1M833.5 157v2m0 11v1m0 23v1M834.5 171v1m0 1v2m0 2v2"/>
<rect x="731.3" y="24.0" width="11" height="11.1" fill="url(#boxg)"/>
<rect x="720.3" y="35.1" width="11" height="11.1" fill="url(#boxg)"/>
<rect x="709.4" y="46.2" width="11" height="11.1" fill="url(#boxg)"/>
<rect x="698.4" y="57.2" width="11" height="11.1" fill="url(#boxg)"/>
<rect x="687.4" y="68.3" width="11" height="11.1" fill="url(#boxg)"/>
<rect x="676.4" y="79.4" width="11" height="11.1" fill="url(#boxg)"/>
<rect x="665.5" y="90.5" width="11" height="11.1" fill="url(#boxg)"/>
<rect x="654.5" y="101.6" width="11" height="11.1" fill="url(#boxg)"/>
<rect x="643.5" y="112.6" width="11" height="11.1" fill="url(#boxg)"/>
<rect x="632.6" y="123.7" width="11" height="11.1" fill="url(#boxg)"/>
<rect x="621.6" y="134.8" width="11" height="11.1" fill="url(#boxg)"/>
<rect x="610.6" y="145.9" width="11" height="11.1" fill="url(#boxg)"/>
<rect x="599.7" y="157.0" width="11" height="11.1" fill="url(#boxg)"/>
<rect x="588.7" y="168.0" width="11" height="11.1" fill="url(#boxg)"/>
<path fill="#fff" d="M583 24L731.3 24L731.3 35.08L720.33 35.08L720.33 46.16L709.36 46.16L709.36 57.24L698.39 57.24L698.39 68.32L687.42 68.32L687.42 79.4L676.45 79.4L676.45 90.48L665.48 90.48L665.48 101.56L654.51 101.56L654.51 112.64L643.54 112.64L643.54 123.72L632.57 123.72L632.57 134.8L621.6 134.8L621.6 145.88L610.63 145.88L610.63 156.96L599.66 156.96L599.66 168.04L588.69 168.04L588.69 179.12L583 179.12Z"/>
</svg>
<path d="M638.5 24V301M693.5 24V301M748.5 24V301M802.5 24V301M857.5 24V301M583 79.5H912M583 135.5H912M583 190.5H912M583 246.5H912" stroke="#000" stroke-opacity=".15" stroke-width="1" fill="none"/>
<rect x="582.5" y="23.5" width="330" height="278" fill="none" stroke="#6a6a6a" stroke-width="1"/>
<text x="573.3" y="28.4" text-anchor="end" textLength="28.4" lengthAdjust="spacingAndGlyphs">500</text>
<text x="573.3" y="85" text-anchor="end" textLength="28.4" lengthAdjust="spacingAndGlyphs">450</text>
<text x="573.3" y="138.1" text-anchor="end" textLength="28.4" lengthAdjust="spacingAndGlyphs">400</text>
<text x="573.3" y="190.8" text-anchor="end" textLength="28.4" lengthAdjust="spacingAndGlyphs">350</text>
<text x="573.3" y="248.1" text-anchor="end" textLength="28.4" lengthAdjust="spacingAndGlyphs">300</text>
<text x="573.3" y="305.3" text-anchor="end" textLength="28.4" lengthAdjust="spacingAndGlyphs">250</text>
<text x="569.1" y="323.5" textLength="28.4" lengthAdjust="spacingAndGlyphs">400</text>
<text x="623.7" y="323.5" textLength="28.4" lengthAdjust="spacingAndGlyphs">450</text>
<text x="678.4" y="323.5" textLength="28.4" lengthAdjust="spacingAndGlyphs">500</text>
<text x="733" y="323.5" textLength="28.4" lengthAdjust="spacingAndGlyphs">550</text>
<text x="787.7" y="323.5" textLength="28.4" lengthAdjust="spacingAndGlyphs">600</text>
<text x="842.3" y="323.5" textLength="28.4" lengthAdjust="spacingAndGlyphs">650</text>
<text x="897" y="323.5" textLength="28.4" lengthAdjust="spacingAndGlyphs">700</text>
<text x="645" y="343.3" textLength="204.5" lengthAdjust="spacingAndGlyphs"><tspan font-weight="bold">Emission Wavelength</tspan> (nm)</text>
<text transform="translate(531.7 267) rotate(-90)" textLength="180.2" lengthAdjust="spacingAndGlyphs" font-weight="bold">Excitation Wavelength</text>
<text transform="translate(531.7 74) rotate(-90)" textLength="34.3" lengthAdjust="spacingAndGlyphs">(nm)</text>
<text class="lb" x="590.5" y="60.9">S1-S</text>
<text x="703.7" y="373.9" textLength="36.5" lengthAdjust="spacingAndGlyphs" class="cp">(<tspan font-weight="bold">b1</tspan>)</text>
<svg x="75" y="389" width="328" height="273" viewBox="75 389 328 273" overflow="hidden">
<g fill-rule="evenodd">
<path fill="#0000af" d="M280.5 618.5l-205 0 0-76 26-33 6 0 1-1 11 0 1-1 11 0 1-1 11 0 1-1 96 0 1 1 20 0 1 1 10 0 18 21 0 3 1 1 0 6 1 1 0 5 1 1 0 6 1 1 0 6 1 1 0 5 1 1 0 5-1 1 0 5-1 1 0 5-1 1 0 5-1 1 0 5-1 1 0 5-1 1 0 3-10 14z"/>
<path fill="#0000d0" d="M271.5 616.5l-196 0 0-74 25-31 2-1 44-3.5 90 0 5 1 18 0.5 11 1 2.5 2 14 18 1.5 5 0 5 1 2 3.5 26-6.5 35-9 12-6 2z"/>
<path fill="#0000f1" d="M270.5 614l-195 0 0-70 26-32 8 0 1-1 15 0 1-1 15 0 1-1 4 0 90 0 1 1 12 0 1 1 11 0 1 1 6 0 14.5 18.5 0 3 1 1 0 7 1 1 0.5 7 0.5 1 0.5 6 0.5 1 0.5 7 0.5 1 0 5-0.5 1-0.5 4-0.5 1-0.5 5-0.5 1-0.5 4-0.5 1 0 4-1 1 0 5-1 1 0 2-8 9 0 1-4 3.5z"/>
<path fill="#0013ff" d="M158.5 610l-83 0 0-62 15-16 14-6 2 0 3-1.5 2-0.5 3-1.5 2 0 3-2 12 0 3-1 24 0 3-1 23 0 3-1 21 0 4 1 20 0 2 1 11 0 16.5 11 4.5 9 0 2 3.5 9 0.5 3-1 1 0 5-1 1 0 4-1 2-1 9-2 4-10 15-4 2.5-16 6-4 1-7 0.5-1 1-15 0.5-1 0.5-15 0.5-1 0.5-13 0.5-3 1-15 0-1 1z"/>
<path fill="#0034ff" d="M157.5 609l-82 0.5 0-61 13-14.5 4-2.5 28-9 12-0.5 4-1 23 0 4-1 22 0 4-1 18 0 5 1 19 1 15 1.5 13 9 3 4 5.5 17 0 5-3.5 16-2 5-3 4.5-7 9.5-3 2-14 5.5-14 3.5-14 1-2 1-8 0-12 1.5-8 0-4 1-14 0-2 1z"/>
<path fill="#0054ff" d="M132.5 609l-57 0 0-60 8.5-10.5 6.5-5.5 11-3 1-1 3-0.5 7-2.5 3-0.5 4-2 14 0 2-1 25 0 1-1 25 0 1-1 20 0 1 1 14 0 1 1 14 0 1 1 7 0 5 4 1 0 10 9 1 4 1 1 1 7 1 1 0 3 1 1 0 4-1 1 0 4-1 1-1 9-1 1-1 4-3 3 0 1-11 12-7 3-5 1-1 1-3 0-1 1-8 2-1 1-5 0-1 1-9 0-1 1-9 0-1 0.5-19 1-1 1-17 0.5-1 0.5-24 0-1 1z"/>
<path fill="#0075ff" d="M132.5 608.5l-57 0 0-59 13-15 4-2 3-0.5 7-2.5 3-0.5 4-2 2 0 1-1 3 0 4-2 13 0 2-1 25 0 2-1 24 0 2-1 20 0 1 1 14 0 1 1 14 0 1 1 7 0 6 4 9.5 8.5 2 5 2 11 1 1 0 4-1 1-2 14-2 5-3 3 0 1-10.5 11.5-13 5-3 0-10 4-5 0-1 1-9 0-1 1-9 0-1 1-19 1-1 0.5-16 0.5-2 1-23 0-2 0.5z"/>
<path fill="#0096ff" d="M132.5 608l-57 0 0-58 13-15 4-2 28-8 12 0 3-1 24 0 3-1 23 0 3-1 18 0 3 1 12 0 3 1 12 0 3 1 6 0 6 4 8.5 7.5 2 5 3 13-3 18-2 5-12.5 14.5-13 5-3 0.5-10 3.5-7 1-7 0-3 1-7 0-3 1-7 0-2 1-8 0-3 1-15 0-3 1-22 0-2 1z"/>
<path fill="#00b7ff" d="M133.5 607l-2 0.5-56 0 0-57 14-15.5 31-9.5 12 0 3-1 24 0 3-1 23 0 3-1 18 0 3 1 12 0 3 1 12 0 3 1 5 0 6.5 4 9 8 4.5 17-3 17-2 5.5-13 15-26 8.5-6 1-7 0-3 1-7 0-3 1-7 0-3 1-7 0-3 1-41 1.5z"/>
<path fill="#00d8ff" d="M131.5 606.5l-56 0 0-55 15-16 30-9 12 0 4-1 23 0 4-1 22 0 4-1 16 0 4 1 12 0 3 1 12 0 2 0.5 7 0.5 11.5 9 2.5 3 4 17-3 17-1 3-3.5 5-10.5 11-24 8-7 1-7 0-3 1-7 0-3 1-18 1.5-2 0.5-15 0-4 1-21 0-3 1z"/>
<path fill="#00f9ff" d="M132.5 606l-57 0 0-53 15-17 8-2 4-2 3 0 7-3 3 0 4-2 14 0 2-1 25 0 2-1 24 0 2-1 17 0 2 0 1 1 13 0 2 1 13 0 2 1 7 0 13.5 11.5 4 16-1 8-1 1 0 4-1 1 0 4-1 1 0 2-3 3 0 1-10.5 11.5-10 3-1 1-3 0-10 4-5 0-1 1-9 0-1 1-9 0-1 1-9 0-1 1-9 0-2 1-16 0-2 1-23 0-1 1z"/>
<path fill="#1bffe4" d="M132.5 605.5l-57 0 0-51 5-4 7.5-10 4.5-4.5 6-1.5 1-1 2 0 1-1 3 0 1-1 5-1 1-1 3 0 4-2 14 0 1-1 26 0 1-1 25 0 1-1 19 0 2 1 13 0 2 1 13 0.5 2 1 6 0 11 9 2 2.5 3.5 16-4 15-2 4-11.5 12.5-23 9.5-4 0.5-2 1-8 1-2 1-8 0.5-2 1-8 0-1 1-9 0-1 1-17 0-1 1-24 0.5-1 0.5z"/>
<path fill="#3cffc3" d="M131.5 604.5l-29 0-14-1-13-1.5 0-41 5-1.5 9-6 3.5-12 5.5-4 5-2 19-5.5 12-0.5 4-1 53-1.5 29 2 22 3.5 5 3.5 4.5 5.5 1 7-1 7-7.5 12-10 7-10 3-7 8.5-6 5-11 5-17 4-13 1.5-12 1-2 0.5-22 0.5-3 1z"/>
<path fill="#5dffa2" d="M132.5 603.5l-30 0-1-1-7 0-9-1.5-10-3 0-30 18-6.5 9-2.5 6-0.5 1.5-1-7.5-4-5-6 1.5-6 4.5-3 10-3.5 10-2 5 0 10-2 53-1 2 0.5 12 0 2 1 6 0 18 3 9 2.5 5.5 4.5 1 5-1.5 3-4 4-9 5.5-6 2.5-12 2-20.5 2 0 1 7.5 5 5 9-1.5 6-7.5 6-14 4.5-14 2.5-12 1-1 1-9 0-1 1-13 0-1 1z"/>
<path fill="#7eff81" d="M128.5 602.5l-26 0-1-1-7 0-1-1-8-1-10-4 0-23 10-4 8-1 1-1 7 0 1-1 26 0 5 1 21 1.5 19 3.5 9 3.5 5 2.5 6 6-1 2-5 5-5 2.5-9 3.5-19 3.5-21 1.5-5 1z"/>
<path fill="#9fff60" d="M128.5 602l-26 0-1-1-7 0-1-1-7-1-10-4-1-1 0-20 5-3 6-2 3 0 1-1 3 0 1-1 7 0 1-1 26 0 1 1 11 0 1 1 13 1 1 1 8 1.5 4 2 5 1 8 5 2 4-2 5-6 4-5 2-2 0-1 1-2 0.5-1 0.5-8 1.5-1 1-13 1-1 1-11 0-1 1z"/>
<path fill="#c0ff3f" d="M132.5 600.5l-5 1-25 0-8-1-14-4-5-3 0-19 5-3 6.5-2 7.5-2 9-1 24 0 12 1 2 1 12 1.5 12 3.5 6 3 6.5 6 0 3-5.5 5-10 5-9 2.5-12 1.5-2 1-7 0z"/>
<path fill="#e1ff1e" d="M127.5 600.5l-29 0-1-1-9-1-8-3-5-3 0-17 7-4 6-2 9-1 1-1 5 0 24 0 4 0 1 1 7 0 2 1 12 1.5 11 4 6 3.5 3 4 0 3-3 4-8 4.5-9 3-12 1.5-2 1-7 0-1 1-4 0z"/>
<path fill="#fffc00" d="M131.5 600l-33 0-1-0.5-5-0.5-1-0.5-3-0.5-1-0.5-5-1.5-7-3.5 0-17 7-3.5 2-0.5 4-1.5 9-1.5 1-0.5 5-0.5 24 0.5 4 0 1 0.5 7 0.5 1 0.5 4 0.5 1 0.5 8 1 6 3 2 0 5 3 4 5 0 3-4 5-5 3-2 0-6 3-8 1-1 0.5-4 0.5-1 0.5-7 0.5-1 0.5z"/>
<path fill="#ffdb00" d="M131.5 600l-33 0-1-1-5 0-1-1-3 0-1-1-5-1-7-4 0-16 7-4 2 0 4-2 9-1 1-1 5 0 28 0 1 1 7 0 1 1 4 0 1 1 8 1 6 3 2 0 5 3 3 4.5 0 3-3 4.5-5 3-2 0-6 3-8 1-1 1-4 0-1 1-7 0-1 1z"/>
<path fill="#ffba00" d="M131.5 599.5l-33 0-1-0.5-5-0.5-1-0.5-3-0.5-1-0.5-5-1.5-7-3.5 0-16 7-3.5 2-0.5 4-1.5 13-2 30 0 1 0.5 7 0.5 1 0.5 4 0.5 1 1 4 0 1 1 6 1 5 2.5 6 4.5 1 4-2 4-5 3.5-8 3.5-8 1-1 1-4 0.5-1 0.5-7 0.5-1 0.5z"/>
<path fill="#ff9900" d="M131.5 599l-30 0.5-13-2-1-1-5-1-7-4 0-15 5-3 8-3 13-2 29 0.5 18 3 7 2 5 2.5 5.5 4 1.5 3-1.5 4-5.5 4-8 3.5-21 4z"/>
<path fill="#ff7800" d="M130.5 598.5l-29 0.5-12-2-9-3-5-3 0-14 5-3 9-3 12-2 29 0.5 22 4 8 4 4 3 1.5 3-0.5 3-5 4-8 4-22 4z"/>
<path fill="#ff5700" d="M124.5 598.5l-23 0-12-2-9-3-5-3 0-13 5-3 9-3 12-2 23 0 14 1.5 14 3 7 3.5 4.5 4 1 4-3 3-5.5 3.5-8 3-24 3.5z"/>
<path fill="#ff3600" d="M130.5 597.5l-5 0-1 1-23 0-1-1-11-1-4-2-2 0-8-4 0-13 5-2.5 8-2.5 1-1 11-1 1-1 23 0 1 1 15 1 11.5 3 6 3 5 4 1 2-1 3-5 4-6 3-11.5 3-10 1z"/>
<path fill="#ff1500" d="M124.5 598l-23 0-1-1-11-1-1-1-8-2-5-3 0-12 5-3 8-2 1-1 11-1 1-1 23 0 1 1 9 0 1 1 5 0 1 1 10 2 6 3 5 4.5 0 3-5 4.5-9 4-3 0-5 2-5 0-1 1-9 0-1 1z"/>
<path fill="#f30000" d="M124.5 597.5l-23 0-1-1-6 0-1-1-4 0-1-1-8-2-5-3 0-11 5-3 8-2 1-1 4 0 1-1 6 0 1-1 23 0 1 1 9 0 1 1 5 0 1 1 3 0 1 1 6 1 6 3 4 4 0 3-4 4-6 3-6 1-1 1-3 0-1 1-5 0-1 1-9 0-1 1z"/>
<path fill="#d20000" d="M122.5 593.5l-19 0.5-14-1.5-10-3.5-4-3.5 0-2.5 6-4 7-2 9-1.5 21-0.5 13 2 6 1.5 4 2.5 2 2.5-0.5 2-1.5 2.5-4 2.5-6 2-9 1z"/>
<path fill="#b10000" d="M118.5 591.5l-21 0-1-0.5-7-0.5-1-1-3 0-3-1.5-3-2.5 0-1 6-4 3 0 1-1 7 0 1-1 21 0 1 1 6 0 7 2.5 3 2 0.5 1.5-5.5 3.5-3 0.5-1 1-7 0-1 1z"/>
<path fill="#900000" d="M118.5 589.5l-20 0.5-12-2-2.5-2.5 0-1 2.5-2 4-1 9-1 18 0 10 2 2.5 2 0.5 1-3 2.5-9 1.5z"/>
</g>
<path stroke="#0a0a78" stroke-width="1" fill="none" d="M75.5 392v49m0 24v7m0 25v6m0 19v8m0 110v2m0 12v8M76.5 389v21m0 10v14m0 3v17m0 5v8m0 14v2m0 5v3m0 6v4m0 9v32m0 81v8m0 12v15M77.5 389v33m0 6v30m0 5v5m0 10v9m0 6v42m0 90v13m0 2v22M78.5 389v23m0 6v9m0 3v42m0 5v8m0 8v17m0 12v2m0 9v5m0 119v5M79.5 391v34m0 3v110m0 80v7m0 4v28M80.5 389v72m0 5v43m0 8v8m0 5v7m0 84v35M81.5 389v147m0 82v44M82.5 389v12m0 4v67m0 4v58m0 84v44M83.5 394v8m0 5v10m0 2v15m0 13v2m0 3v8m0 6v10m0 6v26m0 4v15m0 4v2m0 85v7m0 10v8m0 3v16M84.5 395v4m0 10v6m0 1v95m0 9v12m0 86v12m0 4v28M85.5 393v5m0 47v3m0 34v3m0 5v7m0 8v6m0 14v5m0 88v1m0 22v3m0 10v8M86.5 389v140m0 89v9m0 9v26M87.5 392v23m0 38v29m0 2v23m0 2v19m0 90v6m0 19v9M88.5 393v7m0 14v19m0 17v23m0 5v4m0 3v6m0 2v34m0 91v14m0 5v9m0 9v2M89.5 406v2m0 14v22m0 6v3m0 42v8m0 16v4m0 95v9m0 13v5M90.5 397v2m0 24v29m0 6v8m0 7v2m0 27v12m0 104v1m0 31v4M91.5 389v6m0 25v16m0 1v15m0 9v4m0 15v39m0 3v1m0 95v9m0 12v6m0 11v2M92.5 389v16m0 6v93m0 3v4m0 4v1m0 104v6m0 26v10M93.5 392v100m0 2v23m0 101v14m0 8v11m0 7v4M94.5 392v5m0 2v9m0 18v56m0 1v8m0 1v15m0 134v21M95.5 389v101m0 2v23m0 1v2m0 100v44M96.5 389v2m0 13v8m0 9v14m0 4v11m0 2v3m0 3v12m0 5v2m0 16v9m0 11v3m0 102v8m0 8v7m0 7v10M97.5 393v20m0 3v14m0 1v22m0 1v5m0 7v23m0 5v7m0 3v11m0 103v6m0 11v27M98.5 389v125m0 104v44M99.5 391v67m0 1v42m0 3v9m0 106v13m0 12v18M100.5 430v2m0 39v7m0 32v1m0 146v5M101.5 452v2m0 49v7M102.5 391v19m0 4v25m0 5v23m0 2v17m0 6v14m0 3v1m0 108v4m0 4v7m0 6v16M103.5 389v97m0 1v23m0 108v6m0 2v8m0 5v8m0 3v6M104.5 389v39m0 1v47m0 2v32m0 108v27m0 3v14M105.5 401v20m0 3v26m0 1v20m0 3v9m0 2v25m0 108v30m0 1v11M106.5 389v83m0 8v5m0 4v17m0 3v1m0 108v14m0 3v12m0 4v3M107.5 417v14m0 7v29m0 6v8m0 15v1m0 125v16m0 7v17M108.5 471v1m0 14v4M109.5 399v8m0 7v25m0 10v12m0 7v3m0 23v15m0 118v2M110.5 389v19m0 3v11m0 15v4m0 16v7m0 9v8m0 17v9M111.5 406v4m0 14v18m0 5v7m0 16v15m0 164v3M112.5 444v3m0 22v7m0 174v3M113.5 398v6m0 16v7m0 1v4m0 8v4m0 9v11m0 154v5m0 26v5m0 7v1M114.5 389v3m0 3v51m0 5v6m0 6v46m0 109v25m0 12v7M115.5 389v120m0 109v37m0 2v5M116.5 389v18m0 1v101m0 109v37m0 1v6M117.5 389v120m0 109v44M118.5 392v5m0 4v70m0 4v34m0 109v26m0 7v11M119.5 389v2m0 9v33m0 9v13m0 4v12m0 3v14m0 4v4m0 7v6m0 118v29m0 2v4M120.5 389v51m0 6v24m0 5v33m0 110v10m0 19v15M121.5 389v2m0 11v3m0 8v3m0 4v34m0 176v4m0 16v5m0 4v3M122.5 389v6m0 17v12m0 5v3m0 8v9m0 11v16m0 13v6m0 10v3m0 123v2m0 5v10m0 2v12M123.5 389v9m0 2v6m0 3v26m0 4v12m0 6v5m0 9v27m0 8v2m0 110v4m0 13v3m0 17v2M124.5 389v3m0 58v4m0 22v14m0 162v7M125.5 389v2m0 24v33m0 26v28m0 123v4m0 12v10M126.5 396v4m0 4v7m0 9v3m0 11v6m0 17v6m0 22v4m0 12v7m0 111v2m0 18v9M127.5 389v10m0 10v4m0 2v6m0 9v6m0 3v3m0 8v3m0 20v3m0 9v5m0 3v4m0 135v12M128.5 389v73m0 8v38m0 110v44M129.5 391v21m0 8v36m0 5v10m0 4v25m0 120v15m0 20v1M130.5 389v16m0 9v3m0 15v23m0 19v17m0 11v5m0 128v5m0 21v1M131.5 389v13m0 13v40m0 28v5m0 6v8m0 134v7m0 7v8M132.5 389v4m0 2v11m0 3v30m0 2v8m0 8v9m0 13v28m0 111v3m0 11v13m0 5v12M133.5 389v4m0 31v2m0 9v2m0 10v5m0 7v10m0 20v6m0 156v1m0 9v1M134.5 389v8m0 24v12m0 6v5m0 8v7m0 22v5m0 12v5M135.5 403v45m0 7v8m0 5v8m0 6v18m0 143v12m0 4v3M136.5 389v3m0 20v7m0 13v3m0 22v7m0 7v5m0 149v4m0 7v2M137.5 389v8m0 5v6m0 4v10m0 21v2m0 4v8m0 27v13m0 2v8m0 114v2m0 32v7M138.5 434v30m0 4v12m0 6v6m0 5v10m0 113v9m0 8v4M139.5 397v21m0 9v20m0 4v5m0 17v19m0 10v5m0 139v7M140.5 389v2m0 75v12m0 26v3m0 140v3M141.5 389v8m0 7v103m0 111v44M142.5 403v15m0 9v9m0 9v27m0 12v15m0 125v6m0 7v25M143.5 402v6m0 22v9m0 9v6m0 6v18m0 2v19m0 125v2m0 20v5m0 8v3M144.5 405v9m0 16v6m0 11v7m0 20v3m0 13v5m0 123v1M145.5 389v4m0 5v5m0 11v3m0 6v18m0 5v5m0 10v9m0 10v13m0 4v2m0 119v2m0 11v11M146.5 389v4m0 3v15m0 18v19m0 40v1m0 150v5M147.5 399v47m0 3v29m0 5v23m0 126v4m0 8v11M148.5 389v117m0 112v3m0 6v9m0 6v3m0 4v8M149.5 393v8m0 11v6m0 14v12m0 7v6m0 2v7m0 8v16m0 128v4m0 6v18M150.5 389v8m0 4v71m0 7v27m0 112v30m0 7v7M151.5 389v10m0 11v7m0 7v9m0 6v40m0 3v24m0 112v24M152.5 389v17m0 4v4m0 13v5m0 17v22m0 3v31m0 123v6m0 16v6M153.5 389v22m0 5v29m0 11v50m0 121v10m0 4v21M154.5 392v5m0 3v71m0 7v8m0 5v15m0 112v29M155.5 389v4m0 9v6m0 2v1m0 6v20m0 2v10m0 7v8m0 9v5m0 7v4m0 3v5m0 126v10m0 5v7m0 5v3m0 5v4M156.5 389v10m0 10v8m0 5v13m0 7v16m0 5v12m0 16v12m0 133v15m0 8v3M157.5 389v7m0 5v3m0 4v41m0 7v6m0 7v37m0 112v21m0 5v6m0 4v8M158.5 389v14m0 8v10m0 8v2m0 5v9m0 9v27m0 20v5m0 112v3m0 4v23M159.5 389v14m0 13v9m0 4v4m0 7v9m0 3v16m0 4v9m0 18v7m0 112v1m0 8v7m0 16v3M160.5 394v22m0 8v12m0 4v4m0 18v6m0 5v25m0 124v9M161.5 398v5m0 9v17m0 7v32m0 14v24m0 112v4m0 8v10m0 2v20M162.5 389v77m0 4v8m0 8v20m0 113v4m0 11v8m0 4v8M163.5 431v6m0 12v2m0 39v4m0 165v3M164.5 389v6m0 5v8m0 41v14m0 19v4m0 5v2m0 6v5M165.5 389v17m0 10v9m0 8v2m0 18v4m0 6v13m0 4v11m0 138v2M166.5 389v19m0 5v46m0 4v28m0 2v13m0 112v30m0 7v7M167.5 390v87m0 8v21m0 116v11m0 5v24M168.5 389v75m0 4v38m0 112v44M169.5 389v117m0 112v12m0 12v14m0 5v1M170.5 389v46m0 4v20m0 4v43m0 112v11m0 10v20M171.5 389v6m0 11v7m0 7v5m0 5v39m0 6v1m0 11v5m0 4v3m0 122v11m0 16v10M172.5 399v10m0 5v13m0 6v27m0 6v2m0 10v19m0 2v3m0 158v2M173.5 389v1m0 6v37m0 5v30m0 15v9m0 4v10m0 112v7m0 6v9m0 8v5M174.5 389v3m0 5v44m0 4v11m0 3v25m0 4v18m0 115v5m0 2v8m0 11v15M175.5 389v20m0 4v16m0 7v6m0 7v21m0 22v10M176.5 389v5m0 6v2m0 49v6M177.5 389v80m0 3v15m0 7v2m0 6v4m0 117v22M178.5 389v28m0 5v36m0 3v45m0 112v27m0 4v13M179.5 389v6m0 5v40m0 5v26m0 6v29m0 118v5m0 6v27M180.5 389v100m0 5v11m0 113v32m0 5v7M181.5 389v44m0 5v18m0 7v35m0 126v34M182.5 393v5m0 11v11m0 10v7m0 1v5m0 6v6m0 7v10m0 15v10m0 8v1m0 120v13m0 8v9m0 5v1M183.5 497v4M184.5 397v3m0 3v6m0 9v11m0 17v8m0 28v1m0 135v7m0 13v3m0 17v4M185.5 392v59m0 2v19m0 17v17m0 112v44M186.5 389v27m0 10v7m0 9v5m0 8v12m0 21v18m0 112v2m0 26v8M187.5 389v1m0 4v5m0 33v10m0 7v5m0 7v5m0 26v8m0 1v5m0 144v2M188.5 389v1m0 7v3m0 12v6m0 18v6m0 14v2m0 14v6m0 8v9m0 9v2m0 118v8m0 4v12M189.5 389v3m0 16v27m0 35v16m0 8v12m0 139v8M190.5 401v7m0 15v7m0 10v2m0 13v9m0 6v2m0 9v19m0 139v4M191.5 420v6m0 6v4m0 15v3m0 2v12m0 12v10m0 1v8m0 4v3m0 112v1M192.5 389v3m0 14v2m0 14v13m0 10v12m0 2v14m0 5v12m0 138v13m0 18v3M193.5 389v7m0 10v22m0 17v3m0 6v23m0 6v9m0 133v13m0 16v3M194.5 430v1m0 7v8m0 52v4m0 159v1M195.5 400v19m0 7v5m0 10v4m0 38v5m0 146v10m0 15v3M196.5 390v42m0 3v71m0 116v8m0 6v26M197.5 389v2m0 4v13m0 12v5m0 18v63m0 112v11m0 9v7m0 14v3M198.5 398v7m0 4v27m0 3v2m0 24v8m0 2v4m0 6v11M199.5 389v3m0 7v2m0 5v3m0 22v1m0 8v6m0 5v6m0 14v3m0 6v12m0 165v5M200.5 389v11m0 32v10m0 19v10m0 11v11m0 144v3m0 15v2M201.5 405v14m0 10v9m0 45v7m0 3v6m0 119v1m0 10v4m0 26v3M202.5 406v10m0 2v7m0 10v13m0 29v11m0 1v8m0 4v5m0 112v5m0 9v6m0 19v5M203.5 389v3m0 11v10m0 8v19m0 4v16m0 7v17m0 5v15m0 120v2m0 2v9m0 8v17M204.5 389v3m0 11v6m0 6v19m0 9v20m0 17v3m0 5v8m0 5v5m0 115v4m0 21v3m0 7v6M205.5 389v39m0 6v72m0 115v30m0 6v5M206.5 389v117m0 112v44M207.5 392v8m0 11v95m0 112v44M208.5 389v19m0 12v63m0 3v12m0 3v5m0 112v11m0 12v8M209.5 389v105m0 6v6m0 112v13m0 6v13m0 5v7M210.5 389v3m0 3v7m0 4v37m0 5v58m0 112v12m0 4v28M211.5 389v117m0 112v44M212.5 389v46m0 8v63m0 112v35m0 4v5M213.5 389v11m0 4v16m0 4v1m0 36v22m0 6v5m0 130v11m0 7v13M214.5 392v47m0 4v32m0 5v4m0 8v4m0 5v5m0 112v7m0 9v4m0 4v18M215.5 402v50m0 3v17m0 3v31m0 112v19m0 14v11M216.5 389v7m0 10v4m0 31v2m0 37v12m0 9v4M217.5 390v46m0 5v31m0 8v26m0 112v4m0 7v17m0 6v8M218.5 389v2m0 4v14m0 8v16m0 9v41m0 8v15m0 122v24m0 4v6M219.5 389v8m0 3v56m0 4v46m0 112v3m0 13v9m0 1v7m0 7v4M220.5 389v22m0 6v14m0 5v8m0 11v6m0 4v5m0 12v4m0 11v1m0 4v3m0 113v12m0 5v4m0 7v7m0 4v5M221.5 389v3m0 13v9m0 61v5m0 11v5M222.5 389v3M223.5 389v5m0 5v9m0 8v23m0 6v44m0 4v13m0 115v33M224.5 389v86m0 7v24m0 112v27m0 4v11M225.5 389v12m0 17v59m0 7v8m0 4v10m0 131v25M226.5 395v20m0 1v12m0 14v3m0 6v19m0 4v18m0 2v12m0 112v16m0 12v2m0 6v8M227.5 389v5m0 4v7m0 19v10m0 5v37m0 5v9m0 13v3m0 136v10m0 7v3M228.5 390v5m0 9v6m0 14v9m0 11v62m0 126v7m0 21v2M229.5 494v4M230.5 425v2m0 28v3m0 11v12m0 14v7m0 143v6m0 2v9M231.5 389v16m0 3v46m0 16v11m0 3v12m0 2v6m0 114v44M232.5 389v88m0 3v26m0 112v44M233.5 392v9m0 5v15m0 3v12m0 3v12m0 3v8m0 7v2m0 3v6m0 16v10m0 112v6m0 5v12m0 5v16M234.5 437v7m0 1v10m0 9v4m0 3v3m0 186v2M235.5 419v4m0 11v11m0 60v1M236.5 389v9m0 10v11m0 5v10m0 9v3m0 10v10m0 13v6m0 5v16m0 144v6M237.5 437v2m0 14v29m0 136v1M238.5 392v7m0 39v2m0 19v19m0 147v6M239.5 389v104m0 4v9m0 112v4m0 5v3m0 15v17M240.5 392v16m0 3v18m0 2v51m0 2v9m0 8v5m0 112v8m0 5v8m0 11v12M241.5 389v3m0 7v3m0 7v9m0 11v10m0 52v9m0 141v3m0 12v4M242.5 472v3m0 178v2m0 3v4M243.5 407v9m0 32v6m0 31v5m0 156v7M244.5 406v8m0 9v20m0 19v13m0 4v8m0 2v18m0 111v21m0 6v2m0 8v7M245.5 389v19m0 20v22m0 2v55m0 112v43M246.5 422v2m0 9v8m0 18v4m0 8v3m0 144v3m0 28v3M247.5 396v2m0 10v1m0 6v3m0 9v1m0 76v3M248.5 403v9m0 3v3m0 28v7m0 10v8m0 147v2M249.5 389v13m0 7v24m0 13v54m0 5v2m0 111v44M250.5 389v7m0 3v4m0 11v8m0 2v20m0 4v59m0 111v8m0 11v6m0 4v15M251.5 389v5m0 23v7m0 22v2m0 23v4m0 17v14m0 112v3m0 16v7M252.5 389v14m0 8v3m0 3v6m0 8v19m0 1v8m0 6v10m0 12v19m0 112v2m0 20v11m0 7v4M253.5 393v6m0 6v2m0 6v9m0 6v11m0 3v30m0 20v15m0 111v5m0 12v6m0 12v9M254.5 389v17m0 12v30m0 10v24m0 10v15m0 111v10m0 6v9m0 11v7M255.5 389v37m0 4v16m0 6v3m0 1v29m0 11v11m0 111v42M256.5 389v118m0 111v44M257.5 389v34m0 8v35m0 2v8m0 6v20m0 4v1m0 111v19m0 4v8m0 11v2M258.5 389v5m0 1v25m0 14v5m0 11v6m0 35v14m0 113v30M259.5 400v11m0 3v7m0 4v5m0 7v1m0 34v7m0 11v4m0 124v4m0 15v4m0 5v7m0 8v1M260.5 389v26m0 3v31m0 11v5m0 5v12m0 18v7m0 111v3m0 8v23m0 5v5M261.5 402v1m0 8v18m0 7v6m0 20v20m0 2v5m0 129v5m0 11v7m0 20v1M262.5 393v9m0 22v1m0 8v7m0 12v3m0 14v7m0 20v4m0 123v4M263.5 394v5m0 13v4m0 48v5m0 35v4m0 120v8m0 10v1M264.5 418v4m0 42v9m0 30v5M266.5 389v3m0 21v5m0 18v9m0 8v5m0 16v9m0 142v9M267.5 396v4m0 5v2m0 20v3m0 21v20m0 14v5m0 12v6m0 110v19m0 11v14M268.5 389v48m0 5v2m0 4v7m0 15v20m0 5v13m0 115v1m0 5v11m0 7v6M269.5 389v13m0 9v23m0 2v46m0 2v8m0 139v17m0 5v9M270.5 389v119m0 110v19m0 3v22M271.5 389v11m0 6v9m0 6v51m0 5v31m0 110v22m0 1v12m0 5v4M272.5 389v72m0 4v21m0 8v14m0 110v21m0 6v15M273.5 415v6m0 31v2m0 18v22m0 163v5M274.5 399v13m0 13v2m0 20v6m0 6v3m0 5v9m0 17v6m0 5v6m0 112v25M275.5 398v11m0 22v14m0 26v7m0 16v2m0 122v4m0 15v11m0 4v10M276.5 396v8m0 17v4m0 12v5m0 44v18m0 5v4m0 105v1m0 10v7m0 6v11m0 6v3M277.5 392v5m0 20v7m0 7v7m0 55v10m0 7v4m0 104v4m0 20v13M278.5 389v5m0 11v3m0 6v13m0 7v16m0 13v6m0 9v6m0 10v11m0 113v13m0 13v10M279.5 389v65m0 4v7m0 6v45m0 105v37M280.5 389v33m0 9v46m0 3v37m0 101v40M281.5 389v26m0 2v24m0 2v43m0 5v28m0 97v9m0 4v24m0 6v3M282.5 394v11m0 40v2m0 7v3m0 41v4m0 7v3m0 5v3m0 97v10m0 23v5M283.5 389v14m0 4v3m0 53v33m0 14v11m0 98v4M284.5 401v15m0 28v5m0 23v9m0 19v9m0 10v3m0 108v7M285.5 400v13m0 7v4m0 13v5m0 14v4m0 11v38m0 9v2m0 91v9m0 8v10m0 6v11M286.5 389v17m0 2v19m0 4v78m0 5v10m0 85v13m0 6v25M287.5 389v4m0 6v7m0 5v14m0 7v12m0 5v32m0 2v43m0 82v5m0 7v3m0 4v4m0 6v14m0 9v2M288.5 389v13m0 7v104m0 3v11m0 80v17m0 8v27M289.5 389v3m0 8v12m0 4v57m0 7v1m0 5v8m0 5v4m0 15v10m0 89v1m0 3v16m0 6v4M290.5 394v6m0 1v4m0 4v7m0 13v16m0 5v19m0 19v7m0 14v3m0 10v10m0 69v7m0 3v26m0 21v4M291.5 389v3m0 15v12m0 7v14m0 10v8m0 17v3m0 7v5m0 24v5m0 6v6m0 64v30m0 14v5M292.5 389v3m0 87v4m0 42v5m0 73v9m0 28v6M294.5 395v5m0 7v7m0 21v4m0 25v8m0 22v15m0 5v31m0 11v3m0 22v7m0 3v13m0 18v9m0 4v7m0 2v6m0 10v2M295.5 395v19m0 4v27m0 5v5m0 5v18m0 26v12m0 3v27m0 8v11m0 6v40m0 12v9m0 8v18M296.5 389v7m0 7v13m0 5v44m0 7v19m0 10v15m0 32v10m0 5v67m0 6v26M297.5 389v5m0 35v3m0 28v13m0 76v4m0 15v2m0 64v15M298.5 419v12m0 28v6m0 12v5m0 4v15m0 13v7m0 5v8m0 17v3m0 6v10m0 2v13m0 13v27m0 10v8m0 3v11M299.5 389v21m0 11v17m0 16v16m0 29v9m0 6v11m0 2v22m0 8v31m0 19v6m0 14v11M300.5 396v34m0 2v16m0 2v24m0 13v12m0 2v6m0 6v1m0 5v3m0 4v60m0 2v12m0 10v12m0 8v17m0 1v7M301.5 389v59m0 4v11m0 6v3m0 16v10m0 7v95m0 3v41m0 4v8m0 5v1M302.5 391v11m0 27v5m0 32v13m0 43v8m0 24v10m0 5v9m0 11v8m0 40v9m0 14v2M303.5 404v4m0 9v3m0 37v5m0 48v3m0 17v10m0 17v5m0 34v4m0 5v6m0 26v1M304.5 393v4m0 23v4m0 33v17m0 6v15m0 31v8m0 25v2m0 7v5m0 45v5M305.5 389v10m0 1v9m0 15v22m0 11v28m0 21v16m0 3v14m0 5v4m0 4v6m0 5v35m0 6v14m0 1v7m0 6v20m0 7v3M306.5 389v112m0 3v13m0 3v101m0 4v7m0 2v28M307.5 393v35m0 2v19m0 2v11m0 3v7m0 1v27m0 5v15m0 5v30m0 3v1m0 6v21m0 4v8m0 6v13m0 5v7m0 28v4M308.5 389v164m0 9v14m0 10v23m0 4v14m0 10v21M309.5 389v117m0 2v33m0 1v22m0 4v54m0 9v13m0 5v13M310.5 389v3m0 37v4m0 65v5m0 50v1m0 12v6m0 16v4m0 66v4M311.5 389v2m0 69v3m0 8v2m0 26v13m0 14v5m0 1v8m0 5v9m0 78v8m0 4v9M312.5 389v273M313.5 395v39m0 5v47m0 7v16m0 4v38m0 3v47m0 4v12m0 3v29m0 3v10M314.5 389v15m0 3v7m0 7v13m0 12v1m0 12v3m0 5v8m0 17v7m0 5v24m0 26v6m0 6v2m0 5v4m0 13v6m0 10v2m0 12v33m0 3v6M315.5 393v7m0 47v16m0 8v3m0 24v11m0 83v7m0 25v3M316.5 422v3m0 5v5m0 18v19m0 3v6m0 12v3m0 20v4m0 33v7m0 38v10m0 6v5m0 3v15m0 14v6M317.5 389v54m0 6v11m0 4v9m0 4v11m0 3v27m0 7v38m0 6v10m0 7v36m0 2v36M318.5 400v15m0 7v9m0 6v3m0 17v10m0 8v9m0 6v6m0 3v7m0 18v11m0 8v6m0 11v6m0 6v4m0 11v11m0 9v7m0 9v8m0 5v9m0 1v6M319.5 393v8m0 8v4m0 31v6m0 4v7m0 32v6m0 47v5m0 23v3m0 12v2m0 12v5m0 3v3m0 6v15m0 13v1m0 7v6M320.5 389v17m0 5v50m0 4v197M321.5 389v273M322.5 389v98m0 11v36m0 6v6m0 10v26m0 3v77M323.5 447v6m0 3v5m0 80v3m0 40v2m0 11v7m0 8v3m0 15v12M324.5 389v27m0 13v4m0 16v18m0 3v8m0 2v14m0 6v5m0 8v11m0 4v34m0 8v35m0 5v50M325.5 389v6m0 7v18m0 2v12m0 9v3m0 7v23m0 5v22m0 18v15m0 1v10m0 7v31m0 5v11m0 10v5m0 4v29m0 7v2M326.5 408v9m0 16v10m0 5v18m0 8v3m0 9v5m0 40v13m0 11v7m0 2v7m0 53v33M327.5 389v143m0 5v91m0 4v30M328.5 394v29m0 8v7m0 10v16m0 3v13m0 13v23m0 10v10m0 15v13m0 10v7m0 2v19m0 10v10m0 11v10m0 8v11M329.5 395v6m0 25v8m0 15v4m0 23v16m0 12v30m0 31v4m0 9v5m0 34v4m0 22v7m0 7v1M330.5 397v3m0 25v6m0 21v6m0 29v20m0 8v5m0 33v7m0 34v4m0 9v3m0 4v4m0 29v11M331.5 391v20m0 5v18m0 7v16m0 13v1m0 21v8m0 11v9m0 21v1m0 3v31m0 7v17m0 10v4m0 13v9m0 17v4M332.5 393v1m0 29v4m0 16v4m0 108v1m0 12v7m0 45v7M333.5 420v2m0 33v5m0 37v3m0 65v14m0 10v7m0 11v7m0 3v8m0 18v4M334.5 389v8m0 22v4m0 6v4m0 24v5m0 3v4m0 10v11m0 4v2m0 24v2m0 10v5m0 17v11m0 3v7m0 6v6m0 19v4m0 10v10m0 13v7m0 5v6M335.5 422v2m0 51v12m0 22v13m0 11v6m0 36v5m0 19v4m0 4v5m0 48v2M336.5 413v5m0 9v4m0 9v5m0 10v18m0 25v3m0 4v12m0 21v9m0 13v7m0 9v5m0 18v3m0 40v2M337.5 389v28m0 1v13m0 14v9m0 9v20m0 13v27m0 31v27m0 12v13m0 8v9m0 16v11m0 8v4M338.5 393v18m0 4v16m0 4v13m0 4v16m0 2v3m0 2v15m0 7v13m0 12v37m0 20v14m0 5v11m0 5v9m0 11v23M339.5 389v13m0 6v3m0 6v4m0 5v12m0 6v2m0 9v10m0 3v22m0 11v10m0 5v4m0 13v3m0 9v8m0 1v3m0 11v60m0 5v3m0 19v2M340.5 389v8m0 15v14m0 5v46m0 23v6m0 10v8m0 8v8m0 4v6m0 20v1m0 13v6m0 21v10m0 4v5m0 4v13m0 12v3M341.5 389v13m0 7v10m0 26v3m0 8v2m0 14v6m0 28v2m0 12v8m0 7v11m0 23v6m0 17v4m0 5v6m0 18v11m0 6v5M342.5 410v3m0 91v7m0 3v6m0 3v5m0 8v8m0 47v11m0 19v6m0 13v14M343.5 390v14m0 4v35m0 8v6m0 17v17m0 11v8m0 7v28m0 6v15m0 14v11m0 3v8m0 6v52M344.5 389v12m0 1v6m0 4v24m0 13v4m0 24v13m0 10v5m0 8v15m0 22v33m0 3v6m0 9v12m0 6v35m0 7v1M345.5 389v32m0 2v18m0 4v70m0 2v63m0 6v76M346.5 389v273M347.5 389v27m0 2v162m0 9v73M348.5 389v18m0 4v40m0 6v16m0 8v28m0 7v19m0 4v6m0 6v7m0 4v55m0 8v7m0 2v28M349.5 446v3m0 27v4m0 25v4m0 4v5m0 11v3m0 9v4m0 14v3m0 13v8m0 63v9M350.5 513v1m0 24v7m0 34v8M351.5 422v8m0 36v4m0 9v25m0 19v4m0 12v7m0 3v16m0 23v9m0 20v7M354.5 391v10m0 8v37m0 5v5m0 5v6m0 9v30m0 4v3m0 7v15m0 4v20m0 4v10m0 12v2m0 8v59M355.5 389v136m0 3v37m0 3v10m0 3v10m0 4v40m0 2v16m0 3v6M356.5 389v203m0 2v68M357.5 389v273M358.5 406v7m0 10v3m0 11v49m0 7v22m0 8v19m0 5v1m0 9v28m0 8v29m0 5v28M359.5 406v2m0 33v31m0 7v17m0 12v10m0 39v2m0 8v6m0 41v3M360.5 401v2m0 9v7m0 11v7m0 13v5m0 44v22m0 9v12m0 4v5m0 1v6m0 4v10m0 20v6m0 12v21M361.5 527v9m0 13v7m0 21v8m0 25v8M362.5 394v4m0 2v5m0 13v2m0 13v4m0 14v19m0 13v5m0 46v15m0 15v14m0 27v4m0 34v4m0 4v4M363.5 389v24m0 3v31m0 16v8m0 7v9m0 15v2m0 9v6m0 7v24m0 4v14m0 7v7m0 15v38m0 6v8m0 2v11M364.5 389v56m0 3v23m0 4v62m0 13v97m0 4v1m0 7v3M365.5 430v4M367.5 487v9m0 24v6m0 79v2m0 21v5m0 3v7m0 17v2M368.5 389v4m0 4v20m0 5v35m0 10v11m0 2v15m0 4v27m0 13v9m0 11v11m0 7v12m0 14v12m0 6v26m0 6v5M369.5 389v77m0 1v13m0 4v141m0 6v31M370.5 389v12m0 2v5m0 10v6m0 3v10m0 5v15m0 7v51m0 12v3m0 8v12m0 26v9m0 7v25m0 10v27M371.5 389v26m0 24v8m0 15v10m0 6v26m0 24v6m0 7v9m0 5v8m0 15v16m0 11v36m0 3v18M372.5 401v6m0 42v3m0 86v7m0 2v15m0 9v5m0 11v3m0 10v13m0 10v6m0 17v16M373.5 394v4m0 13v2m0 38v1m0 74v5m0 47v4m0 16v3m0 60v1M374.5 389v13m0 5v3m0 5v9m0 11v4m0 5v47m0 39v5m0 7v4m0 9v15m0 28v2m0 44v4M375.5 389v158m0 7v108M376.5 389v23m0 7v28m0 6v19m0 9v6m0 15v21m0 7v21m0 1v19m0 14v22m0 5v2m0 16v28M377.5 395v36m0 7v28m0 5v20m0 4v6m0 5v10m0 7v139M378.5 393v40m0 7v23m0 7v30m0 6v9m0 5v25m0 20v3m0 5v17m0 6v28m0 13v17m0 4v4M379.5 389v14m0 3v39m0 16v9m0 2v22m0 6v28m0 6v11m0 9v18m0 4v7m0 9v13m0 1v10m0 6v40M380.5 389v80m0 3v30m0 6v152M381.5 389v4m0 11v24m0 10v28m0 6v34m0 19v17m0 5v13m0 11v62m0 3v26M382.5 389v12m0 2v24m0 1v102m0 8v107m0 9v8M383.5 405v12m0 9v11m0 4v8m0 5v17m0 11v20m0 13v11m0 10v21m0 14v28m0 6v57M384.5 389v9m0 15v9m0 27v9m0 15v7m0 44v5m0 12v13m0 19v5m0 10v5m0 43v17M385.5 389v4m0 10v9m0 3v13m0 5v2m0 10v12m0 9v4m0 5v15m0 7v17m0 10v4m0 15v18m0 5v28m0 9v11m0 8v19m0 8v4m0 6v3M386.5 389v43m0 3v21m0 3v13m0 3v128m0 3v9m0 7v40M387.5 395v9m0 33v3m0 19v7m0 12v4m0 34v6m0 7v7m0 8v6m0 24v2m0 4v5m0 66v11M388.5 389v3m0 40v3m0 9v12m0 24v15m0 64v1m0 6v5m0 3v4m0 32v6m0 12v11m0 5v17M389.5 389v6m0 4v6m0 12v10m0 14v17m0 4v5m0 8v6m0 9v2m0 6v23m0 30v1m0 4v7m0 8v6m0 4v10m0 20v6m0 17v6M390.5 389v10m0 15v29m0 4v6m0 5v5m0 5v8m0 7v25m0 2v24m0 4v15m0 8v17m0 5v8m0 7v11m0 8v15m0 5v14m0 1v10M391.5 389v106m0 5v16m0 2v6m0 11v3m0 8v46m0 4v17m0 9v13m0 2v25M392.5 400v2m0 10v10m0 4v4m0 1v39m0 4v94m0 11v80M393.5 389v8m0 4v5m0 14v5m0 8v16m0 48v12m0 12v35m0 12v11m0 2v18m0 13v19m0 2v29M394.5 389v11m0 8v12m0 32v6m0 25v14m0 9v9m0 24v18m0 48v21m0 2v12m0 8v14M395.5 389v55m0 3v9m0 4v8m0 4v8m0 2v93m0 2v35m0 4v44M396.5 389v81m0 1v8m0 2v181M397.5 389v26m0 1v11m0 2v66m0 6v132m0 4v11m0 6v8M398.5 389v27m0 3v8m0 5v166m0 3v26m0 3v29M399.5 389v93m0 7v50m0 1v47m0 5v70M400.5 389v25m0 3v29m0 1v52m0 7v81m0 7v29m0 4v35M401.5 389v3m0 36v8m0 15v14m0 12v14m0 40v7m0 2v6m0 22v2m0 20v1m0 21v6M402.5 389v4m0 7v39m0 3v28m0 4v33m0 5v12m0 4v134"/>
<path stroke="#fff" stroke-width="1" fill="none" d="M75.5 548v2M76.5 543v3m0 4v4M77.5 545v1m0 8v2m0 9v2M78.5 539v2m0 9v1m0 3v2M79.5 551v1M80.5 536v2m0 10v3M81.5 561v1M83.5 532v4m0 6v2m0 10v1M84.5 533v2m0 3v3m0 3v3m0 15v3m0 1v1M85.5 536v1M86.5 531v1m0 13v1M87.5 535v2m0 1v1m0 3v2m0 18v1M88.5 526v1m0 9v2m0 2v2m0 8v1m0 4v2m0 2v5M89.5 540v2m0 1v2M90.5 523v1m0 25v1m0 2v1M91.5 530v1m0 4v2m0 6v1m0 5v3m0 8v1M92.5 536v6m0 1v2m0 5v2m0 4v3M93.5 534v1M94.5 537v1m0 3v2M95.5 537v2m0 16v1M96.5 537v2m0 4v2M97.5 518v1m0 5v1m0 12v3m0 13v2m0 2v1m0 5v2M98.5 535v2m0 11v1M99.5 548v2m0 3v2m0 6v1M100.5 518v1m0 16v1m0 6v1m0 4v1m0 10v1M101.5 525v3m0 7v2m0 8v2m0 14v1M102.5 535v1m0 9v1m0 10v1m0 4v1M103.5 549v1m0 9v1M104.5 534v8m0 6v1m0 1v3m0 4v2m0 5v1m0 2v1M105.5 533v1m0 9v4m0 17v1M106.5 525v1m0 4v3m0 10v1m0 2v2m0 6v1m0 7v1M107.5 524v2m0 12v1m0 5v1m0 10v1M108.5 522v5m0 17v2m0 1v1m0 2v4M109.5 522v7m0 1v6m0 2v2m0 4v3m0 4v4m0 11v1M110.5 533v1m0 28v2M111.5 533v4m0 8v3m0 2v2m0 2v1m0 5v1m0 2v1m0 6v1M112.5 529v1m0 5v3m0 11v1m0 19v1M113.5 532v1m0 8v2m0 2v1m0 8v1M114.5 536v1m0 22v2M115.5 547v2m0 14v2M117.5 541v1m0 7v2m0 1v2M118.5 526v3m0 7v3m0 5v3m0 3v1m0 1v2M119.5 540v1m0 5v3M120.5 547v2m0 3v3m0 7v1m0 5v1M121.5 524v1m0 3v2m0 4v1m0 18v3M122.5 520v1m0 7v1m0 10v1m0 14v3m0 6v3M123.5 533v1m0 5v2m0 4v1m0 5v1M124.5 527v2m0 8v4m0 3v2m0 5v2m0 2v1m0 7v1M125.5 535v1m0 2v5m0 3v3m0 1v4m0 4v2M126.5 518v2m0 12v3m0 16v1m0 6v3m0 8v1M127.5 541v4m0 4v1m0 10v3M128.5 539v3M129.5 515v2m0 8v1m0 6v1m0 5v1M130.5 531v3m0 3v2m0 4v6m0 12v3m0 3v3M131.5 524v1m0 17v1M132.5 526v3m0 27v2M133.5 530v2m0 11v1m0 6v1m0 4v4M134.5 543v1m0 5v3m0 23v1M135.5 518v1m0 16v2M136.5 518v1m0 8v1m0 9v1m0 5v1m0 2v6m0 9v1M137.5 519v2m0 24v2m0 10v1M138.5 537v2m0 5v2m0 1v1m0 11v1m0 2v2m0 2v2m0 6v1M139.5 538v2m0 2v4m0 2v1m0 6v1M140.5 552v2m0 8v1M141.5 548v1M142.5 551v2M143.5 510v1m0 11v2m0 7v1m0 6v2m0 6v2m0 2v5m0 2v2m0 7v5M144.5 507v2m0 12v1m0 16v1m0 4v5m0 5v3m0 1v1m0 2v2m0 3v1m0 3v1M145.5 529v3m0 2v1m0 10v1m0 6v5M146.5 505v1m0 24v5m0 11v1m0 3v2m0 4v1m0 7v1M147.5 533v6m0 6v2m0 10v1m0 2v10m0 4v1M148.5 525v3m0 4v1m0 3v3m0 6v2m0 5v3m0 6v3m0 2v1m0 9v2M149.5 531v3m0 13v7m0 4v1M150.5 541v2m0 4v1m0 8v3M151.5 509v1m0 1v2m0 8v3m0 10v2m0 4v2m0 12v4M152.5 526v2m0 3v1m0 11v2m0 5v2M153.5 522v3m0 16v2m0 18v2m0 5v1M154.5 515v2m0 18v2m0 13v1m0 3v2M155.5 522v1m0 38v2m0 2v2m0 4v3M156.5 519v2m0 1v2m0 16v2m0 3v1m0 1v2M157.5 516v3m0 5v3m0 10v2m0 1v1m0 6v3m0 3v2m0 25v2M158.5 511v1m0 13v2m0 2v1m0 3v4m0 4v2m0 5v4m0 8v2M159.5 521v2m0 16v1m0 1v1m0 5v2m0 11v1m0 8v3m0 26v2M160.5 532v1m0 3v1m0 13v1M161.5 554v2M162.5 517v2m0 21v3m0 5v1m0 3v1m0 11v1m0 42v1M163.5 540v2m0 4v2m0 14v3m0 9v1M164.5 523v3m0 3v1m0 10v1m0 3v2m0 8v2m0 12v1M165.5 510v1m0 29v1m0 2v3m0 9v1m0 2v2m0 7v1M166.5 522v1m0 30v1m0 11v1M167.5 535v1m0 14v2m0 10v1m0 19v3m0 20v1M168.5 517v1m0 12v2m0 10v3m0 1v4m0 2v1m0 5v2m0 2v2m0 6v1m0 3v2m0 8v1m0 3v1m0 4v2M169.5 514v4m0 3v2m0 15v2m0 8v2m0 6v1m0 13v2m0 20v3M170.5 509v1m0 3v1m0 6v2m0 4v2m0 27v2m0 9v2m0 3v2m0 8v3M171.5 505v1m0 14v1m0 33v2m0 6v1m0 24v1M172.5 519v3m0 18v2m0 16v2m0 1v2m0 1v3m0 4v2m0 26v2M173.5 511v3m0 15v4m0 11v1m0 5v3m0 10v2M174.5 546v1m0 16v1m0 2v2m0 32v1M175.5 561v1m0 1v3m0 12v2M176.5 550v3m0 7v1m0 14v4m0 12v1M177.5 516v2m0 21v1m0 11v1m0 24v2m0 6v1m0 10v3M178.5 518v1m0 22v3m0 2v3m0 2v6m0 24v1m0 23v2M179.5 513v1m0 4v1m0 4v1m0 7v1m0 2v2m0 11v5m0 50v2M180.5 508v1m0 28v1m0 3v2m0 8v1M181.5 515v2m0 13v1m0 34v1m0 14v1M182.5 540v1m0 6v1m0 15v2m0 25v3m0 5v1M183.5 519v2m0 23v1m0 18v1m0 16v2M184.5 534v1m0 8v1m0 17v6m0 6v3m0 4v1M185.5 535v2m0 2v1m0 2v2m0 2v4m0 6v3m0 4v1m0 13v1m0 9v2m0 10v2m0 4v1M186.5 526v1m0 23v1m0 21v2m0 11v2m0 9v1M187.5 516v1m0 6v6m0 8v3m0 8v1m0 11v1m0 6v1m0 8v1m0 21v1M188.5 515v1m0 6v3m0 10v3m0 2v2m0 3v2M189.5 521v1m0 3v2m0 3v7m0 4v3m0 2v2m0 2v1m0 2v2m0 6v2m0 13v2m0 4v1m0 18v1M190.5 506v1m0 34v3m0 2v2m0 2v2m0 2v2m0 17v4m0 5v3m0 7v1m0 4v1M191.5 522v1m0 16v1m0 7v1m0 16v4m0 6v2m0 14v1m0 1v1M192.5 530v2m0 4v1m0 11v1m0 13v3m0 3v2M193.5 529v1m0 10v1m0 5v1m0 4v2m0 18v2M194.5 511v1m0 9v2m0 1v4m0 3v1m0 9v3m0 9v4m0 7v5m0 9v2m0 5v2m0 4v1m0 1v3m0 4v1M195.5 519v1m0 17v1m0 7v1m0 10v1m0 6v1m0 9v3m0 20v1M196.5 507v1m0 24v3m0 11v1m0 15v1m0 4v3m0 34v2M197.5 506v1m0 2v2m0 13v1m0 12v4m0 12v2m0 2v4m0 19v1m0 7v1m0 13v2M198.5 505v1m0 14v1m0 1v2m0 21v4m0 8v2m0 2v2m0 3v2M199.5 520v3m0 15v1m0 5v1m0 7v3m0 1v2m0 9v2M200.5 520v1m0 10v3m0 2v2m0 3v1m0 3v3m0 6v2m0 10v2m0 5v2m0 18v3M201.5 523v4m0 15v1m0 18v3m0 13v4m0 16v2M202.5 531v4m0 12v1m0 36v1m0 10v1M203.5 506v3m0 28v1m0 9v3m0 15v2m0 26v1m0 3v1M204.5 526v1m0 17v2m0 2v1m0 7v4M205.5 542v1m0 22v1m0 3v1m0 10v6m0 11v3M206.5 529v1m0 5v4m0 30v2M207.5 522v1m0 12v5m0 2v1m0 26v1m0 2v2M208.5 533v2m0 6v3m0 20v1m0 2v4m0 3v2M209.5 514v1m0 24v3m0 2v3m0 10v1m0 3v2m0 4v1m0 4v4m0 6v1M210.5 539v4m0 9v2m0 2v2m0 5v1m0 23v1m0 3v1m0 3v1M211.5 560v2m0 7v2M212.5 529v2m0 14v1m0 2v1m0 13v3M213.5 536v5m0 12v3m0 5v1m0 4v4m0 2v1m0 15v5m0 1v1M214.5 536v1m0 4v1m0 7v1m0 8v4m0 5v1m0 15v1M215.5 525v2m0 9v1m0 3v1m0 8v1m0 14v3M216.5 525v1m0 1v2m0 2v2m0 7v1m0 10v2m0 15v1m0 14v3m0 5v3M217.5 519v1m0 16v3m0 3v1m0 6v1m0 10v2M218.5 519v1m0 4v2m0 17v3m0 8v2m0 3v1m0 25v2M219.5 505v2m0 24v3m0 4v1m0 1v1m0 17v4m0 2v2m0 3v3m0 16v1M220.5 537v2m0 19v1m0 30v1m0 3v2m0 7v1M221.5 527v1m0 6v1m0 16v2m0 3v2m0 4v1m0 6v1M222.5 530v3m0 15v1M223.5 521v2m0 23v4m0 6v1m0 4v1m0 7v2m0 4v2M224.5 544v3m0 9v3m0 45v1M225.5 525v1m0 6v2m0 17v4m0 22v2m0 6v1M226.5 547v2m0 1v2m0 7v1m0 12v1m0 11v1m0 2v2m0 4v2M227.5 513v1m0 18v2m0 5v3m0 1v1m0 11v2m0 6v1m0 3v1m0 7v1m0 6v4m0 1v3m0 20v1M228.5 526v2m0 27v2m0 2v1m0 7v2m0 20v1M229.5 505v1m0 10v1m0 14v2m0 2v1m0 6v8m0 12v3m0 16v1M230.5 512v2m0 39v1m0 10v2m0 13v2m0 18v1M231.5 539v4m0 5v2m0 9v2M232.5 517v2m0 23v2m0 20v1m0 18v1m0 9v1M233.5 507v2m0 11v2m0 2v2m0 8v6m0 4v1m0 1v1m0 6v3m0 2v5m0 20v2m0 1v3m0 8v2M234.5 535v3m0 4v3m0 9v1m0 3v2m0 14v3m0 3v2M235.5 516v1m0 5v2m0 2v4m0 12v5m0 2v3m0 13v4m0 3v3m0 7v2m0 11v3M236.5 510v1m0 19v3m0 4v1m0 2v3m0 14v3m0 14v2m0 13v2m0 20v1M237.5 518v2m0 23v2m0 16v2m0 21v1M238.5 510v1m0 30v1m0 4v1m0 16v2M239.5 511v1m0 9v2m0 3v1m0 3v1m0 5v1m0 5v2m0 2v3m0 3v1m0 2v2m0 3v1m0 20v1m0 10v2m0 5v3M240.5 531v2m0 14v1m0 8v3m0 16v1m0 21v1m0 11v3M241.5 514v2m0 4v1m0 9v1m0 4v2m0 9v1m0 9v4m0 18v2m0 2v1m0 1v1m0 3v1m0 2v2M242.5 506v1m0 6v2m0 22v1m0 10v1m0 24v1M243.5 508v2m0 32v1m0 6v3m0 6v1m0 1v2m0 6v3m0 10v3M244.5 524v3m0 3v1m0 9v4m0 2v3m0 4v2m0 21v2m0 6v1M245.5 542v5m0 13v2m0 2v2M246.5 506v1m0 5v3m0 6v1m0 8v2m0 12v1m0 9v1m0 22v2m0 16v1M247.5 569v3m0 23v2M248.5 513v2m0 26v2m0 4v1m0 2v1m0 29v2M249.5 568v1m0 19v1M250.5 566v1m0 23v2M251.5 507v3m0 7v1m0 23v1m0 11v1m0 12v1m0 25v1m0 15v2M252.5 521v1m0 6v1m0 1v3m0 1v2m0 5v1m0 1v3m0 7v2m0 7v2m0 8v1m0 25v1m0 13v1M253.5 530v1m0 7v2m0 6v3m0 25v3m0 14v1m0 26v1M254.5 510v1m0 7v2m0 2v2m0 18v3m0 42v1m0 4v1m0 3v2m0 4v1M255.5 512v1m0 2v1m0 11v2m0 3v2m0 5v2m0 4v1m0 6v2m0 38v2m0 12v2m0 3v1m0 5v2M256.5 507v1m0 6v9m0 1v2m0 9v2m0 1v2m0 4v3m0 2v2m0 1v8m0 17v2m0 1v2m0 5v2m0 1v2m0 15v4M257.5 524v1m0 5v5m0 7v3m0 11v2m0 20v8m0 2v1m0 4v1m0 11v1m0 5v2M258.5 519v1m0 25v1m0 31v1m0 25v2M259.5 507v2m0 8v2m0 8v3m0 3v4m0 12v1m0 4v2m0 3v1m0 3v1m0 9v3m0 7v2m0 4v2m0 2v3m0 2v8m0 6v1M260.5 511v1m0 1v2m0 2v3m0 5v2m0 6v2m0 20v2m0 20v2m0 5v3m0 9v3m0 4v2M261.5 506v1m0 2v3m0 2v1m0 3v1m0 3v2m0 10v2m0 12v4m0 2v2m0 8v1m0 9v1m0 13v1m0 4v4m0 10v2m0 2v2M262.5 530v2m0 12v1m0 3v4m0 3v2m0 17v2m0 26v4M263.5 519v2m0 6v4m0 3v3m0 1v1m0 4v3m0 13v4M264.5 508v1m0 8v2m0 13v3m0 2v2m0 6v2m0 7v7m0 4v2m0 17v3m0 8v1m0 4v2m0 3v3m0 4v6M265.5 508v2m0 2v4m0 3v1m0 2v8m0 6v1m0 6v4m0 1v3m0 3v2m0 2v4m0 7v3m0 7v4m0 3v2m0 9v2m0 1v8M266.5 507v1m0 11v1m0 13v1m0 5v1m0 4v1m0 21v3m0 4v3m0 3v2m0 11v1M267.5 524v2m0 13v1m0 2v4m0 15v2m0 9v1m0 1v1m0 3v3m0 1v2M268.5 513v1m0 7v1m0 4v1m0 3v1m0 6v1m0 3v4m0 3v2m0 9v2m0 6v2m0 3v1m0 2v2m0 4v3m0 14v3m0 3v3m0 4v1m0 2v3M269.5 514v3m0 10v2m0 6v2m0 4v2m0 8v2m0 6v2m0 8v4m0 7v1m0 5v6m0 7v1m0 5v2m0 2v6M270.5 510v1m0 5v1m0 3v2m0 2v3m0 15v2m0 3v2m0 11v2m0 10v1m0 6v1m0 3v7m0 19v4M271.5 507v1m0 16v5m0 8v1m0 3v3m0 8v2m0 8v1m0 2v1m0 1v2m0 20v1m0 19v1M272.5 513v2m0 16v1m0 5v4m0 17v1m0 2v1m0 6v1m0 24v1m0 3v1m0 4v1m0 2v2m0 5v4M273.5 517v3m0 3v2m0 6v2m0 1v2m0 2v3m0 10v3m0 2v2m0 14v1m0 10v7m0 2v2m0 5v8M274.5 514v3m0 1v3m0 14v3m0 7v9m0 10v2m0 11v5m0 2v3m0 10v3m0 16v1M275.5 516v1m0 1v1m0 5v1m0 18v3m0 4v2m0 14v4m0 8v1m0 4v2m0 27v2m0 1v4M276.5 522v2m0 16v1m0 3v3m0 2v3m0 2v3m0 4v4m0 8v3m0 1v2m0 2v3m0 2v1m0 28v4M277.5 536v4m0 17v4m0 21v2m0 3v1m0 8v3M278.5 521v1m0 1v2m0 1v2m0 4v1m0 2v3m0 6v10m0 2v2m0 8v1m0 11v2m0 6v6m0 3v4m0 5v2m0 10v2M279.5 523v3m0 1v5m0 7v3m0 2v2m0 9v2m0 2v1m0 6v3m0 1v2m0 13v11m0 2v1m0 2v6m0 8v3M280.5 522v6m0 8v2m0 2v5m0 3v2m0 3v4m0 4v1m0 20v7m0 1v2m0 8v8m0 1v4M281.5 522v2m0 15v1m0 13v2m0 9v1m0 2v1m0 18v2M282.5 519v4m0 24v1m0 9v3m0 21v1m0 4v5m0 21v1M283.5 520v1m0 2v3m0 3v1m0 41v2m0 3v2m0 33v2M284.5 521v3m0 10v1m0 3v2m0 5v2m0 4v3m0 3v2m0 1v2m0 5v2m0 23v1m0 6v1m0 3v2M285.5 522v10m0 11v2m0 2v6m0 7v4m0 7v7m0 9v3m0 1v3m0 2v3m0 8v3M286.5 525v1m0 10v3m0 9v1m0 2v4m0 2v3m0 2v1m0 3v3m0 3v1m0 2v4m0 3v2m0 7v3m0 3v1m0 1v2m0 4v1m0 3v1M287.5 530v2m0 1v2m0 13v7m0 3v4m0 1v1m0 6v3m0 1v2m0 1v1m0 15v1m0 2v6M288.5 536v5m0 1v4m0 20v4m0 13v1m0 4v1m0 7v4M289.5 528v3m0 5v3m0 1v4m0 2v1m0 3v1m0 6v2m0 7v1m0 16v1m0 13v2M290.5 534v2m0 20v2m0 10v1m0 2v2m0 9v1m0 2v4m0 14v2M291.5 535v3m0 6v4m0 13v1m0 4v3m0 9v3m0 2v2m0 3v1m0 2v2m0 3v2M292.5 545v2m0 5v3m0 2v7m0 20v2M293.5 545v3m0 12v1m0 5v1m0 10v1m0 5v3M294.5 557v3m0 3v1m0 3v2M295.5 564v2M296.5 565v1"/>
<rect x="222.0" y="389.0" width="11" height="10.9" fill="url(#boxa)"/>
<rect x="211.1" y="399.9" width="11" height="10.9" fill="url(#boxa)"/>
<rect x="200.1" y="410.8" width="11" height="10.9" fill="url(#boxa)"/>
<rect x="189.2" y="421.8" width="11" height="10.9" fill="url(#boxa)"/>
<rect x="178.3" y="432.7" width="11" height="10.9" fill="url(#boxa)"/>
<rect x="167.3" y="443.6" width="11" height="10.9" fill="url(#boxa)"/>
<rect x="156.4" y="454.5" width="11" height="10.9" fill="url(#boxa)"/>
<rect x="145.5" y="465.4" width="11" height="10.9" fill="url(#boxa)"/>
<rect x="134.6" y="476.4" width="11" height="10.9" fill="url(#boxa)"/>
<rect x="123.6" y="487.3" width="11" height="10.9" fill="url(#boxa)"/>
<rect x="112.7" y="498.2" width="11" height="10.9" fill="url(#boxa)"/>
<rect x="101.8" y="509.1" width="11" height="10.9" fill="url(#boxa)"/>
<rect x="90.8" y="520.0" width="11" height="10.9" fill="url(#boxa)"/>
<rect x="79.9" y="531.0" width="11" height="10.9" fill="url(#boxa)"/>
<path fill="#fff" d="M75 389L222 389L222 399.92L211.07 399.92L211.07 410.84L200.14 410.84L200.14 421.76L189.21 421.76L189.21 432.68L178.28 432.68L178.28 443.6L167.35 443.6L167.35 454.52L156.42 454.52L156.42 465.44L145.49 465.44L145.49 476.36L134.56 476.36L134.56 487.28L123.63 487.28L123.63 498.2L112.7 498.2L112.7 509.12L101.77 509.12L101.77 520.04L90.84 520.04L90.84 530.96L79.91 530.96L79.91 541.88L75 541.88Z"/>
</svg>
<path d="M130.5 389V662M184.5 389V662M239.5 389V662M294.5 389V662M348.5 389V662M75 444.5H403M75 498.5H403M75 553.5H403M75 607.5H403" stroke="#000" stroke-opacity=".15" stroke-width="1" fill="none"/>
<rect x="74.5" y="388.5" width="329" height="274" fill="none" stroke="#6a6a6a" stroke-width="1"/>
<text x="63.3" y="397.1" text-anchor="end" textLength="28.4" lengthAdjust="spacingAndGlyphs">500</text>
<text x="63.3" y="453.1" text-anchor="end" textLength="28.4" lengthAdjust="spacingAndGlyphs">450</text>
<text x="63.3" y="506.5" text-anchor="end" textLength="28.4" lengthAdjust="spacingAndGlyphs">400</text>
<text x="63.3" y="558.1" text-anchor="end" textLength="28.4" lengthAdjust="spacingAndGlyphs">350</text>
<text x="63.3" y="614.2" text-anchor="end" textLength="28.4" lengthAdjust="spacingAndGlyphs">300</text>
<text x="63.3" y="670.3" text-anchor="end" textLength="28.4" lengthAdjust="spacingAndGlyphs">250</text>
<text x="62.2" y="685.5" textLength="28.4" lengthAdjust="spacingAndGlyphs">400</text>
<text x="116.3" y="685.5" textLength="28.4" lengthAdjust="spacingAndGlyphs">450</text>
<text x="170.4" y="685.5" textLength="28.4" lengthAdjust="spacingAndGlyphs">500</text>
<text x="224.5" y="685.5" textLength="28.4" lengthAdjust="spacingAndGlyphs">550</text>
<text x="278.6" y="685.5" textLength="28.4" lengthAdjust="spacingAndGlyphs">600</text>
<text x="332.7" y="685.5" textLength="28.4" lengthAdjust="spacingAndGlyphs">650</text>
<text x="386.8" y="685.5" textLength="28.4" lengthAdjust="spacingAndGlyphs">700</text>
<text x="137.3" y="705.7" textLength="203.1" lengthAdjust="spacingAndGlyphs"><tspan font-weight="bold">Emission Wavelength</tspan> (nm)</text>
<text transform="translate(23.5 634.9) rotate(-90)" textLength="183.4" lengthAdjust="spacingAndGlyphs" font-weight="bold">Excitation Wavelength</text>
<text transform="translate(23.5 441.8) rotate(-90)" textLength="33.2" lengthAdjust="spacingAndGlyphs">(nm)</text>
<text class="lb" x="91.4" y="422.5">S2</text>
<text x="194" y="742.7" textLength="34.4" lengthAdjust="spacingAndGlyphs" class="cp">(<tspan font-weight="bold">a2</tspan>)</text>
<svg x="586" y="386" width="328" height="283" viewBox="586 386 328 283" overflow="hidden">
<g fill-rule="evenodd">
<path fill="#0000af" d="M670.5 621.5l-84 0 0-91 1-2 6-7 2-4 5-6 0-1 3-3 0-1 5-6 0-1 8-10 1 0 8-6 1 0 17-12 4-2 5-1 4-2 3 0 1-1 2 0 1-1 2 0 1-1 4-1 3-3 4-2 3-3 4-2 3-3 1 0 3-3 1 0 6-5 1 0 18-16 1 0 6-6 1 0 6-6 1 0 3-3 2-4 0-2 3-5 0-2 2-3 0-2 3-6 77 0 0 6-1 1 0 13-1 1 0 12-1 1 0 13-1 1 0 8 1 1 1 7 1 1 0 4 1 1 0 3 1 1 1 7 3 4 8 2 1 1 3 0 1 1 2 0 1 1 2 0 1 1 4 1 14 27 0 5 1 1 0 9 1 1 0 9 1 1 0 9 1 1 0 6-1 1 0 5-1 1 0 5-1 1 0 5-1 1 0 5-1 1 0 5-1 1 0 2-22 25-6 1-1 1-3 0-1 1-3 0-1 1-3 0-1 1-3 0-1 1-8 1-1 1-7 1-1 1-3 0-1 1-3 0-1 1-16 0-1 1-29 0-1 1-29 0-1 1-44 0-1 1z"/>
<path fill="#0000d0" d="M669.5 620l-77-0.5-6-1 0-85.5 7.5-6.5 31.5-22 10.5-5 15-20 13.5-12 26-12.5 23.5-10.5 5.5-14.5 3-4.5 13-15 10.5-24 76.5 0 0 6-1 1 0 9-12.5 27-3 5-2.5 6 4 6 20 25 2 0 1 1 11 4.5 8 4.5 12.5 25 1.5 7 0 6 3 26-6 34-21 24-3 1.5-45 11.5-13 0-4 1-26 0-4 1-26 0-4 1-43 0-2 0.5z"/>
<path fill="#0000f1" d="M754.5 439.5l-9 0.5-6-2-12-7.5-1.5-3 0.5-2 9-13 6-12 0-2 6-11 2-1 69 0 4 1.5 0 4.5-1 1 0 7.5-16 14.5-33 23.5-18 0.5zM716.5 616.5l-3 0.5-66 0.5-3-0.5-52 0-2-1-4-9 0-62 3.5-10.5 1.5-2 51-13.5 10-1.5 1-1 5.5-20 9-27 1.5-1 19-6.5 81-15 5 2.5 27 10.5 3 2 21 8 5 3.5 1 0 15 9.5 12.5 24.5 4 37-3 24-2.5 10.5-18 20.5-5 3.5-43 11-14 0-4 1-26 0-4 1-27 0.5z"/>
<path fill="#0013ff" d="M742.5 428l-10-1-2-0.5-1-2 1.5-3 0.5-3 2-2 1-3 7-13 0-2 6-11 52 0 19 3 1.5 1-1.5 7-16 9-60 20.5zM715.5 615.5l-22.5 0-19.5-1-24-3-3-1-43-6.5-0.5-0.5-0.5-18 0-41.5 67-10.5 0-27 1-15 2-18.5 3-1.5 15-3.5 18-0.5 46 0.5 12 0.5 3 1 16 1.5 13 0 3 1 13 0.5 3 1 6 0.5 14 11.5 3 3 10 22 4 35-4.5 30-16.5 21-17 6.5-27 7-13 1.5-3 1-27 1-1 1-29 0-1 1z"/>
<path fill="#0034ff" d="M741.5 419.5l-8 0-1 1-0.5-2 2-2 0.5-3 7-13 0-2 6-10.5 44-0.5 8.5 1 0.5 1-2 2-3 2.5-7 3.5-5.5 4-35.5 16.5-6 1.5zM713.5 612.5l-15-0.5-11-3-7-2.5-9.5-7-4-5-5.5-9-4-10 2-12 7-29 3.5-1 0-27 0.5-3 4-9 6-8 6-4.5 12-3 8 0 3-1 27 0 15 2 10 2.5 10 4.5 11 8 3-3.5 4-3 6-2 8 1 6 4 6 9 3 8 3 17 0.5 20-1.5 17-2.5 9-9 16-5 4-5.5 1.5-7-0.5-5-2-4 4-8 6.5-6 4-9 3-9 2.5-3 0-1 1-7 0-1 1-25 0z"/>
<path fill="#0054ff" d="M732.5 419.5l0-1 2-2 0.5-3 6.5-13 0-2 6-10.5 44 0 8 0.5-1 2-4 2.5-7 2-41 21-5 1-1 1-3 0-1 1-3-0.5-1 1zM738.5 612l-31 0-1-1-8 0-1-1-3 0-12-5-8.5-8.5-2-4 0-2-3-7 0-5-1-1 0-13-1-1 0.5-29 2.5-1 0.5-27 1.5-4 0.5-2 2.5-5 7.5-7.5 6-3 2 0 4-2 4 0 1-1 9 0 1-1 27 0 1 1 8 0 1 1 4 0 7 3 2 0 9 5 10.5 10.5 5 9 0.5 2.5 4.5-15.5 4.5-5.5 2 0 1-1 5 1 4.5 5.5 2 8 1 1 0 3 1 1 0 5 1 1 0 9 1 1 0 26-1 2 0 9-1 1 0 5-1 1 0 3-1 1 0 2-1 1 0 2-1 1-1 4-3.5 3.5-2 0-1 1-5-1-3.5-3.5-3.5-10.5-1.5 5.5-1 1 0 2-3 6-6 7 0 1-7.5 6.5-8 4-2 0-7 3-3 0-1 1-7 0-1 1z"/>
<path fill="#0075ff" d="M735.5 418l-1-0.5 0.5-4 7-13 0-2 5.5-10.5 44 0 5.5 1.5-3.5 2.5-7 2.5-41 20.5-10 3zM737.5 611l-29 0-4-1-5 0-10-3-6-3-8.5-8.5-5-13-1-6 0-10-1-4 0-27 2.5-2 0.5-24 3-10 2.5-4 6-6 7-3.5 6-2 5-1 8 0 2-1 25 0 2 1 7 0 14 4 10 5.5 9.5 9 6.5 12 1-1 1-6 4.5-11 2.5-2.5 3-1.5 2 0 3 1.5 2.5 2.5 4.5 11 1 9 1 1 0 9 1 2 0 25-1 2 0 9-1 1-1 9-4.5 11-2.5 2.5-3 1.5-2 0-3-1.5-2.5-2.5-2.5-5-1-5-1-1-3 7 0 2-5.5 9-5.5 6-5 4-9 4.5-6 2-15 3z"/>
<path fill="#0096ff" d="M736.5 416.5l-1.5-3 7-13 0-2 3-6 3.5-4.5 43 0 2.5 1.5-0.5 1.5-9 3.5-39 19.5-9 2.5zM738.5 609.5l-29 0.5-14-2-6-2-6-3-7-7-2.5-4.5-3-9-1-6 0-10-1-5 0-25 2-3 0.5-24 2.5-8 3-5 6.5-6.5 6-3 11-3 6 0 5-1 24 0 17 2.5 12 5 6.5 5 6.5 6.5 7 12.5 1.5-1 4.5-15 3.5-5 3.5-1.5 3 1.5 3 2.5 1 2.5 3.5 9 1 8 1 2 0 8 1 2 0 25-1 2 0 8-1 2 0 4-5.5 15-2.5 3-2.5 1-1 0.5-3-1.5-3-3-3.5-9-1.5-2-1 1-3 8.5-5 9-5 5.5-5 4-9 5-6 2-14 2z"/>
<path fill="#00b7ff" d="M740.5 414.5l-3 1-2.5-2 7-13 0-2 3-6 3.5-4.5 44 0.5 0 2-7 2.5-39 19.5-6 2zM738.5 608.5l-29 0.5-12-1.5-7-2-6-3-8-8-4.5-12-1-7 0-10-1-4 0-24 1-3 1-7 0-12 0.5-6 3-9 2.5-4 5.5-5.5 10-4.5 18-2.5 23 0 10 1 14 3.5 9 5 9.5 9 6.5 12 2 1.5 1-1.5 3.5-13 2-5 3.5-3 2-0.5 2 0.5 3.5 3 4 11 1 8 1 2 0 8 1 2 0 25-1 2 0 8-1 2-1 8-4 11-4.5 3.5-4-1-2.5-2.5-3-9-2.5-3.5-1 1-3.5 9.5-3 6-2.5 3.5-7 7-3 2.5-8 4-13 3.5-7 0.5z"/>
<path fill="#00d8ff" d="M741.5 413.5l-4 0-1 1-1-1 6.5-13 0-2 3-6 3.5-4.5 43.5 0.5-0.5 1-2 0-2 2-2 0.5-44 21.5zM739.5 607.5l-3 0.5-27 0-15-2-10-4.5-7-7-2-4-2.5-7-1-6 0-12-1-4 0-23 0.5-9 1-1 0-13 2.5-12 3.5-6 6-6 6-3 9-2.5 8 0 4-1 23 0 17 2 13 5.5 5.5 4 6.5 7 5 10 3 4 1 0.5 1.5-2.5 0.5-4 1-1 0-3 2-6 2-4 2-2.5 2-1.5 2 0 4 4 2 4 2 6 0 3 1 1 0 5 1 1 0 8 1 3 0 23-1 2 0 9-1 1 0 5-5 14-4 4-2 0-2-1.5-2-2.5-2-4-1-5-3-4.5-3 5.5-2 7-3 5-2.5 4-7 7-11.5 6.5-11 3-7 0.5z"/>
<path fill="#00f9ff" d="M736.5 414l-1-0.5 6.5-13 0-2 4.5-8 2-2.5 43 0.5-2 0.5-3 2-2 0-41 21-2 0-1 1-3 0-1 1zM738.5 607l-29 0.5-2-0.5-1-0.5-8-0.5-1-0.5-6-1.5-6-3-8-7.5-4-10 0-5-1-1 0-13-1-1 0-2 0-23 0.5-9 1-1 0-13 1-1 0-4 0.5-1 0.5-3 2-5 2-2 0-1 6.5-6.5 9-4 4 0 1-1 9 0 1-1 2 0 23 0 3 0 1 1 8 0 1 1 4 0 1 1 5 1 8 4 3 3 1 0 8.5 9.5 5 10 0.5 2 1 1 1 3.5 1-1.5 0-4 1-1 0.5-5 1-1 0-3 1-1 1-5 3.5-5.5 2-2 2 0 3.5 3.5 2 4 1 5 1 1 0 3 1 1 0 5 1 1 0 9 1 1 0 25-1 1 0 9-1 1 0 5-1 1 0 3-1 1-1 5-2 4-3.5 3.5-1 0-1 0-3.5-3.5-2-4 0-2-1-1-1.5-6-1-1 0-3-1-1.5-1 1.5 0 4-1 1-1.5 6-2 3 0 2-2 2-3 6-7.5 7.5-11 6-2 0-4 2-4 0.5-1 0.5-7 0.5-1 0.5z"/>
<path fill="#1bffe4" d="M740.5 412.5l-3 0-1 1 0-2 5.5-11 0-2 3-6 3.5-4.5 25.5 0.5 11 1-1.5 0-18 11-25 12zM738.5 606.5l-31 0-1-1-8 0-1-1-6-1-6-3-7.5-7-4-10 0-5-1-1 0-13-1-1 0-2 0-32 1-1 0.5-13 0.5-1 0.5-4 0.5-1 0.5-3 1-1 1-4 8-9 6-3 2 0 1-1 4 0 1-1 9 0 2-1 26 0 2 1 7 0 2 1 4 0 4 2 2 0 8 4 10 9 7 13 1.5 6 1 1 0 5 0.5 0.5 1.5-2.5 0-9 1-1 0-5 1-1 0-3 1-1 1.5-5 2-4 3-3 2 0 3 3 2 4 1 5 1 1 0 3 1 1 0 5 1 1 0 9 1 1 0 25-1 1 0 9-1 1 0 5-1 1 0 3-1 1-1 5-2 4-3 3-2 0-3-3-2-4-1.5-5-1-1 0-3-1-1-1.5-15.5-0.5 10.5-1 1-0.5 5-0.5 1-0.5 3-3 6 0 2-2 2-3 6-7 7-11 6-2 0-4 2-4 0-1 1-7 0-1 1z"/>
<path fill="#3cffc3" d="M740.5 409.5l-0.5-4 0.5-2 2-3 0-2 3-6 3-4 17 0 6.5 4-20.5 12-11 5zM738.5 604.5l-29 0.5-10-1-7-1.5-6-3-7-6-5-10 0-5-1-1 0-13-1-1 0-34 1-1 0.5-12 4-12 3.5-5 5-4 7-3 8-2 34-0.5 14 1.5 15 6 8 7 8.5 13 3.5 13 1.5-1 1.5-3 0-9 1-1 0-5 2-6 4-7 3-1.5 2 1.5 2.5 4 2.5 6 2 10 0 6 1 4 0 23-1 4 0 6-2 10-2.5 6-2.5 4-2 1.5-3-1.5-1.5-2-4.5-11 0-5-1-2 0-8-2-1-0.5 1 0 9-2 10-3.5 8-5.5 9-5.5 5.5-10 5.5-9 3-11 1z"/>
<path fill="#5dffa2" d="M745.5 405l-3-0.5-1-1 0-2 1-1 0-2 3-6 3-4 16 0-1.5 6-12.5 8-5 2.5zM740.5 404.5l0-1 1 0-1 1zM741.5 603l-32 0.5-13-1.5-11-5-5-4-2.5-4.5-2.5-6-2-11 0-41 0.5-4 0.5-6 1.5-8 3.5-7 4-4.5 7-4.5 12-3 32 0 9 0.5 13 3 6 2.5 5 3.5 8.5 9.5 3 6 4 13 1.5 2 1-0.5 1-1.5 1.5-5 0.5-8 1-2 0-4 3-9 2-2.5 3-1.5 3.5 4 3 9 1 7 0 6 1 4 0 21-2 17-3.5 9.5-3 3.5-3-1.5-1.5-1.5-3.5-10 0-4-1-2-0.5-8-2.5-4.5-1 0.5-1 3 0 10-2 10-3.5 8-3 5-7.5 8-3 2-12 5.5-11 2z"/>
<path fill="#7eff81" d="M742.5 403l-1-0.5 1-4 6-10 15.5 0-1.5 0.5-3 3.5-1 0-5 5-4.5 3-3.5 0.5-3 2zM740.5 601.5l-36 0-1-1-6 0-1-1-3 0-10-5-5-6-2.5-6-1.5-10-0.5-1-0.5-9 0-30 1.5-12 0.5-1 1.5-6 2.5-5 4.5-5 7.5-4 11-2.5 40 0 2 1 4 0 12 4 6 3.5 9 10 3 6 1 4 1 1 0 2 1 1 0 4 1 1 1 7-1 7-0.5 16-0.5 1 0 4-2 4 0 2-5 9-8 8-9 5-5 1-1 1-3 0-1 1-6 0-1 1zM797.5 577.5l-2 1-2.5-3-2-5 0-2-1-1-0.5-5-1-1 0-8-0.5-1-1.5-11 3.5-29 1-1 0-2 2-5 2.5-3 1 0 3 3 1 4 1 1 0 2 1 1 0 5 1 1 0 8 1 1 0 2 0 23-1 1 0 8-1 1 0 5-1 1-1 5-3 4z"/>
<path fill="#9fff60" d="M740.5 600.5l-36 0-1-1-6 0-1-1-3 0-7-3-5-4-2.5-3-3-6-1-10-1-1 0-44 1-1 0.5-6 0.5-1 1.5-6 3-5 4-4 8-3.5 11-2 38 0 10 2 9 3.5 5 2.5 8.5 8.5 1.5 2 3 6 0 2 2 4 0 4 1 1 0 30-1 1 0 4-1 1-1 5-5 9-7 7-1 0-2 2-6 3-5 1-1 1-3 0-1 1-6 0-1 1zM796.5 577l-3-1.5-2-5-0.5-2-1-1-2.5-21 0-14 1.5-14 1-1 0.5-5 2-4 0-2 3-3 2 0.5 2 2.5 1 5 1 1 0.5 5 1 1 0 8 1 1 0 25-1 1 0 8-1 1-0.5 5-2 4 0 2-3 3.5z"/>
<path fill="#c0ff3f" d="M739.5 599l-33 0-8-1-11-3.5-5-3.5-3.5-4.5-3.5-8.5 0-5.5-1-2 0-43 2-7 2-6 4-5 3-2.5 8-3.5 11-2 28 0 14 1 9 3 9 4.5 7 6.5 5 8 3.5 11 1 12-0.5 16-3 11-6 9.5-9 7.5-12 5-11 2.5zM796.5 573.5l-2.5-1-3-5-0.5-5-1-1-2-15 0.5-14 1.5-13.5 1.5-5.5 4.5-6 2 1 3 5 3 15 0 23-1.5 9-2.5 9-3 4z"/>
<path fill="#e1ff1e" d="M741.5 596.5l-3 0.5-39-0.5-12-3.5-5-3.5-3-4-4-9 0-5-1-1 0-38 3-12.5 4-6.5 4-4 7-3 6-1.5 13-1 21 0 11 1 11 3 9 4.5 6 5.5 5 7 4 10.5 1.5 12-1 16-3 10-5.5 9-9.5 8-11.5 4.5-8 1.5zM796.5 571l-3-1.5-3-5-1.5-7-1-11 0-14 0.5-1 1-11 3-7 3-2.5 2 0.5 1.5 2 3.5 15 0 26-1 1 0 4-2 7-3 4.5z"/>
<path fill="#fffc00" d="M740.5 595.5l-41 0-1-1-4 0-1-1-5-1-5-3-3.5-4-4-9 0-5-1-1 0-38 1-1 0-5 1-1 1-5 6.5-8 6-3 2 0 1-1 4 0 1-1 11 0 2-1 21 0 2 1 8 0 11 3 8 4 9 8 0 1 3 3 4 9 0 3 1 1 0 7 1 1-1 16-1 1-1 6-6 10-8 7-7 4-2 0-1 1-2 0-4 2-5 0-1 1zM796.5 569.5l-2 0-3.5-5-2-7-1-11 0-14 1-1 1-11 2-5 2.5-3 1 0 1 0 2 2 2 4 2 12-0.5 24-0.5 1-1.5 8-1.5 4-2 2z"/>
<path fill="#ffdb00" d="M740.5 595l-41 0-1-1-4 0-1-1-5-1-5-3-3.5-3.5-4-9 0-5-1-1 0-38 1-1 0.5-5 0.5-1 1.5-5 6-7 6-3 2-0.5 1-0.5 4-0.5 1-0.5 12-0.5 1-0.5 21 0 1 0.5 9 0.5 1 0.5 4 0.5 1 1 5 1 8 4 3 2.5 1 0.5 7 8 4.5 9 0 3 1 1 0 7 1 1-1 16-1 1-1 6-6 10-7.5 6.5-7 4-2 0-7 3-5 0-1 1zM796.5 569l-2 0-3.5-4.5-2-7-1-11 0-14 1-1 0-7 2-7 3.5-4.5 2 0 1 1 2.5 4.5 2 12 0 24-1 1-1 8-3.5 5.5z"/>
<path fill="#ffba00" d="M740.5 594.5l-41 0-1-1-4 0-6-2-5-3-3-3-3-6 0-2-1-1 0-5-1-1 0-38 1-1 0-5 2.5-5 5.5-7 7-3.5 8-1.5 11-0.5 2-0.5 19 0 2 0.5 8 0.5 11 3 8.5 4 4.5 3.5 6 7 4.5 9.5 1.5 4 0 6 1 1 0 8-1 1 0 7-1 1-1 6-6.5 10-6.5 5.5-7 4-6 2.5-8 1-1 1zM796.5 568l-3-0.5-2-3-2-7-1.5-11 0.5-14 0.5-1 0.5-7 3-9 3-2 2 1 2 4 2.5 12-0.5 24-0.5 1-1.5 8-3 4.5z"/>
<path fill="#ff9900" d="M739.5 594l-39 0-11-3-5.5-3.5-2.5-2.5-4.5-8.5 0-5-1-2 0-33 1-9 2.5-6 5.5-6 9.5-4 8-1.5 28-0.5 11 1 11 3 8 4 4 3 6.5 7 4.5 9 1.5 10 1 2-1 14-2 7-7 11-6.5 5-7 4-15 4.5zM796.5 567l-1 0.5-2-1-3-5-1-4 0-7-1-1 0-3 0-11 0-3 1-1 0-7 2.5-7 3.5-3 2.5 2 1.5 3 2 11 0 24-2.5 9-2.5 3.5z"/>
<path fill="#ff7800" d="M739.5 593l-39 0-11-3-3-1.5-4.5-4-4.5-9 0-4-1-2 0-33 1.5-9 2.5-6 4-4.5 11-4.5 7-1 28-1 10 1 12 3.5 7 3.5 5 3.5 5 5.5 5 9 2.5 12-1 14-2 7-6.5 10.5-6 4.5-7 4-6 2.5-9 2zM795.5 566.5l-2-1-1.5-2-2-6-1.5-10.5 0-6.5 1.5-16 2-6 1.5-2 2-1 2 1.5 1.5 2.5 2.5 11 0 21.5-2.5 10.5-1.5 2.5-2 1.5z"/>
<path fill="#ff5700" d="M738.5 592.5l-38 0-12-3.5-4-2.5-3.5-4-3-7 0-4-1-2 0-33 2.5-11 2-3.5 4-4.5 10-4 8-1 26-0.5 11 1 12 3 7 3.5 4 3 7 8 3 6 3 13-1 13-4 11-6 7-8 6-9 4-10 2zM795.5 565.5l-3-2-1-3-2-6-1-10 0-9 1-8 3-9 3-2 2 1 3 8 1 5 0 9 0 12-1 5-3 8-2 1z"/>
<path fill="#ff3600" d="M738.5 592l-39-0.5-5-1-7-2.5-6-6-3-6.5 0-5-1-1 0-33 3-11 5-6.5 10-4.5 8-1 32 0 11 2 12 5 4 3 7.5 8 3 6 3 12-1.5 14-4 10-6 7-7 5-10 4.5-7 1-2 1zM796.5 564.5l-2 0-3-4-1.5-6-0.5-7-0.5-1 0-11 0.5-1 0.5-7 2.5-8 2-2 1-0.5 2 1.5 1.5 4 2 8 0 21-2 8-2.5 5z"/>
<path fill="#ff1500" d="M738.5 591l-39 0-1-1-4 0-7-3-5.5-5.5-3-6 0-5-1-1 0-33 0.5-1 1-7 2-4 5-5 10-4 5-0.5 2-0.5 32 0 10 1.5 12.5 5.5 4.5 3.5 7 7.5 3 5 2.5 12-1 14-3.5 9-6 7-8 6-4 2-2 0-3 1.5-8 1.5-1 0.5zM796.5 564l-2 0-1-1-2.5-4.5 0-3-1-1 0-7-1-1 0-11 1-1 0-7 3-8 1.5-1.5 1 0 1.5 0.5 2 4 1 7 1 1 0 21-1 1-1 7-2.5 4.5z"/>
<path fill="#f30000" d="M738.5 590.5l-39 0-1-1-4 0-1-1-2 0-4-2-5-5-3-6 0-5-1-1 0-33 1-1 0-4 1-1 0-2 2-4 4-4 4-2 5-1.5 1-0.5 6-0.5 1-1 32 0.5 1 0.5 5 0 1 1 3 0 1 1 5 1.5 6 3 2 2 1 0 8 8 0 1 3 4 0 2 2 4 0 4 1 1 0 9-1 1 0 5-4 9-6 7-1 0-6 5-4 2-2 0-3 2-8 1-1 1zM796.5 563.5l-2 0-1-1-2-4 0-3-1-1 0-7-1-1 0-11 1-1 0-7 1-1 0-3 3-5 2 0 2 4 0 2 1 1 0 4 1 1 0 21-1 1 0 4-1 1 0 2-2 4z"/>
<path fill="#d20000" d="M733.5 577.5l-30 0-8-2-4-3.5-5-10.5-3.5-15 0-8 1-5 4.5-7 7.5-4 9.5-2.5 26 0 8 2 9 3.5 8 6 4 6 2.5 9 0 7-2.5 8-5 6.5-7 5-6 2.5-9 2z"/>
<path fill="#b10000" d="M724.5 562.5l-13 0-5-1-8-4.5-5-4-3.5-4.5-1-4 0-6 1.5-3 3-3.5 6-3.5 7-2 5-0.5 13 0 12 2.5 6 3 4 3.5 2.5 3.5 1 7-1.5 5-3 4-7 5-7 2-7 1z"/>
<path fill="#900000" d="M724.5 551.5l-2 1-9 0-5-1-9-3-4.5-3-1.5-2-1-3 1.5-4 1.5-2 5-3 12-2.5 11 0 11 3 5.5 4.5 1.5 4 0 2.5-2 3-4 2.5-11 3z"/>
</g>
<path stroke="#0a0a78" stroke-width="1" fill="none" d="M586.5 393v1m0 9v1m0 2v1m0 3v1m0 28v1m0 3v1m0 4v1m0 18v1m0 9v1m0 10v1m0 12v1m0 13v1m0 12v1m0 127v1m0 3v1m0 2v1m0 2v1M587.5 386v3m0 4v2m0 8v1m0 2v3m0 1v3m0 26v2m0 2v2m0 3v2m0 17v2m0 8v1m0 10v3m0 10v7m0 3v4m0 13v1m0 127v1m0 3v2m0 1v6M588.5 388v4m0 2v4m0 5v3m0 2v21m0 11v1m0 3v3m0 2v3m0 16v1m0 8v1m0 12v14m0 3v4m0 4v8m0 4v1m0 103v19m0 6v3m0 2v8M589.5 391v3m0 3v4m0 4v20m0 3v7m0 3v2m0 6v2m0 3v4m0 13v1m0 8v1m0 25v12m0 7v2m0 97v3m0 7v1m0 17v4m0 5v11M590.5 393v4m0 3v3m0 8v11m0 2v5m0 5v4m0 9v3m0 4v6m0 7v1m0 8v1m0 22v22m0 2v2m0 98v4m0 4v2m0 19v2m0 6v9M591.5 396v4m0 2v3m0 16v2m0 5v9m0 12v6m0 4v8m0 8v1m0 23v3m0 18v1m0 105v3m0 3v3m0 18v1m0 4v2m0 6v3M592.5 399v3m0 2v3m0 13v2m0 14v9m0 9v8m0 12v1m0 26v5m0 14v1m0 107v2m0 4v3m0 16v2m0 3v3M593.5 394v3m0 4v3m0 2v4m0 4v6m0 23v1m0 5v9m0 3v5m0 7v1m0 31v3m0 11v1m0 107v2m0 7v5m0 13v4m0 2v5M594.5 394v2m0 7v2m0 4v5m0 3v9m0 15v2m0 3v3m0 8v4m0 4v4m0 3v1m0 8v5m0 8v10m0 3v4m0 6v2m0 102v6m0 13v5m0 12v5m0 2v5M595.5 404v1m0 7v5m0 8v3m0 12v1m0 4v1m0 14v1m0 7v1m0 3v2m0 7v1m0 3v2m0 6v1m0 9v3m0 4v3m0 3v1m0 104v10m0 13v3m0 6v6m0 2v6M596.5 386v3m0 13v2m0 7v1m0 14v1m0 12v1m0 4v1m0 12v3m0 6v2m0 5v3m0 5v5m0 6v1m0 12v2m0 5v4m0 114v4m0 12v3m0 4v2m0 3v4m0 4v3M597.5 388v14m0 9v2m0 12v1m0 13v2m0 3v13m0 7v2m0 9v4m0 11v2m0 14v1m0 114v7m0 5v2m0 5v5m0 3v3m0 3v3m0 4v1M598.5 412v6m0 4v3m0 15v3m0 16v5m0 14v3m0 8v1m0 5v6m0 5v1m0 120v3m0 4v1m0 5v1m0 3v5m0 1v4m0 2v5M599.5 402v11m0 4v5m0 9v3m0 8v17m0 21v2m0 5v2m0 5v1m0 5v1m0 5v1m0 121v1m0 5v1m0 5v1m0 7v4m0 1v5M600.5 386v8m0 1v7m0 10v19m0 2v5m0 43v1m0 5v1m0 6v1m0 5v1m0 5v1m0 114v1m0 3v3m0 4v2m0 6v1m0 10v4m0 2v3m0 7v2M601.5 393v2m0 42v5m0 39v1m0 4v1m0 7v6m0 6v2m0 113v4m0 5v2m0 8v1m0 13v3m0 2v2m0 5v1M602.5 441v4m0 36v5m0 20v1m0 120v3m0 10v4m0 12v2m0 2v2m0 4v1M603.5 423v14m0 5v2m0 61v1m0 121v1m0 15v5m0 9v1m0 3v2m0 3v2M604.5 411v12m0 13v6m0 23v19m0 20v1m0 116v2m0 4v1m0 19v4m0 6v1m0 4v1m0 4v2M605.5 410v1m0 4v24m0 20v6m0 18v4m0 17v1m0 117v4m0 1v4m0 9v5m0 5v7m0 5v2M606.5 408v2m0 3v2m0 4v6m0 13v9m0 10v2m0 25v2m0 139v4m0 1v10m0 4v4m0 15v2M607.5 386v12m0 8v2m0 4v1m0 4v2m0 4v1m0 22v3m0 8v1m0 21v5m0 137v12m0 14v3m0 14v5M608.5 397v9m0 5v1m0 5v1m0 2v3m0 4v11m0 10v2m0 7v6m0 9v7m0 21v1m0 126v3m0 2v10m0 7v15M609.5 386v12m0 13v1m0 5v3m0 4v3m0 10v5m0 7v7m0 6v10m0 8v14m0 135v2m0 10v4m0 18v1M610.5 397v9m0 5v4m0 4v5m0 3v11m0 3v4m0 10v16m0 1v8m0 13v3m0 125v1m0 7v1m0 14v2m0 16v1M611.5 405v6m0 3v5m0 7v1m0 10v2m0 5v3m0 11v5m0 7v2m0 7v8m0 8v2m0 124v8m0 14v2m0 16v1m0 4v3M612.5 386v4m0 5v10m0 5v2m0 14v1m0 8v3m0 8v4m0 7v1m0 4v8m0 2v7m0 7v1m0 134v2m0 14v6m0 16v2m0 2v3M613.5 389v1m0 5v1m0 8v2m0 5v2m0 13v9m0 14v4m0 4v4m0 8v3m0 13v1m0 136v1m0 14v2m0 19v1m0 3v1m0 3v3M614.5 389v1m0 4v1m0 10v1m0 6v1m0 39v4m0 4v5m0 15v5m0 136v1m0 16v2m0 18v1m0 3v1m0 3v1M615.5 389v1m0 4v3m0 5v3m0 7v10m0 20v7m0 6v2m0 7v16m0 5v6m0 134v10m0 4v1m0 4v8m0 6v1m0 3v1m0 3v1M616.5 389v3m0 4v6m0 19v5m0 7v9m0 5v1m0 8v2m0 14v13m0 139v1m0 9v2m0 3v1m0 4v1m0 6v1m0 6v1m0 3v2m0 2v3M617.5 391v8m0 26v2m0 4v2m0 13v1m0 8v2m0 4v11m0 2v16m0 134v2m0 9v1m0 3v2m0 3v2m0 5v7m0 5v1M618.5 386v8m0 4v12m0 6v8m0 2v2m0 2v1m0 3v8m0 3v1m0 4v5m0 4v2m0 7v6m0 4v4m0 143v6m0 3v1m0 5v1m0 4v2m0 7v1m0 7v1M619.5 393v7m0 9v1m0 5v1m0 7v1m0 3v1m0 2v1m0 2v1m0 7v1m0 3v1m0 2v2m0 9v2m0 5v2m0 4v6m0 3v4m0 136v5m0 4v4m0 6v2m0 4v1m0 6v9M620.5 399v4m0 6v2m0 4v1m0 7v1m0 3v1m0 2v1m0 2v1m0 7v1m0 2v1m0 1v2m0 2v8m0 2v3m0 3v1m0 5v2m0 8v2m0 141v6m0 10v3m0 2v2m0 3v2m0 6v10M621.5 402v3m0 5v2m0 3v3m0 4v1m0 3v1m0 3v1m0 2v1m0 5v2m0 2v1m0 1v1m0 2v2m0 2v4m0 1v4m0 1v3m0 1v4m0 3v9m0 139v8m0 1v5m0 8v2m0 2v1m0 3v1m0 4v3M622.5 386v5m0 13v4m0 3v3m0 3v5m0 4v1m0 3v1m0 2v6m0 3v1m0 1v1m0 2v1m0 2v2m0 3v4m0 1v3m0 1v4m0 1v7m0 152v5m0 1v3m0 7v6m0 1v3m0 2v3M623.5 390v8m0 9v4m0 2v4m0 8v1m0 4v1m0 9v2m0 2v1m0 1v1m0 3v1m0 7v1m0 3v2m0 3v4m0 4v5m0 141v10m0 1v2m0 2v2m0 8v10m0 2v3M624.5 397v4m0 9v3m0 3v3m0 5v1m0 5v2m0 7v1m0 4v1m0 1v2m0 2v8m0 3v2m0 7v3m0 6v2m0 140v6m0 3v2m0 1v2m0 2v1m0 5v3m0 2v10m0 2v2M625.5 400v3m0 9v2m0 4v6m0 7v2m0 6v1m0 4v2m0 1v14m0 2v6m0 3v2m0 6v2m0 144v1m0 3v1m0 3v1m0 2v1m0 5v1m0 1v3m0 3v2m0 1v2m0 1v2m0 2v1m0 4v3M626.5 393v4m0 5v2m0 9v1m0 18v1m0 6v1m0 5v5m0 3v10m0 5v4m0 1v4m0 4v3m0 141v1m0 3v1m0 3v1m0 3v2m0 4v4m0 5v1m0 2v1m0 2v1m0 2v1m0 3v1M627.5 393v1m0 2v3m0 4v3m0 7v1m0 14v4m0 7v2m0 8v4m0 1v12m0 5v1m0 4v4m0 144v1m0 3v1m0 3v1m0 5v3m0 10v1m0 3v1m0 2v2m0 1v2m0 2v3M628.5 393v1m0 4v3m0 4v3m0 4v1m0 11v4m0 12v14m0 11v2m0 4v1m0 7v3m0 139v3m0 3v1m0 4v2m0 6v11m0 4v1m0 3v2m0 1v3m0 2v2M629.5 392v1m0 7v3m0 4v5m0 12v1m0 16v2m0 22v1m0 5v1m0 9v1m0 143v2m0 6v6m0 16v1m0 4v3m0 1v5M630.5 390v2m0 10v3m0 19v4m0 8v5m0 1v6m0 15v2m0 6v10m0 140v4m0 13v6m0 11v2m0 5v7M631.5 386v4m0 14v22m0 1v9m0 11v5m0 9v2m0 159v6m0 15v5m0 8v13M632.5 386v13m0 16v8m0 2v21m0 5v10m0 13v6m0 141v1m0 5v6m0 14v8m0 12v2M633.5 386v10m0 2v2m0 4v5m0 6v1m0 6v7m0 16v4m0 24v1m0 4v1m0 153v4m0 18v2m0 7v4M634.5 386v8m0 1v2m0 2v1m0 2v2m0 4v3m0 4v2m0 11v12m0 8v3m0 7v12m0 3v1m0 3v1m0 143v6m0 8v3m0 17v2m0 6v1M635.5 387v3m0 3v1m0 1v1m0 2v1m0 2v1m0 8v3m0 3v3m0 20v3m0 8v8m0 2v7m0 2v3m0 1v3m0 1v1m0 143v1m0 4v1m0 10v1m0 18v1m0 6v2M636.5 386v3m0 2v2m0 1v1m0 1v2m0 1v2m0 4v2m0 5v3m0 3v12m0 11v1m0 13v5m0 6v4m0 1v3m0 1v2m0 144v5m0 11v3m0 16v4m0 4v5M637.5 386v13m0 1v5m0 1v3m0 5v3m0 12v12m0 10v4m0 3v10m0 1v3m0 1v3m0 163v6m0 14v6M638.5 386v10m0 1v3m0 8v1m0 7v5m0 27v3m0 4v3m0 9v1m0 3v4m0 169v3m0 17v5M639.5 386v8m0 1v2m0 10v1m0 12v4m0 23v1m0 6v1m0 11v1m0 7v1m0 171v1m0 6v16M640.5 387v4m0 3v1m0 10v2m0 15v1m0 24v1m0 5v1m0 9v3m0 155v12m0 12v1m0 5v2M641.5 386v1m0 5v2m0 8v3m0 17v1m0 24v2m0 4v1m0 8v1m0 6v4m0 159v13m0 5v1m0 6v12M642.5 386v6m0 9v1m0 6v5m0 8v1m0 26v3m0 2v3m0 4v2m0 4v3m0 3v1m0 148v13m0 14v2m0 5v2M643.5 389v6m0 6v1m0 6v1m0 3v2m0 6v1m0 17v11m0 1v3m0 2v5m0 4v2m0 167v5m0 9v1m0 7v1M644.5 386v3m0 5v4m0 3v2m0 5v5m0 6v1m0 17v1m0 10v3m0 1v5m0 3v4m0 173v2m0 8v2m0 6v3M645.5 397v2m0 3v3m0 14v2m0 15v1m0 4v7m0 2v4m0 2v4m0 176v2m0 10v3m0 6v7M646.5 398v1m0 5v3m0 13v2m0 13v1m0 5v2m0 4v1m0 5v4m0 171v8m0 14v6m0 7v6M647.5 386v12m0 8v5m0 10v3m0 11v2m0 5v5m0 9v4m0 161v7m0 5v14m0 8v13M648.5 386v7m0 17v5m0 8v3m0 10v3m0 20v4m0 161v9m0 13v17m0 4v2M649.5 386v2m0 4v5m0 17v3m0 8v1m0 12v8m0 16v3m0 156v3m0 1v14m0 23v7M650.5 387v5m0 4v2m0 18v2m0 7v1m0 19v4m0 15v3m0 157v1m0 13v1m0 17v7M651.5 391v2m0 4v3m0 17v1m0 7v1m0 20v2m0 18v3m0 155v1m0 11v2m0 15v3m0 6v4M652.5 392v3m0 4v5m0 13v1m0 7v1m0 18v2m0 22v1m0 155v12m0 15v2m0 12v3M653.5 386v6m0 2v5m0 4v6m0 5v3m0 6v2m0 17v2m0 23v1m0 153v20m0 7v3m0 15v1M654.5 386v11m0 1v5m0 5v6m0 7v2m0 17v2m0 21v4m0 155v12m0 6v1m0 4v3m0 16v2M655.5 386v14m0 2v4m0 11v4m0 17v2m0 17v6m0 158v1m0 2v7m0 2v4m0 3v1m0 3v1m0 16v3M656.5 386v4m0 1v3m0 1v2m0 2v2m0 4v12m0 21v1m0 15v3m0 165v2m0 6v2m0 3v1m0 4v1m0 3v1m0 12v4M657.5 388v1m0 3v1m0 3v1m0 3v1m0 37v1m0 13v2m0 8v5m0 155v2m0 4v3m0 3v1m0 4v1m0 4v3m0 6v4m0 6v6M658.5 386v2m0 2v2m0 2v2m0 3v1m0 38v3m0 8v3m0 9v1m0 3v1m0 157v5m0 2v4m0 2v3m0 7v7m0 7v3M659.5 386v4m0 1v3m0 4v1m0 41v9m0 12v4m0 156v9m0 1v5m0 20v4m0 4v5M660.5 386v5m0 6v1m0 16v10m0 203v4m0 23v2m0 5v3m0 3v2M661.5 386v11m0 15v2m0 9v8m0 18v2m0 175v1m0 8v11m0 8v1m0 5v1m0 3v3M662.5 410v2m0 7v2m0 9v3m0 9v7m0 1v9m0 167v4m0 5v1m0 9v7m0 2v3m0 3v1m0 3v2M663.5 386v4m0 18v2m0 5v4m0 1v5m0 7v1m0 6v3m0 16v3m0 168v4m0 2v2m0 3v9m0 2v3m0 2v3m0 1v3m0 2v4M664.5 389v4m0 13v2m0 7v1m0 7v1m0 7v1m0 5v2m0 21v2m0 159v9m0 2v2m0 2v1m0 3v1m0 7v4m0 1v4m0 1v11M665.5 392v1m0 13v1m0 8v3m0 3v2m0 7v1m0 5v1m0 23v1m0 168v2m0 2v2m0 1v2m0 2v2m0 9v1m0 4v3m0 2v8M666.5 390v2m0 14v3m0 8v4m0 7v2m0 4v2m0 22v2m0 170v2m0 2v6m0 1v10m0 7v3M667.5 386v4m0 4v9m0 5v3m0 17v1m0 5v1m0 21v2m0 173v3m0 2v8m0 14v2M668.5 386v8m0 8v3m0 5v1m0 17v1m0 5v1m0 19v2m0 6v2m0 161v2m0 6v2m0 3v3m0 2v9m0 2v4m0 4v7M669.5 390v9m0 5v1m0 4v1m0 4v10m0 4v2m0 4v2m0 16v2m0 7v1m0 161v2m0 1v3m0 5v2m0 4v3m0 8v3m0 6v2m0 3v4M670.5 386v4m0 7v1m0 4v2m0 2v3m0 2v3m0 9v2m0 4v1m0 4v1m0 9v8m0 6v3m0 161v1m0 4v1m0 7v1m0 6v1m0 16v1m0 3v2M671.5 394v3m0 2v3m0 1v3m0 2v3m0 12v1m0 3v2m0 3v2m0 8v2m0 10v4m0 163v1m0 4v1m0 7v1m0 7v1m0 15v1m0 3v1m0 4v2M672.5 386v8m0 2v3m0 1v3m0 2v3m0 13v2m0 3v1m0 3v2m0 10v2m0 7v3m0 5v2m0 159v1m0 5v1m0 6v1m0 8v1m0 14v1m0 3v1m0 3v2M673.5 389v7m0 1v3m0 2v3m0 13v3m0 2v3m0 2v2m0 13v2m0 5v1m0 7v1m0 167v2m0 5v2m0 7v2m0 12v1m0 4v1m0 2v1M674.5 386v3m0 2v6m0 2v3m0 13v3m0 3v2m0 4v1m0 5v7m0 4v2m0 4v2m0 6v2m0 160v1m0 6v3m0 4v3m0 6v13m0 4v1m0 3v1M675.5 386v5m0 2v6m0 13v3m0 5v1m0 6v2m0 4v3m0 3v1m0 5v3m0 3v4m0 165v3m0 6v4m0 3v6m0 18v1m0 3v2M676.5 386v7m0 17v2m0 8v2m0 6v3m0 4v4m0 8v2m0 5v3m0 165v3m0 7v6m0 3v6m0 13v4m0 1v4M677.5 386v11m0 11v2m0 11v5m0 4v3m0 15v2m0 6v1m0 163v2m0 2v2m0 11v5m0 4v3m0 5v7m0 2v6M678.5 396v2m0 8v2m0 17v3m0 4v3m0 13v1m0 6v1m0 165v2m0 2v1m0 15v3m0 4v1m0 4v1m0 6v8M679.5 395v2m0 8v1m0 21v3m0 4v2m0 11v1m0 7v1m0 166v1m0 2v2m0 16v1m0 4v1m0 4v1m0 13v2M680.5 386v9m0 10v2m0 22v2m0 4v4m0 7v1m0 7v1m0 167v1m0 3v2m0 15v1m0 4v2m0 3v2M681.5 386v4m0 16v3m0 21v3m0 5v8m0 8v1m0 167v1m0 4v4m0 12v1m0 5v3m0 2v5M682.5 389v6m0 13v2m0 11v4m0 7v2m0 187v1m0 8v11m0 2v6m0 2v5m0 2v11M683.5 386v4m0 4v3m0 12v1m0 11v4m0 8v3m0 16v1m0 167v1m0 19v2m0 6v6m0 1v5M684.5 389v3m0 4v3m0 5v5m0 14v1m0 11v4m0 4v9m0 178v2m0 9v2m0 10v4m0 2v10M685.5 391v4m0 3v6m0 5v11m0 18v5m0 186v1m0 1v5m0 6v5m0 8v1M686.5 394v15m0 10v4m0 6v8m0 192v2m0 4v1m0 10v9m0 11v3M687.5 386v31m0 5v2m0 4v1m0 7v9m0 184v1m0 4v1m0 2v24m0 5v1M688.5 386v10m0 19v1m0 7v1m0 4v2m0 14v1m0 175v9m0 5v3m0 6v16m0 1v4m0 2v3M689.5 395v5m0 10v5m0 7v1m0 6v3m0 9v3m0 177v9m0 12v1m0 3v16m0 1v3M690.5 398v1m0 7v4m0 11v1m0 9v10m0 6v1m0 172v1m0 1v13m0 5v2m0 3v1m0 4v4m0 3v3m0 1v3m0 1v4M691.5 396v2m0 5v3m0 9v6m0 24v2m0 173v2m0 2v3m0 1v5m0 1v6m0 5v1m0 4v3m0 6v1m0 3v2M692.5 386v10m0 5v2m0 5v7m0 6v12m0 11v1m0 175v4m0 2v5m0 1v5m0 8v3m0 9v2m0 4v1M693.5 398v3m0 4v3m0 11v2m0 11v5m0 7v1m0 185v3m0 3v3m0 8v10m0 4v2M694.5 386v12m0 5v2m0 13v1m0 5v8m0 4v4m0 4v1m0 178v3m0 6v3m0 3v3m0 5v6m0 7v2M695.5 401v2m0 14v1m0 3v3m0 7v3m0 5v2m0 182v2m0 9v2m0 4v1m0 4v1m0 5v5m0 3v5M696.5 400v1m0 7v3m0 5v1m0 3v1m0 4v5m0 3v2m0 5v2m0 193v2m0 3v2m0 3v3m0 3v4m0 8v6M697.5 400v1m0 7v3m0 5v1m0 3v1m0 3v1m0 4v1m0 4v2m0 5v2m0 192v1m0 5v1m0 5v4m0 10v8M698.5 400v3m0 6v1m0 6v1m0 3v1m0 3v2m0 3v1m0 5v1m0 184v15m0 5v1m0 17v3M699.5 402v3m0 11v1m0 3v2m0 3v4m0 5v1m0 203v2m0 18v2M700.5 404v5m0 7v1m0 4v1m0 12v1m0 200v3m0 21v5M701.5 408v8m0 5v2m0 9v2m0 199v2m0 8v13m0 7v6M702.5 422v1m0 6v3m0 201v1m0 6v3m0 12v8M703.5 389v22m0 11v7m0 191v2m0 11v1m0 5v1m0 22v2M704.5 386v3m0 21v5m0 17v6m0 183v4m0 7v1m0 5v1m0 23v1M705.5 394v15m0 5v4m0 11v3m0 192v2m0 6v1m0 5v1m0 22v1m0 5v2M706.5 393v1m0 14v2m0 7v12m0 196v2m0 5v2m0 4v4m0 19v1m0 4v1M707.5 393v16m0 211v2m0 4v3m0 4v4m0 4v4m0 16v1m0 4v1M708.5 621v4m0 3v4m0 4v5m0 3v2m0 6v6m0 3v2m0 3v3M709.5 386v24m0 210v1m0 3v3m0 4v4m0 5v2m0 3v2m0 5v1m0 4v3m0 2v3M710.5 409v2m0 7v5m0 197v3m0 3v8m0 7v2m0 3v2m0 4v2m0 5v3m0 2v5M711.5 408v2m0 5v3m0 4v6m0 194v2m0 13v5m0 5v2m0 4v2m0 6v5M712.5 405v3m0 5v2m0 12v4m0 192v14m0 9v2m0 5v1m0 11v4M713.5 390v15m0 7v1m0 207v1m0 11v14m0 6v1m0 6v7M714.5 386v4m0 21v1m0 208v5m0 2v5m0 18v2m0 7v6M715.5 410v1m0 213v3m0 12v11M716.5 395v8m0 7v1m0 208v2m0 18v1m0 25v4M717.5 395v7m0 8v3m0 10v3m0 194v2m0 5v8m0 4v2m0 24v4M718.5 412v11m0 198v1m0 4v1m0 7v3m0 3v1M719.5 620v1m0 3v2m0 3v4m0 3v2m0 2v1m0 24v4M720.5 619v1m0 2v2m0 2v3m0 3v2m0 3v1m0 2v1m0 4v4m0 16v4M721.5 619v7m0 7v1m0 2v1m0 1v2m0 2v3m0 3v2m0 7v9m0 2v1M722.5 386v16m0 217v3m0 10v1m0 1v2m0 1v1m0 2v2m0 7v1m0 4v3m0 2v10M723.5 386v5m0 10v1m0 219v8m0 2v1m0 2v1m0 1v1m0 2v1m0 7v2m0 3v2m0 1v4m0 1v9M724.5 390v4m0 7v1m0 16v2m0 199v2m0 6v1m0 3v1m0 1v1m0 2v1m0 2v8m0 2v3m0 1v2m0 2v3m0 2v7M725.5 393v1m0 7v5m0 12v1m0 206v2m0 3v1m0 2v2m0 1v21m0 1v4m0 5v2M726.5 393v1m0 11v7m0 6v1m0 200v6m0 4v1m0 4v19m0 1v4m0 9v2M727.5 393v1m0 17v3m0 207v8m0 11v7m0 1v6M728.5 393v2m0 18v2m0 204v2m0 2v11m0 4v2m0 5v3m0 14v7M729.5 394v1m0 18v1m0 206v3m0 3v5m0 2v3m0 2v3m0 4v2m0 13v2M730.5 394v2m0 12v5m0 207v1m0 4v1m0 4v3m0 2v3m0 2v4m0 2v4m0 9v1M731.5 394v1m0 7v6m0 212v2m0 3v3m0 4v2m0 3v4m0 2v4m0 2v5m0 5v2M732.5 392v2m0 7v1m0 219v2m0 4v3m0 3v3m0 4v5m0 1v4m0 3v5m0 2v9M733.5 386v6m0 7v2m0 221v2m0 5v1m0 5v6m0 3v4m0 1v4m0 4v4M734.5 396v3m0 223v1m0 4v2m0 11v5m0 2v4m0 1v4m0 4v4M735.5 392v4m0 6v6m0 212v2m0 4v1m0 17v1m0 5v3m0 2v5m0 3v6M736.5 389v3m0 7v3m0 5v1m0 211v1m0 5v1m0 15v3m0 8v1m0 6v9M737.5 386v3m0 9v1m0 7v1m0 218v2m0 8v6m0 2v9m0 15v2M738.5 396v2m0 221v4m0 3v9m0 1v7m0 18v8M739.5 393v3m0 226v14m0 5v11m0 9v8M740.5 386v7m0 226v19m0 3v10M741.5 636v1m0 21v11M742.5 386v3m0 230v5m0 9v3m0 6v10m0 6v1M743.5 387v1m0 231v4m0 6v4m0 5v4m0 9v5m0 2v3m0 7v1M744.5 386v1m0 237v5m0 3v6m0 17v3m0 2v3m0 5v1M745.5 619v5m0 3v5m0 16v4m0 5v3m0 2v7M746.5 618v9m0 18v3m0 3v5m0 3v10M747.5 643v2m0 10v6m0 1v7M748.5 643v2m0 15v2M749.5 627v14m0 3v2M750.5 626v1m0 4v8m0 1v4m0 1v4M751.5 626v1m0 3v1m0 7v26M752.5 618v2m0 6v1m0 3v2m0 10v15m0 6v3M753.5 619v3m0 4v2m0 3v2m0 7v15m0 1v3m0 5v1M754.5 621v3m0 3v3m0 2v4m0 4v2m0 5v6m0 1v2m0 2v2m0 3v1M755.5 623v2m0 4v3m0 3v3m0 3v2m0 9v1m0 2v2m0 2v1m0 3v1M756.5 624v1m0 6v1m0 5v3m0 2v4m0 5v1m0 4v1m0 2v2m0 2v3M757.5 618v6m0 6v1m0 8v1m0 5v6m0 5v1m0 3v3m0 2v4M758.5 626v4m0 6v3m0 17v1m0 5v7M759.5 618v8m0 6v4m0 10v10M760.5 631v1m0 11v3M761.5 631v5m0 3v4m0 5v10M762.5 635v4m0 6v3m0 9v12M763.5 642v3m0 3v13M764.5 625v9m0 8v1m0 4v1m0 12v9M765.5 624v1m0 8v1m0 8v1m0 4v1m0 4v10M766.5 624v1m0 5v3m0 9v3m0 2v2m0 3v2m0 7v3M767.5 624v6m0 14v3m0 1v3m0 2v3m0 5v2M768.5 618v2m0 18v6m0 2v7m0 2v6m0 5v3M769.5 619v3m0 15v1m0 5v4m0 2v2m0 1v5m0 2v7M770.5 621v1m0 15v5m0 2v2m0 4v2m0 4v3m0 4v6M771.5 621v1m0 19v3m0 5v2m0 10v2M772.5 618v3m0 15v13m0 11v1M773.5 635v1m0 5v13m0 5v1M774.5 618v13m0 4v1m0 3v2m0 2v7m0 3v1m0 3v2m0 3v7M775.5 630v3m0 2v2m0 1v1m0 3v1m0 6v2m0 2v1m0 2v1m0 2v3m0 4v3M776.5 618v11m0 3v2m0 1v1m0 2v1m0 1v2m0 7v1m0 2v1m0 2v1m0 2v1m0 3v4M777.5 618v1m0 9v1m0 3v1m0 1v1m0 2v1m0 2v1m0 8v1m0 2v1m0 1v1m0 2v1m0 4v2M778.5 618v5m0 3v2m0 3v1m0 2v1m0 1v1m0 2v1m0 9v1m0 2v1m0 1v2m0 1v4m0 2v6M779.5 622v4m0 5v1m0 2v1m0 1v1m0 2v1m0 8v1m0 3v2m0 1v4m0 1v9M780.5 631v1m0 2v1m0 1v2m0 1v3m0 6v1m0 4v4m0 1v11M781.5 631v2m0 1v2m0 1v3m0 1v7m0 8v10M782.5 617v7m0 8v1m0 2v3m0 1v4m0 22v2M783.5 617v6m0 9v1m0 4v1m0 4v2m0 20v2M784.5 627v5m0 4v1m0 6v1m0 17v3M785.5 620v7m0 4v5m0 7v1m0 12v5M786.5 617v3m0 6v5m0 12v1m0 3v9M787.5 624v2m0 17v4M788.5 624v1M789.5 624v36M790.5 617v3m0 15v15m0 9v2M791.5 619v6m0 6v4m0 2v8m0 4v3m0 8v2M792.5 624v3m0 4v1m0 3v2m0 7v2m0 4v1m0 7v3M793.5 616v2m0 8v2m0 3v1m0 3v3m0 4v3m0 2v3m0 2v6m0 2v9M794.5 617v5m0 5v2m0 2v4m0 2v32M795.5 618v3m0 7v3m0 3v35M796.5 616v2m0 12v30m0 3v6M797.5 638v3m0 2v3m0 2v3m0 8v4M798.5 615v17m0 6v1m0 3v1m0 4v1m0 11v1M799.5 623v4m0 4v4m0 3v2m0 2v2m0 3v2m0 10v4M800.5 620v3m0 3v5m0 3v2m0 3v2m0 2v2m0 3v12m0 2v5M801.5 620v2m0 8v1m0 4v2m0 3v2m0 2v10m0 5v5m0 2v3M802.5 621v3m0 3v3m0 5v1m0 5v5m0 7v9m0 1v6M803.5 623v4m0 6v2m0 10v14m0 2v8M804.5 631v2m0 25v11M805.5 629v2m0 12v4M806.5 629v1m0 9v4m0 3v6M807.5 613v4m0 12v1m0 8v1m0 6v4m0 2v18M808.5 616v13m0 8v1m0 4v3m0 3v6m0 7v8M809.5 636v1m0 4v1m0 11v8M810.5 634v2m0 3v2M811.5 633v1m0 5v1m0 9v20M812.5 616v11m0 6v1m0 5v1m0 6v3m0 5v15M813.5 611v5m0 10v5m0 2v2m0 4v7m0 5v3m0 2v13M814.5 617v9m0 4v2m0 2v2m0 6v1m0 8v1m0 3v1m0 1v12M815.5 617v4m0 1v3m0 5v1m0 4v1m0 5v6m0 4v1m0 3v1m0 1v1m0 1v1m0 2v1m0 2v2M816.5 611v1m0 8v2m0 5v3m0 4v1m0 4v2m0 5v4m0 1v3m0 1v1m0 1v4m0 1v1m0 2v2M817.5 611v16m0 5v2m0 3v2m0 4v4m0 2v3m0 1v4m0 1v7m0 1v3M818.5 434v7m0 189v2m0 4v1m0 4v2m0 3v3m0 2v2m0 1v1m0 1v2m0 1v10M819.5 426v7m0 197v3m0 3v2m0 3v2m0 3v2m0 3v1m0 2v1m0 2v1m0 2v2m0 1v4M820.5 407v8m0 31v1m0 185v4m0 1v4m0 1v4m0 2v3m0 1v2m0 3v1m0 3v2m0 3v3M821.5 403v3m0 13v3m0 21v3m0 3v2m0 3v2m0 154v9m0 8v25m0 2v3m0 5v6M822.5 389v2m0 14v4m0 3v7m0 2v7m0 7v8m0 3v3m0 2v3m0 164v3m0 4v2m0 8v13m0 1v5m0 13v2M823.5 386v3m0 6v8m0 5v4m0 15v8m0 8v3m0 3v2m0 169v2m0 3v1m0 5v9m0 2v7m0 5v11M824.5 394v1m0 7v2m0 12v23m0 3v1m0 6v1m0 171v3m0 1v3m0 3v4m0 3v1m0 12v3m0 10v4M825.5 386v5m0 3v2m0 7v3m0 9v1m0 21v1m0 4v5m0 2v4m0 170v10m0 1v4m0 13v1m0 14v1M826.5 390v3m0 2v3m0 7v2m0 7v1m0 21v1m0 9v5m0 1v11m0 163v21m0 4v2m0 11v2M827.5 386v4m0 2v3m0 2v2m0 7v4m0 4v1m0 20v1m0 6v5m0 3v6m0 6v6m0 140v5m0 9v20m0 4v3m0 3v3m0 6v3M828.5 389v1m0 4v1m0 3v1m0 10v5m0 21v1m0 5v1m0 4v2m0 7v5m0 7v3m0 142v4m0 6v1m0 8v7m0 3v3m0 4v2m0 4v7M829.5 386v3m0 3v2m0 3v1m0 24v9m0 4v1m0 5v6m0 12v2m0 8v1m0 138v1m0 6v3m0 4v1m0 14v2m0 4v1m0 4v1M830.5 388v4m0 3v2m0 22v3m0 8v1m0 4v1m0 21v3m0 8v1m0 139v5m0 4v3m0 2v3m0 12v1m0 4v1m0 3v2m0 10v11M831.5 386v2m0 4v3m0 5v12m0 7v2m0 8v1m0 5v1m0 17v4m0 11v2m0 142v3m0 4v3m0 2v4m0 8v1m0 4v1m0 3v1m0 5v7M832.5 386v6m0 5v3m0 10v1m0 9v9m0 5v1m0 18v1m0 15v4m0 141v5m0 2v5m0 1v6m0 2v1m0 5v1m0 2v1m0 4v2m0 5v9M833.5 395v2m0 12v1m0 8v6m0 9v1m0 19v11m0 143v3m0 8v5m0 2v4m0 3v3m0 6v1m0 2v1m0 3v1m0 5v2m0 8v5M834.5 395v1m0 11v2m0 4v5m0 5v10m0 30v3m0 143v3m0 10v5m0 1v5m0 7v1m0 3v1m0 3v6m0 4v11M835.5 395v3m0 6v3m0 4v2m0 4v8m0 39v1m0 7v2m0 136v1m0 15v4m0 2v4m0 3v1m0 4v2m0 10v2m0 4v7M836.5 386v11m0 5v2m0 6v1m0 4v2m0 7v2m0 17v6m0 12v3m0 8v2m0 133v3m0 19v1m0 5v4m0 6v2m0 8v1m0 6v1M837.5 402v3m0 4v1m0 4v1m0 10v2m0 16v5m0 11v2m0 12v1m0 132v1m0 20v2m0 17v3m0 6v1m0 6v7M838.5 386v13m0 5v2m0 3v1m0 3v1m0 12v1m0 18v1m0 10v3m0 14v1m0 135v9m0 6v3m0 21v3m0 4v8M839.5 386v9m0 3v6m0 1v3m0 1v2m0 2v2m0 11v1m0 5v10m0 10v4m0 5v8m0 4v1m0 133v2m0 8v1m0 5v1m0 5v6m0 14v1m0 12v7M840.5 394v5m0 4v2m0 2v2m0 1v2m0 2v2m0 9v1m0 5v1m0 9v11m0 6v3m0 7v2m0 3v2m0 132v3m0 7v2m0 4v2m0 4v2m0 3v2m0 12v1m0 6v14M841.5 398v1m0 5v2m0 2v2m0 1v2m0 2v3m0 6v1m0 6v1m0 25v1m0 11v2m0 3v2m0 133v3m0 6v4m0 2v3m0 3v12m0 6v2m0 3v2M842.5 386v12m0 5v2m0 4v1m0 2v2m0 3v7m0 7v2m0 24v2m0 11v2m0 3v1m0 135v2m0 8v4m0 1v5m0 4v1m0 5v6m0 2v2m0 2v2M843.5 386v17m0 4v2m0 4v2m0 17v19m0 7v2m0 11v2m0 139v4m0 8v3m0 3v2m0 3v1m0 4v5m0 1v3m0 1v2m0 2v2M844.5 386v21m0 7v3m0 16v9m0 8v6m0 3v3m0 10v2m0 141v11m0 5v1m0 2v1m0 3v2m0 4v10m0 1v2M845.5 386v23m0 7v3m0 8v6m0 8v11m0 3v2m0 4v2m0 10v1m0 125v15m0 14v3m0 2v1m0 3v1m0 3v5m0 1v12m0 7v3M846.5 386v17m0 5v3m0 7v3m0 5v1m0 6v15m0 3v2m0 3v2m0 4v2m0 8v1m0 140v20m0 2v2m0 3v1m0 4v2m0 2v2m0 1v2m0 1v2m0 1v2m0 6v3M847.5 386v10m0 6v2m0 6v1m0 9v1m0 5v1m0 6v1m0 13v2m0 3v1m0 3v1m0 5v1m0 7v2m0 4v2m0 121v8m0 11v10m0 2v5m0 5v2m0 1v3m0 4v1m0 2v1m0 2v2m0 1v3m0 6v1M848.5 395v2m0 5v1m0 6v1m0 8v2m0 5v1m0 7v1m0 13v1m0 3v1m0 2v2m0 4v2m0 8v1m0 4v1m0 122v1m0 6v1m0 12v1m0 4v7m0 11v2m0 3v4m0 2v1m0 4v1m0 3v7M849.5 394v2m0 4v2m0 6v1m0 5v4m0 4v3m0 8v7m0 3v4m0 2v2m0 2v1m0 3v3m0 8v2m0 4v1m0 3v1m0 119v7m0 13v1m0 3v1m0 14v15m0 5v2m0 8v2M850.5 393v1m0 4v2m0 4v4m0 3v3m0 4v4m0 17v4m0 3v3m0 2v2m0 2v2m0 9v2m0 5v1m0 3v1m0 139v1m0 3v1m0 3v6m0 4v2m0 1v20M851.5 392v1m0 3v2m0 4v2m0 6v1m0 5v2m0 13v15m0 3v2m0 3v1m0 9v2m0 5v2m0 4v1m0 116v14m0 8v1m0 3v1m0 3v1m0 5v1m0 3v1m0 2v1m0 2v5M852.5 392v1m0 3v1m0 4v1m0 8v1m0 5v1m0 12v2m0 4v14m0 4v1m0 8v2m0 5v2m0 6v1m0 114v2m0 13v1m0 6v2m0 3v1m0 4v1m0 5v1m0 2v1m0 2v1m0 1v2m0 2v9m0 8v10M853.5 392v1m0 3v2m0 3v3m0 6v3m0 3v2m0 8v3m0 2v4m0 16v2m0 8v1m0 5v2m0 7v1m0 7v1m0 106v1m0 14v1m0 6v1m0 5v2m0 3v6m0 3v1m0 1v1m0 2v1m0 2v1m0 8v9m0 5v5M854.5 391v1m0 5v2m0 4v3m0 6v2m0 3v9m0 2v3m0 4v6m0 9v1m0 8v2m0 5v1m0 9v2m0 8v1m0 102v2m0 13v2m0 5v2m0 7v4m0 6v3m0 2v1m0 2v1m0 2v2m0 16v5M855.5 386v5m0 7v2m0 5v4m0 4v5m0 6v4m0 3v4m0 5v2m0 8v1m0 6v2m0 5v2m0 11v3m0 121v3m0 4v3m0 12v7m0 3v2m0 3v1m0 3v2m0 12v3M856.5 399v2m0 7v4m0 5v7m0 4v3m0 9v1m0 9v1m0 4v2m0 5v2m0 15v12m0 107v3m0 4v3m0 11v14m0 4v1m0 5v1m0 11v1m0 9v4M857.5 386v14m0 11v3m0 10v4m0 12v2m0 6v2m0 4v1m0 5v2m0 4v16m0 104v12m0 5v2m0 13v1m0 14v4m0 4v2m0 12v3m0 1v6M858.5 413v3m0 7v1m0 17v7m0 5v1m0 4v2m0 3v3m0 15v4m0 9v1m0 107v1m0 14v1m0 5v10m0 5v3m0 16v2m0 8v2M859.5 414v1m0 8v1m0 6v8m0 14v1m0 5v1m0 3v1m0 6v9m0 6v4m0 6v1m0 107v2m0 12v1m0 5v1m0 13v2m0 24v5M860.5 386v13m0 13v2m0 9v1m0 6v2m0 5v2m0 13v1m0 5v1m0 3v1m0 6v1m0 7v5m0 5v4m0 3v2m0 95v8m0 4v5m0 5v3m0 6v1m0 12v1m0 16v10M861.5 386v6m0 6v3m0 9v2m0 11v1m0 7v7m0 14v2m0 4v3m0 1v4m0 3v6m0 6v1m0 8v3m0 2v2m0 92v2m0 7v3m0 6v6m0 6v3m0 13v1m0 13v3m0 6v11M862.5 391v4m0 5v2m0 7v1m0 13v4m0 26v2m0 5v4m0 1v6m0 3v7m0 11v2m0 2v3m0 90v2m0 9v2m0 13v4m0 16v2m0 10v2m0 3v6M863.5 394v2m0 5v1m0 7v1m0 16v5m0 13v9m0 1v5m0 4v6m0 1v11m0 12v2m0 3v2m0 72v3m0 15v3m0 7v1m0 10v4m0 21v1m0 9v1m0 3v2m0 3v14M864.5 394v1m0 6v1m0 7v1m0 20v4m0 2v8m0 8v3m0 3v3m0 7v7m0 5v4m0 10v1m0 4v2m0 5v5m0 57v3m0 3v13m0 5v8m0 7v4m0 5v12m0 6v2m0 9v1m0 3v1m0 3v2m0 11v3M865.5 391v3m0 7v1m0 5v2m0 20v4m0 1v2m0 18v6m0 14v2m0 7v1m0 10v2m0 4v1m0 5v1m0 6v4m0 2v2m0 45v2m0 3v3m0 2v7m0 3v3m0 8v10m0 5v4m0 11v7m0 11v2m0 2v2m0 2v2m0 7v4M866.5 388v3m0 10v6m0 6v16m0 5v3m0 20v1m0 14v3m0 7v1m0 12v1m0 4v2m0 4v3m0 7v5m0 2v7m0 28v8m0 3v2m0 3v2m0 6v2m0 4v1m0 5v3m0 11v4m0 3v10m0 21v1m0 3v2m0 2v8m0 3v4M867.5 388v3m0 18v4m0 23v3m0 28v5m0 9v1m0 11v2m0 6v2m0 5v3m0 9v6m0 3v8m0 30v2m0 5v1m0 7v1m0 3v2m0 3v3m0 9v5m0 3v4m0 9v1m0 21v2m0 3v2m0 7v5m0 2v2M868.5 390v2m0 14v3m0 3v14m0 12v3m0 23v3m0 11v3m0 5v7m0 9v2m0 6v7m0 8v4m0 7v8m0 22v1m0 7v8m0 2v2m0 2v3m0 2v10m0 7v1m0 12v1m0 22v1m0 5v8m0 3v4M869.5 390v1m0 14v1m0 4v2m0 13v1m0 14v2m0 21v1m0 8v6m0 2v6m0 17v5m0 8v9m0 2v1m0 15v17m0 6v3m0 13v2m0 2v2m0 2v3m0 17v2m0 10v1m0 4v19m0 15v2M870.5 386v4m0 5v7m0 3v2m0 3v1m0 13v1m0 16v1m0 21v1m0 5v3m0 8v1m0 26v4m0 13v3m0 11v5m0 3v6m0 7v6m0 3v6m0 5v3m0 3v1m0 3v1m0 21v4m0 6v1m0 4v1m0 8v19m0 6v1m0 6v2M871.5 390v5m0 6v3m0 2v1m0 3v1m0 12v1m0 13v4m0 22v2m0 4v1m0 10v1m0 29v2m0 25v1m0 4v4m0 5v6m0 7v5m0 4v1m0 4v1m0 6v1m0 3v1m0 11v8m0 5v1m0 6v2m0 3v2m0 3v4m0 18v2m0 5v2m0 5v2M872.5 386v4m0 3v7m0 3v2m0 1v2m0 2v2m0 10v1m0 9v5m0 19v3m0 5v2m0 3v2m0 9v2m0 28v1m0 25v1m0 4v1m0 14v5m0 7v5m0 5v1m0 6v1m0 3v12m0 7v2m0 4v1m0 7v3m0 2v2m0 2v2m0 6v9m0 6v2m0 5v2M873.5 386v7m0 6v2m0 3v1m0 2v2m0 2v3m0 7v1m0 7v3m0 7v9m0 7v1m0 2v4m0 3v2m0 3v2m0 8v1m0 7v7m0 15v1m0 25v1m0 4v1m0 18v3m0 14v1m0 7v3m0 21v1m0 3v1m0 4v5m0 1v12m0 3v8m0 8v1m0 6v2M874.5 400v2m0 2v2m0 2v2m0 3v8m0 7v1m0 6v4m0 8v3m0 5v1m0 5v2m0 3v2m0 3v4m0 2v3m0 6v2m0 6v2m0 14v1m0 25v2m0 3v3m0 18v2m0 8v5m0 10v18m0 4v1m0 3v1m0 3v1m0 4v18m0 14v1m0 8v1M875.5 400v1m0 4v2m0 2v4m0 13v2m0 5v2m0 13v1m0 5v1m0 7v1m0 4v2m0 5v3m0 6v3m0 9v3m0 12v2m0 4v10m0 11v3m0 3v6m0 11v3m0 5v4m0 32v1m0 4v2m0 2v2m0 2v2m0 7v3m0 1v3m0 1v3m0 2v3m0 12v1m0 5v3M876.5 399v1m0 6v2m0 4v6m0 5v3m0 6v1m0 12v3m0 5v1m0 7v1m0 6v1m0 11v3m0 14v2m0 12v5m0 9v3m0 11v3m0 6v12m0 5v3m0 5v8m0 22v1m0 6v2m0 2v3m0 1v4m0 5v1m0 4v1m0 3v1m0 4v1m0 11v1m0 4v2M877.5 398v1m0 8v4m0 6v6m0 9v13m0 5v3m0 6v2m0 7v1m0 9v2m0 18v2m0 25v2m0 14v10m0 12v2m0 4v4m0 7v7m0 10v6m0 8v16m0 2v3m0 1v3m0 2v3m0 11v1m0 3v2m0 3v8M878.5 386v6m0 6v1m0 11v3m0 35v2m0 7v2m0 8v1m0 9v1m0 21v1m0 21v4m0 7v12m0 6v13m0 4v2m0 5v5m0 7v11m0 18v14m0 1v3m0 1v4m0 2v6m0 5v1m0 3v1m0 3v2m0 5v3M879.5 391v3m0 4v3m0 11v4m0 32v9m0 10v1m0 9v2m0 19v1m0 8v14m0 7v4m0 11v2m0 20v2m0 4v3m0 4v9m0 32v11m0 1v3m0 2v4m0 4v1m0 5v1m0 3v1m0 2v2m0 4v3M880.5 393v4m0 3v7m0 8v6m0 46v1m0 10v8m0 9v3m0 8v1m0 20v1m0 16v2m0 17v2m0 4v2m0 15v7m0 37v1m0 5v2m0 4v2m0 4v2m0 2v2m0 2v1m0 5v1M881.5 386v5m0 5v7m0 3v6m0 8v3m0 44v2m0 16v10m0 11v2m0 19v5m0 13v3m0 12v3m0 4v2m0 8v4m0 11v1m0 37v3m0 4v5m0 4v2m0 3v1m0 3v1m0 6v7M882.5 390v5m0 7v5m0 4v4m0 7v2m0 24v10m0 10v4m0 35v1m0 5v6m0 12v6m0 10v2m0 9v2m0 6v1m0 9v1m0 3v2m0 10v1m0 39v8m0 4v2m0 5v1m0 3v2M883.5 394v2m0 10v3m0 5v2m0 7v2m0 21v2m0 9v3m0 11v6m0 21v5m0 4v2m0 3v1m0 5v2m0 5v8m0 3v4m0 8v2m0 7v1m0 8v1m0 9v2m0 2v1m0 10v1m0 28v16m0 3v5m0 7v3m0 2v13M884.5 386v9m0 13v1m0 6v1m0 8v14m0 5v3m0 13v3m0 14v17m0 5v1m0 3v2m0 4v1m0 3v1m0 6v1m0 4v1m0 7v4m0 3v2m0 8v2m0 6v2m0 7v1m0 10v3m0 10v1m0 26v3m0 7v5m0 3v4m0 6v5m0 3v5m0 5v6M885.5 404v4m0 5v2m0 22v6m0 7v7m0 4v2m0 17v9m0 3v3m0 3v2m0 3v1m0 4v1m0 2v1m0 7v1m0 4v1m0 10v2m0 3v2m0 8v2m0 6v2m0 6v2m0 20v2m0 26v1m0 6v4m0 4v5m0 2v2m0 5v1m0 3v5m0 3v6M886.5 388v16m0 7v2m0 34v3m0 6v3m0 3v3m0 12v3m0 8v3m0 3v1m0 4v4m0 4v1m0 3v2m0 6v1m0 4v1m0 11v1m0 4v1m0 9v3m0 5v3m0 5v1m0 18v2m0 27v1m0 6v1m0 12v2m0 2v3m0 3v2m0 6v6M887.5 386v2m0 14v9m0 4v9m0 7v9m0 7v1m0 10v2m0 4v2m0 11v2m0 11v1m0 3v2m0 11v1m0 4v3m0 1v3m0 4v1m0 12v1m0 4v1m0 11v4m0 4v2m0 4v2m0 14v3m0 28v1m0 7v1m0 13v2m0 3v3m0 2v4m0 8v7M888.5 391v11m0 8v5m0 8v2m0 6v1m0 7v1m0 7v3m0 9v1m0 4v1m0 13v4m0 4v4m0 4v1m0 12v3m0 4v2m0 5v2m0 4v5m0 4v2m0 3v1m0 14v2m0 4v2m0 4v2m0 10v3m0 30v1m0 8v6m0 6v3m0 6v2m0 4v3m0 12v5M889.5 389v2m0 5v14m0 14v1m0 5v1m0 6v2m0 10v10m0 4v1m0 17v5m0 6v2m0 15v5m0 3v4m0 4v2m0 4v3m0 3v2m0 2v2m0 5v4m0 5v2m0 4v2m0 4v11m0 33v2m0 12v7m0 10v2m0 5v1M890.5 389v1m0 4v2m0 3v7m0 17v1m0 5v1m0 7v2m0 19v5m0 3v19m0 6v1m0 6v10m0 5v4m0 8v1m0 7v2m0 3v2m0 2v2m0 4v3m0 7v1m0 5v3m0 47v26m0 4v1m0 6v1M891.5 389v1m0 3v1m0 3v2m0 6v6m0 11v1m0 5v1m0 9v3m0 12v5m0 4v4m0 18v3m0 4v1m0 5v1m0 9v6m0 12v3m0 6v1m0 4v1m0 3v1m0 13v1m0 8v22m0 38v7m0 6v5m0 5v2M892.5 389v2m0 2v1m0 3v1m0 12v2m0 8v2m0 5v1m0 12v5m0 7v1m0 5v4m0 10v11m0 3v2m0 3v2m0 4v1m0 14v3m0 12v7m0 5v1m0 3v1m0 13v1m0 29v1m0 36v2m0 6v2m0 14v1M893.5 390v1m0 2v2m0 2v2m0 12v2m0 6v1m0 6v1m0 17v1m0 6v1m0 6v1m0 13v2m0 8v2m0 3v2m0 3v1m0 4v1m0 16v1m0 23v1m0 4v1m0 13v2m0 27v1m0 37v1m0 6v2m0 4v7m0 3v1m0 6v3m0 8v4M894.5 390v1m0 3v1m0 3v2m0 12v3m0 4v2m0 5v1m0 13v4m0 7v1m0 6v9m0 6v4m0 5v1m0 5v1m0 3v1m0 4v3m0 13v1m0 23v1m0 4v1m0 5v5m0 5v1m0 26v1m0 38v1m0 4v2m0 4v2m0 6v2m0 2v2m0 5v2m0 6v3M895.5 388v2m0 4v2m0 3v1m0 14v3m0 3v2m0 4v3m0 4v7m0 7v4m0 15v8m0 2v6m0 5v1m0 4v2m0 5v5m0 5v4m0 7v9m0 6v2m0 5v1m0 4v1m0 4v2m0 3v1m0 5v8m0 12v2m0 23v7m0 8v1m0 5v1m0 4v1m0 9v2m0 2v2m0 10v2M896.5 386v2m0 6v1m0 4v1m0 5v7m0 4v3m0 2v3m0 4v5m0 3v11m0 26v4m0 10v1m0 5v3m0 7v6m0 9v2m0 8v7m0 6v1m0 5v2m0 2v2m0 4v1m0 3v2m0 7v13m0 25v1m0 3v2m0 8v1m0 6v1m0 4v1m0 10v2m0 2v4m0 4v3M897.5 392v2m0 4v1m0 5v1m0 6v1m0 6v2m0 3v4m0 4v5m0 1v16m0 13v6m0 4v4m0 6v1m0 8v4m0 18v1m0 23v1m0 6v3m0 4v2m0 3v1m0 47v4m0 10v1m0 4v2m0 5v2m0 10v2m0 4v5M898.5 386v6m0 4v2m0 6v1m0 3v3m0 8v1m0 6v5m0 2v4m0 4v4m0 7v5m0 7v2m0 5v2m0 6v3m0 3v1m0 12v2m0 17v1m0 23v2m0 11v1m0 4v1m0 33v16m0 13v5m0 8v4m0 8v2m0 10v10M899.5 393v3m0 8v4m0 9v2m0 11v3m0 4v4m0 3v5m0 7v2m0 5v1m0 8v2m0 7v4m0 13v1m0 18v2m0 23v1m0 9v2m0 5v1m0 15v8m0 10v1m0 14v11m0 19v6m0 4v2m0 7v2m0 4v6M900.5 390v3m0 17v7m0 11v2m0 7v1m0 7v3m0 9v1m0 5v1m0 9v1m0 15v14m0 15v2m0 22v2m0 5v3m0 7v2m0 11v3m0 7v6m0 5v3m0 22v1m0 24v6m0 6v2m0 3v3m0 2v4M901.5 386v4m0 18v2m0 17v1m0 9v8m0 10v2m0 6v3m0 7v2m0 8v6m0 7v2m0 4v8m0 9v3m0 21v6m0 11v1m0 10v1m0 15v3m0 5v5m0 18v1m0 27v1m0 7v1m0 3v2m0 3v2M902.5 407v1m0 7v3m0 9v1m0 12v15m0 10v4m0 5v9m0 11v2m0 4v8m0 1v6m0 6v5m0 34v3m0 7v1m0 8v3m0 7v2m0 8v9m0 10v2m0 31v3m0 3v1m0 4v1M903.5 407v1m0 7v1m0 1v4m0 6v3m0 4v6m0 3v8m0 17v4m0 19v3m0 3v3m0 7v5m0 2v4m0 7v8m0 29v4m0 4v2m0 7v1m0 1v1m0 8v3m0 14v6m0 6v2m0 21v9m0 4v2m0 5v2M904.5 407v2m0 6v3m0 2v1m0 8v5m0 5v4m0 7v2m0 19v1m0 13v6m0 3v3m0 3v7m0 4v2m0 4v2m0 13v9m0 24v4m0 2v3m0 5v2m0 11v17m0 3v6m0 2v7m0 11v4m0 9v4m0 8v6M905.5 408v2m0 7v6m0 14v2m0 11v1m0 5v8m0 7v2m0 9v3m0 8v1m0 6v6m0 5v1m0 5v1m0 22v1m0 18v7m0 2v4m0 1v4m0 31v4m0 5v4m0 5v6m0 5v1m0 10v3M906.5 391v18m0 10v1m0 2v6m0 7v2m0 10v3m0 3v3m0 7v3m0 6v2m0 8v1m0 10v3m0 10v5m0 4v2m0 19v4m0 18v1m0 6v18m0 17v7m0 4v4m0 5v2m0 9v3m0 3v3m0 8v21M907.5 390v1m0 27v1m0 8v8m0 10v2m0 4v2m0 12v1m0 7v2m0 7v6m0 7v11m0 2v7m0 16v5m0 22v1m0 11v4m0 1v4m0 3v11m0 7v4m0 2v2m0 6v3m0 4v3m0 8v1m0 6v8M908.5 390v2m0 24v2m0 26v1m0 6v1m0 12v1m0 8v1m0 13v21m0 20v3m0 3v10m0 6v5m0 3v4m0 11v4m0 1v6m0 8v5m0 6v4m0 9v2m0 5v1m0 8v1m0 13v10M909.5 390v1m0 9v16m0 28v1m0 6v13m0 7v2m0 7v9m0 10v21m0 7v1m0 3v3m0 9v2m0 3v2m0 4v6m0 1v3m0 12v2m0 5v5m0 8v9m0 12v1m0 4v1m0 9v2m0 4v15m0 2v4m0 8v2M910.5 386v4m0 9v1m0 33v5m0 6v3m0 16v8m0 5v4m0 8v11m0 20v3m0 4v1m0 3v1m0 4v6m0 3v1m0 3v1m0 4v4m0 2v10m0 8v1m0 9v1m0 16v13m0 4v1m0 11v2m0 2v1m0 3v10m0 1v4m0 2v3m0 5v1M911.5 396v3m0 31v3m0 4v4m0 5v2m0 10v5m0 9v4m0 3v10m0 31v1m0 4v1m0 3v1m0 4v1m0 5v1m0 3v2m0 2v1m0 3v1m0 3v21m0 7v3m0 10v14m0 7v3m0 3v9m0 1v2m0 1v2m0 2v1m0 8v3m0 2v3m0 2v2m0 4v3M912.5 386v10m0 6v18m0 9v1m0 10v7m0 10v1m0 9v5m0 3v4m0 9v4m0 12v7m0 8v1m0 4v1m0 3v1m0 4v1m0 6v2m0 3v1m0 2v1m0 3v1m0 8v16m0 2v5m0 13v1m0 5v4m0 3v8m0 3v3m0 8v2m0 1v2m0 1v1m0 2v1m0 3v4m0 3v3m0 2v3m0 1v5M913.5 400v2m0 17v2m0 8v1m0 27v2m0 6v2m0 7v1m0 4v7m0 5v2m0 9v2m0 6v2m0 6v1m0 4v1m0 3v1m0 5v1m0 7v1m0 3v1m0 2v1m0 3v1m0 13v6m0 4v3m0 18v1m0 3v2m0 3v4m0 10v1m0 4v6m0 2v2m0 1v4m0 1v1m0 3v1m0 2v2m0 4v2m0 3v2m0 4v4"/>
<path stroke="#fff" stroke-width="1" fill="none" d="M602.5 510v8m0 1v2m0 1v7M603.5 507v1m0 2v1m0 1v7m0 2v8M604.5 505v1m0 1v3m0 2v7m0 1v1m0 1v7M605.5 504v5m0 1v3m0 1v5m0 1v2m0 1v1m0 1v4M606.5 503v3m0 2v2m0 2v1m0 1v8m0 1v1m0 1v4M607.5 501v1m0 1v1m0 1v7m0 2v15M608.5 499v1m0 1v2m0 3v5m0 3v7m0 1v7M609.5 498v1m0 1v1m0 1v1m0 2v1m0 1v6m0 1v14M610.5 500v2m0 2v1m0 1v1m0 2v2m0 1v1m0 1v15M611.5 496v1m0 2v1m0 1v1m0 2v1m0 1v1m0 3v19M612.5 494v2m0 3v1m0 1v1m0 1v1m0 1v1m0 1v5m0 1v2m0 1v13M613.5 493v2m0 1v4m0 1v2m0 1v1m0 1v1m0 3v19M614.5 492v4m0 2v4m0 2v2m0 4v3m0 1v7m0 1v7M615.5 490v6m0 2v3m0 2v2m0 1v4m0 1v4m0 1v4m0 1v3m0 1v1m0 1v2M616.5 491v6m0 2v4m0 1v2m0 3v3m0 1v2m0 2v4m0 1v3m0 1v2M617.5 489v2m0 1v5m0 2v1m0 3v2m0 1v3m0 1v2m0 1v2m0 3v2m0 1v8M618.5 489v1m0 2v7m0 4v3m0 2v5m0 1v1m0 4v2m0 1v7M619.5 487v3m0 1v1m0 2v3m0 6v13m0 3v2m0 2v4m0 1v1M620.5 489v2m0 3v1m0 1v2m0 1v3m0 1v3m0 2v4m0 1v1m0 1v4m0 1v6m0 2v1M621.5 487v4m0 3v2m0 1v2m0 2v5m0 2v9m0 2v1m0 1v1m0 2v1m0 3v1M622.5 485v2m0 3v2m0 3v1m0 6v4m0 3v10m0 1v1m0 5v3M623.5 485v1m0 2v7m0 7v4m0 3v12m0 4v1m0 2v1M624.5 487v1m0 1v5m0 5v8m0 1v1m0 1v10m0 5v4M625.5 483v1m0 3v2m0 1v8m0 1v1m0 1v6m0 1v1m0 2v1m0 1v6m0 5v1m0 1v2M626.5 483v1m0 3v2m0 2v3m0 3v1m0 1v1m0 1v7m0 5v1m0 2v8m0 1v1m0 1v2M627.5 483v1m0 2v1m0 1v1m0 4v5m0 1v1m0 2v5m0 6v1m0 1v1m0 1v8m0 2v2M628.5 482v4m0 1v1m0 8v3m0 1v7m0 6v7m0 7v2M629.5 481v2m0 2v2m0 9v3m0 1v8m0 5v5m0 1v8m0 1v1M630.5 481v2m0 1v1m0 5v3m0 2v1m0 1v3m0 1v1m0 1v10m0 1v1m0 1v1m0 1v1m0 1v1m0 4v4M631.5 481v3m0 1v4m0 1v1m0 1v3m0 2v4m0 1v1m0 1v5m0 4v1m0 1v1m0 1v1m0 2v1m0 2v2m0 3v1M632.5 480v5m0 3v3m0 5v1m0 1v1m0 3v2m0 1v1m0 2v3m0 2v2m0 1v1m0 3v3m0 3v3M633.5 480v5m0 4v2m0 5v1m0 1v7m0 2v5m0 1v2m0 1v1m0 1v8M634.5 480v5m0 3v1m0 1v6m0 4v3m0 4v1m0 1v4m0 1v2m0 2v11M635.5 479v6m0 3v2m0 1v1m0 6v10m0 2v1m0 3v2m0 2v6m0 3v2M636.5 480v6m0 2v2m0 1v1m0 1v2m0 2v1m0 1v1m0 1v7m0 2v2m0 1v2m0 1v5m0 2v2m0 1v1M637.5 478v2m0 2v6m0 1v1m0 1v1m0 1v1m0 3v1m0 1v3m0 1v6m0 2v3m0 1v1m0 1v4m0 2v1m0 2v1M638.5 478v2m0 2v4m0 2v1m0 2v1m0 5v2m0 1v3m0 2v4m0 3v1m0 1v7m0 2v1m0 2v2M639.5 477v4m0 1v6m0 3v4m0 1v1m0 1v1m0 1v3m0 2v4m0 1v2m0 1v2m0 1v5m0 2v1m0 3v2M640.5 477v6m0 1v2m0 2v2m0 4v2m0 2v1m0 1v3m0 2v4m0 1v1m0 1v1m0 1v1m0 1v4m0 3v1m0 2v1m0 1v1M641.5 477v5m0 3v3m0 1v1m0 8v6m0 1v6m0 1v1m0 1v10m0 2v1m0 1v1M642.5 478v6m0 5v1m0 2v3m0 4v6m0 2v4m0 1v14m0 1v1M643.5 480v7m0 2v1m0 1v1m0 2v1m0 4v6m0 2v12m0 2v3m0 2v1m0 1v1M644.5 478v11m0 1v1m0 3v1m0 5v6m0 1v3m0 3v5m0 1v6m0 1v1m0 1v1M645.5 475v4m0 1v10m0 4v2m0 6v8m0 2v1m0 1v3m0 1v1m0 2v2m0 1v2m0 2v1M646.5 477v17m0 1v4m0 4v2m0 1v4m0 2v3m0 1v2m0 2v1m0 1v1M647.5 474v8m0 1v9m0 1v4m0 1v2m0 1v4m0 1v1m0 1v8m0 1v1m0 1v1m0 1v1M648.5 474v1m0 2v5m0 3v10m0 1v2m0 1v2m0 1v3m0 3v2m0 1v5m0 1v1m0 1v2m0 1v5M649.5 473v1m0 1v8m0 4v6m0 1v6m0 2v3m0 2v3m0 1v5m0 1v3m0 1v4m0 1v1M650.5 473v2m0 1v7m0 2v2m0 2v2m0 1v8m0 2v3m0 2v3m0 1v6m0 2v3m0 2v3m0 1v1M651.5 473v3m0 1v10m0 3v2m0 3v14m0 2v4m0 1v5m0 1v5m0 1v1M652.5 473v3m0 2v9m0 4v9m0 2v4m0 1v2m0 2v4m0 3v1m0 1v2m0 2v4M653.5 473v3m0 2v13m0 1v2m0 1v5m0 2v3m0 1v10m0 1v1m0 1v2m0 3v2M654.5 473v3m0 2v3m0 1v1m0 1v5m0 1v2m0 1v1m0 1v5m0 1v1m0 1v5m0 2v4m0 1v2m0 1v1m0 1v6m0 2v1M655.5 473v3m0 1v5m0 3v5m0 1v12m0 1v4m0 2v4m0 3v1m0 1v2m0 2v4m0 1v1M656.5 473v12m0 1v9m0 1v5m0 1v2m0 1v3m0 2v4m0 3v10m0 1v1M657.5 470v1m0 2v3m0 1v4m0 3v2m0 2v7m0 1v4m0 1v1m0 1v1m0 1v4m0 1v3m0 1v13M658.5 470v1m0 2v2m0 2v4m0 1v2m0 1v2m0 1v13m0 1v1m0 1v10m0 2v11m0 1v1M659.5 470v1m0 2v2m0 2v4m0 1v3m0 1v1m0 1v2m0 1v5m0 1v3m0 2v2m0 1v5m0 1v17M660.5 469v3m0 1v3m0 1v6m0 1v6m0 2v4m0 1v6m0 2v4m0 1v12m0 1v6M661.5 469v14m0 2v5m0 2v5m0 1v2m0 2v8m0 1v3m0 1v7m0 1v6M662.5 468v9m0 2v4m0 3v6m0 1v3m0 1v1m0 1v1m0 1v8m0 1v4m0 2v6m0 1v6M663.5 469v10m0 1v11m0 2v2m0 2v2m0 2v13m0 1v8m0 1v5M664.5 469v4m0 1v4m0 1v5m0 1v5m0 2v1m0 1v1m0 1v1m0 1v1m0 1v4m0 1v10m0 1v5m0 3v5M665.5 467v1m0 1v4m0 2v16m0 1v1m0 1v4m0 2v4m0 2v8m0 1v6m0 3v5M666.5 467v6m0 1v5m0 1v3m0 2v4m0 1v1m0 1v1m0 2v1m0 1v1m0 3v3m0 2v4m0 1v4m0 1v5m0 3v5M667.5 466v3m0 1v6m0 3v12m0 1v2m0 2v1m0 1v6m0 2v4m0 1v3m0 1v4m0 1v1m0 3v5M668.5 466v2m0 1v3m0 1v2m0 4v5m0 1v6m0 2v3m0 1v1m0 2v4m0 2v4m0 1v4m0 1v3m0 1v1m0 3v5"/>
<path stroke="#fff" stroke-width="1" fill="none" d="M590.5 528v1m0 2v3m0 2v1m0 5v1m0 3v1m0 1v2m0 7v2m0 2v3m0 1v2M591.5 528v1m0 2v3m0 2v1m0 9v1m0 1v2m0 7v2m0 2v4m0 1v2M592.5 528v1m0 2v5m0 9v1m0 2v2m0 2v2m0 2v1m0 1v1m0 2v2m0 2v1m0 1v1M593.5 528v1m0 2v2m0 1v1m0 10v1m0 2v3m0 1v2m0 2v1m0 1v1m0 2v2m0 2v2M594.5 528v1m0 2v2m0 12v1m0 2v1m0 1v1m0 1v3m0 1v1m0 1v1m0 2v3m0 1v2M595.5 528v1m0 2v2m0 6v3m0 3v1m0 2v4m0 2v1m0 1v2m0 3v1m0 1v1m0 1v2M596.5 528v1m0 2v2m0 4v2m0 2v1m0 3v1m0 3v3m0 2v2m0 1v1m0 2v1m0 2v1m0 1v2M597.5 528v1m0 2v2m0 3v1m0 4v1m0 3v1m0 3v2m0 3v1m0 2v1m0 2v1m0 2v2m0 1v1M598.5 528v1m0 2v2m0 2v1m0 5v1m0 3v1m0 3v1m0 7v1m0 1v1m0 3v1m0 2v1M599.5 528v1m0 2v2m0 2v1m0 5v1m0 3v2m0 2v1m0 6v1m0 2v1m0 5v1M600.5 528v1m0 2v2m0 2v1m0 5v1m0 4v1m0 1v1m0 7v1m0 2v1m0 5v1M601.5 528v1m0 2v2m0 1v1m0 3v2m0 1v1m0 4v1m0 1v1m0 7v1m0 2v1m0 5v1M602.5 528v2m0 1v2m0 1v1m0 2v1m0 1v3m0 4v3m0 7v1m0 2v1m0 5v1M603.5 529v2m0 1v1m0 1v1m0 2v1m0 2v2m0 5v1m0 7v1m0 3v1m0 5v1M604.5 528v2m0 2v1m0 1v1m0 2v1m0 2v2m0 13v1m0 3v1m0 4v1M605.5 528v1m0 3v1m0 1v1m0 2v1m0 2v2m0 13v1m0 2v1m0 2v2m0 1v1m0 2v1M606.5 528v1m0 3v1m0 1v1m0 2v1m0 2v2m0 2v2m0 9v1m0 2v1m0 2v2m0 1v1m0 2v1M607.5 528v2m0 1v1m0 2v1m0 2v1m0 2v2m0 1v1m0 1v2m0 8v1m0 2v1m0 2v2m0 1v1m0 2v1M608.5 529v1m0 1v1m0 2v1m0 2v1m0 2v4m0 2v1m0 8v1m0 2v1m0 2v2m0 1v1m0 2v1M609.5 529v3m0 1v1m0 3v1m0 2v1m0 1v1m0 3v3m0 6v2m0 1v1m0 2v2m0 1v1m0 2v1M610.5 530v1m0 2v1m0 3v3m0 8v2m0 6v1m0 1v1m0 2v1m0 2v1m0 2v1M611.5 533v1m0 4v2m0 9v1m0 6v1m0 1v1m0 5v3M612.5 533v1m0 4v1m0 9v1m0 7v1m0 1v1m0 6v1M613.5 533v1m0 14v1m0 7v3M614.5 533v1m0 14v1m0 8v1M615.5 528v1m0 4v1m0 14v1M616.5 528v1m0 4v1m0 14v1m0 3v2M617.5 528v2m0 3v2m0 4v3m0 6v1m0 3v2M618.5 529v1m0 4v5m0 2v2m0 4v1m0 3v1m0 1v1M619.5 529v1m0 12v1m0 4v1m0 3v1m0 1v2m0 10v3M620.5 529v2m0 11v2m0 2v1m0 4v1m0 2v1m0 9v1m0 2v1M621.5 530v1m0 12v1m0 1v1m0 5v1m0 2v1m0 1v2m0 6v1m0 2v1M622.5 530v1m0 12v1m0 1v1m0 5v1m0 2v1m0 1v3m0 4v1M623.5 530v1m0 12v2m0 6v1m0 2v2m0 2v1m0 4v1M624.5 530v2m0 7v2m0 7v2m0 1v1m0 2v2m0 2v1m0 2v2M625.5 531v1m0 7v3m0 5v1m0 1v1m0 1v1m0 2v1m0 3v1m0 2v1M626.5 531v1m0 7v2m0 6v1m0 1v1m0 1v1m0 6v1m0 1v1M627.5 531v1m0 7v2m0 6v1m0 1v1m0 1v1m0 2v2m0 1v1m0 2v1m0 6v1M628.5 531v1m0 7v1m0 7v1m0 1v1m0 1v1m0 2v2m0 1v1m0 2v1m0 6v1M629.5 531v2m0 14v2m0 2v1m0 1v1m0 1v2m0 3v1m0 1v3m0 2v1M630.5 532v1m0 14v1m0 3v2m0 7v1m0 1v1m0 1v1m0 1v1M631.5 532v1m0 27v1m0 1v1m0 1v1m0 1v1M632.5 532v1m0 27v2m0 2v1m0 1v1M633.5 532v1m0 27v2m0 2v1m0 1v1M634.5 532v1m0 27v2m0 2v2M635.5 532v1m0 6v3m0 18v2m0 2v2M636.5 532v1m0 1v3m0 1v1m0 2v1m0 3v3m0 12v2m0 2v2M637.5 528v1m0 3v1m0 1v2m0 2v1m0 2v1m0 3v1m0 1v1m0 12v2m0 2v2M638.5 528v1m0 3v1m0 1v2m0 2v1m0 2v1m0 2v1m0 2v2m0 11v2m0 2v2M639.5 528v1m0 3v1m0 1v2m0 2v1m0 2v2m0 1v1m0 3v1m0 10v1m0 1v1m0 1v1m0 1v1M640.5 528v1m0 3v1m0 1v1m0 3v1m0 3v1m0 1v1m0 2v1m0 11v1m0 1v1m0 1v2M641.5 528v2m0 2v1m0 4v1m0 4v1m0 1v1m0 2v1m0 11v1m0 1v1m0 1v2M642.5 529v1m0 2v1m0 4v1m0 4v1m0 1v1m0 2v1m0 10v1m0 2v2m0 1v1M643.5 529v1m0 2v2m0 3v1m0 4v1m0 1v3m0 10v1m0 3v3M644.5 529v1m0 3v1m0 3v1m0 4v1m0 2v1m0 10v1m0 4v1m0 1v1M645.5 529v1m0 3v1m0 3v1m0 4v1m0 13v1m0 6v5M646.5 528v3m0 2v1m0 2v1m0 5v1m0 13v1m0 6v2m0 1v2M647.5 528v1m0 1v1m0 2v2m0 1v1m0 5v1m0 3v4m0 6v1m0 6v3m0 1v1M648.5 528v1m0 1v1m0 3v1m0 1v1m0 5v1m0 3v1m0 2v1m0 6v1m0 5v1m0 1v2m0 1v1M649.5 528v1m0 1v1m0 3v2m0 5v1m0 3v1m0 3v1m0 6v1m0 5v1m0 1v2m0 1v1M650.5 528v1m0 1v2m0 2v1m0 6v1m0 3v1m0 3v1m0 1v2m0 3v1m0 5v2m0 1v1m0 1v1M651.5 528v2m0 1v1m0 9v1m0 3v1m0 3v1m0 1v2m0 3v1m0 5v2m0 1v2M652.5 528v2m0 1v1m0 8v1m0 4v1m0 3v1m0 1v3m0 2v1m0 5v2m0 1v2M653.5 528v2m0 1v1m0 8v1m0 4v1m0 3v2m0 2v1m0 2v1m0 5v3m0 1v1M654.5 529v1m0 1v2m0 6v1m0 5v1m0 3v2m0 2v1m0 2v1m0 5v2m0 2v1M655.5 529v2m0 1v3m0 4v1m0 5v1m0 3v2m0 2v1m0 2v1m0 4v1m0 4v1M656.5 530v1m0 1v1m0 1v2m0 3v1m0 5v1m0 3v2m0 2v1m0 2v2m0 1v2m0 5v1M657.5 530v1m0 4v1m0 3v1m0 5v2m0 2v2m0 2v2m0 2v2m0 7v1M658.5 530v1m0 4v1m0 3v1m0 6v1m0 1v1m0 1v1m0 3v1m0 2v1m0 8v1M659.5 530v1m0 4v1m0 3v1m0 6v3m0 1v1m0 3v1m0 11v1M660.5 530v1m0 4v1m0 3v1m0 7v1m0 2v1m0 3v1m0 11v1M661.5 530v1m0 4v1m0 3v1m0 4v2m0 4v1m0 3v1m0 11v2M662.5 529v1m0 5v1m0 3v1m0 3v1m0 1v2m0 3v1m0 3v1m0 12v1M663.5 529v1m0 5v1m0 3v1m0 3v1m0 2v2m0 2v1m0 3v1m0 4v2m0 6v1M664.5 529v1m0 5v1m0 3v1m0 3v1m0 3v2m0 1v2m0 1v1m0 4v1m0 1v2M665.5 528v1m0 6v1m0 3v1m0 3v1m0 4v1m0 2v2m0 5v1m0 2v1M666.5 534v1m0 4v1m0 3v1m0 4v1m0 8v1m0 3v1M667.5 534v1m0 4v1m0 3v2m0 3v1m0 8v1m0 3v1"/>
<path stroke="#fff" stroke-width="1" fill="none" d="M600.5 574v1m0 1v1m0 3v2m0 2v2m0 2v1M601.5 574v2m0 4v2m0 2v2m0 2v1M602.5 574v2m0 4v2m0 2v2m0 2v1M603.5 575v1m0 4v3m0 1v2m0 2v1M604.5 574v1m0 5v1m0 1v1m0 1v2m0 2v1M605.5 574v1m0 2v2m0 1v1m0 1v2m0 1v1m0 2v1M606.5 574v1m0 1v1m0 1v1m0 1v1m0 4v1m0 2v1M607.5 575v1m0 2v1m0 1v1m0 4v1m0 1v1M608.5 575v1m0 2v1m0 1v4m0 1v1m0 1v1M609.5 574v1m0 3v1m0 1v1m0 2v6M610.5 574v1m0 3v1m0 5v2m0 2v1M611.5 574v1m0 3v1m0 5v1m0 3v1M612.5 574v1m0 3v1m0 3v2m0 4v1M613.5 574v1m0 3v1m0 3v2M614.5 574v1m0 3v1m0 2v1m0 1v1M615.5 574v1m0 3v1m0 2v3M616.5 574v1m0 3v1m0 3v2m0 4v1M617.5 574v1m0 2v1m0 4v2m0 4v1M618.5 574v1m0 2v1m0 2v3m0 5v1M619.5 574v3m0 2v1m0 1v1m0 5v1M620.5 575v1m0 3v1m0 1v2m0 4v1M621.5 579v1m0 2v1m0 1v4M622.5 574v1m0 4v1m0 2v2m0 2v2M623.5 574v2m0 3v3m0 4v2M624.5 575v1m0 2v1m0 1v3m0 3v2M625.5 575v2m0 1v2m0 2v6M626.5 574v3m0 1v2m0 5v3M627.5 575v2m0 1v4m0 3v4M628.5 575v2m0 1v5m0 3v3M629.5 575v2m0 1v3m0 1v7M630.5 574v3m0 1v3m0 4v4M631.5 575v2m0 1v3m0 4v4M632.5 575v6m0 4v4M633.5 575v6m0 4v4M634.5 575v8m0 2v3M635.5 575v6m0 1v2m0 2v2M636.5 575v5m0 3v1m0 2v2M637.5 575v5m0 1v4m0 1v2M638.5 574v1m0 1v5m0 1v3m0 1v2M639.5 576v3m0 4v2m0 1v3M640.5 576v4m0 1v4m0 1v3M641.5 576v2m0 1v2m0 2v2m0 1v3M642.5 576v2m0 1v1m0 3v2m0 1v3M643.5 576v2m0 3v8M644.5 576v2m0 3v8M645.5 576v2m0 3v7M646.5 576v2m0 3v8M647.5 576v2m0 3v8M648.5 576v1m0 4v1m0 1v3m0 1v2M649.5 575v2m0 6v3m0 1v2M650.5 575v2m0 6v6M651.5 575v2m0 6v6M652.5 574v1m0 1v2m0 1v4m0 1v2m0 1v2M653.5 577v2m0 5v1m0 2v2M654.5 577v1m0 6v1m0 2v2M655.5 584v3m0 1v1M656.5 585v1m0 1v1M657.5 578v5m0 4v1M658.5 577v1m0 1v1m0 2v1m0 2v2M659.5 576v1m0 5v2m0 1v1M660.5 576v1m0 6v2M661.5 576v3m0 4v2m0 1v2"/>
<path stroke="#fff" stroke-width="1" fill="none" d="M661.5 469v1M662.5 467v2M665.5 477v2M666.5 464v2m0 10v4M668.5 463v2m0 9v3M669.5 464v1m0 9v1m0 3v3M670.5 464v4m0 3v1m0 5v2M671.5 471v3M672.5 461v1m0 13v1M673.5 459v3m0 2v3m0 1v3m0 11v1M674.5 459v1m0 2v2m0 4v3m0 2v1M675.5 458v1m0 2v5m0 1v3m0 8v1m0 6v1M676.5 461v10m0 5v4M677.5 466v2m0 4v2m0 3v1M678.5 459v3m0 1v4m0 14v1M679.5 455v1m0 2v1m0 3v1m0 2v2m0 3v1m0 5v2M680.5 457v2m0 3v1m0 7v3m0 4v2M681.5 455v1m0 4v7m0 2v4m0 6v2M682.5 453v15m0 3v3M683.5 452v12m0 5v2m0 2v3M684.5 455v1m0 12v2M685.5 451v1m0 1v1m0 12v2m0 10v1M686.5 467v3M687.5 453v4m0 6v11M688.5 449v1m0 3v7m0 9v6M689.5 462v5m0 9v2M690.5 447v6m0 3v5m0 3v1m0 13v3M691.5 446v1m0 10v2m0 3v1m0 2v3m0 3v1m0 4v3m0 61v1m0 7v1M692.5 452v2m0 4v1m0 13v2m0 55v1m0 3v2m0 2v1m0 3v2m0 1v2m0 2v2M693.5 452v2m0 5v2m0 3v1M694.5 444v3m0 5v1m0 7v2m0 1v3m0 1v3m0 62v2m0 16v1M695.5 448v4m0 1v3m0 1v5m0 1v7m0 7v7m0 48v3M696.5 443v10m0 1v1m0 5v3m0 6v1m0 69v4m0 1v4m0 21v2M697.5 446v3m0 15v4m0 1v2m0 3v2m0 4v2m0 51v1m0 12v1m0 26v2M698.5 442v1m0 3v4m0 18v1m0 13v1m0 46v1m0 5v2m0 4v7M699.5 450v1m0 1v2m0 1v2m0 6v2m0 9v1m0 57v2m0 1v7m0 4v1M700.5 440v7m0 2v3m0 2v2m0 6v2m0 1v1m0 3v5m0 3v3m0 48v2m0 2v1m0 3v10m0 1v1m0 1v5M701.5 440v4m0 6v14m0 2v2m0 3v5m0 8v2m0 38v2m0 6v1m0 2v1m0 6v2m0 4v4m0 12v1m0 1v2m0 4v2M702.5 438v1m0 8v2m0 2v1m0 2v2m0 8v2m0 4v5m0 51v1m0 3v1m0 1v2m0 4v3m0 17v1m0 17v1M703.5 441v5m0 2v3m0 1v6m0 10v1m0 1v3m0 53v3m0 4v2m0 4v4m0 10v3m0 9v4M704.5 437v4m0 3v6m0 5v3m0 5v1m0 2v5m0 60v4m0 2v2m0 1v2m0 11v2m0 19v2M705.5 460v8m0 58v1m0 4v1m0 9v7m0 4v2m0 12v2M706.5 436v3m0 2v1m0 18v4m0 3v7m0 4v1m0 51v3m0 3v1m0 5v3m0 3v3m0 11v3m0 2v1M707.5 435v1m0 5v2m0 16v2m0 3v1m0 2v5m0 6v4m0 59v1m0 3v2M708.5 438v1m0 3v2m0 1v2m0 3v6m0 5v5m0 66v2m0 5v1m0 5v2m0 19v2m0 1v2M709.5 435v5m0 2v2m0 18v5m0 3v6m0 48v2m0 10v1m0 1v1m0 1v6m0 4v1m0 11v1M710.5 431v1m0 14v2m0 3v3m0 9v2m0 8v5m0 59v2m0 4v2m0 5v2m0 15v2m0 2v1M711.5 436v1m0 4v4m0 6v3m0 13v1m0 71v2m0 3v1m0 2v2M712.5 444v2m0 1v2m0 6v1m0 7v3m0 4v5m0 1v2m0 62v1m0 6v6m0 6v1m0 6v1M713.5 429v1m0 3v4m0 8v4m0 3v1m0 5v7m0 4v3m0 3v5m0 45v8m0 2v3m0 11v1m0 1v2m0 1v2m0 2v3m0 6v2M714.5 430v4m0 1v5m0 3v3m0 2v4m0 1v4m0 2v12m0 3v3m0 50v14m0 2v4m0 2v5m0 18v1M715.5 427v3m0 3v4m0 4v2m0 4v1m0 2v1m0 2v11m0 2v10m0 4v1m0 43v1m0 14v14m0 3v1m0 2v2m0 12v3M716.5 432v2m0 3v3m0 5v4m0 4v4m0 1v3m0 1v1m0 6v6m0 50v4m0 4v1m0 4v5m0 1v5m0 2v2m0 1v1m0 11v3M717.5 427v2m0 12v6m0 4v3m0 4v7m0 6v1m0 1v1m0 2v2m0 54v1m0 15v2M718.5 453v2m0 80v1m0 15v1m0 14v2M719.5 424v5m0 2v3m0 7v3m0 1v1m0 2v9m0 5v1m0 12v3m0 47v2m0 2v3m0 2v3m0 4v2m0 4v2m0 1v2m0 13v3m0 12v1M720.5 427v3m0 2v2m0 2v1m0 4v9m0 3v8m0 3v2m0 63v1m0 7v2m0 1v2m0 1v3M721.5 436v3m0 2v7m0 2v6m0 4v3m0 2v2m0 2v4m0 52v2m0 2v4m0 4v1m0 1v2m0 7v3m0 19v2M722.5 422v8m0 2v9m0 5v6m0 1v1m0 2v3m0 3v7m0 2v2m0 3v5m0 3v1m0 41v5m0 2v7m0 1v2m0 4v5m0 11v1m0 3v2m0 3v1M723.5 423v1m0 9v11m0 6v5m0 5v1m0 2v5m0 3v6m0 46v1m0 8v10m0 6v2m0 4v1M724.5 427v2m0 9v7m0 6v2m0 2v2m0 22v1m0 57v5m0 7v1m0 6v2m0 9v2M725.5 423v6m0 2v10m0 2v2m0 6v3m0 4v4m0 1v5m0 2v1m0 1v2m0 55v7m0 7v3m0 2v2m0 2v2m0 7v1m0 7v2M726.5 435v2m0 3v7m0 12v2m0 1v2m0 4v2m0 5v2m0 48v2m0 7v3m0 6v1m0 17v1m0 11v1M727.5 425v1m0 4v7m0 1v18m0 1v2m0 1v13m0 3v3m0 7v1m0 44v3m0 5v1m0 10v1m0 3v2m0 11v2M728.5 432v2m0 2v4m0 10v3m0 2v10m0 7v1m0 50v2m0 5v8m0 3v4m0 19v4M729.5 428v8m0 3v1m0 2v2m0 1v1m0 3v5m0 3v3m0 2v3m0 3v6m0 8v1m0 45v2m0 3v3m0 4v2m0 7v3M730.5 431v1m0 3v2m0 2v8m0 8v1m0 3v1m0 70v1m0 9v4m0 1v2m0 15v1M731.5 425v2m0 1v2m0 2v3m0 5v1m0 1v2m0 11v5m0 5v3m0 4v1m0 59v2m0 1v1M732.5 427v3m0 3v3m0 7v3m0 2v1m0 3v1m0 5v6m0 74v1m0 6v3m0 3v2m0 3v1M733.5 421v1m0 5v3m0 3v2m0 1v6m0 3v8m0 7v3m0 5v2m0 56v1m0 5v1m0 1v4m0 5v5m0 3v1m0 8v1M734.5 436v2m0 1v2m0 9v2m0 13v3m0 61v2m0 2v1m0 6v1m0 21v1M735.5 434v4m0 1v2m0 2v2m0 10v4m0 5v1m0 7v2m0 57v4m0 2v2m0 3v2m0 1v4m0 18v2m0 1v2M736.5 424v3m0 3v3m0 1v3m0 3v1m0 1v2m0 5v2m0 1v3m0 6v10m0 1v2m0 3v2m0 54v1m0 2v2m0 3v2m0 2v1m0 15v1m0 7v2m0 1v1M737.5 427v3m0 5v4m0 7v2m0 8v2m0 3v3m0 3v2m0 1v2m0 49v1m0 3v2m0 5v1m0 1v1m0 1v2m0 1v1m0 3v4m0 2v4m0 2v1m0 12v2M738.5 429v3m0 1v6m0 5v5m0 1v1m0 3v3m0 5v2m0 6v7m0 60v4m0 4v1m0 18v1M739.5 426v4m0 13v5m0 4v1m0 3v1m0 81v1m0 6v1m0 5v2m0 10v3M740.5 437v2m0 2v5m0 10v2m0 2v1m0 10v1m0 5v4m0 63v3m0 3v2m0 14v1M741.5 428v1m0 8v3m0 4v3m0 6v1m0 8v1m0 6v2m0 64v3M742.5 422v2m0 12v1m0 5v1m0 3v1m0 11v3m0 2v2m0 76v2m0 13v2M743.5 427v3m0 1v4m0 3v9m0 3v2m0 1v2m0 6v1m0 6v5m0 8v1m0 47v2m0 10v1m0 7v2m0 5v1m0 9v2m0 3v1M744.5 432v4m0 5v1m0 11v2m0 2v2m0 14v1m0 3v2m0 69v3m0 16v1M745.5 429v1m0 5v1m0 8v6m0 2v3m0 3v3m0 2v3m0 3v3m0 65v2M746.5 429v3m0 7v5m0 4v1m0 2v8m0 3v4m0 1v4m0 1v4m0 90v1M747.5 428v3m0 3v3m0 7v2m0 11v4m0 2v4m0 5v2M748.5 420v6m0 6v1m0 6v5m0 1v10m0 1v7m0 2v6m0 9v2m0 6v1m0 55v1M749.5 421v3m0 3v2m0 4v7m0 8v4m0 2v1m0 2v1m0 2v2m0 1v2m0 5v1m0 1v4m0 3v2M750.5 424v2m0 3v3m0 2v1m0 2v1m0 5v9m0 6v3m0 2v1m0 2v5m0 2v2m0 4v1M751.5 425v1m0 15v1m0 2v6m0 3v1m0 3v1m0 3v3m0 2v2m0 4v3m0 4v1M752.5 425v1m0 8v2m0 6v3m0 3v4m0 4v4m0 2v6m0 1v5M753.5 424v1m0 5v1m0 11v2m0 7v1m0 6v5m0 3v1m0 10v4M754.5 425v3m0 5v2m0 3v2m0 6v2m0 4v2m0 1v4m0 3v7M755.5 421v1m0 5v6m0 7v7m0 1v4m0 3v4m0 6v3m0 6v8M756.5 425v4m0 4v4m0 9v1m0 3v5m0 6v5m0 3v1M757.5 443v3m0 14v5m0 2v2m0 3v2M758.5 423v1m0 4v5m0 9v4m0 7v4m0 2v2m0 2v6m0 4v1M759.5 422v2m0 2v7m0 10v1m0 3v3m0 4v2m0 25v2M760.5 424v4m0 6v2m0 7v1m0 3v5m0 8v1m0 6v5m0 8v1M761.5 434v2m0 2v2m0 1v4m0 6v4m0 1v3m0 5v2m0 7v1M762.5 431v2m0 4v2m0 4v3m0 2v3m0 24v1m0 1v1M763.5 443v1m0 2v2m0 4v2m0 4v3M764.5 423v3m0 2v4m0 6v3m0 5v2m0 10v3m0 9v1M765.5 439v3m0 23v2m0 4v1M766.5 436v2m0 21v2m0 4v2m0 1v5M767.5 435v3m0 19v5m0 7v4M768.5 427v1m0 4v2m0 8v2m0 8v2m0 5v2m0 6v5M769.5 424v2m0 2v2m0 1v1m0 9v4m0 2v3m0 1v3m0 2v1m0 8v8M770.5 427v6m0 2v3m0 2v4m0 3v3m0 9v4m0 3v1m0 1v3m0 1v3m0 3v1M771.5 439v3m0 20v2M772.5 424v1m0 8v1m0 6v1m0 18v1m0 8v2m0 6v1m0 2v1M773.5 434v3m0 6v4m0 2v1m0 3v1m0 11v1m0 2v3m0 4v1m0 2v1M774.5 432v1m0 6v2m0 1v1m0 4v2m0 1v4m0 3v3m0 5v1m0 3v9M775.5 441v2m0 14v4m0 13v2M776.5 426v1m0 2v3m0 4v8m0 3v5m0 2v2m0 4v2m0 8v2m0 1v1M777.5 431v2m0 2v2m0 6v2m0 13v2m0 3v1m0 6v1m0 6v1M778.5 425v2m0 4v5m0 2v3m0 7v3m0 1v8m0 1v13m0 5v2M779.5 440v7m0 2v4m0 5v5m0 7v2m0 2v2m0 3v1M780.5 427v2m0 10v4m0 6v4m0 8v1m0 2v5m0 2v1M781.5 427v2m0 3v1m0 12v3m0 5v4m0 1v3m0 11v3m0 6v1M782.5 423v2m0 5v2m0 3v1m0 6v2m0 2v3m0 12v2m0 4v2m0 3v4M783.5 426v1m0 2v3m0 4v1m0 2v2m0 5v3m0 3v4m0 4v2m0 11v2M784.5 420v1m0 5v2m0 13v2m0 9v3m0 3v1m0 2v3m0 1v4m0 3v1m0 2v1M785.5 425v4m0 1v5m0 2v1m0 2v2m0 1v1m0 6v7m0 4v1m0 1v5m0 5v5m0 3v2M786.5 428v1m0 4v2m0 3v6m0 1v2m0 1v1m0 6v3m0 8v1m0 14v1M787.5 426v3m0 2v13m0 3v2m0 15v2m0 3v4M788.5 426v2m0 4v7m0 19v7m0 4v1M789.5 425v2m0 4v1m0 6v2m0 3v2m0 12v7m0 8v3M790.5 415v1m0 9v2m0 10v3m0 12v2m0 3v6m0 2v1m0 6v1M791.5 389v1m0 11v1m0 11v2m0 11v4m0 3v4m0 4v2m0 7v2m0 2v2m0 6v2m0 3v1m0 3v3M792.5 390v2m0 16v4m0 3v2m0 6v1m0 4v12m0 3v3m0 4v2m0 13v1m0 4v2m0 3v1M793.5 386v1m0 11v1m0 6v1m0 12v2m0 1v2m0 5v3m0 3v3m0 2v1m0 8v2m0 8v3m0 7v5m0 2v3M794.5 430v3m0 6v1m0 6v1m0 19v2m0 3v2m0 2v1M795.5 406v2m0 5v1m0 2v3m0 1v5m0 6v2m0 1v1m0 20v4m0 8v3m0 6v1M796.5 396v2m0 7v1m0 2v1m0 5v2m0 6v8m0 5v1m0 8v2m0 4v1m0 3v5m0 6v3m0 3v3m0 7v1M797.5 394v1m0 4v1m0 5v2m0 6v1m0 2v2m0 6v3m0 7v2m0 4v3m0 5v1m0 7v2m0 3v2m0 8v2m0 1v1m0 6v1M798.5 386v1m0 1v3m0 6v2m0 1v4m0 20v2m0 2v3m0 12v6m0 3v2m0 2v2m0 2v13m0 2v2m0 5v1M799.5 398v1m0 36v1m0 7v2m0 2v3m0 2v3m0 4v1m0 2v2m0 4v2m0 3v3M800.5 387v5m0 2v4m0 5v2m0 5v16m0 10v2m0 2v5m0 9v2m0 5v7m0 1v6M801.5 389v3m0 8v1m0 3v1m0 8v1m0 2v1m0 4v1m0 2v1m0 9v2m0 4v2m0 16v2m0 6v1m0 1v3M802.5 388v2m0 7v4m0 10v2m0 2v2m0 4v4m0 8v3m0 2v5m0 1v2m0 1v3m0 2v2m0 1v2m0 7v6m0 8v1M803.5 386v3m0 4v6m0 13v2m0 1v1m0 4v2m0 9v6m0 7v4m0 5v4m0 2v1m0 1v8m0 4v2M804.5 394v2m0 13v2m0 11v4m0 9v1m0 11v2m0 6v8m0 3v5M805.5 396v3m0 3v1m0 4v2m0 4v2m0 9v3m0 3v3m0 2v4m0 1v5m0 2v2m0 15v4m0 8v1M806.5 386v4m0 4v5m0 2v3m0 2v3m0 3v2m0 4v5m0 1v5m0 11v1m0 15v2m0 2v3m0 1v1m0 3v3m0 2v1M807.5 387v3m0 12v2m0 3v1m0 11v5m0 2v5m0 4v1m0 31v3m0 8v1M808.5 386v2m0 19v2m0 4v2m0 3v1m0 1v5m0 7v1m0 7v2m0 3v2m0 5v2m0 5v3m0 3v3m0 2v1m0 7v3M809.5 388v2m0 2v2m0 2v2m0 2v1m0 6v2m0 1v1m0 3v1m0 7v1m0 4v1m0 14v4m0 4v4m0 11v2m0 12v1M810.5 387v1m0 14v4m0 1v1m0 3v2m0 3v1m0 1v2m0 1v1m0 6v1m0 4v2m0 4v1m0 2v1m0 5v1m0 16v1m0 6v1m0 3v1M811.5 393v7m0 1v1m0 7v6m0 2v3m0 10v1m0 1v2m0 1v3m0 3v4m0 1v7m0 3v1m0 3v6m0 3v2m0 2v4m0 3v3m0 16v1M812.5 386v1m0 2v2m0 2v14m0 10v5m0 5v11m0 5v2m0 6v5m0 1v2m0 5v4m0 3v7m0 4v1m0 31v1m0 23v1m0 12v2m0 2v1m0 22v2M813.5 386v1m0 2v3m0 24v2m0 3v5m0 1v1m0 5v4m0 2v2m0 4v3m0 3v7m0 4v2m0 2v1m0 2v4m0 11v1m0 56v1m0 3v1m0 51v3M814.5 389v6m0 1v1m0 7v1m0 2v2m0 2v3m0 4v3m0 13v6m0 19v3m0 11v3m0 91v1m0 1v2M815.5 389v3m0 1v1m0 4v1m0 11v1m0 6v3m0 3v1m0 2v4m0 5v3m0 2v2m0 4v2m0 8v1m0 13v2m0 2v1m0 40v1m0 27v2m0 35v2m0 6v2M816.5 394v1m0 2v5m0 1v1m0 15v4m0 3v3m0 2v5m0 6v3m0 1v1m0 2v2m0 4v5m0 5v1m0 11v1m0 31v2m0 14v2m0 10v2m0 2v1m0 7v1m0 4v1m0 13v2M817.5 390v3m0 7v1m0 12v1m0 1v1m0 6v2m0 8v4m0 1v7m0 1v2m0 2v2m0 3v2m0 3v3m0 6v6m0 30v1m0 14v1m0 5v4m0 3v1m0 17v3M818.5 398v2m0 3v2m0 6v4m0 6v3m0 3v11m0 9v1m0 6v1m0 6v4m0 4v3m0 2v1m0 6v2m0 14v1m0 26v1m0 7v2m0 9v2m0 6v1m0 27v1m0 11v3M819.5 403v3m0 2v1m0 2v3m0 4v5m0 7v4m0 9v1m0 1v3m0 3v1m0 11v3m0 4v4m0 7v1m0 44v3m0 6v3m0 1v3m0 2v1m0 26v2m0 1v1m0 20v2M820.5 387v3m0 9v1m0 7v3m0 2v3m0 2v3m0 32v2m0 3v2m0 14v2m0 2v1m0 23v2m0 14v1m0 6v4m0 22v4m0 12v3m0 11v2m0 6v2M821.5 394v1m0 2v1m0 3v2m0 51v2m0 7v1m0 3v2m0 5v1m0 3v1m0 11v1m0 2v1m0 4v1m0 2v2m0 11v3m0 8v1m0 34v1m0 31v1M822.5 387v3m0 67v1m0 2v5m0 7v2m0 3v1m0 5v1m0 12v3m0 1v3m0 8v2m0 16v4m0 15v2m0 1v2m0 15v1m0 2v2m0 7v1m0 7v1m0 7v1M823.5 466v4m0 2v3m0 2v1m0 5v1m0 2v4m0 3v3m0 11v2m0 1v2m0 15v1m0 3v2m0 3v1m0 4v3m0 1v1m0 20v2m0 5v2m0 5v1m0 2v1m0 4v3m0 12v1M824.5 465v7m0 1v2m0 3v1m0 5v7m0 5v4m0 6v1m0 16v2m0 3v4m0 3v4m0 1v2m0 1v4m0 3v1m0 3v5m0 6v5m0 17v5m0 4v5M825.5 469v3m0 5v2m0 9v7m0 3v1m0 14v1m0 3v2m0 2v2m0 7v2m0 13v2m0 13v1m0 8v1m0 16v8m0 3v1M826.5 485v6m0 2v2m0 5v3m0 4v2m0 7v2m0 1v2m0 2v1m0 2v1m0 2v3m0 5v6m0 1v2m0 5v1m0 15v3m0 1v5m0 5v1m0 3v1M827.5 476v1m0 4v1m0 4v1m0 12v1m0 6v6m0 1v1m0 6v3m0 1v4m0 3v3m0 2v2m0 2v1m0 3v1m0 8v4m0 1v2m0 1v2m0 2v4m0 9v1m0 2v2m0 6v1m0 7v1M828.5 471v1m0 3v2m0 1v2m0 5v1m0 13v3m0 7v4m0 16v1m0 14v1m0 13v1m0 3v2m0 6v2m0 7v3m0 8v1m0 3v2m0 1v1M829.5 471v3m0 1v2m0 16v3m0 5v4m0 1v3m0 1v1m0 11v1m0 6v3m0 3v3m0 3v1m0 2v1m0 8v6m0 13v2m0 6v2m0 1v3m0 4v3m0 2v2M830.5 475v8m0 2v2m0 17v4m0 6v2m0 4v1m0 2v8m0 1v1m0 6v3m0 3v2m0 4v1m0 4v2m0 2v3m0 4v3m0 4v2m0 4v4m0 7v2M831.5 472v2m0 5v3m0 13v2m0 7v5m0 1v1m0 4v2m0 5v2m0 3v2m0 22v2m0 8v2m0 1v3m0 7v2m0 9v1m0 5v1m0 7v3M832.5 472v1m0 3v3m0 4v2m0 3v3m0 1v5m0 5v3m0 8v4m0 1v4m0 1v3m0 2v2m0 2v4m0 10v3m0 7v1m0 2v2m0 1v6m0 3v2m0 8v6m0 4v7m0 1v5M833.5 494v4m0 8v1m0 35v2m0 16v2m0 6v4m0 2v1m0 11v1m0 2v2m0 2v2m0 6v1M834.5 477v1m0 6v1m0 2v3m0 5v6m0 2v2m0 13v4m0 3v1m0 13v2m0 11v4m0 3v2m0 2v4m0 1v4m0 8v4m0 4v3M835.5 474v9m0 9v3m0 2v2m0 7v1m0 2v1m0 14v3m0 1v6m0 19v1m0 9v2m0 9v4m0 4v2m0 13v1M836.5 476v1m0 3v1m0 7v4m0 9v1m0 3v3m0 5v3m0 34v2m0 5v1m0 3v1m0 2v3m0 6v2m0 23v3M837.5 476v2m0 22v2m0 4v3m0 9v2m0 6v1m0 22v1m0 7v3m0 6v2m0 3v5m0 13v8M838.5 475v1m0 1v2m0 4v5m0 2v4m0 4v1m0 5v2m0 5v3m0 5v7m0 3v3m0 7v3m0 3v2m0 10v1m0 3v2m0 22v1M839.5 477v5m0 9v1m0 2v7m0 6v5m0 1v1m0 9v6m0 2v2m0 2v1m0 2v1m0 5v2m0 5v1m0 4v5m0 2v3m0 2v4m0 7v2m0 2v1m0 4v2m0 3v5M840.5 478v1m0 6v2m0 28v1m0 12v1m0 8v1m0 23v1m0 5v1m0 20v4M841.5 489v3m0 9v1m0 23v6m0 4v2m0 5v1m0 2v1m0 3v3m0 17v1m0 7v2m0 14v3M842.5 494v2m0 26v1m0 7v2m0 6v4m0 30v1m0 19v2m0 5v1M843.5 476v3m0 3v1m0 4v8m0 21v2m0 1v1m0 3v4m0 6v2m0 4v3m0 4v2m0 3v1m0 2v1m0 5v2m0 9v2m0 6v3m0 10v2m0 5v4M844.5 476v8m0 8v5m0 8v3m0 8v3m0 6v3m0 8v1m0 3v2m0 4v2m0 2v1m0 4v1m0 3v2m0 9v2m0 3v3m0 3v3m0 3v4m0 8v1M845.5 478v2m0 19v3m0 16v5m0 29v2m0 12v3m0 7v3m0 8v3M846.5 477v8m0 3v6m0 36v4m0 3v1m0 6v1m0 2v1m0 15v3m0 1v3m0 5v1m0 3v1m0 3v2m0 4v3m0 4v2M847.5 496v1m0 5v2m0 11v2m0 31v1m0 8v1m0 16v3m0 11v4M848.5 485v2m0 4v1m0 11v2m0 2v1m0 30v1m0 43v1m0 1v1m0 4v1M849.5 483v2m0 10v3m0 19v2m0 5v3m0 3v3m0 4v1m0 2v2m0 3v2m0 4v3m0 2v3m0 15v1m0 7v1M850.5 481v1m0 12v4m0 14v2m0 1v1m0 5v2m0 5v2m0 1v3m0 14v8m0 22v1m0 14v1M851.5 480v1m0 12v1m0 17v1m0 2v6m0 3v1m0 13v3m0 9v1m0 3v2m0 4v1m0 2v5m0 10v1m0 4v1m0 2v1m0 5v2M852.5 486v3m0 5v1m0 22v7m0 10v1m0 3v2m0 3v2m0 15v2m0 14v11M853.5 483v2m0 3v1m0 4v6m0 9v2m0 5v2m0 7v7m0 12v3m0 14v2m0 2v2m0 2v2m0 5v7m0 2v1m0 1v4M854.5 485v2m0 10v2m0 6v1m0 1v2m0 2v2m0 6v2m0 9v2m0 21v1m0 2v3m0 2v1m0 5v8m0 7v4M855.5 488v4m0 12v2m0 5v5m0 5v3m0 9v1m0 12v3m0 11v4m0 10v1M856.5 489v1m0 6v2m0 5v2m0 9v3m0 1v1m0 6v2m0 11v3m0 1v2m0 5v1m0 5v3m0 20v2M857.5 508v2m0 7v2m0 14v1m0 8v1m0 27v2m0 4v1m0 8v2M858.5 500v2m0 10v2m0 8v1m0 11v3m0 8v2m0 25v1m0 6v1M859.5 518v1m0 8v1m0 18v3m0 10v2m0 5v2M860.5 516v2m0 9v2m0 4v2m0 12v2m0 3v2m0 12v1m0 15v1M861.5 504v3m0 1v1m0 9v2m0 12v1m0 2v3m0 11v4m0 3v3m0 8v1M862.5 504v2m0 3v1m0 22v1m0 40v2m0 4v1M863.5 504v1m0 7v3m0 7v2m0 5v5m0 7v2m0 3v3M864.5 520v3m0 7v2m0 6v2m0 3v2m0 2v1m0 10v4m0 4v3M865.5 519v2m0 9v3m0 20v5M866.5 545v3m0 1v4m0 4v1M867.5 538v2m0 9v1M868.5 541v1"/>
<rect x="739.0" y="386.0" width="11" height="11.1" fill="url(#boxg)"/>
<rect x="727.8" y="397.1" width="11" height="11.1" fill="url(#boxg)"/>
<rect x="716.5" y="408.2" width="11" height="11.1" fill="url(#boxg)"/>
<rect x="705.3" y="419.3" width="11" height="11.1" fill="url(#boxg)"/>
<rect x="694.1" y="430.4" width="11" height="11.1" fill="url(#boxg)"/>
<rect x="682.9" y="441.5" width="11" height="11.1" fill="url(#boxg)"/>
<rect x="671.6" y="452.6" width="11" height="11.1" fill="url(#boxg)"/>
<rect x="660.4" y="463.7" width="11" height="11.1" fill="url(#boxg)"/>
<rect x="649.2" y="474.8" width="11" height="11.1" fill="url(#boxg)"/>
<rect x="637.9" y="485.9" width="11" height="11.1" fill="url(#boxg)"/>
<rect x="626.7" y="497.0" width="11" height="11.1" fill="url(#boxg)"/>
<rect x="615.5" y="508.1" width="11" height="11.1" fill="url(#boxg)"/>
<rect x="604.2" y="519.2" width="11" height="11.1" fill="url(#boxg)"/>
<rect x="593.0" y="530.3" width="11" height="11.1" fill="url(#boxg)"/>
<path fill="#fff" d="M586 386L739 386L739 397.1L727.77 397.1L727.77 408.2L716.54 408.2L716.54 419.3L705.31 419.3L705.31 430.4L694.08 430.4L694.08 441.5L682.85 441.5L682.85 452.6L671.62 452.6L671.62 463.7L660.39 463.7L660.39 474.8L649.16 474.8L649.16 485.9L637.93 485.9L637.93 497L626.7 497L626.7 508.1L615.47 508.1L615.47 519.2L604.24 519.2L604.24 530.3L593.01 530.3L593.01 541.4L586 541.4Z"/>
</svg>
<path d="M641.5 386V669M695.5 386V669M750.5 386V669M805.5 386V669M859.5 386V669M586 443.5H914M586 499.5H914M586 556.5H914M586 612.5H914" stroke="#000" stroke-opacity=".15" stroke-width="1" fill="none"/>
<rect x="585.5" y="385.5" width="329" height="284" fill="none" stroke="#6a6a6a" stroke-width="1"/>
<text x="575.5" y="394.1" text-anchor="end" textLength="28.4" lengthAdjust="spacingAndGlyphs">500</text>
<text x="575.5" y="451.3" text-anchor="end" textLength="28.4" lengthAdjust="spacingAndGlyphs">450</text>
<text x="575.5" y="504.5" text-anchor="end" textLength="28.4" lengthAdjust="spacingAndGlyphs">400</text>
<text x="575.5" y="557.7" text-anchor="end" textLength="28.4" lengthAdjust="spacingAndGlyphs">350</text>
<text x="575.5" y="614.8" text-anchor="end" textLength="28.4" lengthAdjust="spacingAndGlyphs">300</text>
<text x="575.5" y="672.1" text-anchor="end" textLength="28.4" lengthAdjust="spacingAndGlyphs">250</text>
<text x="569.5" y="692.8" textLength="28.4" lengthAdjust="spacingAndGlyphs">400</text>
<text x="624.4" y="692.8" textLength="28.4" lengthAdjust="spacingAndGlyphs">450</text>
<text x="679.2" y="692.8" textLength="28.4" lengthAdjust="spacingAndGlyphs">500</text>
<text x="734" y="692.8" textLength="28.4" lengthAdjust="spacingAndGlyphs">550</text>
<text x="788.9" y="692.8" textLength="28.4" lengthAdjust="spacingAndGlyphs">600</text>
<text x="843.8" y="692.8" textLength="28.4" lengthAdjust="spacingAndGlyphs">650</text>
<text x="898.6" y="692.8" textLength="28.4" lengthAdjust="spacingAndGlyphs">700</text>
<text x="645" y="712.9" textLength="206.5" lengthAdjust="spacingAndGlyphs"><tspan font-weight="bold">Emission Wavelength</tspan> (nm)</text>
<text transform="translate(532.7 635.9) rotate(-90)" textLength="181.2" lengthAdjust="spacingAndGlyphs" font-weight="bold">Excitation Wavelength</text>
<text transform="translate(532.7 441.8) rotate(-90)" textLength="35.4" lengthAdjust="spacingAndGlyphs">(nm)</text>
<text class="lb" x="595.5" y="419.8">S2-S</text>
<text x="703.7" y="741.9" textLength="36.5" lengthAdjust="spacingAndGlyphs" class="cp">(<tspan font-weight="bold">b2</tspan>)</text>
<svg x="72" y="759" width="327" height="275" viewBox="72 759 327 275" overflow="hidden">
<g fill-rule="evenodd">
<path fill="#0000af" d="M303.5 989.5l-2-1-1-4-1-1-1-8-1-1 0-7-2-3-1 1 0 3-1 1-1 6-12 14-208 0 0-77 26-32 6 0 1-1 12 0 1-1 12 0 1-1 12 0 1-1 95 0 1 1 18 0 1 1 9 0 22 22 1 6 1 1 0 3 1 1 0 3 2 2 1-1 0-12 1-1 0-7 1-1 0-4 1-1 0-3 1-1 1-4 2-1 3 6 1 8 1 1 0 7 1 1 0 12 1 1 0 22 0 15-1 1 0 12-1 1 0 7-1 1 0 4-1 1-1 6-2 3z"/>
<path fill="#0000d0" d="M272.5 988l-200 0 0-75.5 25-30 2-1 47-3.5 91 0 3 1 15 0 3 0.5 8 0.5 20.5 21.5 3.5 15 3 4.5 7 4.5 1.5 12-1 11-1.5 7-4 2.5-3.5 3.5-3.5 12-3 4-7 8-6 2.5z"/>
<path fill="#0000f1" d="M270.5 986l-198 0 0-72 26-31 8 0 1-1 17 0 1-1 16 0 1-1 4 0 91 0 2 1 16 0 1 1 8 0 18.5 20.5 0 2 1 1 0 4 1 1 0 3 1 1 0.5 4 1 1 0 4 1 1 0 3 3.5 11-1 7-3 9-0.5 3-1 1 0 3-1 1 0 3-1 1-1 6-13 13.5z"/>
<path fill="#0013ff" d="M156.5 978.5l-84 0 0-61 18-16 8-2.5 1-1 2 0 1-1 4-1 3-2 2 0 3-2 2 0 3-1.5 41-1 1-1 25 0 1-1 23 0 2 1 19 0 3 1 10 1 16.5 11 8 19 0 2-4 22-11.5 16.5-6 3.5-17 7.5-6 0.5-3 1-10 0-1 1-13 0-1 1-12 0-1 1-12 0-1 1-13 0-1 1z"/>
<path fill="#0034ff" d="M155.5 976.5l-83 1 0-59.5 18-16 30-10.5 85-2.5 15 2 10 0 11 2 12 7.5 4.5 4 6.5 16-0.5 5-4 18-9.5 14-4 3.5-4 2.5-8 3.5-17 4.5-42 4-16 0.5-4 0.5z"/>
<path fill="#0054ff" d="M132.5 976.5l-60 0 0-58.5 18-16 8-2 1-1 2 0 1-1 3 0 7-3 3-0.5 4-1.5 21-0.5 1-1 39 0 1-1 24 0 1 1 11 0 1 1 11 0 1 1 5 0 7 4 11 8 7 16 0 2-1 1 0 3-1.5 4-2.5 10-2 4.5-6 8-7 7.5-4 2-2 0-1 1-5 1-3 2-8 2-1 1-6 0-1 1-22 1-1 1-10 0-1 1-17 0-1 1-24 0-1 1z"/>
<path fill="#0075ff" d="M132.5 976l-60 0 0-57.5 18-16 11-3.5 1-0.5 3-0.5 7-2.5 3-0.5 4-2 20 0 2-1 38 0 2-1 24 0 1 1 11 0 1 1 11 0 1 1 5 0 4 2 13.5 9.5 5 11 0 2 2 3 0 2-3 8 0 3-2 4 0 3-2 4-12.5 15.5-24 9-6 0-1 1-22 1-1 1-10 0-1 1-17 0-1 1-23 0-2 1z"/>
<path fill="#0096ff" d="M132.5 975l-60 0 0-56 18-16 30-9 19 0 3-1 36 0 4-1 22 0 3 1 9 0 3 1 9 0 7 1 16.5 10.5 7 16 0 2-6 20-3 5-9.5 11.5-4 2-20 7-5 0-3 1-20 1-3 1-8 0-3 1-15 0-3 1-22 0-2 1z"/>
<path fill="#00b7ff" d="M133.5 974l-2 0.5-59 0 0-55 19-16.5 29-8.5 19 0 3-1 37 0 3-1 22 0 3 1 9 0 3 1 9 0 6 1 4 1.5 13.5 9.5 6.5 16-6.5 22-12.5 15.5-23 8-5 0.5-3 1-20 1-3 1-8 0-3 1-41 1.5z"/>
<path fill="#00d8ff" d="M131.5 973.5l-59 0 0-53 18-16 30-9 83-2 4 1 9 0 3 1 9 0 7 1 14 9 2 2 6 14 0 2-6 20-10.5 14-2.5 2-22 8-6 0.5-2 0.5-20 1-3 1-9 0.5-2 0.5-15 0-4 1-21 0-3 1z"/>
<path fill="#00f9ff" d="M132.5 973l-60 0 0-51 18-17 11-3 1-1 3 0 7-3 3 0 4-2 21 0 1-1 2 0 37 0 2-1 21 0 2 0 1 1 10 0 2 1 10 0 2 1 5 0 15.5 10.5 2 4 0 2 2 3 0 2 2 3 0 2-1 1 0 3-2 4 0 3-2 4 0 3-1 2-12.5 15.5-10 3-3 2-2 0-7 3-6 0-1 1-22 1-1 1-10 0-2 1-16 0-2 1-23 0-1 1z"/>
<path fill="#1bffe4" d="M132.5 972.5l-60 0 0-49 10-8 8-9.5 2-1 6-1.5 1-1 2 0 1-1 3 0 4-2 2 0 1-1 3 0 4-2 21 0 1-1 39 0 1-1 21 0 3 0 1 1 10 0 2 1 10 0.5 2 1 4 0 9 5.5 6.5 5 5 14-1 4-6.5 16-5 6-4 7-3 2.5-19 8-6 0.5-1 1-22 1-1 1-10 0-1 1-17 0.5-1 0.5-24 0.5-1 0.5z"/>
<path fill="#3cffc3" d="M132.5 971.5l-36 0.5-24-2.5 0-39.5 5-1.5 10-6 3.5-10 3.5-4 10-4.5 17-4.5 28-2 37-0.5 29 2 17 3 8 4.5 5 5 1.5 8-1 5-5.5 8.5-4 4.5-4 3-1.5 7-2 3-6 7-5.5 4-10 3-20 2.5-2 1-29 2.5-23 0.5-1 0.5z"/>
<path fill="#5dffa2" d="M131.5 971l-35 0-1-0.5-7 0-1-1-7-1-8-2 0-29.5 15-5 20-4.5-7-4-4.5-6-0.5-2 1-4 5-3.5 19-5 13-1 2-1 12 0 2-1 37 0 2 0.5 12 0 25 4 9 3 5.5 4 1 4-0.5 2-5 6-5 3-13 5.5-19 2.5 2 0 10 5 6 5 2.5 5 0 2-1 4-4.5 4-11 3.5-12 2.5-5 0-1 1-13 1-1 1-8 0-1 0.5-11 0.5-1 0.5-17 0.5-1 0.5z"/>
<path fill="#7eff81" d="M127.5 970.5l-31 0-1-1-7 0-1-1-3 0-1-1-3 0-1-1-7-2 0-23 7-2 1-1 3 0 1-1 3 0 2-1 6 0 1-1 31 0 5 1 28 1.5 2 1 15 1.5 12 2.5 11 5 5 4.5 0 1-5 4.5-7.5 3.5-9.5 3-17 2.5-4 0-2 1-28 1.5-5 1z"/>
<path fill="#9fff60" d="M127.5 970l-31 0-1-1-6 0-1-1-8-1-3-2-4-1-1-1 0-2.5 0-17.5 8-4 8-1 1-1 6 0 1-1 31 0 1 1 24 1 1 1 7 0 1 1 5 0.5 1 0.5 4 0.5 1 1 7 1.5 8 3.5 4 2.5 2 2.5-1.5 3-6.5 4-9 3.5-4 0.5-1 1-10 1.5-1 1-7 0-1 1-24 1-1 1z"/>
<path fill="#c0ff3f" d="M130.5 968.5l-4 1-30 0-15.5-3-7.5-3-1-1 0-2 0-17 8.5-4 15.5-3 30 0 5 1 20 1.5 2 1 12 2 9 3 6.5 3.5 4.5 4-1 2-6 5-8 3-11 3-21 3-8 0z"/>
<path fill="#e1ff1e" d="M126.5 968.5l-34 0-1-1-9-1-8-3-2-2 0-17 2-2 2 0 3-2 7-2 5 0 1-1 34 0 4 1 8 0 13 1.5 19 5.5 6.5 4 2 3-2 4-6.5 4-19 5.5-13 1.5-8 0-4 1z"/>
<path fill="#fffc00" d="M129.5 968l-37 0-1-0.5-9-1.5-6-2.5-2-0.5-2-1.5 0-17 2-1.5 2-0.5 3-1.5 6-1.5 1-0.5 5-0.5 1-0.5 26-0.5 11 0.5 1 1 8 0 1 0.5 6 0.5 1 1 5 0 1 1 3 0 1 0.5 3 0.5 1 1 5 1 4 1.5 5 5 0 3-5 5-7 2.5-2 0-1 1-7 1-1 1-12 1.5-1 0.5-8 0-1 1z"/>
<path fill="#ffdb00" d="M129.5 968l-37 0-1-1-9-1-6-3-2 0-2-2 0-16 2-2 2 0 6-3 9-1 1-1 5 0 32 0 1 1 8 0 1 1 6 0.5 1 0.5 5 0.5 1 1 3 0 1 1 3 0 9 4.5 3.5 3.5 0.5 2-3 4-10 5-3 0-1 1-3 0-1 1-12 1.5-1 1-8 0-1 1z"/>
<path fill="#ffba00" d="M128.5 967.5l-36 0-1-0.5-5-0.5-1-0.5-6-1.5-3-1.5-2-0.5-2-1.5 0-16 2-1.5 2-0.5 6-2.5 9-1.5 1-0.5 5-0.5 31.5 0.5 1.5 1 7 0 2 1 5 0.5 14 4 6 3.5 4 3 0.5 2-1.5 2-9 5.5-8 3-11 1.5-2 1-7 0-2 1z"/>
<path fill="#ff9900" d="M128.5 967l-32 0.5-9-1-8-2-5-2-2-2 0-15 2-2 5-2 8-2 9-1 31 0.5 3 1 7 0 13 3.5 10 5 4.5 4-0.5 1.5-7 5.5-7 3-13 3.5-9 1z"/>
<path fill="#ff7800" d="M127.5 966.5l-31 0.5-9-1-10-3-5-2.5 0-15 8-3.5 7-2 9-1 30 0.5 11 1.5 12 3 8 4.5 2 2 1.5 2-1.5 3-2 2-8 4.5-12 3-10 1.5z"/>
<path fill="#ff5700" d="M118.5 966.5l-22 0-8-1-13-4-3-1.5 0-14 8-3.5 16-3 30 0.5 10 1.5 13 3.5 6.5 4.5 2 3-1 3-3.5 3-4 2.5-6 2-17 3-8 0.5z"/>
<path fill="#ff3600" d="M126.5 965.5l-7 0-1 1-22 0-16-3-8-4 0-13 8-4 16-3 22 0 1 1 7 0 6 1 11 2.5 5 2 5 3.5 2 3-1 3-6 4.5-5 2-17 3.5z"/>
<path fill="#ff1500" d="M118.5 966l-22 0-1-1-7 0-1-1-3 0-1-1-6-1-5-3 0-12 8-4 7-1 1-1 7 0 1-1 22 0 1 1 7 0 1 0.5 5 0.5 1 0.5 3 0 1 1 6 1 4 2 5 4 1 3-1 2-5 4-4 2-6 1-1 1-3 0-1 0.5-5 0.5-1 0.5-7 0-1 1z"/>
<path fill="#f30000" d="M118.5 965.5l-22 0-1-1-7 0-1-1-3 0-1-1-6-1-5-3 0-11 8-4 7-1 1-1 7 0 1-1 22 0 1 1 7 0 1 1 5 0 1 1 3 0 1 1 6 1 4 2 4.5 4 0 3-4.5 4-4 2-6 1-1 1-3 0-1 1-5 0-1 1-7 0-1 1z"/>
<path fill="#d20000" d="M115.5 962.5l-17 0.5-13-1.5-9-3.5-2-1.5-1.5-3 2.5-2.5 5-2.5 12-2.5 22-0.5 3 1 6 0.5 10 3 3 2.5 0 2-2 3-4 2-7 2-8 1z"/>
<path fill="#b10000" d="M114.5 961l-21 0-1-1-7 0-1-1-3-0.5-3.5-3 0-1 7.5-3.5 7-0.5 2-1 19 0 2 1 6 0 5 1.5 4 2.5 0 1-4 3-4 1.5-7 0-1 1z"/>
<path fill="#900000" d="M113.5 959.5l-23 0-4.5-1-3-3 2.5-2 5-1 29 0 6 2 1 1-1 2-6 2-6 0z"/>
</g>
<path stroke="#0a0a78" stroke-width="1" fill="none" d="M72.5 766v12m0 13v2m0 7v11m0 3v9m0 1v8m0 14v2m0 6v16m0 8v4m0 143v9M73.5 759v24m0 14v33m0 5v37m0 2v28m0 3v3m0 81v19m0 6v19M74.5 759v11m0 4v2m0 5v18m0 5v59m0 2v46m0 82v41M75.5 759v1m0 9v1m0 12v16m0 16v4m0 20v9m0 3v9m0 3v15m0 7v12m0 9v4m0 94v14M76.5 759v2m0 26v6m0 62v2m0 31v3M77.5 759v7m0 2v21m0 12v1m0 20v11m0 13v28m0 14v5m0 4v10m0 107v10M78.5 763v19m0 11v13m0 17v25m0 4v9m0 4v11m0 14v14m0 85v6m0 13v15m0 6v5M79.5 762v9m0 25v7m0 82v3M80.5 792v11m0 3v6m0 40v12m0 6v6m0 10v5m0 122v12m0 4v5M81.5 770v7m0 29v5m0 11v7m0 15v21m0 20v4m0 110v4m0 25v3M82.5 764v6m0 2v32m0 1v22m0 4v47m0 8v6m0 111v6m0 12v13M83.5 759v33m0 4v19m0 3v13m0 2v47m0 2v12m0 98v4m0 7v9m0 3v19M84.5 761v31m0 4v5m0 11v35m0 2v31m0 5v8m0 110v26M85.5 775v11m0 11v17m0 17v6m0 3v6m0 3v48m0 92v4m0 14v23M86.5 762v3m0 34v5m0 6v3m0 10v8m0 16v5m0 6v25m0 8v5m0 97v13m0 8v9M87.5 759v136m0 94v45M88.5 771v40m0 7v1m0 14v19m0 19v22m0 96v19m0 6v8m0 3v7M89.5 761v12m0 4v9m0 2v11m0 8v4m0 6v14m0 14v2m0 5v26m0 12v2m0 97v21m0 8v6m0 2v6M90.5 759v132m0 98v8m0 9v15m0 4v9M91.5 759v20m0 3v108m0 99v10m0 5v19m0 6v5M92.5 759v63m0 6v35m0 11v14m0 101v10m0 4v17m0 5v9M93.5 759v15m0 12v18m0 5v34m0 2v8m0 3v7m0 4v18m0 108v4m0 6v9m0 16v6M94.5 759v46m0 11v70m0 103v22m0 7v5M95.5 759v18m0 1v3m0 4v2m0 10v7m0 19v8m0 11v15m0 10v18m0 108v24m0 1v7M96.5 763v7m0 13v10m0 6v9m0 14v8m0 5v3m0 5v10m0 136v5m0 28v4M97.5 763v4m0 8v7m0 37v8m0 10v7m0 19v14m0 112v6m0 7v8m0 14v10M98.5 759v2m0 15v11m0 5v19m0 17v3m0 16v28m0 2v4m0 108v1m0 9v29M99.5 759v17m0 10v2m0 4v7m0 8v24m0 28v14m0 116v4m0 16v11m0 6v8M100.5 852v3M101.5 759v7m0 5v92m0 7v11m0 125v28M102.5 759v50m0 6v5m0 15v27m0 7v12m0 115v18m0 7v5M103.5 759v5m0 13v34m0 18v14m0 7v2m0 28v1m0 124v10m0 11v7M104.5 766v38m0 10v39m0 12v16m0 108v7m0 5v7m0 10v16M106.5 845v2M107.5 770v13m0 5v1m0 12v2m0 12v1m0 53v11M108.5 770v21m0 7v79m0 112v33m0 6v6M109.5 759v3m0 7v20m0 6v7m0 32v19m0 9v16m0 120v9m0 22v5M110.5 763v10m0 11v19m0 6v66m0 114v2m0 13v4m0 12v4M111.5 759v121m0 109v45M112.5 759v23m0 2v14m0 4v78m0 109v45M113.5 768v8m0 14v15m0 8v13m0 8v24m0 12v8m0 111v3m0 5v4m0 6v9M114.5 759v8m0 2v41m0 5v27m0 3v21m0 5v9m0 112v30m0 7v5M115.5 759v7m0 16v8m0 3v15m0 3v23m0 12v4m0 8v11m0 4v7m0 109v1M116.5 803v7m0 4v7m0 37v6M117.5 765v62m0 3v10m0 6v34m0 109v34M118.5 759v4m0 1v24m0 8v16m0 4v63m0 110v4m0 7v34M119.5 763v8m0 4v10m0 12v9m0 6v5m0 4v14m0 14v27m0 113v4m0 24v17M120.5 759v120m0 110v30m0 2v13M121.5 762v9m0 3v57m0 2v8m0 17v21m0 110v14m0 4v27M122.5 759v48m0 1v71m0 114v41M123.5 759v120m0 110v45M124.5 759v5m0 5v30m0 3v3m0 3v5m0 5v8m0 6v47m0 110v16m0 4v10m0 5v3M125.5 774v4m0 12v6m0 16v1m0 21v6m0 12v17m0 120v4m0 31v3M126.5 759v5m0 3v10m0 12v13m0 12v5m0 23v2m0 9v13m0 123v12m0 15v6M127.5 759v7m0 19v2m0 24v11m0 14v2m0 25v12m0 119v2m0 4v4m0 15v5M129.5 759v4m0 61v3m0 16v7m0 182v2M130.5 761v21m0 10v15m0 3v12m0 8v11m0 5v7m0 8v18m0 119v11m0 16v9M131.5 759v45m0 2v6m0 1v33m0 2v9m0 9v12m0 115v18M132.5 759v6m0 19v24m0 7v29m0 7v3m0 5v6m0 10v3m0 111v10m0 7v28M133.5 827v8m0 27v9M134.5 759v15m0 4v18m0 14v6m0 12v10m0 13v5m0 2v20m0 111v5m0 9v4m0 16v11M135.5 766v41m0 19v3m0 9v12m0 8v10m0 9v1m0 124v7m0 5v20M136.5 766v23m0 7v55m0 5v22m0 111v8m0 4v16m0 6v11M137.5 769v12m0 3v16m0 9v1m0 12v3m0 7v4m0 6v35m0 112v2m0 5v5m0 4v9m0 8v12M138.5 759v28m0 34v27m0 3v19m0 119v14m0 7v21M139.5 759v6m0 29v6m0 7v9m0 16v7m0 13v3m0 20v3m0 111v2m0 29v1m0 11v2M140.5 761v9m0 11v11m0 5v5m0 3v28m0 14v15m0 4v12m0 119v8m0 10v4m0 13v2M141.5 775v6m0 3v3m0 3v3m0 7v6m0 4v11m0 16v20m0 8v13m0 118v14m0 5v9M142.5 759v3m0 18v50m0 6v18m0 4v20m0 111v10M143.5 759v1m0 6v35m0 2v10m0 4v36m0 5v20m0 111v5m0 5v5m0 3v8m0 4v7m0 2v6M144.5 759v7m0 15v19m0 6v4m0 6v7m0 3v7m0 3v40m0 113v8m0 9v28M145.5 759v6m0 17v10m0 12v5m0 7v5m0 5v5m0 19v11m0 128v4m0 30v8M146.5 774v4m0 13v6m0 29v1m0 25v5M147.5 764v2m0 9v4M148.5 759v19m0 3v25m0 9v6m0 2v46m0 120v1m0 2v27m0 2v13M149.5 759v36m0 13v21m0 3v10m0 7v22m0 118v1m0 3v8m0 5v9M150.5 814v4m0 17v4m0 28v2M151.5 765v1m0 9v6m0 59v4m0 29v4m0 117v6M152.5 799v8m0 56v7M153.5 759v6m0 15v4m0 4v7m0 12v2m0 5v10m0 23v8m0 1v14M154.5 759v58m0 4v55m0 123v19m0 7v9M155.5 759v16m0 6v2m0 8v9m0 3v31m0 5v7m0 3v25m0 126v15m0 7v12M156.5 763v21m0 4v14m0 5v17m0 2v20m0 7v9m0 5v10m0 112v5m0 14v17M157.5 759v5m0 22v10m0 5v16m0 20v4m0 29v7m0 123v7m0 17v6M158.5 759v2m0 9v62m0 26v5m0 8v4m0 138v4m0 8v6M159.5 759v9m0 8v26m0 2v38m0 9v3m0 5v18m0 112v26m0 7v12M160.5 759v13m0 5v36m0 4v9m0 6v14m0 8v8m0 10v5m0 123v1m0 20v13M161.5 765v5m0 18v2m0 43v6M162.5 767v3m0 11v11m0 14v8m0 8v17m0 19v19m0 117v3M163.5 759v7m0 5v106m0 112v11m0 4v30M164.5 759v11m0 6v82m0 6v13m0 112v45M165.5 759v16m0 7v9m0 2v18m0 3v8m0 5v7m0 4v39m0 112v13m0 9v21M166.5 759v37m0 1v66m0 2v12m0 112v10m0 6v12m0 15v2M167.5 759v7m0 12v9m0 24v25m0 6v5m0 8v17m0 117v7m0 3v4m0 7v17M168.5 765v2m0 16v5m0 2v4m0 8v13m0 2v7m0 11v4m0 11v13m0 137v2m0 8v4M169.5 759v7m0 6v17m0 16v7m0 18v3m0 4v29m0 8v3M170.5 759v118m0 112v30m0 3v9M171.5 759v24m0 4v41m0 3v28m0 6v12m0 112v28m0 9v7M172.5 759v14m0 14v56m0 1v16m0 4v12m0 113v45M173.5 759v18m0 2v39m0 2v57m0 112v45M174.5 759v22m0 6v47m0 4v16m0 16v7m0 112v35M175.5 759v20m0 5v77m0 9v7m0 112v8m0 6v31M176.5 761v13m0 12v35m0 4v26m0 2v15m0 3v6m0 112v27m0 8v5M177.5 759v68m0 5v45m0 112v45M178.5 759v13m0 3v7m0 3v16m0 5v19m0 6v46m0 112v32M179.5 759v118m0 112v45M180.5 759v29m0 6v5m0 6v29m0 4v39m0 112v21m0 3v8M181.5 759v81m0 5v31m0 113v37m0 5v3M182.5 761v6m0 4v6m0 4v31m0 14v7m0 18v26m0 112v1m0 8v7m0 2v6m0 4v17M183.5 759v10m0 5v25m0 8v6m0 47v12m0 139v21M184.5 799v3m0 17v3m0 49v3m0 152v5M185.5 786v8m0 9v6m0 9v8m0 8v13m0 17v12M186.5 759v5m0 14v38m0 2v24m0 5v11m0 131v8m0 14v5m0 7v11M187.5 761v10m0 14v8m0 15v5m0 18v12m0 3v4M188.5 759v20m0 6v92m0 112v23m0 3v19M189.5 759v10m0 2v93m0 2v11m0 112v22m0 5v18M190.5 763v26m0 16v2m0 4v5m0 7v10m0 25v7m0 11v1m0 113v21m0 8v5M191.5 759v5m0 7v5m0 7v6m0 25v11m0 9v4m0 17v3m0 18v1m0 112v15m0 1v7m0 7v10M192.5 765v19m0 19v22m0 18v9m0 13v12m0 112v2m0 15v18m0 2v7M193.5 759v118m0 112v45M194.5 759v4m0 5v32m0 4v35m0 6v14m0 2v7m0 3v6m0 112v6m0 8v4M195.5 759v4m0 3v111m0 112v29m0 13v3M196.5 759v6m0 36v14m0 13v3m0 10v23m0 125v2m0 3v4m0 9v12m0 9v6M197.5 805v2M198.5 790v8m0 7v7m0 10v3m0 9v7m0 5v2m0 141v6M199.5 784v13m0 19v6m0 13v7m0 3v9m0 135v1m0 10v7m0 7v10M200.5 759v15m0 7v11m0 5v4m0 9v6m0 6v8m0 4v24m0 4v11m0 116v5m0 2v38M201.5 759v34m0 2v10m0 5v67m0 112v4m0 6v26m0 4v5M202.5 763v41m0 11v60m0 114v32M203.5 759v11m0 29v5m0 10v4m0 6v11m0 24v15m0 124v4m0 30v2M204.5 759v2m0 12v6M205.5 759v35m0 13v41m0 5v13m0 5v6m0 112v14m0 1v19m0 7v4M206.5 759v74m0 5v12m0 8v8m0 5v6m0 112v8m0 19v18M207.5 769v18m0 4v13m0 4v24m0 6v3m0 8v19m0 121v6m0 16v11m0 4v4M208.5 784v4m0 21v6m0 38v9m0 150v10M209.5 759v3m0 7v12m0 15v15m0 3v20m0 9v11m0 10v13m0 112v3m0 11v5m0 16v10M210.5 759v118m0 112v24m0 3v18M211.5 759v4m0 12v7m0 10v7m0 12v9m0 18v6m0 6v2m0 166v8m0 1v7M212.5 759v3m0 14v8m0 6v19m0 1v44m0 10v12m0 113v37m0 5v3M213.5 783v13m0 10v1m0 8v15m0 29v7m0 136v1m0 7v7M214.5 770v6m0 213v5M215.5 759v5m0 4v6M216.5 759v4m0 9v4m0 4v4m0 21v14m0 4v5m0 3v5m0 5v3m0 14v8m0 131v9m0 20v8M217.5 759v10m0 35v5m0 2v9m0 38v5m0 5v9m0 118v11m0 8v4m0 14v2M218.5 759v3m0 39v5m0 36v5m0 2v2m0 6v5m0 137v5m0 25v2M219.5 759v13m0 6v41m0 8v25m0 3v22m0 112v6m0 4v22m0 5v8M220.5 769v108m0 112v8m0 1v26M221.5 759v36m0 3v23m0 6v48m0 114v5m0 12v9m0 10v9M222.5 759v118m0 112v3m0 5v6m0 5v8m0 6v12M223.5 759v6m0 6v27m0 4v38m0 9v9m0 6v8m0 117v18m0 3v24M224.5 759v2m0 10v8m0 6v18m0 3v44m0 6v12m0 4v5m0 112v24m0 3v10m0 1v7M225.5 860v4m0 143v4M226.5 864v2M227.5 759v1m0 42v14m0 27v13m0 142v9M228.5 844v2M229.5 759v5m0 31v3m0 36v9m0 21v2m0 163v5M230.5 769v13m0 1v29m0 5v6m0 20v16m0 13v5m0 118v6m0 8v21M231.5 759v39m0 6v9m0 6v29m0 8v21m0 112v30m0 7v8M232.5 759v13m0 17v7m0 5v3m0 33v8m0 11v4m0 16v1m0 112v3m0 15v9m0 15v3M233.5 763v10m0 6v12m0 6v9m0 5v10m0 2v29m0 5v13m0 119v1m0 38v6M234.5 769v12m0 5v55m0 13v23m0 112v9m0 4v6m0 10v6m0 5v5M235.5 759v43m0 7v18m0 5v29m0 5v11m0 112v9m0 4v9m0 5v14M236.5 759v7m0 2v67m0 3v16m0 9v14m0 112v6m0 8v31M237.5 762v4m0 13v7m0 13v2m0 8v29m0 2v1m0 35v1m0 145v1M238.5 777v14m0 5v1m0 16v15m0 6v36m0 145v14M239.5 759v13m0 7v22m0 5v60m0 5v6m0 112v45M240.5 759v15m0 6v61m0 1v36m0 111v4m0 2v20m0 7v12M241.5 765v9m0 23v10m0 7v21m0 11v6m0 10v3m0 3v10m0 143v13M242.5 759v6m0 16v4m0 10v3m0 13v16m0 9v6m0 4v12m0 11v6m0 116v11M243.5 759v23m0 1v11m0 1v83m0 111v45M244.5 759v119m0 111v41M245.5 766v6m0 1v6m0 61v5m0 3v17m0 134v8m0 23v4M246.5 777v3m0 17v2m0 15v4m0 14v1m0 13v20m0 8v4m0 152v4M247.5 762v13m0 9v4m0 6v5m0 11v13m0 3v10m0 27v13m0 137v6m0 12v3M248.5 759v20m0 3v17m0 12v4m0 7v14m0 5v4m0 12v8m0 2v11m0 124v19m0 11v2M249.5 759v6m0 3v75m0 2v5m0 5v23m0 112v31m0 3v10M250.5 764v25m0 7v54m0 3v10m0 6v9m0 111v14m0 20v11M251.5 759v25m0 14v28m0 6v30m0 7v9m0 111v7m0 8v8m0 2v3m0 4v13M252.5 759v25m0 10v36m0 10v3m0 13v8m0 3v11m0 111v9m0 4v8M253.5 796v2m0 7v26m0 17v8m0 13v9m0 122v7m0 23v4M254.5 781v9m0 30v7m0 12v5m0 3v7M255.5 760v5m0 6v9m0 4v8m0 10v2m0 9v17m0 20v13m0 4v11m0 128v1m0 14v13M256.5 759v119m0 111v45M257.5 759v24m0 2v93m0 111v22m0 2v21M258.5 759v119m0 111v45M259.5 759v67m0 7v9m0 13v24m0 110v14m0 3v11m0 6v11M260.5 759v3m0 8v33m0 27v6m0 4v8m0 6v25m0 110v14m0 6v11m0 6v4M261.5 766v13m0 42v2m0 176v4m0 4v4M262.5 759v29m0 6v7m0 11v29m0 9v2m0 11v16m0 110v6m0 6v3m0 14v16M263.5 759v1m0 21v13m0 1v84m0 114v7m0 3v5m0 3v17m0 3v3M264.5 759v3m0 15v16m0 11v21m0 2v8m0 9v35m0 110v8m0 6v5m0 9v2m0 6v9M265.5 770v8m0 10v9m0 14v8m0 8v6m0 1v7m0 16v3m0 129v4m0 11v6m0 6v11M266.5 781v32m0 12v3m0 7v9m0 4v13m0 9v7m0 112v1m0 20v24M267.5 759v120m0 110v45M268.5 759v120m0 110v45M269.5 759v121m0 109v14m0 3v22M270.5 759v57m0 2v16m0 6v19m0 1v21m0 108v1m0 3v19m0 2v20M271.5 759v76m0 4v43m0 107v10m0 6v29M272.5 759v7m0 4v28m0 5v9m0 5v17m0 11v26m0 3v9m0 106v24m0 7v6M273.5 759v38m0 2v85m0 105v45M274.5 762v123m0 104v45M275.5 764v21m0 6v22m0 5v20m0 3v10m0 5v29m0 109v35M276.5 763v75m0 5v44m0 104v34m0 1v8M277.5 759v82m0 3v44m0 101v45M278.5 762v40m0 2v8m0 2v52m0 2v4m0 8v9m0 105v21m0 7v2m0 3v3M279.5 774v7m0 3v10m0 14v18m0 35v10m0 11v6m0 105v16m0 10v5M280.5 770v12m0 5v12m0 9v10m0 22v10m0 5v7m0 5v8m0 9v7m0 118v9m0 6v10M281.5 759v29m0 10v5m0 6v9m0 7v29m0 5v9m0 1v23m0 96v17m0 7v22M282.5 759v49m0 3v20m0 2v34m0 10v16m0 94v15m0 2v29M283.5 762v45m0 6v3m0 5v15m0 1v14m0 3v6m0 14v20m0 91v27m0 6v16M284.5 759v3m0 4v20m0 2v7m0 13v8m0 9v28m0 9v16m0 12v5m0 89v4m0 5v7m0 6v7m0 10v11M285.5 759v6m0 22v6m0 5v12m0 4v3m0 7v8m0 14v9m0 9v6m0 113v2m0 32v13M286.5 759v23m0 3v35m0 10v30m0 1v36m0 85v1m0 12v10m0 12v11M287.5 759v67m0 3v69m0 83v3m0 4v46M288.5 759v23m0 11v30m0 6v1m0 9v9m0 12v13m0 7v6m0 1v12m0 81v1m0 31v8m0 5v9M289.5 761v3m0 17v3m0 9v6m0 12v2m0 5v3m0 6v8m0 9v4m0 8v11m0 7v4m0 2v17m0 128v3M290.5 759v5m0 59v2m0 15v6m0 9v7m0 21v2m0 11v7m0 79v7m0 16v6M291.5 759v148m0 69v58M292.5 759v43m0 3v55m0 4v25m0 4v18m0 62v39m0 2v20M293.5 759v11m0 6v23m0 8v87m0 4v17m0 54v65M294.5 759v4m0 30v3m0 109v8m0 92v4M295.5 787v3m0 67v6m0 105v3M296.5 759v25m0 5v11m0 7v17m0 31v7m0 5v9m0 18v2m0 8v9m0 61v5M297.5 759v11m0 15v6m0 20v3m0 5v7m0 11v9m0 8v3m0 6v6m0 99v3m0 6v3m0 43v6M298.5 786v6m0 10v6m0 8v4m0 71v4m0 121v5m0 9v4M299.5 768v10m0 6v7m0 18v3m0 8v7m0 58v1m0 141v7M300.5 766v120m0 98v14m0 2v9m0 3v22M301.5 759v5m0 10v8m0 17v6m0 14v8m0 2v3m0 4v11m0 3v5m0 7v7m0 10v4m0 104v3m0 4v7m0 8v11M302.5 759v92m0 2v28m0 108v24m0 3v18M303.5 759v122m0 108v45M304.5 759v124m0 104v1m0 3v30m0 5v8M305.5 759v16m0 8v85m0 4v14m0 103v2m0 7v22m0 10v4M306.5 759v17m0 8v55m0 3v27m0 7v14m0 93v19m0 1v30M307.5 759v70m0 7v18m0 4v8m0 4v25m0 80v18m0 17v24M308.5 759v19m0 13v8m0 11v16m0 4v29m0 41v3m0 64v32m0 12v9m0 5v9M309.5 759v24m0 20v15m0 3v37m0 10v16m0 2v13m0 6v11m0 38v5m0 11v6m0 13v11m0 4v9m0 8v13M310.5 759v6m0 5v3m0 11v2m0 25v5m0 9v16m0 17v14m0 11v11m0 12v12m0 15v3m0 13v9m0 4v2m0 6v9m0 28v19M311.5 761v2m0 181v4m0 28v3m0 20v2M312.5 773v5m0 18v10m0 12v4m0 27v11m0 13v9m0 51v9m0 2v8m0 2v4m0 17v17m0 3v3m0 26v5M313.5 774v3m0 247v5M314.5 771v1m0 6v21m0 3v7m0 10v11m0 3v10m0 30v6m0 7v4m0 33v8m0 4v4m0 12v7m0 34v17M315.5 759v18m0 2v73m0 6v5m0 2v30m0 12v126M316.5 761v23m0 7v8m0 3v90m0 7v80m0 1v42m0 5v7M317.5 759v10m0 10v2m0 10v5m0 13v7m0 7v7m0 14v16m0 19v5m0 4v1m0 7v6m0 9v4m0 3v22m0 3v4m0 13v8m0 5v4m0 5v6m0 18v17M318.5 759v92m0 4v67m0 2v76m0 2v32M319.5 759v10m0 63v6m0 15v6m0 7v3m0 63v4m0 19v4m0 14v5m0 7v9m0 11v1M320.5 759v4m0 108v3M321.5 759v3m0 22v3m0 10v37m0 5v16m0 9v4m0 4v5m0 2v7m0 1v4m0 24v3m0 4v14m0 3v5m0 6v14m0 7v3m0 11v1m0 3v13M322.5 765v6m0 69v7m0 20v3m0 127v4M323.5 759v6m0 7v11m0 5v10m0 13v5m0 6v7m0 9v9m0 3v5m0 6v6m0 18v8m0 20v6m0 3v9m0 8v6m0 1v7m0 9v7m0 43v7M324.5 759v11m0 7v22m0 4v12m0 5v10m0 5v23m0 3v12m0 17v2m0 12v26m0 6v3m0 25v8m0 4v9m0 26v1m0 2v14M325.5 759v6m0 4v8m0 11v9m0 7v10m0 4v12m0 3v23m0 9v3m0 23v4m0 7v3m0 5v4m0 6v24m0 5v10m0 10v11m0 7v5M326.5 759v22m0 7v62m0 5v25m0 3v55m0 2v15m0 5v64m0 4v6M327.5 759v35m0 3v7m0 4v34m0 7v30m0 6v71m0 4v31m0 5v38M328.5 759v3m0 8v35m0 7v17m0 4v18m0 4v5m0 35v23m0 8v26m0 10v58m0 6v6M329.5 772v40m0 4v4m0 13v16m0 12v8m0 7v4m0 6v5m0 4v8m0 1v14m0 3v1m0 8v14m0 12v7m0 26v3m0 10v16m0 9v2M330.5 774v2m0 7v4m0 29v3m0 7v3m0 9v9m0 9v6m0 7v8m0 4v8m0 2v5m0 6v9m0 38v16m0 35v11m0 4v1M331.5 826v1m0 166v6M332.5 804v5m0 68v3m0 32v1m0 22v6m0 6v8m0 25v4m0 36v5M333.5 759v4m0 6v13m0 7v3m0 6v13m0 5v46m0 15v13m0 4v13m0 4v5m0 3v6m0 12v16m0 20v25m0 6v29M334.5 759v3m0 10v11m0 4v6m0 10v7m0 3v14m0 3v39m0 4v18m0 1v28m0 15v7m0 6v3m0 6v16m0 1v19m0 8v5m0 4v4m0 4v13M335.5 789v5m0 9v21m0 18v22m0 17v7m0 4v18m0 19v23m0 12v10m0 11v2m0 12v7M336.5 807v6m0 9v3m0 4v4m0 34v5m0 14v19m0 3v6m0 48v1m0 8v4m0 17v2m0 5v7M337.5 759v22m0 5v4m0 8v21m0 4v7m0 2v48m0 6v18m0 2v15m0 4v11m0 5v25m0 3v7m0 7v34m0 4v6M338.5 759v22m0 5v34m0 2v16m0 3v11m0 1v181M339.5 759v4m0 4v150m0 7v51m0 2v9m0 10v38M340.5 759v143m0 5v127M341.5 759v46m0 4v66m0 4v155M342.5 762v10m0 29v2m0 10v8m0 8v4m0 4v20m0 40v7m0 1v9m0 20v10m0 36v8m0 10v7m0 6v4M343.5 767v20m0 14v4m0 5v8m0 11v4m0 9v21m0 13v11m0 4v10m0 1v18m0 5v12m0 5v23m0 12v11m0 2v4m0 10v3m0 5v3m0 7v8m0 2v2M344.5 759v4m0 10v21m0 26v8m0 5v7m0 19v8m0 5v10m0 9v8m0 8v35m0 5v11m0 4v18m0 14v11m0 4v5m0 10v10M345.5 759v48m0 5v42m0 5v47m0 3v70m0 4v51M346.5 759v5m0 2v12m0 3v26m0 12v10m0 4v4m0 2v4m0 3v6m0 2v18m0 12v5m0 5v11m0 9v36m0 9v14m0 4v25m0 3v6m0 8v8M347.5 759v23m0 13v7m0 10v6m0 15v11m0 5v6m0 12v8m0 32v5m0 27v7m0 8v7m0 17v5m0 42v9M348.5 759v3m0 3v26m0 4v73m0 2v18m0 7v139M349.5 759v275M350.5 759v216m0 3v54M351.5 759v13m0 3v13m0 5v9m0 5v7m0 3v46m0 5v67m0 7v31m0 4v49M352.5 759v8m0 14v3m0 9v1m0 87v6m0 29v4m0 7v4m0 59v8m0 21v1M353.5 767v10m0 53v7m0 3v1m0 2v13m0 2v9m0 1v19m0 30v3m0 27v13m0 13v4M354.5 767v15m0 22v5m0 2v11m0 16v3m0 15v10m0 4v4m0 38v18m0 13v10m0 9v8m0 42v7M355.5 759v4m0 7v5m0 6v6m0 8v11m0 3v17m0 17v5m0 8v6m0 10v8m0 4v8m0 6v12m0 17v51m0 14v12m0 7v4m0 8v8M356.5 759v4M357.5 772v20m0 8v3m0 7v1m0 13v13m0 1v10m0 15v4m0 3v9m0 22v8m0 8v9m0 22v10m0 14v22m0 16v1m0 4v9m0 8v2M358.5 780v4m0 44v2m0 30v10m0 53v12m0 19v14m0 17v7m0 9v12m0 6v3M359.5 759v17m0 6v10m0 25v31m0 3v32m0 13v5m0 5v15m0 5v3m0 9v8m0 3v43m0 4v22m0 10v6M360.5 759v78m0 1v26m0 5v19m0 4v23m0 8v60m0 5v46M361.5 759v4m0 9v4m0 64v2m0 34v7m0 5v2m0 9v2m0 9v7m0 3v11m0 16v13m0 10v4m0 18v12m0 19v11M362.5 759v36m0 9v20m0 5v1m0 8v6m0 4v16m0 4v26m0 3v6m0 1v28m0 7v27m0 3v11m0 2v13m0 10v29M363.5 759v31m0 15v19m0 5v7m0 7v163m0 4v22M364.5 765v7m0 6v9m0 10v8m0 11v7m0 2v10m0 8v28m0 13v13m0 18v3m0 14v25m0 16v12m0 9v38M365.5 779v6m0 11v9m0 11v4m0 4v10m0 9v35m0 2v7m0 17v49m0 15v4m0 4v2m0 4v13m0 6v6m0 6v21M366.5 759v16m0 1v59m0 5v29m0 3v10m0 4v12m0 9v6m0 11v74m0 4v32M367.5 786v8m0 46v5m0 42v5m0 44v4m0 6v4m0 3v15m0 4v4m0 5v7M368.5 763v15m0 3v11m0 6v9m0 7v8m0 1v4m0 5v35m0 8v10m0 8v6m0 16v11m0 8v6m0 11v13m0 6v32M369.5 765v28m0 11v14m0 6v4m0 15v4m0 17v12m0 9v4m0 9v4m0 26v18m0 3v7m0 2v8m0 15v8m0 43v2M370.5 759v9m0 14v24m0 4v10m0 23v4m0 20v3m0 9v4m0 6v3m0 4v8m0 2v14m0 5v2m0 7v4m0 18v10m0 6v2m0 3v7m0 14v17m0 10v9M371.5 782v20m0 10v3m0 41v5m0 19v2m0 18v5m0 9v13m0 4v19m0 23v2m0 28v12M372.5 759v7m0 14v5m0 2v8m0 8v6m0 10v4m0 3v9m0 5v16m0 7v14m0 8v2m0 17v23m0 23v12m0 14v19m0 30v9M373.5 759v1m0 10v17m0 13v56m0 5v43m0 10v8m0 24v10m0 6v18m0 18v24m0 4v8M374.5 759v28m0 6v14m0 2v20m0 1v22m0 9v43m0 8v4m0 10v25m0 13v14m0 6v6m0 3v4m0 12v17M375.5 759v5m0 7v26m0 10v10m0 18v62m0 11v12m0 5v11m0 6v9m0 6v9m0 3v47m0 9v9M376.5 759v23m0 14v4m0 6v10m0 7v6m0 6v17m0 16v8m0 13v11m0 7v42m0 4v11m0 17v6m0 4v22m0 13v6M377.5 770v14m0 15v13m0 21v19m0 28v4m0 16v13m0 10v8m0 3v5m0 18v7m0 14v8m0 21v4m0 4v12m0 3v4M378.5 759v4m0 17v1m0 28v7m0 3v11m0 8v8m0 10v6m0 7v5m0 17v8m0 8v10m0 9v14m0 8v15m0 10v31m0 4v26M379.5 759v20m0 21v6m0 11v3m0 37v3m0 6v2m0 16v11m0 15v9m0 9v8m0 1v21m0 7v6m0 7v9m0 16v5m0 2v14M380.5 767v7m0 37v3m0 2v6m0 87v4m0 42v13m0 48v4M381.5 759v11m0 12v19m0 7v9m0 21v7m0 3v6m0 11v13m0 16v4m0 27v6m0 11v24m0 11v11m0 6v10m0 2v16M382.5 772v42m0 19v16m0 9v9m0 5v27m0 3v8m0 6v11m0 6v20m0 8v8m0 12v24m0 5v9m0 2v5M383.5 762v5m0 35v13m0 26v6m0 17v2m0 39v3m0 18v4m0 29v6M384.5 764v10m0 16v4m0 10v31m0 5v21m0 4v6m0 5v5m0 1v18m0 9v6m0 18v21m0 1v9m0 9v9m0 6v35m0 7v4M385.5 759v11m0 2v38m0 4v5m0 7v39m0 6v10m0 6v9m0 5v9m0 7v47m0 6v12m0 5v10m0 3v34M386.5 759v12m0 7v62m0 1v50m0 8v13m0 8v13m0 12v6m0 8v9m0 3v7m0 4v19m0 8v11m0 4v6M387.5 766v8m0 48v8m0 12v7m0 38v7m0 6v13m0 8v16m0 9v2m0 8v5m0 29v2m0 5v12m0 7v5M388.5 759v19m0 7v12m0 10v32m0 6v10m0 4v9m0 9v4m0 5v4m0 8v18m0 5v10m0 11v23m0 6v8m0 3v12m0 3v37M389.5 759v30m0 6v13m0 6v76m0 6v3m0 15v24m0 11v1m0 3v22m0 5v33m0 3v18M390.5 759v5m0 12v10m0 15v23m0 7v4m0 4v16m0 11v2m0 19v10m0 5v3m0 17v4m0 4v8m0 20v2m0 8v7m0 22v18m0 6v13M391.5 759v30m0 19v10m0 11v69m0 13v10m0 10v11m0 18v12m0 4v5m0 14v3m0 22v8M392.5 759v3m0 3v4m0 14v9m0 8v6m0 6v20m0 12v5m0 5v7m0 22v4m0 8v6m0 5v7m0 16v14m0 12v3m0 4v8m0 6v15m0 12v10m0 6v10M393.5 788v3m0 29v8m0 26v8m0 75v6m0 16v8m0 15v2m0 8v1m0 6v4M394.5 759v29m0 7v103m0 4v101m0 2v29M395.5 759v275M396.5 766v30m0 5v15m0 7v8m0 2v120m0 4v24m0 9v15m0 13v11M397.5 759v4m0 17v17m0 5v14m0 9v15m0 23v2m0 10v60m0 6v1m0 17v6m0 3v8m0 41v7m0 1v9M398.5 759v64m0 4v120m0 5v32m0 9v31m0 2v8"/>
<path stroke="#fff" stroke-width="1" fill="none" d="M80.5 919v3M82.5 917v1M85.5 921v1m0 7v1M87.5 909v2m0 14v1M88.5 905v1m0 3v3m0 3v1m0 20v2M89.5 891v1m0 17v2m0 2v2M90.5 925v1m0 6v2M91.5 927v2M92.5 914v1M93.5 899v7M94.5 901v3m0 10v2m0 1v3m0 8v1M95.5 912v3m0 5v1M96.5 901v1m0 9v2m0 9v4M97.5 908v6m0 7v2M98.5 893v3m0 22v2M99.5 904v1m0 10v6m0 5v2m0 15v1M100.5 895v3m0 22v1M101.5 906v1M102.5 896v4m0 15v3m0 5v2m0 11v1m0 2v1M103.5 899v2m0 12v3m0 27v1M104.5 903v2m0 1v3m0 2v2m0 2v1m0 3v4m0 3v2m0 8v3m0 5v1M105.5 897v3m0 17v1m0 11v2M106.5 895v1m0 16v1m0 1v3M107.5 898v1m0 6v1m0 2v2m0 6v4m0 3v2m0 20v1M108.5 897v3m0 8v1m0 3v1m0 4v3M109.5 880v1m0 22v1m0 7v1m0 4v4m0 17v2M110.5 887v3m0 3v3m0 6v4m0 3v3m0 3v2m0 12v2M111.5 894v3m0 5v2m0 17v3m0 2v2M112.5 898v3m0 3v1m0 6v3m0 3v1M113.5 898v1m0 14v4m0 2v1m0 4v2M114.5 898v1M115.5 907v3m0 8v2m0 2v1m0 31v1M116.5 882v1m0 13v3m0 12v2m0 2v2m0 3v3m0 16v2M117.5 892v2m0 16v2m0 11v1m0 19v2M118.5 911v2m0 1v3m0 6v2m0 3v1M119.5 905v3m0 3v2m0 7v1m0 3v3m0 1v3M120.5 918v2M121.5 901v2m0 20v1M122.5 886v1m0 17v4m0 10v2M123.5 912v1m0 11v2M124.5 917v2M125.5 889v2m0 10v2m0 7v2m0 15v1m0 3v2M126.5 923v4M127.5 899v1m0 13v1m0 5v1m0 3v1m0 5v1M128.5 897v1m0 9v3M129.5 896v1m0 10v4m0 9v1m0 1v5m0 2v1m0 3v1m0 8v1M130.5 901v3m0 5v2m0 1v2m0 12v2m0 3v1M131.5 904v2m0 3v4m0 6v1m0 1v1m0 18v2m0 7v1M132.5 899v1m0 7v4m0 9v4m0 12v1M133.5 886v1m0 35v1m0 10v1m0 5v1M134.5 893v4m0 20v2m0 3v4M135.5 894v1m0 24v2M136.5 892v1m0 15v4m0 2v4m0 3v1m0 2v4m0 1v1m0 2v1M137.5 917v2m0 5v3m0 2v2M138.5 911v2m0 25v1M139.5 890v1m0 47v1M140.5 904v2m0 12v5m0 3v1M141.5 884v2m0 21v5m0 10v2M142.5 903v1m0 30v1M143.5 910v1m0 16v2M144.5 906v1m0 6v2m0 10v4M145.5 905v2m0 6v1M146.5 922v1M147.5 879v1m0 15v3m0 12v2m0 10v3m0 5v3M148.5 899v2m0 3v6M149.5 895v1m0 8v2m0 8v1m0 2v1m0 7v6m0 2v1M150.5 882v1m0 14v2m0 14v3m0 4v3M151.5 895v3m0 6v2m0 2v3m0 4v2m0 5v5M152.5 923v2M153.5 914v2m0 13v2M154.5 887v2m0 16v1m0 6v2m0 6v1M155.5 889v2m0 3v1m0 6v3m0 1v2m0 3v5m0 3v1m0 6v2m0 3v1m0 4v3M156.5 877v1m0 27v1m0 4v2m0 5v1m0 19v2M157.5 895v1m0 3v4m0 14v1m0 22v2M158.5 892v6m0 17v3m0 4v3m0 3v6m0 2v4M159.5 910v1m0 11v2M160.5 905v3m0 20v1M161.5 877v1m0 6v1m0 20v4m0 1v6m0 1v2M162.5 896v3m0 10v2m0 14v2m0 18v1M163.5 880v1m0 7v2m0 23v4m0 3v4m0 5v2m0 7v1M164.5 896v1m0 17v1m0 9v3m0 9v1m0 12v1M165.5 889v1m0 11v2m0 2v3m0 4v2m0 1v2m0 2v7m0 1v2m0 8v1M166.5 897v1m0 17v1m0 20v1M167.5 907v2m0 9v1m0 4v1m0 4v4m0 3v1M168.5 879v1m0 11v1m0 5v2m0 4v1m0 3v3m0 25v2M169.5 898v1m0 5v2m0 1v3m0 3v3m0 6v1m0 4v2m0 13v2m0 39v2M170.5 885v1m0 7v2m0 10v4m0 7v2m0 4v6M171.5 889v1m0 15v1m0 3v1m0 4v1m0 10v2m0 4v2m0 2v1M172.5 891v2m0 22v2m0 4v3m0 4v1m0 3v3m0 42v1M173.5 907v1m0 7v1m0 5v1m0 5v2m0 7v1M174.5 897v1m0 2v3m0 15v2m0 5v2m0 18v1m0 4v1m0 13v2m0 6v2M175.5 893v2m0 13v2m0 4v4m0 19v1m0 3v5m0 12v3M176.5 901v2m0 6v1m0 7v2m0 52v2M177.5 911v6m0 4v4m0 19v2m0 42v1M178.5 882v1m0 20v2m0 5v1m0 15v4m0 9v1m0 16v2M179.5 891v3m0 16v1m0 3v3m0 4v1M180.5 897v1m0 24v1m0 1v2m0 9v3m0 3v1M181.5 876v2m0 6v2m0 6v1m0 2v4m0 2v2m0 4v2m0 7v5m0 4v2m0 1v3m0 21v3m0 1v4m0 2v3m0 2v1m0 5v1M182.5 878v2m0 25v1m0 1v4m0 2v2m0 9v3m0 8v3m0 8v2m0 17v3M183.5 881v2m0 1v2m0 14v1m0 10v1m0 30v1m0 11v3m0 9v2M184.5 884v1m0 7v1m0 8v1m0 22v4m0 39v2m0 3v2M185.5 910v2m0 4v1m0 6v5m0 40v1m0 14v1M186.5 911v2m0 4v6m0 1v5m0 35v2m0 7v2m0 7v1M187.5 884v1m0 12v8m0 1v2m0 5v8m0 13v5m0 10v3m0 14v2m0 6v1m0 4v1m0 5v1M188.5 918v3m0 40v2M189.5 898v2m0 24v5m0 1v1m0 2v2m0 8v1m0 7v5m0 5v2m0 22v1M190.5 888v2m0 8v3m0 6v2m0 7v2m0 32v4m0 19v2m0 3v3M191.5 883v1m0 10v2m0 3v2m0 3v2m0 2v2m0 4v4m0 3v2m0 3v1m0 2v1m0 5v2m0 3v1m0 8v2m0 1v2m0 27v2m0 5v1M192.5 886v1m0 11v2m0 5v3m0 2v4m0 2v1m0 11v1m0 9v2m0 31v2m0 8v2M193.5 906v2m0 4v1m0 2v2m0 3v3m0 3v1m0 8v2m0 6v3m0 6v4m0 6v1m0 5v2m0 2v1M194.5 898v1m0 5v3m0 6v3m0 2v2m0 6v2m0 5v2m0 10v1m0 4v2m0 4v3m0 3v4m0 9v4m0 3v2M195.5 892v1m0 9v2m0 14v3m0 2v2m0 8v1m0 13v1m0 6v1m0 7v2m0 5v4M196.5 890v5m0 5v1m0 1v2m0 4v1m0 5v1m0 3v2m0 9v1m0 3v2m0 6v2m0 3v2m0 6v1m0 1v3m0 7v1m0 2v4m0 12v2M197.5 901v1m0 8v3m0 3v1m0 37v3m0 11v5m0 1v3M198.5 912v2m0 5v3m0 29v1m0 9v3m0 14v1M199.5 885v2m0 11v1m0 29v2m0 8v1m0 21v2m0 3v1m0 7v2m0 1v1m0 3v2M200.5 878v1m0 19v3m0 8v2m0 11v2m0 3v1m0 11v1m0 18v1m0 6v1m0 7v1m0 11v1M201.5 918v3m0 12v1M202.5 928v1m0 7v2M203.5 883v1m0 35v2m0 10v2m0 8v1m0 3v1m0 15v2m0 8v2M204.5 891v2m0 11v6m0 5v2m0 14v1m0 39v1m0 2v1m0 8v2M205.5 915v3m0 23v1m0 18v2m0 1v1m0 6v2M206.5 890v3m0 15v2m0 13v1M207.5 880v1m0 2v1m0 34v8m0 30v2m0 5v1m0 3v3m0 8v1M208.5 886v4m0 14v1m0 4v2m0 3v2m0 3v2m0 1v5m0 3v1m0 2v1m0 10v1m0 5v2m0 14v6m0 7v1m0 4v3M209.5 878v2m0 5v2m0 9v2m0 8v1m0 2v3m0 7v1m0 10v1m0 14v1m0 12v1m0 2v2m0 6v2m0 6v2m0 1v3M210.5 895v1m0 1v2m0 5v3m0 9v4m0 4v1m0 3v1m0 30v3M211.5 900v1m0 15v4m0 7v2m0 4v4m0 9v1m0 3v2M212.5 922v1m0 17v1m0 16v1M213.5 906v2m0 8v4m0 13v1m0 3v1M214.5 887v7m0 2v2m0 11v2m0 9v11m0 2v6m0 3v5m0 3v2m0 3v2m0 1v1m0 9v2m0 11v3m0 4v2M215.5 883v4m0 4v2m0 4v2m0 11v3m0 3v2m0 8v2m0 3v1m0 7v1m0 32v1M216.5 880v4m0 9v2m0 1v1m0 19v3m0 3v3m0 3v3m0 2v2m0 12v2m0 8v2M217.5 888v1m0 10v1m0 4v1m0 5v4m0 18v3m0 12v4m0 18v1m0 16v1M218.5 881v2m0 24v1m0 15v2m0 10v2m0 9v2m0 9v1m0 7v1m0 9v3M219.5 919v1m0 1v1m0 24v1m0 20v1M220.5 898v2m0 13v2m0 3v1m0 11v1m0 1v1m0 6v2m0 17v1m0 5v1m0 11v2M221.5 910v1m0 2v2m0 3v3m0 3v2m0 11v1m0 23v2m0 5v1m0 6v2m0 9v4M222.5 896v1m0 3v2m0 7v1m0 54v2m0 16v1M223.5 880v2m0 25v1m0 3v2m0 2v1m0 3v1m0 11v3m0 7v1m0 2v3m0 13v1m0 2v1m0 10v2m0 11v1M224.5 913v4m0 10v1m0 2v5m0 4v1m0 5v2m0 14v2m0 10v2m0 5v1M225.5 883v1m0 3v1m0 15v6m0 1v1m0 2v3m0 4v1m0 27v1m0 5v1m0 18v2m0 9v1M226.5 876v1m0 20v1m0 3v1m0 17v3m0 16v2m0 2v2m0 2v2m0 19v1m0 7v2m0 6v2M227.5 912v2m0 9v1m0 11v1m0 2v1m0 14v2m0 16v1M228.5 878v1m0 8v3m0 13v2m0 2v4m0 2v1m0 1v3m0 8v2m0 3v2m0 1v2m0 6v8m0 1v4m0 3v2m0 2v1m0 22v2M229.5 899v1m0 30v1m0 5v3m0 12v1m0 1v2m0 4v2m0 3v3m0 1v3M230.5 877v3m0 11v2m0 7v2m0 21v2m0 2v6m0 13v7m0 2v3m0 12v3m0 1v2M231.5 897v1m0 26v2m0 11v1m0 14v1m0 4v2m0 3v4m0 8v2M232.5 905v1m0 16v2m0 13v4m0 15v3m0 24v2M233.5 891v2m0 42v2m0 34v1M234.5 877v1m0 4v1m0 13v3m0 6v2m0 3v3m0 3v3m0 2v2m0 22v1M235.5 886v2m0 7v1m0 6v2m0 4v2m0 23v2m0 33v5m0 7v2M236.5 924v1m0 20v1m0 12v1m0 10v2m0 1v1m0 1v1m0 9v3M237.5 932v2m0 32v1m0 2v2M238.5 879v1m0 7v1m0 18v2m0 4v1m0 22v1m0 3v4m0 10v4m0 4v1m0 9v3m0 2v2m0 9v2M239.5 878v2m0 12v2m0 7v6m0 7v3m0 6v2m0 8v1m0 10v2m0 26v2m0 2v2m0 6v1M240.5 886v2m0 38v2m0 8v1m0 2v1m0 13v2m0 9v4m0 5v2m0 4v3M241.5 907v2m0 3v4m0 5v3m0 11v2m0 5v4m0 7v3m0 2v1m0 1v1m0 10v1m0 13v1M242.5 888v2m0 4v1m0 5v1m0 2v2m0 11v3m0 46v3m0 13v2M243.5 899v1m0 4v3m0 2v3m0 5v3m0 13v3m0 16v4m0 5v4m0 12v1m0 6v1M244.5 879v3m0 20v2m0 10v1m0 4v3m0 3v2m0 4v1m0 4v1m0 5v5m0 1v2m0 12v4m0 11v1m0 9v3M245.5 879v2m0 2v1m0 4v1m0 14v3m0 10v2m0 1v1m0 4v5m0 9v1m0 3v2m0 1v5m0 2v1m0 6v5m0 1v2m0 2v1m0 2v4m0 7v2M246.5 888v2m0 8v2m0 1v3m0 13v6m0 12v2m0 6v2m0 4v2m0 9v4m0 18v2M247.5 898v4m0 2v2m0 2v4m0 3v3m0 4v2m0 5v4m0 2v3m0 3v6m0 8v1m0 6v1m0 4v1m0 1v5m0 7v2M248.5 900v1m0 2v1m0 13v1m0 3v1m0 6v2m0 6v4m0 5v2m0 2v1m0 4v6m0 2v1m0 3v2m0 4v2m0 4v1m0 4v2m0 2v3M249.5 904v4m0 9v3m0 5v3m0 1v1m0 9v4m0 2v2m0 5v1m0 5v5m0 2v1m0 19v1M250.5 887v1m0 4v2m0 12v2m0 1v5m0 8v5m0 1v3m0 1v2m0 6v8m0 1v3m0 2v3m0 7v1m0 1v4m0 9v3M251.5 887v1m0 12v1m0 17v1m0 1v2m0 10v2m0 1v1m0 16v1m0 8v3m0 3v4M252.5 918v3m0 3v1m0 4v2m0 1v3m0 7v3m0 13v4m0 2v3m0 3v2m0 11v2M253.5 905v1m0 15v1m0 5v3m0 20v2m0 2v2m0 9v1m0 10v2M254.5 887v1m0 6v3m0 15v2m0 7v3m0 16v3m0 6v7m0 9v2m0 4v3m0 1v1m0 7v2M255.5 887v2m0 3v1m0 9v4m0 2v1m0 12v4m0 2v4m0 1v4m0 1v1m0 4v2m0 5v6m0 5v5m0 4v2m0 17v2M256.5 880v2m0 14v2m0 2v3m0 9v2m0 5v3m0 4v3m0 18v2m0 1v5m0 5v1m0 6v1m0 6v1m0 6v3m0 3v2M257.5 902v1m0 2v1m0 5v2m0 11v1m0 2v2m0 2v1m0 6v2m0 7v2m0 11v1m0 4v3m0 3v2m0 6v3m0 3v2M258.5 897v1m0 18v2m0 1v7m0 7v1m0 19v2m0 6v2m0 2v3m0 9v2m0 4v3m0 2v2M259.5 886v1m0 10v2m0 2v4m0 2v1m0 3v8m0 4v2m0 8v1m0 10v5m0 8v4m0 3v5m0 4v2m0 5v9M260.5 900v1m0 16v4m0 12v1m0 1v1m0 27v7m0 8v1m0 6v1M261.5 908v2m0 14v2m0 12v1m0 3v1m0 3v3m0 16v1M262.5 887v1m0 20v2m0 26v1m0 14v2m0 7v8m0 9v2m0 2v1m0 4v2M263.5 905v1m0 5v2m0 11v2m0 19v1m0 2v16m0 6v4m0 3v4m0 7v1M264.5 887v1m0 2v2m0 14v2m0 6v3m0 5v1m0 1v3m0 26v1m0 2v1m0 4v3m0 2v2M265.5 904v1m0 5v4m0 2v8m0 1v1m0 1v2m0 4v4m0 1v3m0 2v2m0 2v10m0 2v5m0 1v5m0 1v4m0 9v6M266.5 887v2m0 1v1m0 12v1m0 5v1m0 10v1m0 12v1m0 11v1m0 14v3m0 2v5m0 2v8M267.5 891v2m0 7v2m0 14v3m0 20v3m0 13v1m0 7v2m0 4v1m0 2v7M268.5 902v1m0 10v3m0 6v1m0 13v4m0 2v5m0 3v1m0 11v2m0 1v2m0 2v1m0 1v3M269.5 903v1m0 3v7m0 13v3m0 3v1m0 48v1m0 4v1M270.5 900v1m0 8v4m0 8v2m0 11v1m0 2v1m0 18v1m0 3v5m0 15v1m0 8v1M271.5 896v1m0 7v2m0 8v2m0 5v2m0 3v2m0 8v3m0 13v1m0 2v3m0 3v3m0 5v3m0 10v1M272.5 905v2m0 23v1m0 13v3m0 5v1m0 8v2m0 6v1M273.5 904v1m0 3v1m0 6v10m0 1v5m0 7v2m0 2v2m0 7v3m0 1v3m0 1v2m0 12v2M274.5 897v4m0 1v2m0 1v2m0 3v3m0 2v4m0 5v1m0 3v3m0 2v2m0 12v1m0 5v2m0 9v1m0 2v6m0 6v2m0 8v1M275.5 896v1m0 17v2m0 6v2m0 2v3m0 3v2m0 11v1m0 3v2m0 12v1m0 3v3m0 6v3m0 9v2M276.5 922v1m0 7v2m0 5v2m0 13v2m0 11v3m0 2v3m0 8v4M277.5 911v3m0 9v2m0 7v2m0 9v9m0 23v4m0 5v2M278.5 900v2m0 5v3m0 7v2m0 10v2m0 5v1m0 5v3m0 3v7m0 5v3m0 1v2m0 16v1m0 5v1M279.5 902v4m0 28v3m0 5v1m0 1v2m0 7v1m0 15v2m0 1v3m0 10v5M280.5 897v2m0 10v1m0 14v1m0 6v1m0 3v4m0 26v2m0 6v1m0 3v1m0 8v3M281.5 892v2m0 5v2m0 6v1m0 7v1m0 6v2m0 2v1m0 9v9m0 5v3m0 4v1m0 2v2m0 11v3m0 7v4M282.5 899v1m0 8v1m0 3v1m0 13v1m0 3v1m0 14v5m0 12v1M283.5 904v2m0 8v2m0 12v10m0 20v3m0 7v2m0 1v1m0 5v2m0 1v3m0 3v1M284.5 909v1m0 6v2m0 2v1m0 15v2m0 4v1m0 6v3m0 1v3m0 2v1m0 2v4m0 1v2m0 4v3m0 5v1m0 1v2M285.5 901v1m0 8v4m0 3v2m0 3v3m0 12v2m0 10v3m0 5v1M286.5 896v1m0 1v1m0 1v2m0 16v2m0 4v1m0 9v3m0 5v4m0 2v2m0 2v2m0 5v3m0 18v3M287.5 913v2m0 11v2m0 6v2m0 1v3m0 4v2m0 17v3m0 6v1m0 3v1M288.5 899v2m0 1v4m0 2v1m0 4v1m0 4v5m0 4v3m0 3v1m0 4v1m0 7v2m0 6v1m0 3v3m0 10v4M289.5 909v2m0 4v13m0 4v2m0 4v3m0 14v2m0 2v3m0 4v4M290.5 902v6m0 2v2m0 5v1m0 2v2m0 1v3m0 6v2m0 4v4m0 10v5m0 1v5m0 9v1M291.5 910v1m0 12v2m0 6v1m0 30v2M292.5 917v1m0 1v1m0 6v5m0 19v2m0 7v2m0 5v2M293.5 911v1m0 9v3m0 6v3m0 5v6m0 4v2m0 4v5m0 3v1m0 4v4M294.5 916v3m0 2v1m0 2v6m0 2v5m0 1v1m0 3v1m0 3v3m0 10v7M295.5 918v2m0 3v4m0 5v1m0 1v3m0 4v1m0 4v3m0 3v2m0 4v7M296.5 903v3m0 3v2m0 7v1m0 1v3m0 5v2m0 4v2m0 2v3m0 11v2m0 4v1m0 3v2m0 2v1M297.5 898v11m0 1v3m0 4v1m0 2v4m0 14v2m0 4v3m0 7v3m0 8v2M298.5 899v1m0 3v5m0 1v9m0 7v2m0 7v1m0 8v13m0 2v2m0 2v2m0 6v4M299.5 886v2m0 2v1m0 2v1m0 6v1m0 6v3m0 7v2m0 2v3m0 3v4m0 7v3m0 7v3m0 11v4m0 4v2m0 9v3M300.5 891v4m0 6v1m0 5v8m0 2v6m0 6v1m0 11v2m0 2v2m0 15v4m0 6v2m0 1v4m0 7v1M301.5 889v9m0 2v6m0 5v1m0 1v3m0 13v2m0 3v2m0 8v3m0 9v1m0 11v1m0 3v1m0 8v6M302.5 888v2m0 13v1m0 7v1m0 1v8m0 1v2m0 9v3m0 1v1m0 14v3m0 8v2m0 3v4m0 1v1m0 7v4m0 1v3M303.5 885v3m0 6v1m0 2v3m0 3v1m0 1v3m0 6v9m0 7v3m0 1v8m0 2v15m0 7v4m0 5v3m0 2v2m0 2v2m0 2v2M304.5 891v2m0 1v5m0 6v1m0 8v6m0 2v4m0 1v5m0 3v2m0 11v5m0 12v3m0 4v2m0 1v2m0 4v1M305.5 896v1m0 8v1m0 8v3m0 7v1m0 9v3m0 3v2m0 1v1m0 10v1m0 7v4m0 2v2m0 2v2m0 2v9M306.5 897v12m0 20v1m0 5v4m0 8v1m0 17v3m0 7v9M307.5 896v1m0 2v3m0 8v2m0 4v1m0 14v4m0 7v1m0 5v2m0 22v1M308.5 896v2m0 7v1m0 6v1m0 2v1m0 13v1m0 6v2m0 4v1m0 3v3m0 9v1m0 10v2M309.5 903v3m0 10v1m0 5v1m0 11v4m0 6v3m0 1v4m0 3v1m0 6v2M310.5 923v1m0 3v2m0 3v2m0 3v1m0 5v5"/>
<rect x="219.0" y="759.0" width="11" height="11.0" fill="url(#boxa)"/>
<rect x="208.1" y="770.0" width="11" height="11.0" fill="url(#boxa)"/>
<rect x="197.2" y="781.0" width="11" height="11.0" fill="url(#boxa)"/>
<rect x="186.3" y="792.0" width="11" height="11.0" fill="url(#boxa)"/>
<rect x="175.4" y="803.0" width="11" height="11.0" fill="url(#boxa)"/>
<rect x="164.5" y="814.0" width="11" height="11.0" fill="url(#boxa)"/>
<rect x="153.6" y="825.0" width="11" height="11.0" fill="url(#boxa)"/>
<rect x="142.7" y="836.0" width="11" height="11.0" fill="url(#boxa)"/>
<rect x="131.8" y="847.0" width="11" height="11.0" fill="url(#boxa)"/>
<rect x="120.9" y="858.0" width="11" height="11.0" fill="url(#boxa)"/>
<rect x="110.0" y="869.0" width="11" height="11.0" fill="url(#boxa)"/>
<rect x="99.1" y="880.0" width="11" height="11.0" fill="url(#boxa)"/>
<rect x="88.2" y="891.0" width="11" height="11.0" fill="url(#boxa)"/>
<rect x="77.3" y="902.0" width="11" height="11.0" fill="url(#boxa)"/>
<path fill="#fff" d="M72 759L219 759L219 770L208.1 770L208.1 781L197.2 781L197.2 792L186.3 792L186.3 803L175.4 803L175.4 814L164.5 814L164.5 825L153.6 825L153.6 836L142.7 836L142.7 847L131.8 847L131.8 858L120.9 858L120.9 869L110 869L110 880L99.1 880L99.1 891L88.2 891L88.2 902L77.3 902L77.3 913L72 913Z"/>
</svg>
<path d="M126.5 759V1034M181.5 759V1034M236.5 759V1034M290.5 759V1034M344.5 759V1034M72 814.5H399M72 869.5H399M72 924.5H399M72 979.5H399" stroke="#000" stroke-opacity=".15" stroke-width="1" fill="none"/>
<rect x="71.5" y="758.5" width="328" height="276" fill="none" stroke="#6a6a6a" stroke-width="1"/>
<text x="65.5" y="765" text-anchor="end" textLength="28.4" lengthAdjust="spacingAndGlyphs">500</text>
<text x="65.5" y="820.9" text-anchor="end" textLength="28.4" lengthAdjust="spacingAndGlyphs">450</text>
<text x="65.5" y="874" text-anchor="end" textLength="28.4" lengthAdjust="spacingAndGlyphs">400</text>
<text x="65.5" y="926.7" text-anchor="end" textLength="28.4" lengthAdjust="spacingAndGlyphs">350</text>
<text x="65.5" y="982.7" text-anchor="end" textLength="28.4" lengthAdjust="spacingAndGlyphs">300</text>
<text x="65.5" y="1040.3" text-anchor="end" textLength="28.4" lengthAdjust="spacingAndGlyphs">250</text>
<text x="62.2" y="1055.5" textLength="28.4" lengthAdjust="spacingAndGlyphs">400</text>
<text x="115.9" y="1055.5" textLength="28.4" lengthAdjust="spacingAndGlyphs">450</text>
<text x="169.6" y="1055.5" textLength="28.4" lengthAdjust="spacingAndGlyphs">500</text>
<text x="223.3" y="1055.5" textLength="28.4" lengthAdjust="spacingAndGlyphs">550</text>
<text x="277.1" y="1055.5" textLength="28.4" lengthAdjust="spacingAndGlyphs">600</text>
<text x="330.8" y="1055.5" textLength="28.4" lengthAdjust="spacingAndGlyphs">650</text>
<text x="384.5" y="1055.5" textLength="28.4" lengthAdjust="spacingAndGlyphs">700</text>
<text x="137.3" y="1075.7" textLength="200.9" lengthAdjust="spacingAndGlyphs"><tspan font-weight="bold">Emission Wavelength</tspan> (nm)</text>
<text transform="translate(24.6 1005.9) rotate(-90)" textLength="183.4" lengthAdjust="spacingAndGlyphs" font-weight="bold">Excitation Wavelength</text>
<text transform="translate(24.6 810.8) rotate(-90)" textLength="33.3" lengthAdjust="spacingAndGlyphs">(nm)</text>
<text class="lb" x="90" y="792.3">S3</text>
<text x="194" y="1110.2" textLength="34.4" lengthAdjust="spacingAndGlyphs" class="cp">(<tspan font-weight="bold">a3</tspan>)</text>
<svg x="584" y="758" width="327" height="278" viewBox="584 758 327 278" overflow="hidden">
<g fill-rule="evenodd">
<path fill="#0000af" d="M722.5 991.5l-138 0 0-93 27-29 1 0 14-10 1 0 14-10 26-13 7-6 1 0 4-4 1 0 3-3 1 0 4-4 1 0 4-4 1 0 3-3 1 0 7-7 1 0 10-10 1 0 16-15 9-22 73 0 0 4-1 1 0 7-1 1 0 7-1 1 0 8-1 1 0 7-1 1 0 8 1 1 0 8 1 1 0 9 1 1 1 17 1 1 0 4 13 14 1 2 2 8 1 1 0 2 1 1 0 2 1 1 2 8 1 1 0 2 1 1 0 57-3 5 0 2-4 7 0 2-3 5 0 2-3 6-4 2-2 0-3 2-2 0-3 2-2 0-3 2-2 0-3 2-2 0-3 2-2 0-3 2-23 0-1 1-44 0-1 1z"/>
<path fill="#0000d0" d="M721.5 990l-131-0.5-6-1 0-74 7-1 5-2 25-14.5 4-7.5 23-30 12.5-13 51.5-25 6.5-21 4.5-8 10-12 9.5-22 72.5 0 0 4-1 1 0 7-1 1 0 6-13.5 26-5.5 16 12 18 5.5 11 14 14 10 28 0.5 54-3 8-7 16-3 5.5-31 13.5-3 0.5-19 0-5 1-40 0-4 1z"/>
<path fill="#0000f1" d="M767.5 809.5l-2 0.5-21-1-6-2.5-3-2.5-4-1.5-4-3-1.5-2 0.5-4 8-12 10.5-22 1.5-1 65 0 4 1.5 0 2.5-1 1 0 7-1 1 0 4.5-10 9-36 24.5zM723.5 987l-3 0.5-74 0-3-0.5-54-0.5-2-2-3-7.5 0-44.5 26.5-4 34-8 12-43 2-5 5.5-18 1.5-3 2.5-2 28-7 30-5.5 5-0.5 27-5.5 45 17.5 20 16.5 9.5 26.5-0.5 55-10 25-7 3.5-24 10-22 0.5-4 1-42 0.5z"/>
<path fill="#0013ff" d="M744.5 796.5l-4 0.5-2-0.5-6 0-1-1-3 0 0-1 3-8 14-27 51 0 16.5 3-0.5 6-1 5-11 6-33 11-23 6zM722.5 986.5l-23 0-28-1.5-23-2.5-3-1.5-45-6.5-0.5-20 67.5-11 0-21 1-1 0-44 1-1 2-21 4-0.5 2-1 8-0.5 2-1 8 0 2-1 28 0 1 1 29 0.5 18 1.5 4 1 23 0 3 1.5 15 11.5 8.5 25 0 51-9.5 22.5-12 6.5-16 7-21 2.5-5 1-40 1.5-1 1z"/>
<path fill="#0034ff" d="M737.5 791.5l-4 0-2 1-1.5-2 15.5-30.5 44-0.5 7.5 1 0.5 1-2 3-13 9-28 13-10 3.5-7 1.5zM722.5 986l-23 0-1-0.5-6 0-1-1-3 0-1-1-8-2-10.5-7-7-9-0.5-7 2-14 4.5-1 1-66 1-1 0-4 1.5-3 4-5.5 5-3.5 14-3.5 11 0 2-1 16 0 7 1 8 0 14 3.5 10 4 12 9 6-4.5 5-1.5 4 0 5 1.5 4 3.5 4.5 8 4 16 0 33-2 11-4.5 12-4 4-7 3-3 0.5-5-1-7 8.5-4 4-11 7.5-15 5.5-4 0.5-17 0-1 1z"/>
<path fill="#0054ff" d="M732.5 792l-2-1.5 1.5-3 0-1 13.5-26.5 44 0 7 0.5 0 1-2 2-21 10.5-2 2-18 9-2 0-5 3-2 0-4 2-7 1-1 1zM722.5 985.5l-23 0-1-0.5-6-0.5-1-0.5-6-1-3-2-2 0-4.5-3.5-5-5-4-8-1-6-1-1 0-5-1-1 0.5-7 3.5-1 1-52 0.5-14 0.5-1 0.5-4 2-3.5 7-6 7-2 1-1 2 0 1-1 3 0 1-1 12 0 1-1 21 0 1 1 9 0 1 1 3 0 1 1 8 2 9 5 9.5 9.5 5 9 0.5 2.5 4.5-12.5 3.5-3.5 2 0 1-1 5 1 3.5 3.5 2 4 0 2 2 4 0 3 1 1 0 6 1 1 0 32-1 1 0 5-1 1 0 3-1 1 0 2-3 8-2.5 2.5-5 2-5-2-2.5-2.5-1.5-3.5-1.5 3.5-1 6-5 10-8 9-1.5 0.5-3 3-8 4-2 0-4 1.5-3 0.5-1 0.5-17 0-1 1z"/>
<path fill="#0075ff" d="M735.5 790l-3 0.5-1-1.5 0.5-2.5 13.5-26.5 44 0 5 1.5-3 2.5-39 20-7 3-10 3zM721.5 985l-21 0-11-2-8-3-4-2.5-5-5-4.5-9-3-13 0-5 3-2 1-52 0.5-13 2-6 5-6 4-2.5 15-5 9 0 4-1 19 0 4 1 6 0 13 4 10 5.5 8 8 2.5 4 3.5 8 1 0.5 1-0.5 4.5-12 2.5-3 4-1.5 4 1.5 2 2 2.5 5 3 10 1 7 0 30-2 10-4.5 12-4 2.5-4 0-4-2.5-3-5-1 1-2.5 9-5.5 11-4 5-7 6-9 4.5-10 3-16 0-2 1z"/>
<path fill="#0096ff" d="M736.5 788.5l-3 0.5-1-0.5-0.5-2 13.5-26 3-0.5 41 0 2.5 1.5-0.5 1.5-39 20-7 3-9 2.5zM722.5 983.5l-22 0.5-14-3-5-2-4-3-4.5-4.5-4-8-2-7-1-10 2.5-3 0.5-52 1.5-13 1.5-5 4.5-5.5 4-3 15-5 9 0 5-1 17 0 5 1 6 0 13 4 9 5 8.5 8.5 5.5 11 2 2 1 0 1-2 2.5-8 2.5-4.5 2-2 3-1 3 1 2.5 2.5 2 4 3 10 1 8 0 29-2 10-4 11-3.5 2.5-4 0-3-2-3-5-1-0.5-1 0-3.5 11-5 10-3.5 4.5-8 7-8 4-10 3-17 0.5z"/>
<path fill="#00b7ff" d="M736.5 787.5l-4 0-0.5-1 13.5-26 7-0.5 38 0.5 0 2-21 11-18 9-7 3-8 2zM733.5 982.5l-32 0.5-14-2.5-5-2-4-2.5-5-5.5-4-8-2.5-15 1.5-4 1-58 1.5-7 3.5-7 3-3.5 6-3.5 12-3.5 10 0 4-1 17 0 4 1 7 0 6 1.5 8 3 8 4.5 7.5 7.5 2.5 4 3.5 8 3.5 3.5 5-13.5 1.5-3 2.5-2 2-0.5 3 1 2 2.5 2 4 2.5 9 1 8 0 28-2.5 13-3 8-2 2-4 1-3.5-2-2.5-5-2-2.5-1 0.5-1.5 3-2.5 9-5 10-7 8.5-5 3.5-8 4-9 2.5-6 0.5z"/>
<path fill="#00d8ff" d="M737.5 786.5l-4-0.5 0-1.5 12.5-24 6.5-0.5 37.5 0.5-3.5 3-33 17-9 4-7 2zM732.5 787l0-0.5 0.5 0-0.5 0.5zM734.5 981.5l-33 0.5-13-2-6-2.5-4-3-4-4-4-8-2.5-13 1-6 0-52 1-1 0-5 1.5-6 4-8 3-3 5-3 11-3.5 11 0 4-1 17 0 16 2 9 3.5 8 5 7 7 7 14 2 3.5 1 0 1.5-2.5 3.5-12 2-4 2-2 4 0 2 2 2 4 2.5 8 1 9 0 28-2 12-3.5 9-4 2.5-3-1.5-4.5-8-1.5-2.5-1 0-2 4-3 11.5-5 10-4 5-7 6-8 4-8 2.5-6 0.5z"/>
<path fill="#00f9ff" d="M736.5 786l-3 0 0-1.5 10-20 2.5-4 6.5-0.5 37 0.5-39 20.5-2 0-5 3-6 1-1 1zM733.5 981l-34 0-1-0.5-6-0.5-1-0.5-3-0.5-8-4-4-3.5-2-2-3.5-8-2.5-12 1-58 0.5-1 0-5 2-4 0-2 4-7 3.5-3.5 5-3 5-1 1-1 3 0 1-1 12 0 1-1 2 0 17 0 2 0 1 1 9 0 1 1 3 0 1 1 5 1 9 5 8.5 8.5 5 9 0.5 2 2 4 3 10 1 0 3-19 3.5-7 2.5-2.5 2 0 2.5 2.5 2 4 1.5 6 0.5 1 0.5 6 0.5 1 0.5 30-2.5 12-0.5 1-2.5 7-3.5 2.5-3.5-2.5-6.5-17.5-1 0.5-1 10-1 1-0.5 5-1.5 4-0.5 3-5 10-2.5 3-0.5 1-8.5 7.5-8 4-6 1.5-1 0.5-6 0.5-1 0.5z"/>
<path fill="#1bffe4" d="M736.5 785.5l-3 0 0-1 10-20 2.5-4 17.5-0.5 21 1.5-14 8-2 2-18 9-2 0-5 3-6 1-1 1zM733.5 980.5l-34 0-1-1-6 0-1-1-3 0-8-4-4-3.5-5.5-9.5 0-3-1-1 0-5-1-1 0.5-60 1-1 0-5 4-10 5-6 5-3 5-1 1-1 3 0 1-1 12 0 1-1 21 0 1 1 9 0 1 1 3 0 1 1 5 1 9 5 8 8 5 9 0 2 2 4 0.5 3 1 1 1 8 0 33-1 1-0.5 5-1.5 4-0.5 3-5 10-3 3 0 1-8 7-11 5-3 0-1 1-6 0-1 1zM787.5 948.5l-3-2-1.5-4-1-1 0-2-1-1 0-3-1-1 0-5-1-1 0-6 0-22 1-11 1-1 1-6 2.5-4 2-2 2 0 2 2 2 4 1.5 6 0.5 1 1.5 12-0.5 27-0.5 1-0.5 5-0.5 1-0.5 3-1 1-1 5-1 2-3 2z"/>
<path fill="#3cffc3" d="M739.5 782.5l-3 0.5-0.5-2.5 0.5-2 7-14 3-4 19 0 6.5 4-20.5 12.5-12 5.5zM733.5 978.5l-32 0.5-12-1.5-9-4.5-4-3.5-4.5-8-2.5-10 0-5 0-53 1.5-7 2.5-6 5-7 5-3.5 13-4 13-0.5 17 0 14 1.5 9 3.5 7 4 6.5 6 6 9 3.5 10 1 7 0.5 8 0 24-3.5 13-5.5 11-5.5 6-7 4.5-6 3-7 2-6 0.5zM788.5 945.5l-2 0-2-1.5-3-5.5-2-10-0.5-6 0-22 1.5-11 2-7 3-3.5 2-1 3.5 3.5 2 5 2 16 0 25-2.5 10-2 6-2 2z"/>
<path fill="#5dffa2" d="M741.5 779.5l-3 0-1-1 0-2 4-7 1-3 5-6 17 0-1.5 6-1 1-20.5 12zM736.5 779.5l0-1 1 0-1 1zM735.5 977l-34 0.5-11-1.5-9-4-4-3-5-8.5-3-14 0-45 0.5-1 0.5-6 1.5-8 2.5-4.5 6-7.5 4-2.5 14-3.5 27-0.5 14 1.5 10 3.5 7 4.5 8.5 9 4 7 2.5 8 1.5 13 0 18-1.5 12-2.5 7-5.5 10-5.5 6-8.5 5.5-6 2-8 2zM788.5 943l-1 0.5-1-0.5-3-2.5-2-7-2-11 0-22 1-8 3-9.5 1-1.5 3-1.5 2.5 2.5 2 5 2 15-0.5 25-2.5 10-2.5 5.5z"/>
<path fill="#7eff81" d="M738.5 778l-1-0.5 1-3 3.5-5 3-6 2.5-3 16.5 0-14.5 12-7 3-4 2.5zM736.5 779l0.5-0.5-0.5 0.5zM734.5 975.5l-39 0-1-1-4 0-1-1-2 0-1-1-4-1-3-3-1 0-4.5-7-3-8-0.5-6-0.5-1 0-45 1-1 0-6 1-1 1-6 2-4 6.5-7 3.5-2 13.5-3.5 33 0 2 1 5 0 10 3.5 6.5 4 9.5 10 1 3 2 2 0 2 3 6 0 4 1 1 0 6 0.5 1 0.5 18-1 1 0 7-1 1 0 3-2 4 0 2-6 10-6 6-1 0-7 5-2 0-3 2-3 0-1 1-4 0-1 1zM787.5 941.5l-2-0.5-2.5-3.5-1-7-1-1 0-6-1-1 0-22 1-1 0-7 3-9 1.5-1.5 2-0.5 1.5 2 2 5 0.5 4 0.5 1 0.5 8 1 2 0 16-1 1 0 8-1 1 0 4-1 1 0 2-3 5z"/>
<path fill="#9fff60" d="M743.5 773.5l-2 1-1-1 0.5-1 2.5-6 4.5-6 12 0 1 1-1.5 2-1 0-10 8-5 2zM740.5 775l-0.5-0.5 0.5-0.5 0.5 0.5-0.5 0.5zM734.5 974.5l-39 0-1-0.5-4-0.5-8-3-5-3.5-2-3.5-4.5-10 0-6-1-1 0.5-45 1-1 0-6 1-1 0-3 1-1 0-2 2.5-4 6.5-5.5 7-3 10-1.5 31 0 2 0.5 5 0.5 9 2.5 8 4.5 8 8 3.5 5 3.5 8 0 4 1 1 0 6 1 1 0 18-0.5 1-0.5 7-0.5 1-0.5 3-1.5 4-0.5 2-3 6-8 9-8 5-2 0.5-3 1.5-3 0.5-1 0.5-4 0.5-1 0.5zM787.5 940l-2 0.5-2-3 0-2-1-1-0.5-4-0.5-1-0.5-6-1-1 0.5-22 0.5-1 0.5-7 1-1 0-3 1-1 0.5-2 2.5-2.5 2.5 2.5 1.5 3 0 4 1 1 0.5 8 0.5 1 0.5 17-1 1 0 8-1 1-0.5 4-1 1 0 2-2 3.5z"/>
<path fill="#c0ff3f" d="M747.5 769.5l-2 0 0-2 0-4 2.5-3 6 0 2.5 1.5 0 1.5-4 3.5-5 2.5zM733.5 973.5l-37 0-5-1-8.5-3-4.5-3-3.5-5-3.5-8 0-6-1-1 0.5-44 2-7 3-7 2.5-3 5-4 11-3.5 7-1 27 0 8 1 9 3 7 3.5 7 6 4.5 6 3.5 8 3 15-0.5 19-3 11-4 7-7 8-8.5 5-5 2-9 2zM786.5 937.5l-1.5-1-2-3-2.5-12 0-18 1.5-10 2-4 2.5-2.5 2 2.5 2 5 0.5 7 1 2 0 15-1 9-1 5-3.5 5z"/>
<path fill="#e1ff1e" d="M751.5 766.5l-3 1-1-1.5-1-2.5 2-3 4.5 0 1.5 3-3 3zM734.5 972l-2 0.5-38-0.5-11-3.5-4.5-3-3.5-5-3-7 0-5-1-3 0-36 0.5-6 4.5-11.5 4-4.5 4-3 4-1.5 7-1.5 39 0 11 3 5 2.5 6 4.5 6.5 8 3.5 8 3 12-0.5 18-3.5 12-4 7-6.5 7-10.5 5.5-10 3zM786.5 934.5l-2-1-1-1.5-1-3.5 0-5-1-2 0-18 2-10 3-3 2.5 4 2 10 0 14-1 9-1.5 5-2 2z"/>
<path fill="#fffc00" d="M750.5 766l-1 0-2-2 0-2.5 1-1 4 0 0.5 3-2.5 2.5zM733.5 971.5l-39 0-1-1-4 0-1-1-2 0-4-2-2-2-1 0-3.5-5-3-7-0.5-5-0.5-1 0-38 0.5-1 0-5 3-7 2-2 0-1 5-4 4-2.5 8-2 39 0 11 3 6.5 3.5 4 3 8.5 10 3 7 0 2 1 1 0 4 1 1-0.5 18-0.5 1-0.5 4-0.5 1-1.5 5-3.5 7-8 8-9 5-5 1-1 1-4 0-1 1zM786.5 933l-1 0-1.5-1.5-2-11 0-17 0.5-1 0.5-5 1-1 0-2 1.5-1.5 1-0.5 1.5 2 0.5 2 0.5 1 0.5 5 1 1 0 2-0.5 17-0.5 1-0.5 5-1 1 0 2-1.5 1.5z"/>
<path fill="#ffdb00" d="M733.5 971l-39 0-1-1-7-1-4-2-3-2-3.5-4.5-3-7 0-5-1-1 0-38 1-1 0-5 3-7 3.5-4.5 1 0 2-2 4-2 2 0 1-1 4 0 1-1 39 0 1 1 4 0 1 1 5 1 6 3.5 8 7 4 5 2 4 1.5 5 0.5 1 0.5 4 0.5 1 0 18-0.5 1-0.5 4-0.5 1-1.5 5-4 7-7 7-9 5.5-5 1-1 1-4 0-1 1zM787.5 931.5l-2 1-1-1 0-2-1-1-0.5-5-1-2 0-18 1-1 0.5-5 2-4 2 1 0 2 1 1 0.5 5 1 1 0 19-1 1-0.5 5-1 1 0 2z"/>
<path fill="#ffba00" d="M726.5 970.5l-27 0-10-1-7-3-3-2-3-4-3-7-0.5-5-0.5-1 0-38 0.5-1 0.5-5 2-5 3.5-5 3.5-2.5 4-2 9-2 37 0 11 3 6.5 3.5 9 8 3 4 4 10 1 7 0 14-2 8-3 7-2.5 4-6 6-9 5.5-12 3.5-6 0zM786.5 929l-1 0-1-1.5-2-6 0-18 3-6.5 1 0 1 1.5 2 6 0 18-3 6.5z"/>
<path fill="#ff9900" d="M732.5 969.5l-37 0.5-8-2-5-2-5.5-5.5-3.5-8 0-4-1-2 0-35 2.5-11 4.5-6 4-3 7-3 6-1 36 0.5 8 2 9 4.5 4 3 7 8 2 4 3.5 12 0 15-3 11-4.5 7.5-6 6-9 5.5-11 3zM786.5 926.5l-1 0-2.5-6 0-16 2.5-5 1 0 2.5 6 0 16-2.5 5z"/>
<path fill="#ff7800" d="M725.5 969.5l-25 0-9-1-9-3.5-5.5-5.5-3-7 0-4-1-2 0-34 1-7 2-5 4.5-6 3-2 7-3 7-1 29 0 6 0.5 8 2 9 4.5 8 7.5 3.5 5.5 4 13 0 14-2 9-3 7-7.5 8.5-9 5.5-12 3.5-6 0.5zM786.5 924l-1 0-2-3.5 0-16 2-2.5 1 0 2 3.5 0 16-2 2.5z"/>
<path fill="#ff5700" d="M730.5 968.5l-30 0.5-8-1-10-3.5-5-5-3-7 0-4-1-2 0-34 2.5-11 6.5-8 5-2.5 10-2 29 0 5 0.5 8 2.5 7 3 5 3.5 7 8 3 5 3 11 0 13-3.5 11-4.5 8-7 6.5-6 3.5-13 4zM786.5 922.5l-2-0.5-0.5-1.5 0-15 1.5-2 2 0.5 0.5 1.5 0 15-1.5 2z"/>
<path fill="#ff3600" d="M724.5 968.5l-24 0-8-1-9-3-6-6-3-7 0-4-1-1 0-34 1-1 0-5 2-5 5-6 3-2 7-2.5 4-0.5 2-0.5 29 0 5 0.5 8 2.5 9 4.5 7 7 4 5 4 13 0 13-2 8-3.5 7-7 8-7.5 5.5-9 3-10 1.5zM786.5 922l-1 0-1-1.5 0-15 1-1.5 1 0 1 1.5 0 15-1 1.5z"/>
<path fill="#ff1500" d="M724.5 968l-24 0-1-1-7 0-9-3-5.5-5.5-3-7 0-4-1-1 0-34 1-1 0-5 2-5 6.5-7 4-2 3 0 1-1 5 0 1-1 29 0 1 1 4 0 1 1 6 1 9.5 5 6.5 6.5 4 5 4 12.5 0 13-2 8-3 6-2 3-7 7-6 4-8 2.5-3 0.5-1 0.5-5 0-1 1zM786.5 921l-1.5-0.5 0-15 0.5-0.5 1.5 0.5 0 15-0.5 0.5z"/>
<path fill="#f30000" d="M724.5 967.5l-24 0-1-1-7 0-1-1-3 0-1-1-4-1-5-5-2-4 0-2-1-1 0-4-1-1 0-34 1-1 0-5 1-1 1-4 6-6 4-2 3 0 1-1 5-0.5 1-0.5 29 0 1 0.5 4 0.5 1 0.5 6 1.5 9 5 8 8 0 1 2 2 1 4 1 1 0 2 1 1 0 3 1 1 0 14-1 1-1 6-3 6-2 2 0 1-6 6-4 2-2 2-4 1-1 1-2 0-1 1-3 0-1 1-5 0-1 1zM786.5 920.5l-1 0 0-15 1 0 0 15z"/>
<path fill="#d20000" d="M720.5 952.5l-15 0.5-8-1-6-1.5-2.5-3-3.5-5-3.5-9-3.5-15 0.5-10 2.5-5 4-4 4-2 11-3 24 0.5 12 4 5.5 3.5 5.5 6 3 7 1 7 0 4-1.5 6-3 6-5.5 6.5-6 4-6 2-9 1.5z"/>
<path fill="#b10000" d="M720.5 934.5l-14 0-5-1.5-8-4-5-4.5-4.5-7 0-6 1.5-3.5 3.5-3.5 3.5-2 10-3 17 0 8 2 6 3 3.5 3 2 3 1 7-1 4-3.5 5-5.5 5-9.5 3z"/>
<path fill="#900000" d="M718.5 925l-15 0.5-7-2.5-5-3.5-1.5-2-1-4 1-3 4.5-3.5 10-3.5 13 0 8 2.5 6 5.5 1 2-1 3-1 2-5 4-7 2.5z"/>
</g>
<path stroke="#0a0a78" stroke-width="1" fill="none" d="M584.5 762v1m0 3v1m0 17v1m0 2v1m0 2v1m0 2v1m0 9v1m0 4v1m0 3v1m0 8v1m0 5v1m0 5v1m0 8v1m0 3v1m0 2v1m0 3v1m0 6v1m0 2v1m0 2v1m0 4v1m0 122v1m0 10v1m0 5v1m0 1v1m0 2v1m0 2v1m0 14v1M585.5 760v2m0 3v1m0 5v2m0 11v1m0 2v2m0 1v1m0 2v2m0 6v2m0 4v1m0 3v1m0 7v2m0 4v2m0 6v1m0 8v2m0 2v2m0 1v3m0 1v7m0 2v1m0 2v1m0 4v1m0 12v10m0 101v11m0 3v3m0 1v1m0 3v1m0 2v1m0 10v4M586.5 758v2m0 2v3m0 2v4m0 1v5m0 7v1m0 3v1m0 1v3m0 1v7m0 4v2m0 4v1m0 5v2m0 4v2m0 8v1m0 9v1m0 3v3m0 1v5m0 2v4m0 2v1m0 4v1m0 8v5m0 9v4m0 95v1m0 9v7m0 1v3m0 3v1m0 3v11M587.5 758v4m0 2v3m0 9v3m0 5v2m0 2v2m0 2v4m0 7v2m0 6v2m0 4v2m0 3v1m0 10v2m0 8v3m0 3v5m0 1v3m0 1v5m0 3v2m0 6v3m0 4v11m0 2v1m0 95v4m0 1v5m0 3v5m0 6v2m0 17v2M588.5 759v5m0 3v8m0 3v3m0 4v1m0 3v4m0 2v8m0 9v4m0 2v2m0 2v2m0 10v2m0 9v2m0 6v6m0 3v5m0 8v1m0 5v1m0 10v1m0 101v2m0 5v3m0 12v12m0 3v3M589.5 758v1m0 6v2m0 7v3m0 3v5m0 7v7m0 16v3m0 1v3m0 1v2m0 10v2m0 8v1m0 9v7m0 13v2m0 4v1m0 9v1m0 108v1m0 25v1m0 2v2m0 2v3M590.5 764v1m0 11v5m0 7v7m0 3v4m0 6v5m0 4v1m0 3v1m0 2v1m0 11v2m0 5v2m0 8v2m0 5v8m0 8v2m0 3v3m0 7v1m0 108v1m0 21v4m0 1v2m0 2v2M591.5 764v3m0 13v4m0 4v1m0 5v4m0 3v3m0 4v4m0 4v1m0 3v1m0 3v1m0 11v1m0 4v2m0 10v1m0 5v1m0 7v2m0 8v3m0 3v3m0 3v2m0 100v1m0 6v2m0 16v6m0 3v2m0 2v2m0 2v3M592.5 766v3m0 6v5m0 3v3m0 2v3m0 6v2m0 4v4m0 5v4m0 2v2m0 4v1m0 9v2m0 4v1m0 12v2m0 4v1m0 6v2m0 11v4m0 2v4m0 102v7m0 13v5m0 7v2m0 3v1m0 3v1M593.5 768v3m0 4v4m0 6v1m0 4v8m0 8v6m0 4v2m0 6v1m0 7v2m0 5v1m0 14v3m0 2v7m0 3v20m0 102v20m0 12v1m0 4v1m0 3v4M594.5 770v7m0 7v1m0 26v5m0 8v8m0 7v1m0 16v4m0 4v5m0 1v18m0 103v16m0 6v9m0 1v3m0 2v4M595.5 763v21m0 25v2m0 28v3m0 17v5m0 2v4m0 1v16m0 104v14m0 1v3m0 3v1m0 8v3m0 1v4m0 2v5M596.5 763v1m0 4v17m0 9v9m0 6v4m0 28v3m0 21v1m0 3v2m0 3v12m0 107v14m0 1v2m0 2v2m0 9v1m0 4v8M597.5 763v1m0 3v1m0 8v5m0 3v3m0 5v2m0 8v5m0 5v6m0 25v1m0 7v3m0 11v2m0 2v2m0 3v1m0 7v3m0 107v1m0 10v2m0 1v2m0 1v3m0 1v10M598.5 763v1m0 3v2m0 11v1m0 4v1m0 5v1m0 14v5m0 6v5m0 20v1m0 6v2m0 2v2m0 6v4m0 1v7m0 1v4m0 114v3m0 9v1m0 2v2m0 2v20M599.5 763v2m0 3v2m0 9v1m0 5v1m0 5v1m0 18v6m0 5v21m0 5v2m0 5v1m0 3v3m0 3v19m0 108v13m0 4v21m0 1v3M600.5 764v1m0 4v10m0 4v2m0 6v2m0 22v4m0 26v2m0 7v1m0 3v1m0 3v20m0 111v15m0 5v23M601.5 764v3m0 13v3m0 9v6m0 20v1m0 8v13m0 4v1m0 9v1m0 3v1m0 2v1m0 6v13m0 126v1m0 4v1m0 3v3m0 4v4m0 1v8M602.5 758v3m0 5v14m0 17v5m0 14v2m0 8v1m0 12v3m0 2v2m0 6v2m0 3v1m0 3v1m0 10v2m0 2v3m0 128v1m0 4v1m0 3v2m0 8v4m0 1v5M603.5 760v6m0 35v7m0 4v4m0 10v1m0 14v2m0 2v7m0 4v1m0 4v1m0 11v1m0 4v1m0 127v1m0 5v1m0 4v6m0 6v7M604.5 765v3m0 19v6m0 14v5m0 14v2m0 14v3m0 10v1m0 5v2m0 6v4m0 132v1m0 6v7m0 3v5M605.5 758v2m0 7v2m0 18v4m0 1v1m0 21v8m0 4v1m0 17v5m0 6v1m0 6v7m0 5v2m0 129v2m0 11v6m0 2v10M606.5 759v3m0 6v1m0 5v11m0 5v2m0 20v2m0 7v5m0 22v3m0 4v3m0 11v5m0 132v15m0 2v4M607.5 758v3m0 6v1m0 4v2m0 5v16m0 6v3m0 8v1m0 21v11m0 5v4m0 3v12m0 122v12m0 5v10m0 2v3m0 3v10M608.5 765v2m0 3v2m0 3v4m0 4v18m0 2v6m0 3v2m0 17v3m0 10v4m0 5v5m0 133v1m0 9v1m0 4v2m0 9v3m0 2v5m0 2v7M609.5 758v7m0 2v3m0 2v3m0 2v24m0 7v3m0 2v3m0 14v1m0 16v2m0 8v5m0 129v3m0 5v2m0 3v2m0 2v9m0 2v3m0 4v3M610.5 760v7m0 2v3m0 3v2m0 4v8m0 3v3m0 5v6m0 4v2m0 3v2m0 13v2m0 14v2m0 12v1m0 132v6m0 3v2m0 3v1m0 8v3m0 2v2m0 8v3M611.5 758v2m0 2v7m0 3v3m0 5v1m0 6v1m0 5v1m0 11v1m0 5v2m0 3v3m0 12v15m0 9v5m0 131v11m0 5v1m0 10v1m0 3v2m0 3v4m0 2v3M612.5 758v4m0 6v4m0 8v7m0 3v3m0 4v8m0 6v1m0 6v16m0 17v4m0 152v3m0 8v1m0 3v1m0 3v1m0 3v6M613.5 758v10m0 18v4m0 3v4m0 10v4m0 8v13m0 1v7m0 8v3m0 158v9m0 3v1m0 2v2m0 2v2m0 2v4M614.5 768v18m0 5v2m0 6v8m0 9v3m0 3v14m0 3v3m0 6v2m0 149v13m0 5v4m0 1v2m0 2v2m0 3v1M615.5 758v10m0 19v4m0 6v2m0 15v2m0 4v2m0 8v3m0 2v2m0 4v1m0 7v3m0 145v2m0 12v6m0 2v3m0 2v2m0 5v5M616.5 766v21m0 10v1m0 15v1m0 5v1m0 12v2m0 2v2m0 3v2m0 7v1m0 140v6m0 20v2m0 4v1m0 10v2M617.5 758v8m0 31v16m0 6v2m0 11v1m0 4v1m0 4v3m0 4v1m0 167v2m0 4v11M618.5 758v32m0 30v3m0 3v6m0 5v1m0 6v5m0 142v8m0 19v6m0 5v7M619.5 758v6m0 8v11m0 6v1m0 8v10m0 14v4m0 8v3m0 27v1m0 133v4m0 21v6M620.5 763v2m0 5v2m0 10v7m0 6v3m0 9v3m0 17v7m0 167v2m0 6v8m0 15v4M621.5 764v1m0 3v2m0 3v8m0 12v2m0 14v1m0 14v3m0 164v4m0 6v1m0 4v3m0 7v10m0 6v1M622.5 763v1m0 3v1m0 3v2m0 7v3m0 10v1m0 15v1m0 12v2m0 4v7m0 19v3m0 137v2m0 4v1m0 3v2m0 3v12m0 4v3m0 4v2M623.5 762v1m0 3v1m0 3v1m0 10v1m0 11v3m0 13v3m0 10v1m0 4v1m0 6v3m0 15v2m0 2v3m0 136v1m0 3v1m0 2v2m0 4v1m0 11v2m0 5v2m0 4v2M624.5 762v2m0 2v1m0 2v1m0 10v1m0 3v15m0 12v4m0 7v2m0 3v2m0 7v3m0 10v3m0 6v3m0 130v2m0 2v2m0 2v1m0 2v1m0 5v2m0 2v9m0 5v2m0 5v1M625.5 763v1m0 2v1m0 2v1m0 9v1m0 2v2m0 2v16m0 12v4m0 5v3m0 2v4m0 6v11m0 11v1m0 131v3m0 1v2m0 1v1m0 2v1m0 6v3m0 5v9m0 6v1M626.5 763v1m0 2v1m0 1v1m0 9v1m0 2v1m0 2v2m0 2v17m0 12v4m0 4v3m0 3v3m0 11v12m0 137v2m0 1v4m0 1v3m0 6v6m0 15v4M627.5 758v3m0 2v1m0 2v1m0 1v1m0 8v1m0 2v1m0 2v1m0 2v2m0 6v15m0 11v4m0 3v3m0 3v2m0 6v4m0 11v4m0 135v1m0 2v1m0 1v2m0 2v7m0 24v1M628.5 760v2m0 1v2m0 1v1m0 1v2m0 6v1m0 2v1m0 2v1m0 3v1m0 3v5m0 2v9m0 2v5m0 10v2m0 4v2m0 3v2m0 5v5m0 148v1m0 3v2m0 1v2m0 24v9M629.5 761v2m0 1v4m0 1v7m0 2v1m0 3v1m0 2v1m0 4v4m0 5v1m0 2v2m0 1v2m0 5v1m0 10v1m0 5v1m0 5v4m0 6v8m0 138v3m0 5v1m0 2v3m0 8v6m0 7v1m0 4v5M630.5 762v2m0 1v6m0 4v3m0 3v1m0 3v2m0 5v1m0 6v1m0 3v1m0 2v1m0 4v1m0 9v2m0 3v3m0 9v10m0 4v4m0 142v1m0 5v9m0 5v5m0 3v1m0 2v2m0 2v3M631.5 763v1m0 2v2m0 2v5m0 4v2m0 5v4m0 6v3m0 3v1m0 3v1m0 3v1m0 9v1m0 3v2m0 2v11m0 8v4m0 4v2m0 140v1m0 15v6m0 3v3m0 1v2m0 1v1m0 3v1M632.5 763v1m0 3v2m0 9v1m0 10v7m0 4v2m0 3v1m0 3v1m0 8v2m0 2v2m0 1v3m0 1v7m0 2v4m0 8v2m0 145v1m0 11v4m0 5v2m0 4v1m0 2v1m0 1v2m0 2v2M633.5 762v1m0 5v2m0 8v1m0 10v11m0 5v1m0 3v4m0 1v4m0 1v3m0 1v2m0 1v3m0 6v5m0 1v6m0 2v2m0 140v2m0 4v1m0 11v3m0 6v1m0 5v1m0 2v1m0 2v2m0 2v2M634.5 762v1m0 6v2m0 7v3m0 3v5m0 16v3m0 4v2m0 2v3m0 1v3m0 1v2m0 3v8m0 2v6m0 1v3m0 143v2m0 3v2m0 12v7m0 4v2m0 3v2m0 2v5M635.5 762v1m0 7v1m0 9v1m0 2v1m0 23v13m0 1v3m0 2v3m0 7v6m0 2v10m0 139v3m0 2v2m0 18v4m0 6v3M636.5 762v3m0 5v4m0 4v2m0 3v2m0 16v15m0 3v2m0 4v1m0 15v6m0 148v2m0 2v2m0 6v11m0 12v6M637.5 764v3m0 6v5m0 6v1m0 7v9m0 18v1m0 5v2m0 19v5m0 145v3m0 1v3m0 4v3m0 4v22M638.5 758v4m0 4v2m0 15v1m0 4v4m0 27v3m0 4v3m0 20v1m0 148v2m0 2v2m0 5v5m0 9v13M639.5 758v3m0 6v2m0 14v2m0 1v2m0 12v10m0 11v4m0 3v4m0 13v4m0 150v2m0 2v2m0 12v19M640.5 762v6m0 16v2m0 7v7m0 9v14m0 1v4m0 3v14m0 5v1m0 149v2m0 2v4m0 5v4m0 2v17M641.5 758v5m0 27v3m0 4v18m0 7v4m0 1v23m0 151v4m0 2v6m0 4v2m0 2v2m0 2v1m0 2v1m0 3v1M642.5 758v10m0 20v2m0 3v17m0 4v5m0 6v4m0 8v13m0 141v1m0 12v13m0 4v2m0 2v2m0 1v8M643.5 761v4m0 2v2m0 18v1m0 4v1m0 2v2m0 1v10m0 1v2m0 4v3m0 10v9m0 10v2m0 142v4m0 6v12m0 9v14M644.5 758v3m0 3v1m0 3v1m0 16v2m0 3v2m0 2v1m0 2v1m0 9v1m0 2v1m0 2v2m0 2v16m0 10v4m0 144v2m0 1v4m0 3v1m0 10v3m0 6v15M645.5 760v2m0 2v2m0 2v1m0 13v3m0 4v1m0 3v1m0 2v1m0 9v1m0 2v1m0 1v2m0 1v3m0 1v7m0 7v5m0 6v4m0 145v13m0 7v2m0 3v4m0 3v12M646.5 761v1m0 3v1m0 2v1m0 11v2m0 6v1m0 4v1m0 2v2m0 6v2m0 1v2m0 1v1m0 1v2m0 1v3m0 6v7m0 5v5m0 5v2m0 143v21m0 2v3m0 2v5m0 3v9M647.5 759v2m0 3v1m0 3v1m0 9v2m0 6v2m0 4v1m0 4v7m0 1v2m0 1v2m0 1v1m0 2v1m0 3v8m0 4v4m0 6v7m0 148v19m0 1v4m0 4v4M648.5 758v1m0 3v2m0 4v1m0 7v2m0 5v3m0 6v1m0 8v4m0 1v2m0 2v1m0 3v1m0 3v3m0 4v1m0 7v11m0 147v7m0 1v16m0 8v3M649.5 758v4m0 6v8m0 5v2m0 9v1m0 4v4m0 3v2m0 4v1m0 3v4m0 2v5m0 18v3m0 151v24m0 4v11M650.5 758v6m0 13v4m0 11v5m0 5v2m0 6v6m0 1v8m0 166v1m0 12v14m0 2v2M651.5 762v1m0 6v8m0 25v1m0 12v15m0 14v1m0 146v3m0 6v4m0 2v14m0 1v2M652.5 760v2m0 3v4m0 14v9m0 10v3m0 1v22m0 1v4m0 10v1m0 149v3m0 3v1m0 3v3m0 6v3m0 1v2m0 1v1m0 2v1m0 12v1M653.5 758v2m0 3v2m0 2v11m0 5v1m0 7v3m0 10v2m0 8v5m0 3v3m0 2v3m0 2v7m0 2v2m0 148v3m0 1v2m0 2v2m0 2v1m0 10v1m0 2v1m0 1v2m0 1v2m0 11v1M654.5 762v1m0 3v1m0 10v1m0 5v1m0 7v2m0 20v1m0 4v3m0 3v2m0 3v3m0 6v3m0 150v8m0 1v2m0 1v3m0 7v1m0 3v1m0 2v1m0 2v2m0 10v1M655.5 760v2m0 4v2m0 7v2m0 6v8m0 13v4m0 5v7m0 5v2m0 4v8m0 152v22m0 3v1m0 3v1m0 3v3M656.5 758v2m0 7v8m0 27v2m0 3v6m0 13v6m0 6v4m0 149v20m0 4v1m0 4v4m0 2v4M657.5 758v10m0 6v9m0 7v7m0 5v1m0 9v3m0 16v11m0 149v2m0 2v2m0 1v2m0 1v2m0 1v3m0 3v2m0 3v6m0 2v4m0 2v3M658.5 758v6m0 3v2m0 4v1m0 8v1m0 5v2m0 6v3m0 3v1m0 4v4m0 3v2m0 4v19m0 152v1m0 4v1m0 2v1m0 2v1m0 2v1m0 2v3m0 9v4m0 2v2m0 3v2M659.5 763v4m0 1v2m0 3v1m0 7v1m0 4v2m0 10v3m0 1v2m0 3v1m0 2v2m0 3v1m0 3v1m0 17v4m0 153v2m0 2v1m0 2v1m0 2v1m0 1v2m0 2v10m0 3v1m0 3v1m0 3v1M660.5 758v4m0 4v2m0 1v2m0 2v4m0 2v2m0 5v1m0 5v5m0 3v2m0 1v1m0 3v1m0 3v1m0 3v1m0 2v1m0 18v3m0 151v3m0 2v2m0 2v1m0 2v1m0 1v1m0 2v2m0 9v1m0 2v1m0 2v2m0 2v2M661.5 758v3m0 5v1m0 3v2m0 4v3m0 7v1m0 5v2m0 1v1m0 4v1m0 2v1m0 3v1m0 3v2m0 2v1m0 2v1m0 20v1m0 151v1m0 1v3m0 4v1m0 2v1m0 1v2m0 1v2m0 7v2m0 1v2m0 1v2m0 1v3m0 4v3M662.5 765v1m0 4v1m0 15v3m0 4v2m0 5v1m0 2v1m0 2v1m0 5v2m0 1v2m0 1v2m0 171v2m0 7v1m0 2v2m0 1v17m0 1v2m0 2v5M663.5 761v4m0 3v2m0 4v12m0 2v5m0 6v1m0 3v1m0 2v2m0 4v1m0 3v1m0 2v2m0 179v3m0 1v16m0 1v3m0 1v3m0 7v1M664.5 758v3m0 5v2m0 3v3m0 11v4m0 3v4m0 3v1m0 3v2m0 2v5m0 3v1m0 4v15m0 167v3m0 2v10m0 1v3m0 3v1m0 10v1M665.5 764v2m0 2v3m0 3v10m0 4v2m0 5v1m0 3v3m0 2v6m0 2v3m0 19v4m0 166v2m0 11v1m0 6v1M666.5 762v2m0 3v1m0 4v2m0 9v1m0 5v1m0 3v2m0 6v5m0 3v3m0 13v11m0 155v3m0 11v1m0 10v1m0 7v12M667.5 761v1m0 5v1m0 3v1m0 10v1m0 4v2m0 2v2m0 12v3m0 14v3m0 10v2m0 156v3m0 9v2m0 9v1m0 13v6M668.5 761v1m0 5v1m0 3v2m0 7v2m0 3v2m0 2v2m0 16v1m0 12v2m0 172v1m0 11v6m0 1v3m0 11v3M669.5 761v1m0 5v1m0 4v8m0 3v2m0 2v2m0 17v1m0 11v2m0 173v1m0 3v11m0 3v2m0 14v1m0 4v4M670.5 758v3m0 6v2m0 11v3m0 3v1m0 18v1m0 11v1m0 173v2m0 1v3m0 1v16m0 12v1m0 5v3M671.5 768v12m0 5v1m0 19v2m0 10v1m0 174v2m0 2v2m0 8v4m0 3v1m0 9v3m0 8v2M672.5 758v10m0 17v7m0 14v3m0 8v1m0 173v1m0 3v1m0 13v1m0 2v1m0 4v6M673.5 758v5m0 4v1m0 23v12m0 3v2m0 8v1m0 8v6m0 164v4m0 7v3m0 1v2m0 2v3m0 2v11M674.5 762v3m0 2v1m0 34v4m0 8v2m0 6v3m0 5v1m0 161v18m0 2v2m0 2v3m0 10v3M675.5 758v2m0 4v1m0 2v1m0 13v11m0 17v5m0 7v1m0 169v1m0 2v12m0 3v3m0 3v1m0 4v7m0 4v1M676.5 759v1m0 4v1m0 2v1m0 11v2m0 10v2m0 8v8m0 12v2m0 168v3m0 3v5m0 1v6m0 6v1m0 4v1m0 5v1m0 4v1M677.5 759v1m0 4v1m0 2v3m0 7v2m0 12v1m0 7v2m0 21v6m0 163v1m0 4v1m0 4v2m0 12v3m0 2v6m0 5v1M678.5 759v3m0 2v3m0 2v8m0 12v2m0 8v2m0 26v1m0 163v3m0 2v6m0 5v5m0 5v4m0 10v1M679.5 761v3m0 2v5m0 14v4m0 11v2m0 191v14m0 4v8m0 1v11M680.5 763v5m0 2v5m0 6v4m0 16v7m0 2v17m0 165v25m0 1v9m0 7v2M681.5 767v3m0 4v2m0 4v1m0 4v9m0 13v3m0 8v8m0 166v2m0 3v5m0 2v9m0 3v15m0 3v2M682.5 769v1m0 5v1m0 3v1m0 4v1m0 7v1m0 18v7m0 4v3m0 168v2m0 2v2m0 13v11m0 2v11M683.5 758v11m0 6v1m0 3v1m0 4v1m0 5v2m0 4v10m0 5v1m0 8v2m0 169v2m0 1v3m0 1v4m0 20v14M684.5 758v4m0 12v1m0 4v1m0 4v2m0 2v2m0 4v2m0 9v4m0 2v4m0 5v4m0 168v1m0 3v2m0 3v13m0 14v8M685.5 761v10m0 1v2m0 5v2m0 4v3m0 5v1m0 3v16m0 1v6m0 171v1m0 5v1m0 15v3m0 5v10M686.5 758v7m0 5v2m0 8v2m0 11v1m0 2v1m0 10v10m0 2v3m0 174v1m0 3v13m0 2v2m0 4v1m0 8v2M687.5 764v2m0 5v6m0 4v3m0 8v1m0 3v1m0 4v7m0 3v3m0 2v3m0 177v4m0 12v3m0 1v3m0 2v3m0 5v2M688.5 764v1m0 3v3m0 5v5m0 2v4m0 4v1m0 4v1m0 4v1m0 5v1m0 5v1m0 4v1m0 183v20m0 1v6m0 4v3M689.5 762v2m0 3v1m0 5v4m0 3v4m0 2v5m0 5v2m0 3v6m0 4v2m0 3v2m0 179v5m0 3v28M690.5 761v1m0 5v1m0 5v1m0 2v3m0 4v3m0 11v5m0 5v4m0 2v3m0 175v6m0 5v3m0 7v24M691.5 761v2m0 4v3m0 3v5m0 7v1m0 15v6m0 3v3m0 3v2m0 173v11m0 15v15M692.5 762v5m0 2v9m0 4v3m0 6v8m0 7v4m0 3v3m0 195v11m0 1v4m0 4v1M693.5 766v10m0 1v5m0 7v2m0 5v2m0 6v2m0 5v2m0 178v3m0 17v1m0 9v1m0 3v1m0 2v3m0 1v4M694.5 775v14m0 3v4m0 8v2m0 5v1m0 179v2m0 18v1m0 8v1m0 2v2m0 1v2m0 1v7M695.5 778v7m0 6v1m0 13v1m0 5v1m0 199v9m0 1v2m0 1v2m0 1v2m0 1v2m0 2v2M696.5 763v8m0 6v1m0 6v3m0 4v1m0 5v3m0 5v1m0 5v1m0 179v7m0 19v10m0 1v2m0 3v1M697.5 758v5m0 7v3m0 4v2m0 7v1m0 4v1m0 5v2m0 6v1m0 5v1m0 185v2m0 12v10m0 1v2m0 3v1m0 5v3M698.5 758v6m0 8v1m0 5v1m0 7v1m0 4v2m0 9v3m0 5v1m0 187v1m0 7v5m0 4v2m0 3v2m0 5v9M699.5 763v9m0 6v1m0 7v2m0 4v10m0 6v2m0 187v1m0 4v4m0 7v2m0 5v16M700.5 758v10m0 4v6m0 9v21m0 185v4m0 1v4m0 8v3m0 10v13M701.5 767v5m0 20v1m0 198v2m0 2v3m0 5v7m0 5v21M702.5 991v4m0 5v3m0 12v1m0 4v3m0 2v4m0 1v6M703.5 997v3m0 2v10m0 3v2m0 3v1m0 3v1m0 4v1M704.5 763v33m0 195v6m0 3v2m0 9v2m0 3v2m0 2v2m0 2v2m0 3v7M705.5 761v2m0 5v13m0 14v11m0 193v1m0 12v1m0 4v1m0 3v3m0 1v11M706.5 760v1m0 5v2m0 12v7m0 9v10m0 193v6m0 2v5m0 5v1m0 5v13M707.5 758v2m0 4v2m0 3v11m0 6v10m0 196v6m0 6v3m0 5v5m0 15v4M708.5 764v1m0 3v1m0 10v7m0 13v5m0 187v1m0 5v15m0 15v5M709.5 764v1m0 3v1m0 16v14m0 197v16m0 15v3M710.5 763v1m0 4v2m0 8v16m0 6v2m0 189v5m0 15v2m0 16v7M711.5 758v5m0 6v2m0 7v1m0 7v3m0 4v3m0 3v1m0 191v9m0 12v1m0 6v4M712.5 770v3m0 5v2m0 6v1m0 1v2m0 4v1m0 3v1m0 200v3m0 9v1m0 6v1m0 3v1m0 6v7M713.5 758v7m0 7v3m0 4v3m0 4v3m0 3v2m0 2v2m0 193v3m0 7v1m0 9v1m0 5v1m0 4v7M714.5 761v3m0 10v4m0 3v11m0 1v3m0 197v3m0 4v1m0 10v1m0 5v1M715.5 758v3m0 16v16m0 1v3m0 198v1m0 4v1m0 9v1m0 5v1M716.5 758v16m0 15v5m0 201v1m0 4v1m0 8v1m0 4v2M717.5 758v13m0 2v6m0 2v8m0 4v3m0 199v1m0 4v3m0 2v4m0 3v2M718.5 758v11m0 1v3m0 5v3m0 1v11m0 202v1m0 6v3m0 5v2M719.5 764v2m0 2v2m0 2v1m0 5v4m0 8v4m0 199v2m0 11v4m0 22v4M720.5 763v2m0 3v1m0 2v1m0 3v3m0 7v5m0 201v2m0 8v5m0 11v10m0 4v1M721.5 758v5m0 2v3m0 1v2m0 2v2m0 3v7m0 6v1m0 206v3m0 3v6m0 5v2m0 9v2m0 3v1M722.5 760v5m0 1v3m0 1v3m0 2v3m0 213v2m0 3v2m0 3v3m0 5v3m0 2v1m0 4v4m0 4v1m0 2v1m0 3v2M723.5 758v2m0 3v3m0 2v2m0 2v3m0 217v4m0 5v1m0 9v1m0 2v1m0 4v3m0 4v1m0 2v1m0 2v2M724.5 763v1m0 3v1m0 4v1m0 14v2m0 212v1m0 9v1m0 2v2m0 8v2m0 2v1m0 2v1M725.5 763v2m0 2v2m0 3v3m0 7v5m0 207v4m0 3v4m0 5v1m0 4v2m0 5v2m0 3v1m0 3v1M726.5 764v2m0 2v2m0 4v8m0 209v3m0 3v4m0 3v6m0 6v6m0 5v3m0 1v5M727.5 765v1m0 3v3m0 218v1m0 9v6m0 23v6M728.5 765v1m0 5v11m0 3v1m0 219v8m0 21v2M729.5 761v4m0 16v4m0 227v4M730.5 758v3m0 242v9m0 3v2M731.5 758v5m0 10v6m0 223v1m0 8v2m0 3v1m0 4v7M732.5 762v11m0 5v1m0 212v2m0 9v2m0 8v1m0 2v1m0 3v2m0 6v4M733.5 758v6m0 13v1m0 212v1m0 1v8m0 3v4m0 3v2m0 2v1m0 2v2m0 11v1M734.5 758v3m0 2v4m0 10v1m0 212v7m0 2v5m0 2v4m0 2v2m0 2v1m0 4v4m0 5v2M735.5 760v4m0 2v3m0 7v1m0 219v16m0 1v3m0 3v2m0 3v1m0 6v3M736.5 763v2m0 3v2m0 220v23m0 6v5m0 9v3M737.5 762v2m0 5v2m0 219v10m0 1v5M738.5 758v4m0 237v2m0 4v1M739.5 758v9m0 223v1m0 8v1m0 3v2m0 5v19M740.5 758v5m0 227v9m0 2v2m0 2v5m0 16v2M741.5 998v3m0 2v2m0 18v3m0 6v4M742.5 758v2m0 235v3m0 3v2m0 4v4m0 8v4m0 6v3M743.5 994v1m0 4v2m0 4v5m0 5v4m0 9v1M744.5 992v2m0 3v2m0 3v5m0 4v4m0 3v6m0 4v3M745.5 990v2m0 4v1m0 3v2m0 3v2m0 3v1m0 3v4m0 5v3m0 4v6M746.5 993v3m0 3v1m0 6v1m0 3v1m0 3v1m0 7v3M747.5 990v3m0 4v2m0 7v1m0 3v2m0 2v8M748.5 996v1m0 9v1m0 4v3m0 16v6M749.5 990v6m0 9v1m0 7v7m0 7v3m0 1v5M750.5 1004v1m0 14v2m0 5v1m0 3v1m0 2v3M751.5 1004v5m0 11v1m0 5v1m0 3v1m0 2v1M752.5 996v6m0 6v6m0 6v4m0 2v3m0 1v2m0 1v3M753.5 993v3m0 5v9m0 3v5m0 5v4m0 1v8M754.5 992v1m0 7v2m0 7v2m0 6v6m0 3v10M755.5 992v1m0 7v1m0 8v1m0 12v5m0 4v5M756.5 992v3m0 11v3m0 4v12m0 1v10M757.5 990v1m0 3v4m0 3v5m0 2v5m0 11v4M758.5 990v2m0 5v4m0 4v3m0 3v8m0 8v9M759.5 990v1m0 13v1m0 6v1m0 5v1m0 17v1M760.5 994v7m0 3v3m0 4v6m0 5v3m0 6v4M761.5 993v1m0 6v4m0 2v16m0 2v5m0 2v3M762.5 990v1m0 2v2m0 8v9m0 4v9m0 3v4m0 1v3M763.5 990v3m0 1v4m0 13v5m0 8v5m0 2v5M764.5 990v6m0 1v10m0 21v8M765.5 990v10m0 6v13m0 11v6M766.5 990v3m0 1v4m0 1v8m0 11v12M767.5 992v1m0 4v3m0 6v5m0 14v11M768.5 990v2m0 7v2m0 9v3m0 6v6m0 2v7m0 1v1M769.5 989v1m0 10v2m0 10v7m0 3v5m0 1v7M770.5 1001v5m0 13v3m0 2v4m0 4v4M771.5 989v7m0 9v4m0 7v3m0 2v3m0 3v5M772.5 995v3m0 10v8m0 4v1m0 4v2M773.5 997v3m0 20v1m0 4v1M774.5 999v3m0 18v1m0 4v4m0 3v4M775.5 1001v2m0 17v3m0 5v4M776.5 1002v1m0 19v3M777.5 1002v2m0 20v1M778.5 989v1m0 13v14m0 6v1m0 5v7M779.5 989v1m0 26v1m0 5v1m0 2v4m0 1v6M780.5 994v8m0 13v1m0 4v2m0 2v1m0 2v3m0 2v4M781.5 989v5m0 7v5m0 9v1m0 4v1m0 3v1m0 2v1m0 3v1M782.5 991v6m0 8v1m0 9v2m0 3v2m0 2v12M783.5 989v2m0 5v4m0 5v1m0 10v3m0 2v15M784.5 989v7m0 3v1m0 4v1m0 13v4m0 3v11M785.5 995v2m0 2v2m0 3v1m0 16v15M786.5 996v1m0 3v1m0 3v1m0 22v6M787.5 995v1m0 3v1m0 3v1m0 5v8m0 7v3M788.5 989v6m0 2v2m0 2v2m0 2v4m0 7v1m0 4v3M789.5 989v16m0 11v1m0 3v1m0 3v12M790.5 989v8m0 1v3m0 1v11m0 2v1m0 3v1m0 2v2m0 11v1M791.5 996v2m0 2v2m0 10v1m0 2v2m0 1v1m0 2v1m0 4v5M792.5 988v3m0 5v1m0 3v2m0 10v2m0 2v1m0 1v2m0 1v2m0 3v4M793.5 988v2m0 6v3m0 2v2m0 10v1m0 2v2m0 1v2m0 1v4m0 5v5M794.5 987v1m0 4v14m0 7v1m0 3v2m0 1v4m0 1v6M795.5 989v3m0 5v13m0 2v1m0 5v1m0 4v13M796.5 987v2m0 3v8m0 1v6m0 2v3m0 5v1M797.5 986v1m0 4v1m0 7v3m0 1v14m0 3v16M798.5 991v2m0 8v1m0 3v15m0 2v14M799.5 992v9m0 9v12m0 2v12M800.5 985v1m0 22v2m0 3v11m0 5v7M801.5 985v2m0 8v10m0 3v1m0 2v2m0 15v1M802.5 986v2m0 6v1m0 9v3m0 1v2m0 1v2m0 15v3M803.5 987v2m0 4v1m0 12v1m0 2v2m0 1v3m0 4v10m0 1v6M804.5 983v1m0 4v2m0 2v1m0 13v2m0 2v3m0 1v21M805.5 983v1m0 5v3m0 14v1m0 5v21m0 1v2M806.5 1003v3m0 7v6m0 8v2m0 3v3M807.5 986v3m0 6v8m0 9v1m0 15v1m0 4v1M808.5 982v4m0 2v7m0 4v9m0 4v2m0 12v2m0 3v2M809.5 993v6m0 8v4m0 2v3m0 8v2m0 5v2M810.5 798v7m0 182v6m0 3v13m0 1v3m0 2v4m0 3v2m0 8v4M811.5 794v6m0 7v1m0 3v1m0 1v1m0 173v1m0 7v1m0 12v8m0 2v4m0 10v4M812.5 781v1m0 4v1m0 12v8m0 4v1m0 2v9m0 164v3m0 5v2m0 14v11m0 8v2M813.5 771v3m0 6v1m0 5v2m0 23v6m0 3v4m0 2v1m0 162v2m0 5v5m0 13v5m0 2v6m0 3v2M814.5 764v2m0 2v2m0 3v4m0 3v2m0 5v4m0 25v4m0 3v3m0 164v1m0 9v8m0 10v6m0 2v4m0 1v5M815.5 765v1m0 3v2m0 5v2m0 3v2m0 7v5m0 12v16m0 18v3m0 145v1m0 5v19m0 9v4m0 2v4M816.5 764v1m0 5v1m0 6v2m0 3v3m0 9v6m0 4v3m0 33v1m0 5v2m0 140v1m0 5v1m0 11v12m0 8v3m0 3v4M817.5 761v3m0 6v4m0 4v6m0 15v5m0 13v2m0 20v1m0 6v3m0 138v1m0 6v1m0 5v16m0 1v4m0 7v5M818.5 758v3m0 12v4m0 23v8m0 9v7m0 14v1m0 147v1m0 6v1m0 4v2m0 3v7m0 1v3m0 1v3m0 2v6m0 6v4M819.5 767v7m0 2v4m0 17v3m0 7v6m0 4v1m0 5v28m0 134v1m0 7v1m0 4v1m0 3v1m0 6v3m0 1v3m0 1v3m0 5v11M820.5 758v5m0 4v1m0 5v4m0 2v4m0 12v2m0 4v9m0 2v3m0 2v2m0 14v1m0 3v1m0 6v6m0 1v1m0 131v2m0 8v1m0 4v1m0 2v1m0 9v3m0 1v2m0 2v3M821.5 762v3m0 2v2m0 7v3m0 3v3m0 8v2m0 3v3m0 8v3m0 2v1m0 3v1m0 17v1m0 4v3m0 2v5m0 131v1m0 10v2m0 3v1m0 2v1m0 5v2m0 4v2m0 1v2m0 3v1M822.5 758v3m0 3v2m0 2v2m0 8v3m0 3v9m0 4v1m0 4v5m0 4v1m0 2v1m0 3v1m0 14v3m0 4v1m0 4v1m0 134v2m0 12v1m0 3v1m0 2v2m0 4v1m0 6v1m0 2v1m0 3v1M823.5 760v3m0 2v2m0 2v2m0 9v4m0 12v1m0 5v4m0 4v1m0 2v1m0 4v1m0 7v7m0 6v1m0 5v1m0 134v1m0 12v1m0 4v1m0 3v2m0 8v2m0 3v1m0 3v1M824.5 762v2m0 2v2m0 2v2m0 11v6m0 7v2m0 10v2m0 2v1m0 3v2m0 5v3m0 13v1m0 5v7m0 127v1m0 11v2m0 4v1m0 5v9m0 2v3m0 2v2m0 11v4M825.5 763v2m0 2v2m0 2v2m0 15v4m0 5v2m0 8v1m0 3v1m0 4v1m0 6v1m0 7v4m0 4v4m0 8v4m0 119v2m0 3v2m0 8v2m0 4v2m0 13v4m0 2v3m0 3v5m0 4v1M826.5 764v1m0 3v1m0 3v1m0 7v3m0 8v1m0 6v1m0 8v3m0 1v3m0 2v4m0 1v2m0 6v2m0 3v3m0 5v3m0 6v3m0 121v3m0 2v9m0 3v3m0 13v2m0 4v2m0 3v3m0 4v1m0 3v1M827.5 762v2m0 4v1m0 3v3m0 5v2m0 6v3m0 7v1m0 10v8m0 2v2m0 7v1m0 7v8m0 5v2m0 4v3m0 113v4m0 2v3m0 9v3m0 16v1m0 4v1m0 5v1m0 5v1m0 3v1m0 3v3M828.5 758v4m0 5v1m0 6v14m0 10v2m0 4v7m0 1v7m0 9v1m0 17v3m0 2v4m0 2v4m0 113v2m0 3v10m0 18v1m0 5v3m0 3v6m0 2v2m0 2v2M829.5 764v3m0 10v20m0 2v2m0 3v1m0 5v3m0 2v2m0 1v3m0 7v2m0 15v1m0 4v1m0 9v2m0 104v2m0 7v1m0 12v4m0 9v6m0 8v12m0 1v3M830.5 758v6m0 5v8m0 5v13m0 1v3m0 1v2m0 2v2m0 6v2m0 2v2m0 2v1m0 8v3m0 13v4m0 1v4m0 6v1m0 5v2m0 99v8m0 10v3m0 2v1m0 5v5m0 10v17m0 2v6M831.5 765v4m0 10v3m0 12v2m0 2v2m0 1v3m0 1v4m0 2v2m0 4v1m0 2v2m0 9v29m0 5v2m0 100v7m0 11v5m0 3v3m0 1v10m0 3v1m0 5v14M832.5 758v7m0 14v1m0 14v1m0 4v2m0 2v2m0 3v3m0 6v1m0 3v2m0 16v26m0 93v1m0 4v4m0 6v10m0 5v5m0 1v3m0 3v3m0 3v2m0 2v1m0 3v2M833.5 779v1m0 12v2m0 6v1m0 3v3m0 10v2m0 3v3m0 11v3m0 1v25m0 10v2m0 80v1m0 4v1m0 19v6m0 2v4m0 4v4m0 4v1m0 3v1m0 3v2m0 12v8M834.5 779v2m0 10v1m0 8v3m0 3v4m0 8v2m0 4v3m0 8v1m0 3v1m0 4v2m0 2v14m0 2v5m0 6v1m0 2v2m0 76v1m0 5v1m0 15v12m0 8v2m0 3v3m0 2v2m0 5v13m0 2v6M835.5 780v3m0 7v1m0 11v4m0 3v5m0 4v1m0 7v1m0 7v1m0 4v2m0 3v2m0 7v1m0 3v2m0 2v3m0 4v2m0 5v4m0 75v2m0 5v1m0 15v1m0 8v7m0 6v4m0 1v4m0 10v18M836.5 758v17m0 7v8m0 15v3m0 5v5m0 7v1m0 8v2m0 4v13m0 3v2m0 5v1m0 5v2m0 13v1m0 65v4m0 4v3m0 16v1m0 6v2m0 5v1m0 5v2m0 1v4m0 2v4m0 5v3m0 1v17M837.5 758v2m0 14v5m0 28v3m0 13v2m0 10v21m0 3v4m0 7v2m0 10v2m0 3v1m0 59v3m0 4v4m0 19v2m0 5v7m0 4v2m0 2v1m0 3v3m0 3v2m0 3v1m0 2v2m0 3v5M838.5 759v6m0 13v5m0 25v1m0 14v1m0 19v16m0 12v1m0 9v1m0 5v1m0 4v3m0 8v4m0 12v4m0 4v3m0 9v4m0 7v4m0 4v5m0 15v2m0 9v6m0 2v2m0 4v2m0 4v1m0 3v1m0 3v1m0 4v11M839.5 764v1m0 10v7m0 8v18m0 15v2m0 13v33m0 9v1m0 6v2m0 5v9m0 19v2m0 5v2m0 11v8m0 4v4m0 4v4m0 13v10m0 4v4m0 7v5m0 3v1m0 4v19M840.5 758v6m0 6v5m0 13v2m0 16v15m0 3v4m0 8v2m0 6v14m0 22v2m0 6v27m0 5v3m0 5v2m0 5v9m0 8v2m0 11v5m0 2v9m0 6v6m0 4v15m0 10v14M841.5 767v3m0 17v1m0 8v10m0 3v7m0 4v4m0 3v3m0 5v1m0 7v1m0 13v6m0 18v31m0 2v6m0 5v3m0 3v4m0 8v9m0 6v3m0 8v3m0 8v2m0 4v1m0 8v2m0 5v9m0 8v3m0 2v12M842.5 758v9m0 17v3m0 6v3m0 2v14m0 3v6m0 2v2m0 4v2m0 4v1m0 6v1m0 19v5m0 20v38m0 4v2m0 2v25m0 2v4m0 17v2m0 3v2m0 6v1m0 4v3m0 8v5m0 4v1m0 4v1M843.5 777v7m0 7v2m0 3v2m0 1v11m0 1v6m0 3v1m0 3v1m0 5v1m0 4v1m0 6v2m0 7v8m0 7v6m0 11v4m0 3v4m0 2v7m0 1v5m0 1v3m0 14v2m0 2v2m0 2v12m0 16v4m0 4v9m0 2v3m0 2v7m0 3v2m0 15v3m0 2v3m0 2v12M844.5 758v8m0 7v4m0 14v1m0 3v1m0 2v1m0 2v4m0 4v4m0 3v1m0 2v1m0 3v1m0 5v1m0 5v1m0 7v1m0 7v1m0 6v7m0 6v12m0 5v2m0 3v3m0 6v3m0 3v2m0 2v2m0 13v1m0 2v1m0 2v2m0 11v3m0 6v4m0 7v5m0 8v2m0 3v2m0 10v1m0 19v3m0 2v15M845.5 758v3m0 4v4m0 4v1m0 17v2m0 2v1m0 2v1m0 2v1m0 8v2m0 2v2m0 1v2m0 2v2m0 4v2m0 6v1m0 7v3m0 5v4m0 9v3m0 19v2m0 4v1m0 11v1m0 4v1m0 3v1m0 3v8m0 2v2m0 1v1m0 2v1m0 12v2m0 7v5m0 20v3m0 2v3m0 8v2m0 20v18M846.5 760v5m0 3v2m0 3v1m0 18v2m0 1v2m0 1v2m0 1v3m0 2v4m0 1v6m0 2v2m0 4v2m0 8v1m0 9v6m0 3v5m0 5v2m0 19v1m0 6v1m0 9v2m0 4v1m0 3v1m0 3v1m0 7v3m0 1v1m0 1v2m0 1v1m0 10v2m0 12v1m0 13v5m0 5v3m0 2v3m0 7v4m0 30v5M847.5 764v2m0 3v1m0 3v1m0 4v7m0 8v1m0 2v2m0 1v15m0 2v3m0 6v3m0 1v6m0 15v5m0 3v6m0 6v9m0 6v3m0 4v10m0 4v2m0 3v1m0 3v1m0 3v5m0 2v4m0 1v1m0 1v2m0 9v1m0 15v12m0 4v6m0 2v3m0 2v1m0 10v7m0 24v2M848.5 763v2m0 4v1m0 3v1m0 2v2m0 6v9m0 4v2m0 3v9m0 2v3m0 11v2m0 13v10m0 2v7m0 3v6m0 8v6m0 3v19m0 4v1m0 3v1m0 3v1m0 4v2m0 2v1m0 1v1m0 1v1m0 2v1m0 8v1m0 15v1m0 21v3m0 2v2m0 1v2m0 3v8m0 4v9m0 7v5m0 5v4M849.5 758v5m0 5v1m0 3v1m0 2v1m0 3v9m0 10v8m0 3v4m0 28v1m0 9v4m0 5v4m0 5v12m0 2v15m0 11v1m0 3v1m0 4v1m0 3v2m0 2v1m0 2v1m0 1v1m0 2v2m0 6v1m0 16v9m0 15v1m0 2v1m0 2v1m0 3v1m0 7v7m0 6v8m0 4v7M850.5 758v10m0 2v2m0 2v1m0 4v1m0 7v5m0 12v5m0 31v1m0 13v5m0 6v4m0 11v16m0 1v9m0 2v1m0 4v3m0 2v4m0 3v1m0 3v1m0 1v3m0 1v7m0 2v10m0 7v1m0 5v7m0 6v3m0 2v1m0 2v1m0 3v1m0 14v8m0 17v4M851.5 758v12m0 3v1m0 5v12m0 9v4m0 9v7m0 17v3m0 18v7m0 8v7m0 15v7m0 3v3m0 7v5m0 3v2m0 4v3m0 1v19m0 1v13m0 7v7m0 1v4m0 1v2m0 2v2m0 5v10m0 7v20M852.5 758v15m0 7v11m0 5v4m0 9v4m0 6v5m0 8v5m0 34v2m0 6v3m0 8v10m0 1v3m0 4v8m0 3v4m0 8v30m0 4v25m0 3v4m0 9v10m0 17v3M853.5 758v10m0 6v6m0 10v6m0 11v2m0 14v3m0 5v1m0 39v1m0 7v2m0 8v1m0 9v2m0 2v2m0 3v1m0 6v7m0 6v41m0 8v4m0 2v3m0 3v4m0 9v6m0 7v12M854.5 758v5m0 4v4m0 3v1m0 4v7m0 5v8m0 7v1m0 8v7m0 3v3m0 3v2m0 38v8m0 10v3m0 8v1m0 3v2m0 2v2m0 11v3m0 3v1m0 4v7m0 4v23m0 2v9m0 4v2m0 5v1m0 8v5m0 5v8m0 11v10M855.5 762v4m0 4v2m0 2v1m0 4v2m0 1v3m0 3v3m0 7v6m0 2v1m0 7v1m0 6v5m0 1v4m0 1v4m0 55v9m0 5v2m0 2v2m0 4v5m0 3v2m0 2v2m0 3v1m0 6v4m0 8v7m0 1v4m0 2v4m0 12v1m0 6v2m0 7v1m0 16v22M856.5 758v2m0 5v2m0 4v1m0 2v2m0 4v2m0 4v2m0 3v7m0 5v2m0 1v2m0 6v1m0 10v4m0 1v3m0 2v4m0 21v15m0 22v1m0 8v2m0 2v2m0 3v4m0 5v2m0 2v2m0 2v2m0 5v1m0 16v1m0 5v1m0 5v1m0 12v3m0 5v3m0 5v3M857.5 759v7m0 5v1m0 3v1m0 10v1m0 3v1m0 6v1m0 5v1m0 3v3m0 4v1m0 13v1m0 3v2m0 4v1m0 8v3m0 8v2m0 14v3m0 30v2m0 2v4m0 9v1m0 4v1m0 3v4m0 2v4m0 10v3m0 2v4m0 3v3m0 15v3m0 5v5m0 3v6M858.5 771v1m0 2v1m0 3v6m0 2v3m0 1v7m0 3v3m0 6v2m0 3v1m0 11v2m0 3v2m0 3v2m0 6v3m0 2v3m0 6v1m0 17v1m0 18v4m0 9v4m0 2v10m0 5v2m0 5v4m0 2v23m0 20v8m0 2v7m0 2v4m0 26v2M859.5 758v5m0 5v3m0 2v1m0 2v2m0 5v4m0 1v3m0 7v2m0 10v2m0 2v3m0 4v5m0 1v9m0 3v5m0 7v2m0 5v1m0 15v2m0 5v6m0 7v1m0 3v3m0 10v6m0 13v5m0 4v38m0 15v8m0 1v4m0 2v4m0 15v10M860.5 762v6m0 3v2m0 1v2m0 1v8m0 1v12m0 4v8m0 1v4m0 1v15m0 1v7m0 13v1m0 5v1m0 13v2m0 5v2m0 5v1m0 7v2m0 3v1m0 16v10m0 8v10m0 4v5m0 1v4m0 1v12m0 5v21m0 2v3m0 2v2m0 4v16m0 2v6M861.5 758v4m0 6v3m0 2v1m0 2v1m0 7v3m0 2v3m0 8v2m0 7v18m0 1v4m0 20v1m0 5v1m0 12v1m0 7v7m0 9v4m0 24v2m0 4v19m0 3v3m0 3v2m0 11v7m0 19v2m0 3v1m0 3v1m0 15v7m0 2v6M862.5 761v7m0 4v1m0 3v1m0 9v2m0 3v4m0 2v3m0 5v6m0 2v8m0 3v4m0 22v2m0 5v1m0 13v2m0 47v3m0 3v3m0 2v10m0 1v9m0 5v1m0 19v5m0 13v3m0 3v1m0 4v1m0 10v5m0 3v6M863.5 772v1m0 3v4m0 7v1m0 6v3m0 5v3m0 5v6m0 4v4m0 24v2m0 6v1m0 15v14m0 7v15m0 10v2m0 4v2m0 2v3m0 2v14m0 7v2m0 21v3m0 10v4m0 3v3m0 3v2m0 9v2m0 3v5M864.5 772v4m0 3v8m0 11v4m0 13v4m0 1v28m0 7v1m0 29v2m0 4v2m0 14v2m0 9v1m0 4v1m0 3v1m0 3v2m0 6v6m0 1v8m0 14v9m0 6v7m0 3v4m0 3v3m0 10v1m0 3v2m0 3v4m0 7v3M865.5 775v9m0 6v8m0 17v3m0 37v1m0 30v1m0 3v1m0 16v1m0 10v2m0 3v2m0 2v1m0 3v1m0 12v6m0 12v6m0 4v11m0 6v4m0 4v3m0 11v2m0 3v1m0 4v1m0 3v1m0 4v3M866.5 768v13m0 2v3m0 4v1m0 23v1m0 12v17m0 11v1m0 30v2m0 2v2m0 12v3m0 12v3m0 2v6m0 1v2m0 16v6m0 7v1m0 6v3m0 3v14m0 5v3m0 12v2m0 4v1m0 5v1m0 1v2m0 4v1m0 4v2M867.5 760v8m0 12v3m0 2v2m0 3v2m0 21v1m0 10v3m0 4v8m0 4v3m0 9v1m0 31v1m0 3v3m0 5v5m0 17v4m0 1v10m0 18v2m0 6v1m0 5v1m0 4v2m0 4v5m0 8v2m0 14v1m0 5v1m0 6v2m0 4v2m0 2v3M868.5 758v2m0 8v10m0 4v2m0 2v2m0 3v22m0 10v1m0 4v3m0 7v4m0 3v2m0 8v2m0 30v2m0 4v6m0 17v6m0 2v19m0 12v1m0 6v2m0 4v2m0 3v1m0 4v1m0 4v2m0 6v1m0 14v2m0 5v1m0 11v2m0 3v1M869.5 758v10m0 9v1m0 4v1m0 4v1m0 35v1m0 4v1m0 12v3m0 2v4m0 6v19m0 13v5m0 19v4m0 5v5m0 1v3m0 1v9m0 2v10m0 2v1m0 8v3m0 3v2m0 2v2m0 3v6m0 6v1m0 13v2m0 4v3m0 12v1m0 4v1M870.5 772v5m0 4v1m0 4v1m0 8v19m0 9v1m0 4v2m0 6v3m0 4v3m0 3v2m0 23v4m0 14v12m0 5v3m0 4v4m0 5v3m0 1v3m0 1v5m0 1v6m0 6v3m0 11v2m0 3v2m0 2v4m0 12v1m0 12v1m0 3v3m0 2v11m0 2v4m0 1v6M871.5 758v14m0 3v6m0 1v4m0 8v1m0 4v12m0 2v10m0 6v1m0 4v2m0 2v5m0 2v2m0 3v2m0 25v2m0 23v1m0 4v2m0 3v4m0 3v4m0 4v2m0 2v4m0 2v4m0 3v3m0 19v2m0 3v3m0 3v8m0 5v1m0 12v1m0 2v1m0 3v2m0 10v4m0 2v3M872.5 758v17m0 1v6m0 12v1m0 2v2m0 5v4m0 2v9m0 9v1m0 3v2m0 8v3m0 1v2m0 3v1m0 13v13m0 22v2m0 3v2m0 2v3m0 10v1m0 5v1m0 5v3m0 3v2m0 4v2m0 17v2m0 6v1m0 10v2m0 4v1m0 3v7m0 2v2m0 1v2m0 1v1m0 3v8m0 4v1m0 4v2M873.5 758v18m0 1v13m0 4v1m0 2v1m0 3v3m0 3v10m0 1v10m0 1v3m0 1v9m0 2v1m0 2v1m0 2v1m0 12v2m0 33v2m0 3v2m0 2v2m0 11v2m0 6v3m0 5v2m0 3v2m0 4v18m0 5v3m0 12v2m0 3v1m0 3v1m0 5v3m0 1v2m0 1v1m0 1v2m0 2v2m0 3v2m0 3v2m0 2v4M874.5 758v4m0 7v8m0 12v2m0 3v1m0 2v1m0 3v1m0 14v4m0 7v2m0 1v3m0 2v4m0 2v2m0 1v1m0 2v1m0 1v1m0 4v4m0 4v1m0 3v21m0 9v2m0 3v2m0 2v2m0 10v3m0 10v4m0 3v3m0 2v3m0 8v17m0 16v1m0 3v2m0 2v2m0 6v1m0 2v1m0 1v2m0 1v2m0 2v4m0 2v3m0 1v3m0 1v8M875.5 761v8m0 3v10m0 8v1m0 3v1m0 2v2m0 2v3m0 15v2m0 4v2m0 3v1m0 2v2m0 3v2m0 2v1m0 1v1m0 1v1m0 2v1m0 4v1m0 1v1m0 5v1m0 2v1m0 5v5m0 10v1m0 7v2m0 3v2m0 3v1m0 8v4m0 16v3m0 3v2m0 3v9m0 2v10m0 21v1m0 4v2m0 2v7m0 3v1m0 2v2m0 1v9m0 1v15M876.5 765v7m0 9v1m0 7v1m0 4v2m0 2v4m0 1v5m0 11v1m0 5v3m0 2v2m0 1v6m0 3v1m0 1v1m0 1v1m0 2v1m0 4v2m0 6v1m0 2v2m0 4v4m0 10v1m0 6v2m0 3v2m0 5v2m0 2v5m0 3v9m0 10v2m0 3v2m0 10v3m0 9v13m0 9v3m0 3v4m0 8v1m0 4v1m0 5v1m0 4v1m0 2v1m0 3v1m0 6v2M877.5 758v7m0 15v1m0 8v1m0 5v3m0 3v4m0 2v3m0 8v1m0 8v9m0 3v3m0 1v1m0 2v1m0 2v1m0 12v1m0 3v3m0 6v10m0 5v2m0 3v2m0 8v3m0 4v4m0 8v2m0 10v1m0 3v1m0 11v1m0 21v2m0 12v2m0 5v9m0 3v2m0 11v1m0 2v2m0 2v2m0 5v2M878.5 779v1m0 8v1m0 8v3m0 4v3m0 2v4m0 4v1m0 12v9m0 1v3m0 2v1m0 3v1m0 11v1m0 6v22m0 4v1m0 15v2m0 13v4m0 2v5m0 1v3m0 2v7m0 3v3m0 15v4m0 13v2m0 6v5m0 5v2m0 13v7m0 1v4M879.5 758v7m0 13v1m0 8v1m0 11v1m0 6v2m0 4v5m0 17v6m0 3v2m0 4v1m0 6v5m0 9v5m0 2v5m0 11v1m0 15v1m0 18v3m0 1v10m0 6v3m0 3v2m0 12v2m0 16v1m0 4v4m0 4v3m0 3v1m0 5v9m0 3v7m0 1v5M880.5 758v6m0 13v1m0 9v1m0 7v4m0 8v2m0 6v1m0 13v4m0 9v1m0 6v7m0 4v5m0 5v1m0 3v3m0 4v12m0 16v3m0 8v17m0 1v9m0 3v2m0 3v1m0 12v1m0 16v1m0 3v2m0 3v6m0 1v3m0 1v2m0 4v1m0 7v3m0 3v3m0 1v5M881.5 777v4m0 6v2m0 4v2m0 13v2m0 18v1m0 3v5m0 5v3m0 11v4m0 4v3m0 3v1m0 3v1m0 36v4m0 5v1m0 5v6m0 1v5m0 8v1m0 3v1m0 3v1m0 4v5m0 4v1m0 6v3m0 7v1m0 3v1m0 3v1m0 5v2m0 2v2m0 1v2m0 3v2m0 7v1m0 6v2m0 4v3M882.5 758v17m0 5v4m0 4v1m0 3v1m0 16v3m0 12v4m0 8v1m0 7v4m0 8v1m0 9v1m0 3v1m0 3v1m0 39v3m0 3v2m0 3v1m0 5v2m0 11v2m0 3v1m0 3v1m0 3v2m0 4v3m0 2v2m0 5v2m0 6v2m0 4v1m0 3v2m0 4v1m0 4v1m0 2v1m0 4v8m0 6v2M883.5 758v10m0 6v1m0 8v2m0 3v1m0 3v1m0 18v4m0 5v4m0 12v2m0 9v1m0 8v10m0 3v1m0 4v2m0 13v3m0 24v3m0 2v2m0 2v1m0 5v4m0 6v3m0 4v1m0 3v1m0 3v1m0 8v2m0 2v4m0 6v4m0 4v2m0 5v5m0 3v2m0 2v1m0 15v4m0 7v3M884.5 758v4m0 5v3m0 4v1m0 8v1m0 4v1m0 3v1m0 7v11m0 3v6m0 7v4m0 6v1m0 8v1m0 5v5m0 10v2m0 6v4m0 10v4m0 20v2m0 3v3m0 1v2m0 1v3m0 6v7m0 7v1m0 3v1m0 3v1m0 9v3m0 3v7m0 3v5m0 11v4m0 2v2m0 13v3m0 10v1M885.5 761v5m0 3v2m0 3v2m0 5v2m0 3v2m0 4v1m0 4v3m0 4v3m0 3v4m0 12v1m0 3v1m0 6v2m0 5v2m0 4v2m0 4v11m0 11v5m0 8v5m0 13v4m0 1v5m0 1v6m0 1v16m0 5v1m0 3v2m0 2v2m0 10v2m0 9v3m0 13v3m0 5v1m0 13v2m0 13v1M886.5 765v2m0 3v3m0 2v6m0 2v3m0 2v4m0 3v2m0 3v4m0 2v6m0 1v4m0 9v1m0 3v2m0 6v6m0 5v1m0 32v3m0 5v1m0 4v5m0 5v4m0 2v19m0 12v6m0 5v2m0 2v2m0 10v1m0 9v3m0 11v2m0 8v3m0 9v2m0 5v4m0 6v1M887.5 766v2m0 4v11m0 1v4m0 7v1m0 2v2m0 2v13m0 1v5m0 1v4m0 5v7m0 11v1m0 8v6m0 20v1m0 5v1m0 8v6m0 2v4m0 2v30m0 11v2m0 2v2m0 8v1m0 12v12m0 12v10m0 7v3m0 7v2M888.5 767v4m0 8v5m0 1v8m0 2v1m0 2v1m0 2v1m0 8v2m0 2v3m0 3v2m0 6v21m0 7v2m0 5v2m0 19v3m0 3v2m0 12v3m0 2v4m0 4v22m0 3v3m0 10v2m0 2v3m0 4v2m0 5v15m0 1v12m0 32v3M889.5 758v6m0 6v9m0 3v3m0 7v2m0 1v2m0 1v1m0 2v1m0 8v1m0 5v1m0 5v6m0 1v17m0 10v8m0 13v4m0 5v2m0 3v3m0 10v1m0 4v1m0 3v7m0 1v2m0 1v2m0 1v2m0 9v4m0 2v2m0 10v1m0 4v5m0 5v2m0 14v2m0 11v4m0 31v1M890.5 763v4m0 13v2m0 11v1m0 2v1m0 1v12m0 1v5m0 4v2m0 3v4m0 7v7m0 2v14m0 18v3m0 7v1m0 5v4m0 7v3m0 2v2m0 2v6m0 2v1m0 2v1m0 2v1m0 13v2m0 2v3m0 8v1m0 12v2m0 6v24m0 2v3M891.5 766v2m0 12v2m0 10v1m0 3v2m0 2v17m0 3v2m0 3v1m0 16v14m0 2v10m0 16v3m0 9v5m0 5v18m0 1v2m0 3v5m0 7v2m0 3v5m0 4v1m0 10v2m0 8v2m0 21v3m0 2v2m0 13v7M892.5 767v3m0 11v11m0 5v18m0 1v4m0 1v3m0 1v3m0 27v5m0 7v17m0 6v4m0 6v6m0 3v21m0 4v4m0 5v2m0 6v5m0 11v4m0 7v4m0 20v2m0 2v2m0 12v6M893.5 769v4m0 13v10m0 6v4m0 8v3m0 2v2m0 2v3m0 1v14m0 17v1m0 12v19m0 3v7m0 5v20m0 12v7m0 26v7m0 4v8m0 13v1m0 4v1m0 23v5M894.5 772v4m0 4v6m0 9v3m0 4v1m0 12v1m0 4v2m0 3v5m0 10v7m0 3v8m0 11v2m0 4v15m0 9v3m0 12v6m0 5v14m0 37v4m0 8v5m0 8v1m0 5v1m0 20v3M895.5 775v5m0 17v1m0 4v2m0 7v4m0 5v1m0 8v5m0 12v4m0 7v5m0 7v1m0 4v1m0 14v1m0 11v7m0 6v2m0 9v1m0 7v4m0 1v6m0 7v9m0 8v6m0 5v3m0 10v9m0 6v14m0 7v1M896.5 758v3m0 6v6m0 24v1m0 5v8m0 4v5m0 12v1m0 14v10m0 4v6m0 2v3m0 2v2m0 10v3m0 18v6m0 2v5m0 5v1m0 4v3m0 3v5m0 2v8m0 8v2m0 6v1m0 5v2m0 6v3m0 36v5m0 3v5M897.5 758v2m0 5v2m0 5v4m0 5v5m0 9v2m0 14v4m0 15v2m0 5v4m0 5v1m0 19v4m0 1v15m0 2v9m0 5v9m0 1v5m0 2v3m0 3v2m0 3v1m0 9v4m0 16v2m0 5v1m0 5v1m0 9v14m0 6v17m0 4v12M898.5 764v1m0 10v2m0 4v1m0 3v3m0 5v2m0 15v1m0 17v2m0 4v3m0 3v3m0 3v1m0 4v17m0 1v19m0 8v1m0 3v2m0 8v4m0 2v3m0 2v3m0 2v2m0 2v2m0 11v2m0 6v6m0 4v2m0 4v3m0 2v1m0 7v6m0 10v2m0 4v1m0 3v9m0 4v2m0 11v4M899.5 758v4m0 2v2m0 10v2m0 3v6m0 5v1m0 8v2m0 6v1m0 17v1m0 4v2m0 8v1m0 3v1m0 3v1m0 16v26m0 3v1m0 2v1m0 13v1m0 4v2m0 3v1m0 3v2m0 2v2m0 11v1m0 6v2m0 3v1m0 5v2m0 5v3m0 7v1m0 5v4m0 7v1m0 4v1m0 3v1m0 8v1m0 3v2m0 8v4M900.5 761v2m0 2v2m0 10v3m0 12v2m0 7v2m0 6v1m0 17v1m0 4v1m0 8v1m0 3v1m0 4v1m0 9v25m0 6v1m0 3v1m0 3v1m0 12v1m0 5v1m0 4v1m0 3v1m0 4v2m0 8v2m0 8v4m0 7v2m0 13v1m0 9v8m0 4v1m0 4v1m0 7v1m0 3v1m0 10v3M901.5 762v2m0 2v2m0 4v3m0 4v4m0 10v2m0 6v1m0 6v1m0 18v2m0 3v2m0 5v2m0 3v1m0 4v1m0 9v1m0 12v5m0 7v2m0 5v1m0 3v1m0 3v1m0 9v3m0 4v2m0 3v2m0 2v2m0 3v3m0 6v3m0 6v5m0 11v2m0 12v1m0 20v1m0 5v1m0 6v1m0 4v1m0 12v6M902.5 762v1m0 3v1m0 3v2m0 2v4m0 4v4m0 8v2m0 11v1m0 5v6m0 9v2m0 3v6m0 2v3m0 5v1m0 9v2m0 4v9m0 2v3m0 5v1m0 4v2m0 4v1m0 3v10m0 3v4m0 2v3m0 1v3m0 1v4m0 8v1m0 4v5m0 4v8m0 5v3m0 10v3m0 18v2m0 4v7m0 5v1m0 7v6M903.5 758v4m0 3v1m0 3v1m0 7v1m0 7v1m0 9v1m0 11v1m0 4v1m0 5v4m0 7v12m0 1v15m0 3v2m0 3v1m0 7v3m0 2v2m0 3v1m0 4v1m0 6v3m0 10v4m0 2v21m0 3v1m0 2v2m0 1v13m0 2v4m0 4v2m0 11v2m0 18v3m0 14v4m0 4v11M904.5 764v1m0 4v3m0 2v3m0 5v3m0 9v1m0 12v1m0 4v2m0 7v3m0 12v6m0 7v2m0 5v3m0 2v2m0 2v1m0 3v5m0 1v3m0 1v2m0 2v1m0 4v2m0 7v11m0 2v4m0 1v3m0 1v7m0 1v5m0 2v2m0 1v1m0 2v1m0 2v1m0 3v7m0 2v4m0 2v6m0 13v2m0 9v6m0 4v4m0 14v6m0 3v7M905.5 763v1m0 7v3m0 3v5m0 7v5m0 6v2m0 5v3m0 3v6m0 4v2m0 9v2m0 14v1m0 7v1m0 3v1m0 2v1m0 2v1m0 4v3m0 1v2m0 1v2m0 1v2m0 4v1m0 14v6m0 2v3m0 1v3m0 1v2m0 2v3m0 4v1m0 2v1m0 2v1m0 1v1m0 2v1m0 4v1m0 5v1m0 5v4m0 19v1m0 8v1m0 5v3m0 5v2m0 6v21M906.5 763v14m0 2v10m0 3v8m0 1v6m0 2v4m0 5v10m0 6v1m0 15v1m0 6v1m0 4v1m0 2v1m0 2v1m0 6v1m0 2v1m0 1v1m0 2v1m0 4v1m0 9v6m0 6v2m0 2v2m0 2v2m0 2v2m0 7v1m0 2v1m0 1v1m0 2v1m0 2v3m0 2v6m0 9v15m0 5v1m0 8v1m0 7v1m0 6v1m0 5v1m0 6v5m0 1v6m0 2v3M907.5 768v11m0 6v7m0 2v11m0 1v5m0 1v6m0 5v2m0 2v3m0 4v2m0 13v1m0 6v1m0 5v1m0 2v2m0 1v7m0 1v2m0 1v1m0 2v1m0 3v2m0 10v2m0 8v2m0 4v1m0 3v1m0 3v1m0 6v2m0 2v1m0 2v1m0 2v2m0 3v12m0 6v5m0 9v1m0 5v2m0 6v1m0 8v1m0 5v1m0 6v1m0 4v2m0 4v4m0 3v3M908.5 758v10m0 3v14m0 4v5m0 2v7m0 1v5m0 1v4m0 3v3m0 4v1m0 4v2m0 4v1m0 11v2m0 7v1m0 5v2m0 2v16m0 1v3m0 13v4m0 5v2m0 4v1m0 3v1m0 3v3m0 3v1m0 4v1m0 2v1m0 3v18m0 3v1m0 4v3m0 6v1m0 7v7m0 8v1m0 5v1m0 7v2m0 3v3m0 6v1m0 4v1M909.5 758v13m0 17v1m0 4v3m0 6v5m0 1v3m0 2v4m0 2v2m0 3v2m0 3v1m0 4v1m0 10v2m0 9v1m0 6v16m0 1v3m0 19v3m0 4v2m0 3v2m0 2v2m0 4v4m0 4v1m0 3v2m0 5v16m0 2v2m0 4v1m0 5v2m0 13v3m0 7v1m0 4v1m0 9v4m0 2v7m0 4v1M910.5 762v10m0 16v1m0 3v1m0 4v7m0 2v2m0 2v3m0 3v2m0 2v2m0 3v2m0 1v1m0 5v1m0 10v1m0 10v1m0 15v4m0 2v2m0 4v8m0 12v3m0 3v2m0 3v2m0 2v2m0 11v1m0 4v2m0 1v3m0 5v3m0 2v2m0 1v1m0 1v2m0 2v1m0 4v1m0 4v1m0 9v6m0 2v5m0 3v1m0 4v1m0 12v5m0 7v2"/>
<path stroke="#fff" stroke-width="1" fill="none" d="M603.5 877v2m0 1v7m0 2v1m0 1v1m0 3v1m0 2v1m0 1v1m0 1v2m0 2v11m0 1v10m0 1v10M604.5 876v1m0 1v9m0 2v1m0 1v1m0 3v1m0 1v1m0 1v1m0 7v1m0 1v7m0 1v12m0 1v8M605.5 875v3m0 2v8m0 1v1m0 1v1m0 3v2m0 1v1m0 3v5m0 4v6m0 1v1m0 1v8m0 2v9M606.5 874v1m0 2v12m0 1v1m0 7v1m0 1v2m0 9v5m0 2v6m0 1v1m0 1v1m0 3v3m0 4v1M607.5 873v1m0 6v8m0 1v1m0 7v1m0 1v1m0 5v6m0 2v5m0 1v1m0 1v4m0 2v1m0 2v1m0 1v2m0 4v1M608.5 872v6m0 1v1m0 1v8m0 8v1m0 1v1m0 4v1m0 9v2m0 1v1m0 1v5m0 3v2m0 1v1m0 1v2m0 2v2M609.5 871v2m0 4v4m0 1v8m0 7v3m0 4v1m0 2v3m0 5v1m0 1v1m0 3v4m0 3v2m0 2v2m0 1v1m0 2v1M610.5 871v1m0 1v18m0 1v5m0 1v3m0 3v2m0 1v1m0 1v1m0 5v1m0 1v1m0 4v1m0 1v1m0 7v5m0 1v1M611.5 870v3m0 4v3m0 1v1m0 1v7m0 1v1m0 4v6m0 3v4m0 6v1m0 1v1m0 4v1m0 1v2m0 6v5m0 1v1M612.5 869v1m0 1v1m0 3v7m0 2v12m0 1v3m0 1v7m0 7v1m0 1v1m0 4v1m0 2v1m0 3v10M613.5 870v1m0 2v2m0 2v13m0 1v1m0 3v1m0 1v1m0 1v1m0 5v4m0 6v1m0 1v1m0 4v1m0 2v3m0 1v1m0 3v6M614.5 869v1m0 1v2m0 2v8m0 1v7m0 3v1m0 1v1m0 2v1m0 1v9m0 1v2m0 2v1m0 1v2m0 3v1m0 4v2m0 5v5M615.5 868v1m0 1v1m0 3v1m0 3v7m0 1v8m0 1v1m0 1v2m0 1v1m0 1v7m0 1v1m0 1v2m0 1v2m0 1v4m0 12v5M616.5 866v4m0 1v3m0 2v8m0 2v6m0 1v4m0 3v2m0 2v6m0 3v1m0 2v3m0 16v4M617.5 865v3m0 1v2m0 5v1m0 1v5m0 3v9m0 1v14m0 3v8m0 13v1m0 1v3M618.5 865v4m0 3v5m0 1v6m0 1v1m0 1v16m0 1v24m0 5v1m0 2v3M619.5 864v9m0 2v3m0 1v7m0 1v5m0 1v3m0 2v5m0 1v25m0 4v1m0 2v3M620.5 863v6m0 1v1m0 1v7m0 1v3m0 1v1m0 2v1m0 1v1m0 1v12m0 1v7m0 1v4m0 1v10m0 1v1m0 4v6M621.5 864v3m0 1v1m0 1v2m0 1v2m0 1v2m0 1v5m0 2v1m0 2v1m0 1v1m0 1v1m0 3v32m0 5v5M622.5 865v2m0 1v1m0 1v2m0 1v1m0 2v1m0 2v3m0 1v3m0 1v2m0 2v5m0 1v6m0 1v7m0 1v4m0 2v10m0 1v2m0 3v5M623.5 861v1m0 3v3m0 1v1m0 1v2m0 2v1m0 2v3m0 4v10m0 1v16m0 1v4m0 1v11m0 1v2m0 3v4M624.5 861v2m0 2v2m0 1v1m0 3v3m0 2v3m0 1v2m0 1v11m0 1v6m0 3v6m0 2v4m0 1v1m0 1v9m0 2v1m0 3v4M625.5 860v1m0 1v1m0 1v4m0 2v11m0 1v20m0 3v6m0 2v7m0 1v10m0 4v4M626.5 860v1m0 1v2m0 1v3m0 2v11m0 2v14m0 1v5m0 1v1m0 1v3m0 1v1m0 2v17m0 4v1m0 1v1m0 1v1M627.5 860v1m0 4v2m0 3v11m0 2v13m0 2v12m0 4v1m0 1v13m0 4v1m0 2v1m0 1v1M628.5 860v3m0 1v17m0 2v12m0 3v11m0 5v8m0 1v6m0 1v3m0 2v1m0 1v1M629.5 862v2m0 1v16m0 2v6m0 2v5m0 2v10m0 7v12m0 1v2m0 4v1m0 1v1M630.5 859v6m0 1v15m0 2v9m0 1v2m0 1v11m0 1v3m0 5v13m0 1v4m0 1v1m0 1v2M631.5 857v6m0 2v1m0 1v1m0 1v5m0 1v6m0 1v12m0 2v1m0 1v6m0 1v1m0 1v1m0 2v1m0 1v3m0 1v10m0 2v2m0 4v1m0 1v1M632.5 858v1m0 1v4m0 1v1m0 1v1m0 1v13m0 1v10m0 1v2m0 1v1m0 1v4m0 2v1m0 1v1m0 2v1m0 1v1m0 1v2m0 1v13m0 1v3m0 1v4M633.5 856v4m0 1v14m0 1v6m0 1v11m0 3v1m0 2v3m0 2v2m0 3v1m0 1v1m0 1v2m0 2v3m0 1v4m0 1v3m0 1v2m0 2v4M634.5 856v2m0 1v5m0 2v23m0 1v1m0 2v2m0 1v1m0 3v2m0 3v2m0 3v2m0 2v2m0 3v3m0 1v2m0 2v3m0 1v1m0 2v1m0 1v3M635.5 855v1m0 1v2m0 2v14m0 1v8m0 1v5m0 1v2m0 1v2m0 3v1m0 1v7m0 2v2m0 2v3m0 2v3m0 1v2m0 2v3m0 1v1m0 2v1m0 1v3M636.5 854v5m0 2v9m0 1v5m0 1v8m0 1v2m0 3v1m0 6v1m0 1v8m0 2v2m0 2v1m0 1v4m0 1v5m0 1v4m0 1v2m0 2v3M637.5 854v1m0 1v3m0 1v15m0 2v9m0 1v1m0 2v1m0 7v11m0 1v3m0 1v1m0 1v1m0 1v1m0 3v10m0 4v3M638.5 853v2m0 1v4m0 1v4m0 1v7m0 1v1m0 1v1m0 1v8m0 1v3m0 2v5m0 1v12m0 2v2m0 3v1m0 1v6m0 1v13M639.5 853v12m0 1v4m0 1v5m0 1v1m0 1v1m0 1v7m0 2v2m0 4v6m0 2v5m0 3v2m0 3v2m0 2v15m0 1v2M640.5 852v3m0 2v3m0 1v4m0 1v4m0 1v3m0 2v1m0 1v1m0 5v1m0 1v1m0 1v2m0 1v21m0 1v2m0 1v1m0 1v1m0 3v15m0 1v1M641.5 852v8m0 1v8m0 3v6m0 2v3m0 1v1m0 1v1m0 1v1m0 1v1m0 1v3m0 1v7m0 2v6m0 3v3m0 1v2m0 2v4m0 1v11M642.5 851v1m0 1v3m0 2v4m0 1v1m0 1v11m0 4v1m0 1v1m0 1v1m0 1v4m0 1v1m0 2v8m0 1v15m0 1v2m0 2v1m0 3v12M643.5 853v3m0 2v3m0 2v2m0 1v5m0 8v1m0 2v1m0 1v2m0 1v5m0 3v7m0 1v1m0 1v8m0 1v1m0 1v6m0 1v1m0 3v5m0 2v5M644.5 850v1m0 2v4m0 2v1m0 3v1m0 1v3m0 1v1m0 2v3m0 4v1m0 2v2m0 1v8m0 1v1m0 1v9m0 2v4m0 1v5m0 2v4m0 1v15M645.5 851v7m0 6v2m0 1v1m0 2v7m0 1v1m0 4v2m0 1v8m0 2v8m0 2v1m0 1v1m0 1v3m0 1v8m0 2v10M646.5 850v1m0 1v4m0 1v1m0 6v3m0 2v9m0 2v3m0 1v9m0 3v12m0 4v1m0 1v11m0 1v8M647.5 849v1m0 1v1m0 1v4m0 2v3m0 1v3m0 3v8m0 2v1m0 2v12m0 2v17m0 1v4m0 2v4m0 1v1m0 1v8M648.5 849v2m0 2v6m0 1v1m0 1v1m0 1v2m0 2v10m0 1v1m0 1v13m0 2v16m0 1v1m0 1v9m0 1v1m0 1v8m0 3v1M649.5 849v2m0 2v5m0 2v1m0 1v2m0 1v1m0 2v10m0 1v2m0 3v1m0 1v15m0 2v9m0 1v1m0 1v4m0 2v3m0 1v1m0 1v11M650.5 848v1m0 1v1m0 2v4m0 3v2m0 1v1m0 1v1m0 2v9m0 2v3m0 2v1m0 1v1m0 1v13m0 2v10m0 2v5m0 1v1m0 1v1m0 1v4m0 1v6m0 1v2M651.5 847v2m0 1v1m0 2v4m0 2v2m0 1v1m0 2v8m0 1v3m0 2v1m0 1v1m0 2v11m0 1v11m0 1v4m0 3v6m0 1v13m0 2v2M652.5 847v1m0 1v1m0 3v9m0 3v3m0 1v7m0 1v11m0 1v5m0 2v5m0 1v5m0 1v1m0 1v3m0 2v1m0 1v13m0 1v4m0 1v1m0 1v1M653.5 849v1m0 3v12m0 4v6m0 1v1m0 1v3m0 2v25m0 2v19m0 1v3m0 1v2m0 2v1M654.5 846v3m0 4v12m0 1v2m0 2v8m0 1v10m0 1v5m0 1v12m0 3v2m0 2v1m0 2v11m0 1v4m0 4v1M655.5 845v1m0 5v14m0 1v10m0 1v1m0 1v1m0 2v12m0 1v19m0 1v14m0 1v4M656.5 845v1m0 4v1m0 2v7m0 1v7m0 1v9m0 1v1m0 1v2m0 1v5m0 1v12m0 1v15m0 1v16m0 1v3M657.5 845v1m0 4v2m0 1v8m0 1v17m0 2v3m0 1v5m0 1v2m0 2v7m0 1v18m0 3v5m0 1v6m0 1v2M658.5 845v1m0 2v2m0 1v1m0 1v1m0 1v3m0 2v1m0 1v17m0 1v3m0 3v2m0 3v18m0 2v9m0 1v18M659.5 845v3m0 1v10m0 1v2m0 1v8m0 1v7m0 1v8m0 3v1m0 3v7m0 1v19m0 1v15M660.5 850v8m0 1v2m0 3v5m0 1v1m0 1v1m0 1v5m0 1v4m0 1v3m0 3v1m0 3v15m0 1v18m0 1v8M661.5 844v2m0 5v8m0 1v1m0 1v2m0 1v3m0 2v1m0 1v6m0 2v3m0 2v3m0 3v1m0 1v9m0 1v8m0 1v16m0 3v8M662.5 843v1m0 1v2m0 6v5m0 1v3m0 1v3m0 1v1m0 2v13m0 2v3m0 2v3m0 1v8m0 1v9m0 1v9m0 1v5m0 3v8M663.5 842v1m0 3v1m0 3v10m0 1v5m0 1v11m0 1v4m0 2v2m0 2v1m0 1v12m0 1v8m0 1v1m0 1v13m0 3v8M664.5 842v1m0 3v2m0 1v1m0 2v14m0 1v11m0 2v7m0 2v14m0 1v9m0 2v2m0 1v3m0 1v6m0 4v7M665.5 842v1m0 4v3m0 1v1m0 2v14m0 1v34m0 1v12m0 1v1m0 1v3m0 1v6m0 4v6M666.5 842v1m0 5v2m0 1v1m0 1v22m0 1v2m0 1v15m0 2v7m0 1v11m0 1v1m0 2v1m0 2v1m0 1v1m0 1v1m0 1v2m0 4v5"/>
<path stroke="#fff" stroke-width="1" fill="none" d="M590.5 941v1m0 1v3m0 1v1m0 2v2m0 1v2m0 4v2m0 1v1m0 2v2M591.5 941v1m0 3v3m0 3v4m0 5v1m0 1v1m0 2v3M592.5 941v1m0 4v2m0 3v4m0 5v1m0 1v1m0 2v3M593.5 941v2m0 3v2m0 1v6m0 5v1m0 1v1m0 1v1m0 1v2M594.5 942v3m0 1v3m0 1v5m0 5v2m0 2v1m0 1v2M595.5 942v1m0 1v5m0 1v5m0 9v1m0 1v1M596.5 945v4m0 1v5m0 9v1M597.5 945v4m0 1v4m0 10v1M598.5 945v8m0 11v1M599.5 945v3m0 1v1m0 1v2m0 11v1M600.5 941v3m0 1v3m0 3v2m0 6v2m0 2v1M601.5 940v1m0 2v2m0 1v2m0 3v2m0 6v3m0 1v1M602.5 940v1m0 5v2m0 2v2m0 7v1m0 1v1m0 1v2M603.5 940v1m0 5v2m0 2v2m0 6v1m0 2v1m0 2v1M604.5 940v1m0 5v2m0 2v2m0 6v1m0 2v1m0 2v1M605.5 940v3m0 3v4m0 1v1m0 6v1m0 2v2m0 1v1M606.5 940v4m0 2v1m0 1v2m0 1v1m0 6v1m0 3v1m0 1v1M607.5 941v1m0 1v3m0 2v1m0 2v1m0 6v1m0 3v1m0 1v1M608.5 940v1m0 3v2m0 4v1m0 7v1m0 3v1m0 1v1m0 2v1M609.5 940v1m0 3v1m0 5v1m0 7v1m0 3v1m0 1v1m0 2v1M610.5 940v1m0 9v1m0 7v1m0 3v1m0 1v1m0 2v1M611.5 940v1m0 8v1m0 8v1m0 3v1m0 1v1m0 2v1M612.5 940v1m0 8v1m0 8v1m0 3v1m0 1v2m0 1v1M613.5 940v2m0 7v1m0 7v1m0 4v1m0 2v1m0 1v1M614.5 941v1m0 7v1m0 7v1m0 4v1m0 2v1m0 1v1M615.5 941v1m0 7v1m0 7v1m0 4v1m0 2v1m0 1v1M616.5 941v1m0 1v3m0 3v1m0 7v1m0 4v1m0 2v3M617.5 941v1m0 1v1m0 1v1m0 3v1m0 7v1m0 4v2m0 2v1M618.5 941v1m0 1v1m0 1v1m0 3v1m0 7v1m0 5v1m0 3v1M619.5 941v2m0 2v1m0 3v1m0 7v1m0 5v2m0 2v1M620.5 941v2m0 2v1m0 3v2m0 6v1m0 6v1m0 2v1M621.5 941v2m0 2v1m0 4v1m0 6v1m0 6v2m0 1v1M622.5 941v2m0 2v1m0 4v1m0 6v1m0 7v1m0 1v1M623.5 940v1m0 1v2m0 1v1m0 4v1m0 6v1m0 7v1m0 1v1M624.5 940v1m0 2v1m0 1v1m0 4v1m0 6v2m0 1v3m0 2v2M625.5 943v2m0 5v1m0 7v1m0 1v1m0 1v1M626.5 950v1m0 7v5M627.5 950v1m0 8v1m0 1v2M628.5 941v2m0 7v1m0 8v1m0 1v2M629.5 941v3m0 6v1m0 5v2m0 1v1m0 1v1M630.5 941v1m0 1v1m0 6v2m0 4v5M631.5 940v1m0 2v1m0 7v3m0 2v1m0 1v1m0 1v1m0 5v2M632.5 940v1m0 2v1m0 7v1m0 1v1m0 1v1m0 2v1m0 1v1m0 5v2M633.5 940v1m0 2v1m0 8v1m0 2v1m0 2v1m0 1v1m0 5v1M634.5 940v1m0 2v1m0 8v1m0 2v2m0 1v1m0 1v1m0 5v1M635.5 940v1m0 2v1m0 7v1m0 4v1m0 1v1m0 1v1m0 5v1M636.5 940v1m0 2v1m0 7v1m0 4v2m0 2v1m0 5v1M637.5 940v2m0 1v1m0 6v1m0 9v1m0 5v1M638.5 941v2m0 7v1m0 3v2m0 4v1m0 5v1M639.5 949v1m0 3v1m0 1v1m0 3v1m0 6v1M640.5 949v1m0 2v1m0 2v1m0 3v1m0 6v1M641.5 948v1m0 2v1m0 3v1m0 2v1m0 7v2M642.5 945v2m0 1v1m0 1v1m0 4v1m0 2v1m0 8v1M643.5 945v2m0 1v2m0 5v1m0 1v1m0 3v2m0 4v1M644.5 940v2m0 3v2m0 1v2m0 5v1m0 1v1m0 2v1m0 1v1m0 3v1M645.5 940v2m0 3v2m0 1v2m0 5v1m0 1v1m0 2v1m0 1v2m0 2v1M646.5 941v2m0 2v4m0 1v3m0 1v1m0 2v1m0 1v1m0 3v1m0 2v1M647.5 942v1m0 2v5m0 2v1m0 1v1m0 2v1m0 1v1m0 3v2m0 1v1M648.5 942v1m0 1v1m0 1v4m0 2v2m0 3v1m0 1v1m0 4v2M649.5 942v1m0 1v1m0 1v4m0 1v1m0 1v1m0 3v2m0 2v2M650.5 942v1m0 1v1m0 1v4m0 1v1m0 1v1m0 3v2m0 1v1m0 1v2M651.5 942v1m0 1v1m0 1v7m0 1v5m0 1v1m0 2v1M652.5 942v1m0 1v1m0 1v3m0 1v1m0 1v2m0 2v2m0 2v1m0 2v1M653.5 942v1m0 1v1m0 1v4m0 2v2m0 2v1m0 3v1m0 2v1M654.5 942v1m0 1v1m0 1v1m0 1v2m0 1v1m0 1v1m0 2v1m0 3v1m0 2v2M655.5 942v1m0 1v3m0 1v2m0 1v2m0 2v1m0 4v1m0 3v1M656.5 942v1m0 2v2m0 1v3m0 1v1m0 2v1m0 4v1m0 3v1M657.5 942v1m0 2v2m0 1v1m0 3v1m0 2v1m0 4v1m0 3v1M658.5 942v1m0 2v5m0 2v1m0 2v1m0 4v1m0 2v1M659.5 942v1m0 2v1m0 1v1m0 1v1m0 2v1m0 1v1m0 5v1m0 2v1m0 2v2M660.5 942v1m0 2v3m0 1v1m0 2v2m0 6v1m0 2v1m0 1v1m0 1v1M661.5 942v1m0 3v2m0 1v1m0 2v1m0 7v1m0 2v1m0 1v1m0 1v1M662.5 942v1m0 3v2m0 1v2m0 9v1m0 2v1m0 1v1m0 1v1M663.5 940v1m0 1v1m0 3v2m0 2v1m0 9v1m0 2v1m0 1v1m0 1v1M664.5 940v1m0 1v1m0 3v1m0 3v1m0 9v1m0 2v1m0 1v1m0 1v1M665.5 940v1m0 1v1m0 7v1m0 6v2m0 1v1m0 2v2m0 2v1"/>
<path stroke="#fff" stroke-width="1" fill="none" d="M662.5 844v1M663.5 846v1M664.5 837v1m0 5v2m0 6v2M665.5 843v3M666.5 854v1M667.5 841v3m0 2v2m0 1v1M669.5 838v2m0 7v2M670.5 838v2m0 4v4m0 2v2M671.5 833v1m0 8v3m0 4v4m0 2v1M672.5 835v2m0 4v10M673.5 834v2m0 3v3m0 6v2M674.5 830v2m0 3v2m0 15v2M675.5 837v7m0 7v3M676.5 830v1m0 8v3m0 4v1m0 4v3M677.5 828v4m0 1v2M678.5 829v2m0 2v3m0 14v3M679.5 836v3m0 2v4M680.5 831v1m0 3v2m0 10v4M681.5 825v1m0 6v3m0 1v4m0 3v4m0 4v4M682.5 829v5m0 11v2m0 8v2m0 42v1m0 43v2M683.5 832v2m0 1v2m0 5v5m0 2v1m0 101v2M684.5 826v4m0 4v2m0 3v1m0 2v3m0 2v3m0 5v1m0 43v2m0 3v1m0 6v4m0 16v2m0 15v1m0 1v1M685.5 828v1m0 1v8m0 3v1m0 2v2m0 4v1m0 4v1m0 45v1m0 18v2m0 2v1m0 14v3M686.5 821v3m0 6v3m0 2v5m0 6v6m0 56v1m0 4v5m0 11v2m0 8v3M687.5 820v3m0 7v1m0 5v1m0 20v2m0 37v3m0 9v1m0 13v2m0 18v1m0 6v3M688.5 819v4m0 4v6m0 3v1m0 2v1m0 2v2m0 7v6m0 53v2m0 10v1m0 3v2m0 15v1m0 3v3m0 5v1M689.5 825v2m0 3v7m0 2v6m0 1v4m0 1v1m0 60v3m0 1v4m0 8v1m0 14v7M690.5 818v2m0 4v3m0 2v3m0 1v7m0 7v3m0 62v1m0 5v1m0 2v1m0 20v1m0 5v1m0 6v2M691.5 819v2m0 1v10m0 3v6m0 3v3m0 3v2m0 6v1m0 36v2m0 10v1m0 9v2m0 8v3m0 10v1m0 3v4M692.5 818v4m0 4v2m0 1v1m0 2v1m0 3v6m0 69v1m0 4v3m0 6v1m0 4v1m0 4v1m0 14v1m0 3v2M693.5 817v6m0 5v2m0 2v3m0 6v7m0 48v1m0 5v12m0 2v2m0 3v4m0 4v5m0 5v4m0 2v8M694.5 815v1m0 8v3m0 4v1m0 3v3m0 4v4m0 8v2m0 42v1m0 3v4m0 1v2m0 3v1m0 4v4m0 15v5m0 4v1m0 3v1M695.5 814v1m0 3v2m0 5v1m0 2v2m0 8v2m0 8v2m0 50v1m0 10v2m0 9v2m0 23v3M696.5 825v4m0 3v10m0 4v3m0 1v5m0 43v1m0 4v1m0 8v5m0 4v2m0 2v3m0 19v2M697.5 821v1m0 1v1m0 12v3m0 6v4m0 59v6m0 4v1m0 2v5m0 13v2m0 8v1M698.5 815v1m0 4v4m0 5v2m0 9v5m0 8v1m0 52v2m0 9v1m0 2v2m0 4v2m0 11v1m0 14v2M699.5 815v4m0 2v2m0 1v4m0 1v2m0 1v3m0 3v6m0 10v2m0 46v11m0 5v1m0 20v4m0 3v2M700.5 810v1m0 2v1m0 4v5m0 2v4m0 6v1m0 2v1m0 2v2m0 2v2m0 5v4m0 48v4m0 1v8m0 2v1m0 2v3m0 6v9m0 4v5m0 2v2m0 6v1M701.5 809v5m0 8v4m0 7v4m0 8v1m0 3v2m0 2v2m0 53v7m0 2v2m0 2v3m0 1v4m0 9v3m0 8v2M702.5 812v5m0 2v1m0 2v7m0 18v4m0 8v2m0 41v2m0 1v3m0 17v2m0 12v2M703.5 812v1m0 10v4m0 7v4m0 3v1m0 5v4m0 3v1m0 47v4m0 1v2m0 6v1m0 28v3M704.5 807v2m0 11v3m0 5v1m0 12v2m0 58v1m0 9v1m0 14v1m0 16v3m0 2v3M705.5 810v3m0 2v1m0 3v1m0 3v3m0 21v4m0 3v1m0 44v8m0 1v2m0 17v2m0 22v1M706.5 805v1m0 3v2m0 14v2m0 4v3m0 4v3m0 1v2m0 57v1m0 7v4M707.5 804v3m0 18v2m0 3v2m0 6v2m0 58v4m0 5v2m0 9v3m0 2v2m0 5v1m0 7v1M708.5 806v6m0 4v6m0 4v2m0 13v3m0 4v2m0 1v2m0 42v2m0 7v3m0 2v3m0 2v1m0 2v7m0 4v1m0 7v1m0 2v2M709.5 805v1m0 2v4m0 1v4m0 1v1m0 3v3m0 4v1m0 3v18m0 5v1m0 46v8m0 1v1m0 3v1m0 3v4m0 5v1m0 9v3m0 5v1M710.5 802v4m0 3v4m0 2v3m0 17v12m0 3v1m0 10v2m0 34v1m0 5v2m0 3v3m0 2v3m0 5v5m0 2v1m0 22v4M711.5 801v2m0 1v3m0 2v3m0 11v2m0 2v2m0 10v2m0 2v6m0 7v1m0 45v2m0 2v3m0 2v1m0 7v1m0 5v4m0 12v2m0 3v3M712.5 799v5m0 1v4m0 12v3m0 5v3m0 14v5m0 2v2m0 51v1m0 7v1m0 6v3m0 2v3m0 13v2m0 4v2m0 2v4M713.5 798v5m0 1v1m0 10v1m0 3v6m0 4v2m0 11v2m0 5v2m0 51v5m0 10v4m0 5v2m0 16v2m0 13v2M714.5 797v21m0 2v14m0 3v8m0 2v1m0 1v5m0 1v3m0 43v3m0 2v3m0 2v1m0 2v12m0 1v3m0 14v5m0 3v2M715.5 796v2m0 5v10m0 2v2m0 8v2m0 2v10m0 1v2m0 3v2m0 3v4m0 4v2m0 31v1m0 6v2m0 9v3m0 3v17m0 11v5m0 7v3M716.5 796v4m0 2v4m0 2v4m0 2v1m0 7v1m0 1v3m0 10v2m0 1v1m0 11v2m0 45v3m0 6v1m0 6v1m0 3v2m0 1v3m0 28v1M717.5 795v7m0 14v16m0 5v1m0 2v1m0 62v3m0 1v5m0 5v1m0 3v2m0 13v3m0 2v2m0 4v2M718.5 794v2m0 6v1m0 13v3m0 11v1m0 1v1m0 7v1m0 5v1m0 58v1m0 5v1m0 5v1m0 16v2m0 4v1m0 7v2M719.5 793v5m0 3v2m0 11v1m0 35v1m0 58v2M720.5 796v1m0 14v1m0 3v3m0 12v3m0 80v1m0 8v2m0 21v3M721.5 801v1m0 2v1m0 3v1m0 7v6m0 5v3m0 6v1m0 3v2m0 1v2m0 5v2m0 5v2m0 44v9m0 2v2m0 2v2m0 30v3M722.5 809v15m0 4v1m0 2v1m0 5v2m0 1v2m0 63v1m0 9v1m0 1v6m0 18v2m0 4v3M723.5 790v3m0 9v3m0 4v3m0 21v3m0 7v1m0 2v1m0 52v3m0 8v1m0 31v5M724.5 793v1m0 18v2m0 9v1m0 20v5m0 44v1m0 9v3m0 1v6m0 4v5m0 7v1m0 11v3m0 1v4M725.5 791v2m0 2v2m0 7v1m0 5v6m0 2v2m0 2v4m0 4v10m0 4v2m0 1v1m0 5v1m0 42v4m0 1v5m0 4v4m0 2v1m0 3v3m0 1v1m0 4v1m0 9v2m0 1v2m0 2v3m0 9v1M726.5 799v3m0 5v3m0 2v4m0 3v4m0 3v5m0 9v9m0 2v3m0 50v1m0 3v1m0 8v3m0 2v3m0 11v1m0 8v2m0 1v1M727.5 795v6m0 2v2m0 24v4m0 2v2m0 4v3m0 1v3m0 58v1m0 2v3m0 2v3m0 7v1m0 9v5m0 5v1m0 4v1M728.5 797v10m0 5v2m0 2v5m0 3v2m0 5v2m0 4v2m0 6v1m0 10v1m0 42v2m0 1v4m0 5v4m0 3v2m0 8v3m0 13v1m0 2v2M729.5 793v8m0 6v2m0 4v3m0 3v3m0 9v8m0 2v3m0 4v2m0 5v4m0 49v1m0 2v1m0 1v9m0 1v1m0 19v1m0 4v3M730.5 810v2m0 7v4m0 3v1m0 2v4m0 3v4m0 3v3m0 3v1m0 2v2m0 49v4m0 3v3m0 5v2m0 3v1m0 4v1m0 19v2M731.5 802v2m0 3v1m0 3v3m0 2v5m0 1v3m0 1v5m0 3v1m0 3v3m0 2v3m0 10v1m0 44v1m0 4v2m0 5v8m0 8v1m0 5v1m0 4v4M732.5 787v2m0 3v4m0 6v1m0 3v2m0 3v5m0 2v1m0 2v3m0 7v4m0 7v3m0 3v4m0 4v1m0 46v1m0 7v2m0 3v3m0 2v2m0 20v2M733.5 795v2m0 3v1m0 12v2m0 4v2m0 2v2m0 5v3m0 3v3m0 2v3m0 56v5m0 15v2m0 21v1m0 1v1M734.5 796v2m0 12v1m0 3v2m0 3v1m0 1v2m0 3v1m0 4v2m0 3v2m0 3v5m0 68v2m0 22v2m0 10v2M735.5 789v1m0 5v5m0 6v1m0 8v2m0 10v3m0 11v9m0 2v1m0 56v2m0 3v2m0 4v2m0 21v2m0 2v1M736.5 797v3m0 9v3m0 5v2m0 4v3m0 2v2m0 3v6m0 8v3m0 87v1m0 6v2m0 2v1m0 3v2M737.5 792v4m0 2v3m0 2v9m0 7v2m0 1v6m0 3v3m0 2v5m0 6v1m0 1v3m0 2v1m0 40v2m0 9v3m0 1v1m0 31v1m0 2v2m0 1v3M738.5 795v1m0 4v3m0 1v2m0 3v2m0 7v3m0 5v3m0 3v1m0 4v7m0 77v2m0 7v2m0 5v1m0 4v4m0 3v2M739.5 798v2m0 6v1m0 7v7m0 1v2m0 2v2m0 7v1m0 3v3m0 7v5m0 73v1m0 14v2m0 5v3M740.5 797v3m0 9v1m0 1v8m0 5v8m0 6v4m0 2v2m0 6v2m0 44v1m0 36v2m0 4v3m0 12v2M741.5 796v2m0 1v2m0 24v7m0 7v1m0 4v3m0 8v2M742.5 787v1m0 9v2m0 5v3m0 6v7m0 1v1m0 5v2m0 4v1m0 4v2m0 3v2m0 2v3m0 1v2m0 82v1m0 1v3m0 6v1M743.5 789v1m0 14v2m0 13v4m0 12v2m0 11v1m0 4v1M744.5 797v4m0 2v2m0 2v3m0 4v2m0 4v2m0 4v1m0 4v9m0 15v1m0 56v2m0 30v3m0 4v3M745.5 786v1m0 6v1m0 6v3m0 2v10m0 2v2m0 6v2m0 1v4m0 2v1m0 4v4m0 1v4m0 3v5m0 1v2m0 79v3M746.5 791v4m0 8v1m0 4v2m0 9v7m0 5v3m0 3v10m0 10v1m0 90v2M747.5 808v3m0 11v3m0 2v7m0 3v5m0 4v2m0 104v1M748.5 786v1m0 3v4m0 8v1m0 10v1m0 7v2m0 9v1m0 2v5m0 6v2m0 2v1m0 100v2M749.5 795v1m0 5v1m0 2v3m0 1v1m0 9v3m0 1v4m0 2v3m0 3v2m0 5v2m0 1v4m0 2v4M750.5 795v3m0 6v4m0 7v1m0 3v6m0 4v2m0 6v5m0 4v11M751.5 818v3m0 4v6m0 6v1m0 7v2m0 11v1M752.5 787v6m0 1v1m0 3v4m0 3v3m0 2v3m0 5v1m0 3v8m0 1v6m0 1v3m0 15v1m0 97v2M753.5 801v3m0 4v2m0 1v3m0 9v6m0 1v4m0 9v4m0 2v2m0 3v2M754.5 787v1m0 8v5m0 8v1m0 2v4m0 4v3m0 1v3m0 7v3m0 3v6M755.5 793v3m0 6v1m0 4v2m0 2v9m0 3v2m0 5v5m0 3v2m0 6v4M756.5 788v1m0 16v6m0 2v3m0 1v3m0 2v1m0 5v6m0 1v2m0 3v1m0 3v1m0 4v5M757.5 794v2m0 2v2m0 5v13m0 2v3m0 3v2m0 8v2m0 1v1m0 1v3m0 4v5M758.5 806v6m0 2v2m0 2v2m0 4v2m0 9v4m0 6v1m0 2v1M759.5 801v5m0 3v2m0 2v3m0 7v1m0 2v4m0 7v3m0 9v3M760.5 794v3m0 3v1m0 1v9m0 1v10m0 3v3m0 11v6m0 1v4m0 4v2M761.5 807v1m0 17v2m0 11v2m0 2v4m0 2v1m0 3v3M762.5 800v1m0 2v5m0 1v6m0 6v2m0 3v2m0 2v2m0 3v1m0 4v3m0 1v8M763.5 792v2m0 2v4m0 9v2m0 11v1M764.5 791v1m0 9v3m0 13v2m0 4v2m0 1v1m0 4v2m0 3v2m0 4v3m0 3v2M765.5 789v3m0 1v5m0 13v3m0 2v3m0 2v3m0 2v1m0 4v2m0 4v3m0 3v4M766.5 792v5m0 3v8m0 3v8m0 3v3m0 2v4m0 5v7M767.5 787v4m0 9v4m0 2v3m0 2v4m0 4v1m0 6v3m0 4v2m0 8v2m0 4v3M768.5 791v2m0 4v2m0 2v7m0 3v5m0 5v2m0 5v1m0 3v1m0 5v2m0 3v6m0 3v3M769.5 791v1m0 7v7m0 2v2m0 9v1m0 5v3m0 2v2m0 4v4m0 1v1m0 9v5m0 12v1M770.5 792v4m0 3v1m0 1v3m0 1v2m0 1v5m0 3v3m0 1v10m0 3v1m0 2v7m0 11v2m0 2v2M771.5 799v1m0 20v4m0 4v3m0 3v2m0 3v2m0 8v3M772.5 788v2m0 5v2m0 3v1m0 10v1m0 11v2m0 3v3m0 2v3m0 2v1m0 7v5M773.5 791v3m0 3v3m0 3v5m0 3v2m0 2v2m0 4v2m0 2v2m0 3v3m0 1v2m0 5v2m0 13v1M774.5 788v6m0 2v2m0 20v3m0 2v1m0 13v2m0 2v6m0 3v1M775.5 791v2m0 2v2m0 6v2m0 2v2m0 9v1m0 4v2m0 1v1m0 5v2m0 5v2m0 2v3m0 3v3M776.5 793v3m0 9v1m0 9v2m0 6v3m0 2v2m0 6v3m0 5v2M777.5 758v2m0 33v1m0 11v1m0 2v2m0 4v3m0 2v3m0 4v6m0 9v7M778.5 798v2m0 21v2m0 21v3m0 5v1M779.5 796v2m0 12v1m0 3v3m0 2v4m0 2v1m0 1v5m0 8v2m0 3v4M780.5 788v1m0 14v1m0 2v1m0 12v2m0 3v2m0 8v3m0 1v4m0 3v1M781.5 770v1m0 2v1m0 5v2m0 10v1m0 2v1m0 3v1m0 4v2m0 2v5m0 5v3m0 2v1m0 1v2m0 2v1m0 7v3m0 2v1m0 4v7M782.5 782v2m0 18v2m0 14v1m0 7v1m0 3v7m0 3v2m0 6v2M783.5 774v1m0 17v3m0 6v5m0 4v3m0 3v1m0 3v2m0 11v2m0 16v3M784.5 783v2m0 5v5m0 2v2m0 4v3m0 9v2m0 3v2m0 9v2m0 9v5m0 3v5M785.5 758v1m0 9v1m0 3v1m0 3v2m0 7v1m0 4v5m0 7v4m0 9v1m0 2v5m0 4v6m0 4v3m0 5v3m0 6v3M786.5 769v2m0 5v2m0 13v1m0 2v1m0 1v2m0 4v5m0 2v7m0 3v3m0 6v2m0 14v4m0 2v2M787.5 770v5m0 6v2m0 8v1m0 8v2m0 3v3m0 4v4m0 6v1m0 6v1m0 4v2m0 2v2m0 1v1M788.5 758v1m0 10v2m0 1v2m0 3v4m0 3v1m0 7v3m0 2v2m0 5v2m0 4v1m0 13v4m0 12v5m0 2v1m0 5v2M789.5 758v2m0 3v1m0 3v2m0 3v2m0 3v2m0 3v2m0 15v2m0 5v2m0 2v1m0 11v1m0 11v2m0 4v7m0 2v6m0 2v2M790.5 758v8m0 2v5m0 5v2m0 2v7m0 2v4m0 4v7m0 1v2m0 1v4m0 2v1m0 3v4m0 1v5m0 2v2m0 2v2m0 1v2m0 2v10m0 4v2M791.5 759v9m0 1v2m0 2v5m0 2v1m0 3v3m0 1v1m0 4v4m0 3v2m0 3v7m0 4v6m0 3v1m0 4v4m0 1v4m0 1v2m0 2v5m0 2v3M792.5 772v2m0 2v2m0 11v1m0 5v3m0 7v1m0 29v2m0 3v4M793.5 758v1m0 29v4m0 5v1m0 2v1m0 4v1m0 3v2m0 2v1m0 1v3m0 7v2m0 4v1m0 1v4m0 3v1m0 8v2M794.5 758v3m0 2v1m0 6v5m0 9v4m0 2v1m0 2v1m0 1v2m0 3v1m0 10v3m0 11v3m0 3v1m0 3v1m0 2v3m0 1v4m0 4v2m0 8v2M795.5 759v3m0 5v3m0 1v1m0 8v2m0 2v4m0 2v1m0 3v11m0 2v2m0 3v2m0 12v5m0 2v11m0 4v1m0 4v1M796.5 759v7m0 4v4m0 1v3m0 3v1m0 3v1m0 3v11m0 2v13m0 4v4m0 1v7m0 2v1m0 1v4m0 1v12m0 1v1M797.5 760v3m0 3v1m0 4v1m0 3v6m0 1v3m0 7v4m0 4v3m0 10v5m0 3v1m0 2v1m0 6v3m0 1v3m0 3v1m0 6v1m0 7v3m0 4v1m0 24v4M798.5 758v6m0 9v1m0 3v8m0 1v1m0 3v1m0 12v5m0 3v8m0 4v1m0 7v1m0 2v6m0 4v2m0 2v5m0 22v1m0 49v1M799.5 758v1m0 5v1m0 14v9m0 5v3m0 12v4m0 5v2m0 12v3m0 2v2m0 7v1m0 3v3m0 44v1m0 38v1m0 3v1M800.5 759v1m0 3v2m0 8v4m0 2v1m0 3v2m0 6v1m0 19v4m0 2v1m0 6v1m0 1v3m0 2v1m0 3v2m0 3v1m0 5v2m0 8v1m0 30v1m0 16v1M801.5 758v8m0 1v1m0 7v1m0 1v2m0 3v2m0 6v3m0 3v5m0 2v1m0 3v2m0 6v5m0 1v1m0 6v5m0 10v2m0 1v1m0 3v2m0 3v2m0 54v1m0 5v1m0 3v1m0 35v1m0 8v9M802.5 764v7m0 2v4m0 3v1m0 1v6m0 6v4m0 6v1m0 2v4m0 6v7m0 2v10m0 10v2m0 46v2m0 8v2m0 6v2m0 4v2m0 6v1m0 9v2m0 30v2M803.5 758v5m0 7v5m0 4v2m0 5v7m0 6v2m0 1v4m0 3v4m0 7v1m0 23v3m0 1v1m0 1v4m0 6v2m0 2v2m0 16v1m0 3v1m0 21v1m0 4v1m0 12v3m0 9v1m0 6v4m0 3v1m0 3v3m0 6v4m0 11v3M804.5 770v1m0 8v4m0 2v1m0 10v1m0 9v3m0 2v3m0 1v11m0 4v2m0 7v2m0 2v2m0 14v2m0 29v2m0 7v1m0 7v2m0 15v1m0 1v3m0 35v1m0 2v2M805.5 758v2m0 17v3m0 6v8m0 3v1m0 11v3m0 6v2m0 5v2m0 3v2m0 6v3m0 18v2m0 65v1m0 34v2m0 9v1m0 6v1M806.5 767v2m0 7v6m0 4v2m0 7v2m0 4v1m0 6v1m0 4v1m0 2v2m0 2v4m0 8v1m0 2v1m0 2v1m0 3v3m0 2v1m0 27v4m0 1v1m0 10v1m0 6v2m0 11v1m0 7v1m0 16v1m0 20v1m0 13v1m0 10v1M807.5 758v1m0 3v2m0 3v2m0 10v2m0 5v1m0 3v1m0 3v4m0 3v3m0 1v2m0 2v4m0 4v3m0 7v1m0 7v4m0 9v1m0 10v5m0 6v1m0 8v2m0 17v1m0 4v1m0 2v2m0 19v2m0 3v1m0 1v3m0 3v1m0 14v3m0 4v1m0 11v1M808.5 758v7m0 5v4m0 8v6m0 3v10m0 1v1m0 3v3m0 1v9m0 5v5m0 1v2m0 1v3m0 3v9m0 3v1m0 13v1m0 5v3m0 1v3m0 1v2m0 2v2m0 7v2m0 6v3m0 11v5m0 6v5m0 8v2m0 4v4m0 2v2m0 12v2m0 1v2m0 3v3m0 1v1M809.5 758v1m0 6v1m0 1v2m0 1v2m0 14v3m0 4v3m0 3v2m0 3v2m0 2v4m0 6v5m0 6v2m0 3v3m0 3v1m0 3v1m0 2v2m0 6v3m0 28v2m0 31v2m0 2v2m0 6v3m0 1v3m0 6v4m0 1v1m0 9v2m0 2v3m0 4v2m0 4v1M810.5 758v1m0 9v3m0 5v2m0 1v4m0 15v4m0 3v2m0 3v1m0 7v1m0 9v2m0 4v3m0 16v1m0 2v2m0 6v1m0 8v1m0 7v3m0 11v2m0 22v6m0 4v2m0 7v2m0 11v1m0 2v7m0 8v4M811.5 758v2m0 1v2m0 9v1m0 3v1m0 2v3m0 4v3m0 5v1m0 10v2m0 3v5m0 6v4m0 10v3m0 4v1m0 12v1m0 8v11m0 1v1m0 19v2m0 1v1m0 2v1m0 13v5m0 1v4m0 2v1m0 11v1m0 3v1m0 23v4m0 6v2M812.5 758v2m0 2v3m0 1v15m0 3v4m0 26v4m0 9v8m0 6v5m0 2v9m0 4v7m0 1v2m0 12v1m0 16v4m0 5v3m0 27v5m0 8v2m0 10v2m0 9v3M813.5 758v2m0 65v3m0 1v2m0 8v2m0 7v3m0 7v1m0 4v1m0 14v1m0 22v3m0 5v2m0 10v1m0 5v1m0 19v2m0 6v2m0 3v2M814.5 766v3m0 64v1m0 1v2m0 8v2m0 34v1m0 6v1m0 6v1m0 5v1m0 4v5m0 6v2m0 3v2m0 5v1m0 4v2m0 26v2m0 2v1m0 3v1m0 8v1M815.5 762v1m0 84v2m0 6v2m0 7v1m0 8v1m0 13v1m0 7v1m0 14v4m0 3v2m0 13v6m0 5v2m0 4v1m0 9v4m0 5v1m0 6v2M816.5 855v10m0 5v1m0 1v3m0 3v7m0 3v2m0 3v1m0 3v3m0 2v3m0 2v2m0 3v21m0 15v2m0 2v4m0 1v4m0 3v1m0 5v4m0 2v3M817.5 860v1m0 8v1m0 9v3m0 5v2m0 3v1m0 7v3m0 2v1m0 18v4m0 5v3m0 24v8m0 3v1m0 1v1M818.5 853v2m0 3v2m0 4v1m0 7v4m0 2v1m0 6v4m0 3v3m0 5v2m0 12v4m0 1v5m0 4v2m0 21v2m0 5v2m0 12v3M819.5 851v2m0 4v2m0 14v3m0 10v2m0 15v1m0 32v2m0 2v1M820.5 882v2m0 6v1m0 5v1m0 7v3m0 32v2m0 15v2m0 10v1M821.5 852v7m0 3v1m0 3v1m0 1v3m0 49v1m0 2v4m0 4v2m0 9v6m0 2v3m0 2v3m0 4v1M822.5 854v1m0 13v3m0 3v2m0 8v1m0 2v2m0 3v2m0 1v2m0 20v2m0 19v7m0 17v4M823.5 864v3m0 4v4m0 13v2m0 8v1m0 11v1m0 5v1m0 3v4m0 2v2m0 3v1m0 18v3m0 18v1M824.5 856v1m0 15v3m0 2v2m0 9v4m0 1v3m0 7v2m0 3v2m0 5v6m0 4v3m0 10v2m0 4v2m0 2v3m0 2v2m0 4v5m0 3v1M825.5 860v5m0 5v5m0 5v4m0 14v1m0 3v4m0 2v2m0 6v6m0 1v1m0 11v3m0 2v2m0 7v2m0 3v4m0 14v4M826.5 858v1m0 1v3m0 23v2m0 5v1m0 17v1m0 3v1m0 10v7m0 7v2m0 4v1m0 2v3m0 4v1m0 4v2m0 7v2M827.5 874v2m0 7v2m0 22v2m0 27v2m0 25v2m0 5v2M828.5 861v1m0 21v1m0 26v5m0 12v1m0 6v2m0 19v1m0 8v1M829.5 863v2m0 3v3m0 21v1m0 3v1m0 3v5m0 2v2m0 6v5m0 1v2m0 2v1m0 6v3m0 8v7m0 6v1M830.5 872v2m0 9v4m0 7v1m0 4v3m0 1v2m0 3v3m0 7v3m0 2v3m0 18v9m0 3v4m0 1v2M831.5 881v2m0 1v3m0 31v2m0 14v3m0 17v1m0 7v1M832.5 873v1m0 11v1m0 2v2m0 4v1m0 2v3m0 20v4m0 10v2m0 6v2m0 1v2m0 5v1M833.5 876v1m0 2v1m0 24v3m0 11v2m0 5v1m0 4v1m0 7v1m0 2v2m0 11v2M834.5 877v1m0 1v1m0 3v1m0 4v2m0 7v2m0 8v2m0 12v1m0 18v1m0 9v1M835.5 885v5m0 6v1m0 11v1m0 10v4m0 3v1m0 11v3M836.5 888v2m0 1v1m0 7v2m0 17v3m0 3v2m0 8v1m0 2v2m0 2v3M837.5 891v1m0 2v3m0 4v4m0 19v4m0 2v1m0 5v1m0 2v1m0 5v3M838.5 898v3m0 18v1m0 8v1m0 5v1"/>
<rect x="730.3" y="758.0" width="11" height="11.0" fill="url(#boxg)"/>
<rect x="719.5" y="769.0" width="11" height="11.0" fill="url(#boxg)"/>
<rect x="708.6" y="780.1" width="11" height="11.0" fill="url(#boxg)"/>
<rect x="697.8" y="791.1" width="11" height="11.0" fill="url(#boxg)"/>
<rect x="687.0" y="802.2" width="11" height="11.0" fill="url(#boxg)"/>
<rect x="676.1" y="813.2" width="11" height="11.0" fill="url(#boxg)"/>
<rect x="665.3" y="824.2" width="11" height="11.0" fill="url(#boxg)"/>
<rect x="654.5" y="835.3" width="11" height="11.0" fill="url(#boxg)"/>
<rect x="643.7" y="846.3" width="11" height="11.0" fill="url(#boxg)"/>
<rect x="632.8" y="857.4" width="11" height="11.0" fill="url(#boxg)"/>
<rect x="622.0" y="868.4" width="11" height="11.0" fill="url(#boxg)"/>
<rect x="611.2" y="879.4" width="11" height="11.0" fill="url(#boxg)"/>
<rect x="600.3" y="890.5" width="11" height="11.0" fill="url(#boxg)"/>
<rect x="589.5" y="901.5" width="11" height="11.0" fill="url(#boxg)"/>
<path fill="#fff" d="M584 758L730.3 758L730.3 769.04L719.47 769.04L719.47 780.08L708.64 780.08L708.64 791.12L697.81 791.12L697.81 802.16L686.98 802.16L686.98 813.2L676.15 813.2L676.15 824.24L665.32 824.24L665.32 835.28L654.49 835.28L654.49 846.32L643.66 846.32L643.66 857.36L632.83 857.36L632.83 868.4L622 868.4L622 879.44L611.17 879.44L611.17 890.48L600.34 890.48L600.34 901.52L589.51 901.52L589.51 912.56L584 912.56Z"/>
</svg>
<path d="M638.5 758V1036M693.5 758V1036M748.5 758V1036M802.5 758V1036M856.5 758V1036M584 814.5H911M584 869.5H911M584 925.5H911M584 980.5H911" stroke="#000" stroke-opacity=".15" stroke-width="1" fill="none"/>
<rect x="583.5" y="757.5" width="328" height="279" fill="none" stroke="#6a6a6a" stroke-width="1"/>
<text x="572.7" y="764.3" text-anchor="end" textLength="28.4" lengthAdjust="spacingAndGlyphs">500</text>
<text x="572.7" y="821.6" text-anchor="end" textLength="28.4" lengthAdjust="spacingAndGlyphs">450</text>
<text x="572.7" y="874.4" text-anchor="end" textLength="28.4" lengthAdjust="spacingAndGlyphs">400</text>
<text x="572.7" y="927.2" text-anchor="end" textLength="28.4" lengthAdjust="spacingAndGlyphs">350</text>
<text x="572.7" y="984.2" text-anchor="end" textLength="28.4" lengthAdjust="spacingAndGlyphs">300</text>
<text x="572.7" y="1041.7" text-anchor="end" textLength="28.4" lengthAdjust="spacingAndGlyphs">250</text>
<text x="569.5" y="1058.5" textLength="28.4" lengthAdjust="spacingAndGlyphs">400</text>
<text x="624" y="1058.5" textLength="28.4" lengthAdjust="spacingAndGlyphs">450</text>
<text x="678.5" y="1058.5" textLength="28.4" lengthAdjust="spacingAndGlyphs">500</text>
<text x="733" y="1058.5" textLength="28.4" lengthAdjust="spacingAndGlyphs">550</text>
<text x="787.6" y="1058.5" textLength="28.4" lengthAdjust="spacingAndGlyphs">600</text>
<text x="842.1" y="1058.5" textLength="28.4" lengthAdjust="spacingAndGlyphs">650</text>
<text x="896.6" y="1058.5" textLength="28.4" lengthAdjust="spacingAndGlyphs">700</text>
<text x="645" y="1078" textLength="206.5" lengthAdjust="spacingAndGlyphs"><tspan font-weight="bold">Emission Wavelength</tspan> (nm)</text>
<text transform="translate(531.7 1005.9) rotate(-90)" textLength="182.3" lengthAdjust="spacingAndGlyphs" font-weight="bold">Excitation Wavelength</text>
<text transform="translate(531.7 810.8) rotate(-90)" textLength="34.4" lengthAdjust="spacingAndGlyphs">(nm)</text>
<text class="lb" x="593.6" y="792.2">S3-S</text>
<text x="703.7" y="1109.9" textLength="36.5" lengthAdjust="spacingAndGlyphs" class="cp">(<tspan font-weight="bold">b3</tspan>)</text>
</svg></body></html>
